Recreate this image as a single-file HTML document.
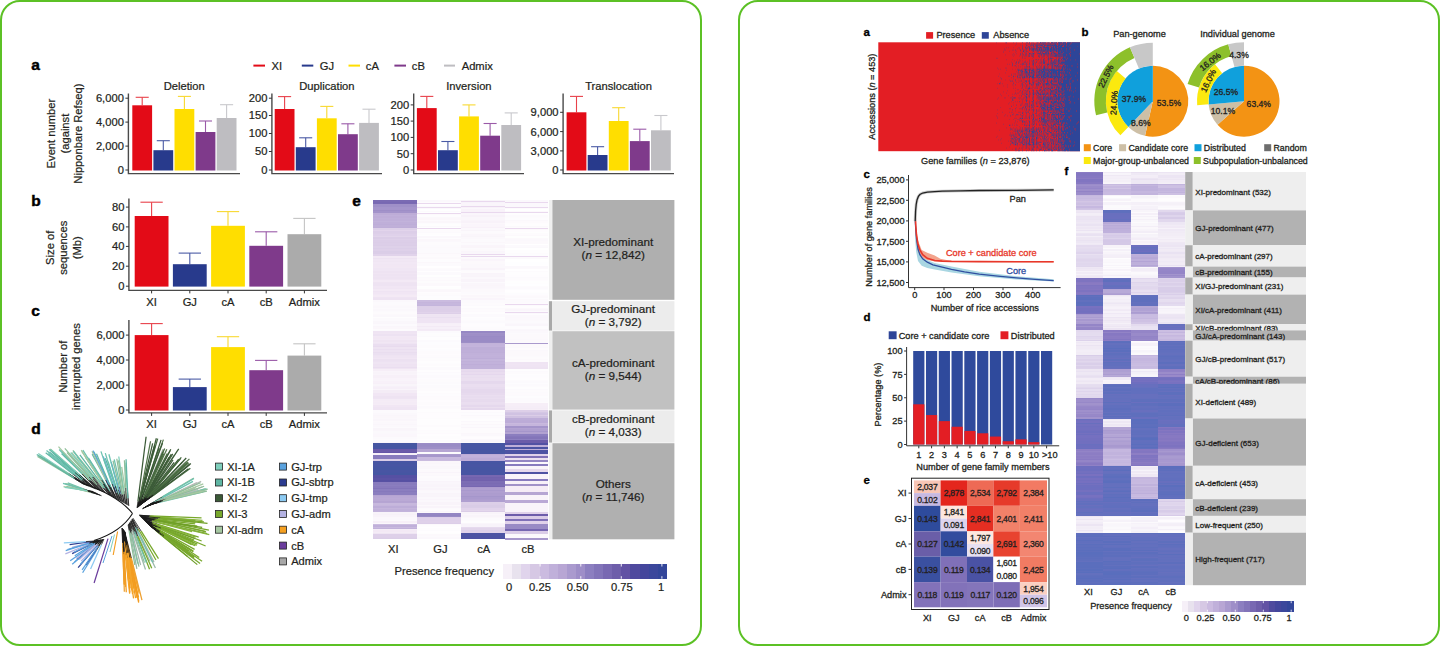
<!DOCTYPE html>
<html><head><meta charset="utf-8"><title>Figure</title>
<style>
html,body{margin:0;padding:0;background:#fff;}
body{width:1440px;height:646px;overflow:hidden;position:relative;}
.card{position:absolute;top:0;width:698px;height:642px;border:2px solid #5cc125;border-radius:20px;background:#fff;}
svg{position:absolute;left:0;top:0;}
svg text{font-family:"Liberation Sans", Arial, sans-serif;}
</style></head><body>
<div class="card" style="left:0"></div>
<div class="card" style="left:738px"></div>
<svg width="1440" height="646" viewBox="0 0 1440 646">
<text x="31.3" y="70.0" font-size="15.5" text-anchor="start" font-weight="bold" fill="#000" stroke="#000" stroke-width="0.45">a</text>
<text x="31.3" y="205.6" font-size="15.5" text-anchor="start" font-weight="bold" fill="#000" stroke="#000" stroke-width="0.45">b</text>
<text x="31.3" y="316.0" font-size="15.5" text-anchor="start" font-weight="bold" fill="#000" stroke="#000" stroke-width="0.45">c</text>
<text x="31.3" y="434.4" font-size="15.5" text-anchor="start" font-weight="bold" fill="#000" stroke="#000" stroke-width="0.45">d</text>
<text x="352.3" y="206.0" font-size="15.5" text-anchor="start" font-weight="bold" fill="#000" stroke="#000" stroke-width="0.45">e</text>
<line x1="253.40" y1="65.60" x2="265.00" y2="65.60" stroke="#e30b17" stroke-width="2"/>
<text x="271.5" y="69.6" font-size="11.2" text-anchor="start" font-weight="normal" fill="#231f20" stroke="#231f20" stroke-width="0.22">XI</text>
<line x1="301.80" y1="65.60" x2="313.30" y2="65.60" stroke="#283a8c" stroke-width="2"/>
<text x="319.8" y="69.6" font-size="11.2" text-anchor="start" font-weight="normal" fill="#231f20" stroke="#231f20" stroke-width="0.22">GJ</text>
<line x1="348.50" y1="65.60" x2="360.00" y2="65.60" stroke="#ffde00" stroke-width="2"/>
<text x="365.8" y="69.6" font-size="11.2" text-anchor="start" font-weight="normal" fill="#231f20" stroke="#231f20" stroke-width="0.22">cA</text>
<line x1="394.40" y1="65.60" x2="406.00" y2="65.60" stroke="#7f3a8b" stroke-width="2"/>
<text x="411.8" y="69.6" font-size="11.2" text-anchor="start" font-weight="normal" fill="#231f20" stroke="#231f20" stroke-width="0.22">cB</text>
<line x1="444.00" y1="65.60" x2="455.00" y2="65.60" stroke="#bebdc1" stroke-width="2"/>
<text x="461.7" y="69.6" font-size="11.2" text-anchor="start" font-weight="normal" fill="#231f20" stroke="#231f20" stroke-width="0.22">Admix</text>
<line x1="142.20" y1="105.30" x2="142.20" y2="97.30" stroke="#e8414a" stroke-width="1.1"/>
<line x1="135.67" y1="97.30" x2="148.73" y2="97.30" stroke="#e8414a" stroke-width="1.1"/>
<rect x="132.30" y="105.30" width="19.80" height="65.20" fill="#e30b17"/>
<line x1="163.30" y1="150.20" x2="163.30" y2="140.70" stroke="#4a5aa5" stroke-width="1.1"/>
<line x1="156.77" y1="140.70" x2="169.83" y2="140.70" stroke="#4a5aa5" stroke-width="1.1"/>
<rect x="153.40" y="150.20" width="19.80" height="20.30" fill="#283a8c"/>
<line x1="184.40" y1="109.00" x2="184.40" y2="96.40" stroke="#f8d830" stroke-width="1.1"/>
<line x1="177.87" y1="96.40" x2="190.93" y2="96.40" stroke="#f8d830" stroke-width="1.1"/>
<rect x="174.50" y="109.00" width="19.80" height="61.50" fill="#ffde00"/>
<line x1="205.50" y1="132.00" x2="205.50" y2="121.00" stroke="#9a5aa8" stroke-width="1.1"/>
<line x1="198.97" y1="121.00" x2="212.03" y2="121.00" stroke="#9a5aa8" stroke-width="1.1"/>
<rect x="195.60" y="132.00" width="19.80" height="38.50" fill="#7f3a8b"/>
<line x1="226.60" y1="118.00" x2="226.60" y2="104.70" stroke="#c8c8cc" stroke-width="1.1"/>
<line x1="220.07" y1="104.70" x2="233.13" y2="104.70" stroke="#c8c8cc" stroke-width="1.1"/>
<rect x="216.70" y="118.00" width="19.80" height="52.50" fill="#bebdc1"/>
<path d="M128.40 93.40V173.60H240.00" fill="none" stroke="#4a4a4a" stroke-width="1.4"/>
<line x1="125.40" y1="98.20" x2="128.40" y2="98.20" stroke="#333" stroke-width="1"/>
<text x="123.9" y="102.1" font-size="11.2" text-anchor="end" font-weight="normal" fill="#231f20" stroke="#231f20" stroke-width="0.22">6,000</text>
<line x1="125.40" y1="122.10" x2="128.40" y2="122.10" stroke="#333" stroke-width="1"/>
<text x="123.9" y="126.0" font-size="11.2" text-anchor="end" font-weight="normal" fill="#231f20" stroke="#231f20" stroke-width="0.22">4,000</text>
<line x1="125.40" y1="146.10" x2="128.40" y2="146.10" stroke="#333" stroke-width="1"/>
<text x="123.9" y="150.0" font-size="11.2" text-anchor="end" font-weight="normal" fill="#231f20" stroke="#231f20" stroke-width="0.22">2,000</text>
<line x1="125.40" y1="170.00" x2="128.40" y2="170.00" stroke="#333" stroke-width="1"/>
<text x="123.9" y="173.9" font-size="11.2" text-anchor="end" font-weight="normal" fill="#231f20" stroke="#231f20" stroke-width="0.22">0</text>
<text x="184.2" y="89.8" font-size="11.2" text-anchor="middle" font-weight="normal" fill="#231f20" stroke="#231f20" stroke-width="0.22">Deletion</text>
<line x1="284.60" y1="109.00" x2="284.60" y2="96.60" stroke="#e8414a" stroke-width="1.1"/>
<line x1="278.07" y1="96.60" x2="291.13" y2="96.60" stroke="#e8414a" stroke-width="1.1"/>
<rect x="274.70" y="109.00" width="19.80" height="61.50" fill="#e30b17"/>
<line x1="305.70" y1="147.20" x2="305.70" y2="137.80" stroke="#4a5aa5" stroke-width="1.1"/>
<line x1="299.17" y1="137.80" x2="312.23" y2="137.80" stroke="#4a5aa5" stroke-width="1.1"/>
<rect x="295.80" y="147.20" width="19.80" height="23.30" fill="#283a8c"/>
<line x1="326.80" y1="118.30" x2="326.80" y2="106.40" stroke="#f8d830" stroke-width="1.1"/>
<line x1="320.27" y1="106.40" x2="333.33" y2="106.40" stroke="#f8d830" stroke-width="1.1"/>
<rect x="316.90" y="118.30" width="19.80" height="52.20" fill="#ffde00"/>
<line x1="347.90" y1="134.20" x2="347.90" y2="123.80" stroke="#9a5aa8" stroke-width="1.1"/>
<line x1="341.37" y1="123.80" x2="354.43" y2="123.80" stroke="#9a5aa8" stroke-width="1.1"/>
<rect x="338.00" y="134.20" width="19.80" height="36.30" fill="#7f3a8b"/>
<line x1="369.00" y1="122.90" x2="369.00" y2="109.20" stroke="#c8c8cc" stroke-width="1.1"/>
<line x1="362.47" y1="109.20" x2="375.53" y2="109.20" stroke="#c8c8cc" stroke-width="1.1"/>
<rect x="359.10" y="122.90" width="19.80" height="47.60" fill="#bebdc1"/>
<path d="M271.90 93.40V173.60H382.00" fill="none" stroke="#4a4a4a" stroke-width="1.4"/>
<line x1="268.90" y1="98.20" x2="271.90" y2="98.20" stroke="#333" stroke-width="1"/>
<text x="267.4" y="102.1" font-size="11.2" text-anchor="end" font-weight="normal" fill="#231f20" stroke="#231f20" stroke-width="0.22">200</text>
<line x1="268.90" y1="115.50" x2="271.90" y2="115.50" stroke="#333" stroke-width="1"/>
<text x="267.4" y="119.4" font-size="11.2" text-anchor="end" font-weight="normal" fill="#231f20" stroke="#231f20" stroke-width="0.22">150</text>
<line x1="268.90" y1="133.50" x2="271.90" y2="133.50" stroke="#333" stroke-width="1"/>
<text x="267.4" y="137.4" font-size="11.2" text-anchor="end" font-weight="normal" fill="#231f20" stroke="#231f20" stroke-width="0.22">100</text>
<line x1="268.90" y1="151.50" x2="271.90" y2="151.50" stroke="#333" stroke-width="1"/>
<text x="267.4" y="155.4" font-size="11.2" text-anchor="end" font-weight="normal" fill="#231f20" stroke="#231f20" stroke-width="0.22">50</text>
<line x1="268.90" y1="170.00" x2="271.90" y2="170.00" stroke="#333" stroke-width="1"/>
<text x="267.4" y="173.9" font-size="11.2" text-anchor="end" font-weight="normal" fill="#231f20" stroke="#231f20" stroke-width="0.22">0</text>
<text x="326.9" y="89.8" font-size="11.2" text-anchor="middle" font-weight="normal" fill="#231f20" stroke="#231f20" stroke-width="0.22">Duplication</text>
<line x1="426.80" y1="108.10" x2="426.80" y2="96.40" stroke="#e8414a" stroke-width="1.1"/>
<line x1="420.27" y1="96.40" x2="433.33" y2="96.40" stroke="#e8414a" stroke-width="1.1"/>
<rect x="416.90" y="108.10" width="19.80" height="62.40" fill="#e30b17"/>
<line x1="447.90" y1="150.20" x2="447.90" y2="141.50" stroke="#4a5aa5" stroke-width="1.1"/>
<line x1="441.37" y1="141.50" x2="454.43" y2="141.50" stroke="#4a5aa5" stroke-width="1.1"/>
<rect x="438.00" y="150.20" width="19.80" height="20.30" fill="#283a8c"/>
<line x1="469.00" y1="116.40" x2="469.00" y2="104.90" stroke="#f8d830" stroke-width="1.1"/>
<line x1="462.47" y1="104.90" x2="475.53" y2="104.90" stroke="#f8d830" stroke-width="1.1"/>
<rect x="459.10" y="116.40" width="19.80" height="54.10" fill="#ffde00"/>
<line x1="490.10" y1="135.70" x2="490.10" y2="123.50" stroke="#9a5aa8" stroke-width="1.1"/>
<line x1="483.57" y1="123.50" x2="496.63" y2="123.50" stroke="#9a5aa8" stroke-width="1.1"/>
<rect x="480.20" y="135.70" width="19.80" height="34.80" fill="#7f3a8b"/>
<line x1="511.20" y1="125.00" x2="511.20" y2="112.90" stroke="#c8c8cc" stroke-width="1.1"/>
<line x1="504.67" y1="112.90" x2="517.73" y2="112.90" stroke="#c8c8cc" stroke-width="1.1"/>
<rect x="501.30" y="125.00" width="19.80" height="45.50" fill="#bebdc1"/>
<path d="M413.70 93.40V173.60H524.00" fill="none" stroke="#4a4a4a" stroke-width="1.4"/>
<line x1="410.70" y1="104.90" x2="413.70" y2="104.90" stroke="#333" stroke-width="1"/>
<text x="409.2" y="108.8" font-size="11.2" text-anchor="end" font-weight="normal" fill="#231f20" stroke="#231f20" stroke-width="0.22">200</text>
<line x1="410.70" y1="121.10" x2="413.70" y2="121.10" stroke="#333" stroke-width="1"/>
<text x="409.2" y="125.0" font-size="11.2" text-anchor="end" font-weight="normal" fill="#231f20" stroke="#231f20" stroke-width="0.22">150</text>
<line x1="410.70" y1="137.40" x2="413.70" y2="137.40" stroke="#333" stroke-width="1"/>
<text x="409.2" y="141.3" font-size="11.2" text-anchor="end" font-weight="normal" fill="#231f20" stroke="#231f20" stroke-width="0.22">100</text>
<line x1="410.70" y1="153.70" x2="413.70" y2="153.70" stroke="#333" stroke-width="1"/>
<text x="409.2" y="157.6" font-size="11.2" text-anchor="end" font-weight="normal" fill="#231f20" stroke="#231f20" stroke-width="0.22">50</text>
<line x1="410.70" y1="170.00" x2="413.70" y2="170.00" stroke="#333" stroke-width="1"/>
<text x="409.2" y="173.9" font-size="11.2" text-anchor="end" font-weight="normal" fill="#231f20" stroke="#231f20" stroke-width="0.22">0</text>
<text x="468.9" y="89.8" font-size="11.2" text-anchor="middle" font-weight="normal" fill="#231f20" stroke="#231f20" stroke-width="0.22">Inversion</text>
<line x1="576.50" y1="112.30" x2="576.50" y2="96.40" stroke="#e8414a" stroke-width="1.1"/>
<line x1="569.97" y1="96.40" x2="583.03" y2="96.40" stroke="#e8414a" stroke-width="1.1"/>
<rect x="566.60" y="112.30" width="19.80" height="58.20" fill="#e30b17"/>
<line x1="597.60" y1="155.00" x2="597.60" y2="146.70" stroke="#4a5aa5" stroke-width="1.1"/>
<line x1="591.07" y1="146.70" x2="604.13" y2="146.70" stroke="#4a5aa5" stroke-width="1.1"/>
<rect x="587.70" y="155.00" width="19.80" height="15.50" fill="#283a8c"/>
<line x1="618.70" y1="121.00" x2="618.70" y2="107.70" stroke="#f8d830" stroke-width="1.1"/>
<line x1="612.17" y1="107.70" x2="625.23" y2="107.70" stroke="#f8d830" stroke-width="1.1"/>
<rect x="608.80" y="121.00" width="19.80" height="49.50" fill="#ffde00"/>
<line x1="639.80" y1="141.10" x2="639.80" y2="129.20" stroke="#9a5aa8" stroke-width="1.1"/>
<line x1="633.27" y1="129.20" x2="646.33" y2="129.20" stroke="#9a5aa8" stroke-width="1.1"/>
<rect x="629.90" y="141.10" width="19.80" height="29.40" fill="#7f3a8b"/>
<line x1="660.90" y1="130.30" x2="660.90" y2="115.50" stroke="#c8c8cc" stroke-width="1.1"/>
<line x1="654.37" y1="115.50" x2="667.43" y2="115.50" stroke="#c8c8cc" stroke-width="1.1"/>
<rect x="651.00" y="130.30" width="19.80" height="40.20" fill="#bebdc1"/>
<path d="M563.10 93.40V173.60H674.00" fill="none" stroke="#4a4a4a" stroke-width="1.4"/>
<line x1="560.10" y1="112.30" x2="563.10" y2="112.30" stroke="#333" stroke-width="1"/>
<text x="558.6" y="116.2" font-size="11.2" text-anchor="end" font-weight="normal" fill="#231f20" stroke="#231f20" stroke-width="0.22">9,000</text>
<line x1="560.10" y1="131.60" x2="563.10" y2="131.60" stroke="#333" stroke-width="1"/>
<text x="558.6" y="135.5" font-size="11.2" text-anchor="end" font-weight="normal" fill="#231f20" stroke="#231f20" stroke-width="0.22">6,000</text>
<line x1="560.10" y1="150.90" x2="563.10" y2="150.90" stroke="#333" stroke-width="1"/>
<text x="558.6" y="154.8" font-size="11.2" text-anchor="end" font-weight="normal" fill="#231f20" stroke="#231f20" stroke-width="0.22">3,000</text>
<line x1="560.10" y1="170.00" x2="563.10" y2="170.00" stroke="#333" stroke-width="1"/>
<text x="558.6" y="173.9" font-size="11.2" text-anchor="end" font-weight="normal" fill="#231f20" stroke="#231f20" stroke-width="0.22">0</text>
<text x="618.5" y="89.8" font-size="11.2" text-anchor="middle" font-weight="normal" fill="#231f20" stroke="#231f20" stroke-width="0.22">Translocation</text>
<text transform="translate(55.2,133.6) rotate(-90)" font-size="11.2" text-anchor="middle" fill="#231f20" stroke="#231f20" stroke-width="0.22">Event number</text>
<text transform="translate(68.8,133.6) rotate(-90)" font-size="11.2" text-anchor="middle" fill="#231f20" stroke="#231f20" stroke-width="0.22">(against</text>
<text transform="translate(82.4,133.6) rotate(-90)" font-size="11.2" text-anchor="middle" fill="#231f20" stroke="#231f20" stroke-width="0.22">Nipponbare Refseq)</text>
<line x1="151.60" y1="216.00" x2="151.60" y2="202.20" stroke="#e8414a" stroke-width="1.1"/>
<line x1="140.45" y1="202.20" x2="162.75" y2="202.20" stroke="#e8414a" stroke-width="1.1"/>
<rect x="134.70" y="216.00" width="33.80" height="70.60" fill="#e30b17"/>
<line x1="189.80" y1="264.20" x2="189.80" y2="253.10" stroke="#4a5aa5" stroke-width="1.1"/>
<line x1="178.65" y1="253.10" x2="200.95" y2="253.10" stroke="#4a5aa5" stroke-width="1.1"/>
<rect x="172.90" y="264.20" width="33.80" height="22.40" fill="#283a8c"/>
<line x1="228.00" y1="225.80" x2="228.00" y2="211.60" stroke="#f8d830" stroke-width="1.1"/>
<line x1="216.85" y1="211.60" x2="239.15" y2="211.60" stroke="#f8d830" stroke-width="1.1"/>
<rect x="211.10" y="225.80" width="33.80" height="60.80" fill="#ffde00"/>
<line x1="266.20" y1="245.80" x2="266.20" y2="231.80" stroke="#9a5aa8" stroke-width="1.1"/>
<line x1="255.05" y1="231.80" x2="277.35" y2="231.80" stroke="#9a5aa8" stroke-width="1.1"/>
<rect x="249.30" y="245.80" width="33.80" height="40.80" fill="#7f3a8b"/>
<line x1="304.40" y1="234.20" x2="304.40" y2="218.40" stroke="#c4c4c4" stroke-width="1.1"/>
<line x1="293.25" y1="218.40" x2="315.55" y2="218.40" stroke="#c4c4c4" stroke-width="1.1"/>
<rect x="287.50" y="234.20" width="33.80" height="52.40" fill="#ababab"/>
<path d="M128.90 198.40V290.40H327.00" fill="none" stroke="#4a4a4a" stroke-width="1.4"/>
<line x1="125.90" y1="207.10" x2="128.90" y2="207.10" stroke="#333" stroke-width="1"/>
<text x="124.4" y="211.0" font-size="11.2" text-anchor="end" font-weight="normal" fill="#231f20" stroke="#231f20" stroke-width="0.22">80</text>
<line x1="125.90" y1="226.90" x2="128.90" y2="226.90" stroke="#333" stroke-width="1"/>
<text x="124.4" y="230.8" font-size="11.2" text-anchor="end" font-weight="normal" fill="#231f20" stroke="#231f20" stroke-width="0.22">60</text>
<line x1="125.90" y1="246.40" x2="128.90" y2="246.40" stroke="#333" stroke-width="1"/>
<text x="124.4" y="250.3" font-size="11.2" text-anchor="end" font-weight="normal" fill="#231f20" stroke="#231f20" stroke-width="0.22">40</text>
<line x1="125.90" y1="266.20" x2="128.90" y2="266.20" stroke="#333" stroke-width="1"/>
<text x="124.4" y="270.1" font-size="11.2" text-anchor="end" font-weight="normal" fill="#231f20" stroke="#231f20" stroke-width="0.22">20</text>
<line x1="125.90" y1="286.20" x2="128.90" y2="286.20" stroke="#333" stroke-width="1"/>
<text x="124.4" y="290.1" font-size="11.2" text-anchor="end" font-weight="normal" fill="#231f20" stroke="#231f20" stroke-width="0.22">0</text>
<line x1="151.60" y1="290.40" x2="151.60" y2="293.40" stroke="#333" stroke-width="1"/>
<text x="151.6" y="305.6" font-size="11.2" text-anchor="middle" font-weight="normal" fill="#231f20" stroke="#231f20" stroke-width="0.22">XI</text>
<line x1="189.80" y1="290.40" x2="189.80" y2="293.40" stroke="#333" stroke-width="1"/>
<text x="189.8" y="305.6" font-size="11.2" text-anchor="middle" font-weight="normal" fill="#231f20" stroke="#231f20" stroke-width="0.22">GJ</text>
<line x1="228.00" y1="290.40" x2="228.00" y2="293.40" stroke="#333" stroke-width="1"/>
<text x="228.0" y="305.6" font-size="11.2" text-anchor="middle" font-weight="normal" fill="#231f20" stroke="#231f20" stroke-width="0.22">cA</text>
<line x1="266.20" y1="290.40" x2="266.20" y2="293.40" stroke="#333" stroke-width="1"/>
<text x="266.2" y="305.6" font-size="11.2" text-anchor="middle" font-weight="normal" fill="#231f20" stroke="#231f20" stroke-width="0.22">cB</text>
<line x1="304.40" y1="290.40" x2="304.40" y2="293.40" stroke="#333" stroke-width="1"/>
<text x="304.4" y="305.6" font-size="11.2" text-anchor="middle" font-weight="normal" fill="#231f20" stroke="#231f20" stroke-width="0.22">Admix</text>
<text transform="translate(53.8,247.8) rotate(-90)" font-size="11.2" text-anchor="middle" fill="#231f20" stroke="#231f20" stroke-width="0.22">Size of</text>
<text transform="translate(67.4,247.8) rotate(-90)" font-size="11.2" text-anchor="middle" fill="#231f20" stroke="#231f20" stroke-width="0.22">sequences</text>
<text transform="translate(81.0,247.8) rotate(-90)" font-size="11.2" text-anchor="middle" fill="#231f20" stroke="#231f20" stroke-width="0.22">(Mb)</text>
<line x1="151.60" y1="335.10" x2="151.60" y2="323.60" stroke="#e8414a" stroke-width="1.1"/>
<line x1="140.45" y1="323.60" x2="162.75" y2="323.60" stroke="#e8414a" stroke-width="1.1"/>
<rect x="134.70" y="335.10" width="33.80" height="75.40" fill="#e30b17"/>
<line x1="189.80" y1="387.10" x2="189.80" y2="379.10" stroke="#4a5aa5" stroke-width="1.1"/>
<line x1="178.65" y1="379.10" x2="200.95" y2="379.10" stroke="#4a5aa5" stroke-width="1.1"/>
<rect x="172.90" y="387.10" width="33.80" height="23.40" fill="#283a8c"/>
<line x1="228.00" y1="347.10" x2="228.00" y2="336.70" stroke="#f8d830" stroke-width="1.1"/>
<line x1="216.85" y1="336.70" x2="239.15" y2="336.70" stroke="#f8d830" stroke-width="1.1"/>
<rect x="211.10" y="347.10" width="33.80" height="63.40" fill="#ffde00"/>
<line x1="266.20" y1="370.20" x2="266.20" y2="360.40" stroke="#9a5aa8" stroke-width="1.1"/>
<line x1="255.05" y1="360.40" x2="277.35" y2="360.40" stroke="#9a5aa8" stroke-width="1.1"/>
<rect x="249.30" y="370.20" width="33.80" height="40.30" fill="#7f3a8b"/>
<line x1="304.40" y1="355.60" x2="304.40" y2="343.80" stroke="#c4c4c4" stroke-width="1.1"/>
<line x1="293.25" y1="343.80" x2="315.55" y2="343.80" stroke="#c4c4c4" stroke-width="1.1"/>
<rect x="287.50" y="355.60" width="33.80" height="54.90" fill="#ababab"/>
<path d="M128.90 320.00V412.90H327.00" fill="none" stroke="#4a4a4a" stroke-width="1.4"/>
<line x1="125.90" y1="335.10" x2="128.90" y2="335.10" stroke="#333" stroke-width="1"/>
<text x="124.4" y="339.0" font-size="11.2" text-anchor="end" font-weight="normal" fill="#231f20" stroke="#231f20" stroke-width="0.22">6,000</text>
<line x1="125.90" y1="360.00" x2="128.90" y2="360.00" stroke="#333" stroke-width="1"/>
<text x="124.4" y="363.9" font-size="11.2" text-anchor="end" font-weight="normal" fill="#231f20" stroke="#231f20" stroke-width="0.22">4,000</text>
<line x1="125.90" y1="385.10" x2="128.90" y2="385.10" stroke="#333" stroke-width="1"/>
<text x="124.4" y="389.0" font-size="11.2" text-anchor="end" font-weight="normal" fill="#231f20" stroke="#231f20" stroke-width="0.22">2,000</text>
<line x1="125.90" y1="410.00" x2="128.90" y2="410.00" stroke="#333" stroke-width="1"/>
<text x="124.4" y="413.9" font-size="11.2" text-anchor="end" font-weight="normal" fill="#231f20" stroke="#231f20" stroke-width="0.22">0</text>
<line x1="151.60" y1="412.90" x2="151.60" y2="415.90" stroke="#333" stroke-width="1"/>
<text x="151.6" y="428.4" font-size="11.2" text-anchor="middle" font-weight="normal" fill="#231f20" stroke="#231f20" stroke-width="0.22">XI</text>
<line x1="189.80" y1="412.90" x2="189.80" y2="415.90" stroke="#333" stroke-width="1"/>
<text x="189.8" y="428.4" font-size="11.2" text-anchor="middle" font-weight="normal" fill="#231f20" stroke="#231f20" stroke-width="0.22">GJ</text>
<line x1="228.00" y1="412.90" x2="228.00" y2="415.90" stroke="#333" stroke-width="1"/>
<text x="228.0" y="428.4" font-size="11.2" text-anchor="middle" font-weight="normal" fill="#231f20" stroke="#231f20" stroke-width="0.22">cA</text>
<line x1="266.20" y1="412.90" x2="266.20" y2="415.90" stroke="#333" stroke-width="1"/>
<text x="266.2" y="428.4" font-size="11.2" text-anchor="middle" font-weight="normal" fill="#231f20" stroke="#231f20" stroke-width="0.22">cB</text>
<line x1="304.40" y1="412.90" x2="304.40" y2="415.90" stroke="#333" stroke-width="1"/>
<text x="304.4" y="428.4" font-size="11.2" text-anchor="middle" font-weight="normal" fill="#231f20" stroke="#231f20" stroke-width="0.22">Admix</text>
<text transform="translate(66.6,366.7) rotate(-90)" font-size="11.2" text-anchor="middle" fill="#231f20" stroke="#231f20" stroke-width="0.22">Number of</text>
<text transform="translate(80.2,366.7) rotate(-90)" font-size="11.2" text-anchor="middle" fill="#231f20" stroke="#231f20" stroke-width="0.22">interrupted genes</text>
<path d="M132.5 513.5 Q119 496 82 483" fill="none" stroke="#111" stroke-width="1.1"/>
<path d="M132.5 513.5 Q121 532 94 540.5" fill="none" stroke="#111" stroke-width="1.1"/>
<line x1="128.82" y1="505.90" x2="127.47" y2="490.82" stroke="#1a1a1a" stroke-width="0.8"/>
<line x1="127.47" y1="490.82" x2="124.93" y2="462.47" stroke="#7fcfbc" stroke-width="1.25"/>
<line x1="128.25" y1="505.57" x2="127.90" y2="498.19" stroke="#1a1a1a" stroke-width="0.8"/>
<line x1="127.90" y1="498.19" x2="126.06" y2="459.17" stroke="#5fb6a4" stroke-width="1.25"/>
<line x1="127.36" y1="505.06" x2="126.43" y2="498.78" stroke="#1a1a1a" stroke-width="0.8"/>
<line x1="126.43" y1="498.78" x2="121.70" y2="466.79" stroke="#a6c8a2" stroke-width="1.25"/>
<line x1="126.58" y1="504.62" x2="125.77" y2="487.86" stroke="#1a1a1a" stroke-width="0.8"/>
<line x1="125.77" y1="487.86" x2="124.42" y2="460.21" stroke="#8fbf9a" stroke-width="1.25"/>
<line x1="125.88" y1="504.22" x2="123.86" y2="490.68" stroke="#1a1a1a" stroke-width="0.8"/>
<line x1="123.86" y1="490.68" x2="118.76" y2="456.49" stroke="#7fcfbc" stroke-width="1.25"/>
<line x1="125.43" y1="503.96" x2="123.86" y2="494.20" stroke="#1a1a1a" stroke-width="0.8"/>
<line x1="123.86" y1="494.20" x2="118.44" y2="460.41" stroke="#8fbf9a" stroke-width="1.25"/>
<line x1="124.34" y1="503.34" x2="122.37" y2="494.78" stroke="#1a1a1a" stroke-width="0.8"/>
<line x1="122.37" y1="494.78" x2="114.23" y2="459.46" stroke="#6cc2b0" stroke-width="1.25"/>
<line x1="124.05" y1="503.17" x2="122.60" y2="494.31" stroke="#1a1a1a" stroke-width="0.8"/>
<line x1="122.60" y1="494.31" x2="116.80" y2="458.75" stroke="#8fbf9a" stroke-width="1.25"/>
<line x1="123.02" y1="502.58" x2="119.32" y2="487.04" stroke="#1a1a1a" stroke-width="0.8"/>
<line x1="119.32" y1="487.04" x2="113.05" y2="460.76" stroke="#8fbf9a" stroke-width="1.25"/>
<line x1="122.50" y1="502.28" x2="120.12" y2="493.88" stroke="#1a1a1a" stroke-width="0.8"/>
<line x1="120.12" y1="493.88" x2="111.11" y2="461.97" stroke="#5aa2de" stroke-width="1.25"/>
<line x1="121.68" y1="501.82" x2="118.38" y2="489.56" stroke="#1a1a1a" stroke-width="0.8"/>
<line x1="118.38" y1="489.56" x2="108.90" y2="454.27" stroke="#6cc2b0" stroke-width="1.25"/>
<line x1="120.96" y1="501.41" x2="115.75" y2="487.08" stroke="#1a1a1a" stroke-width="0.8"/>
<line x1="115.75" y1="487.08" x2="105.27" y2="458.22" stroke="#5fb6a4" stroke-width="1.25"/>
<line x1="120.51" y1="501.15" x2="118.42" y2="494.49" stroke="#1a1a1a" stroke-width="0.8"/>
<line x1="118.42" y1="494.49" x2="108.10" y2="461.62" stroke="#6cc2b0" stroke-width="1.25"/>
<line x1="119.59" y1="500.62" x2="115.06" y2="485.55" stroke="#1a1a1a" stroke-width="0.8"/>
<line x1="115.06" y1="485.55" x2="105.30" y2="453.06" stroke="#6cc2b0" stroke-width="1.25"/>
<line x1="118.87" y1="500.21" x2="116.17" y2="492.68" stroke="#1a1a1a" stroke-width="0.8"/>
<line x1="116.17" y1="492.68" x2="103.23" y2="456.54" stroke="#5aa2de" stroke-width="1.25"/>
<line x1="118.35" y1="499.91" x2="113.76" y2="487.11" stroke="#1a1a1a" stroke-width="0.8"/>
<line x1="113.76" y1="487.11" x2="103.95" y2="459.69" stroke="#6cc2b0" stroke-width="1.25"/>
<line x1="117.44" y1="499.39" x2="112.13" y2="483.95" stroke="#1a1a1a" stroke-width="0.8"/>
<line x1="112.13" y1="483.95" x2="100.94" y2="451.42" stroke="#6cc2b0" stroke-width="1.25"/>
<line x1="116.60" y1="498.92" x2="112.29" y2="489.94" stroke="#1a1a1a" stroke-width="0.8"/>
<line x1="112.29" y1="489.94" x2="93.95" y2="451.76" stroke="#6cc2b0" stroke-width="1.25"/>
<line x1="116.33" y1="498.76" x2="108.43" y2="484.17" stroke="#1a1a1a" stroke-width="0.8"/>
<line x1="108.43" y1="484.17" x2="92.18" y2="454.17" stroke="#5fb6a4" stroke-width="1.25"/>
<line x1="115.48" y1="498.27" x2="110.57" y2="486.80" stroke="#1a1a1a" stroke-width="0.8"/>
<line x1="110.57" y1="486.80" x2="96.46" y2="453.76" stroke="#5fb6a4" stroke-width="1.25"/>
<line x1="114.69" y1="497.82" x2="108.53" y2="484.51" stroke="#1a1a1a" stroke-width="0.8"/>
<line x1="108.53" y1="484.51" x2="92.86" y2="450.62" stroke="#5aa2de" stroke-width="1.25"/>
<line x1="113.90" y1="497.37" x2="105.58" y2="479.87" stroke="#1a1a1a" stroke-width="0.8"/>
<line x1="105.58" y1="479.87" x2="92.00" y2="451.30" stroke="#a6c8a2" stroke-width="1.25"/>
<line x1="113.52" y1="497.15" x2="109.67" y2="491.14" stroke="#1a1a1a" stroke-width="0.8"/>
<line x1="109.67" y1="491.14" x2="88.35" y2="457.82" stroke="#5fb6a4" stroke-width="1.25"/>
<line x1="112.43" y1="496.53" x2="105.66" y2="486.69" stroke="#1a1a1a" stroke-width="0.8"/>
<line x1="105.66" y1="486.69" x2="85.40" y2="457.22" stroke="#5fb6a4" stroke-width="1.25"/>
<line x1="111.99" y1="496.28" x2="101.61" y2="479.82" stroke="#1a1a1a" stroke-width="0.8"/>
<line x1="101.61" y1="479.82" x2="82.85" y2="450.08" stroke="#6cc2b0" stroke-width="1.25"/>
<line x1="110.97" y1="495.70" x2="100.30" y2="479.51" stroke="#1a1a1a" stroke-width="0.8"/>
<line x1="100.30" y1="479.51" x2="81.81" y2="451.46" stroke="#a6c8a2" stroke-width="1.25"/>
<line x1="110.36" y1="495.35" x2="103.21" y2="484.23" stroke="#1a1a1a" stroke-width="0.8"/>
<line x1="103.21" y1="484.23" x2="81.25" y2="450.05" stroke="#a6c8a2" stroke-width="1.25"/>
<line x1="109.88" y1="495.07" x2="104.90" y2="488.40" stroke="#1a1a1a" stroke-width="0.8"/>
<line x1="104.90" y1="488.40" x2="79.90" y2="454.92" stroke="#5fb6a4" stroke-width="1.25"/>
<line x1="109.28" y1="494.73" x2="103.65" y2="488.11" stroke="#1a1a1a" stroke-width="0.8"/>
<line x1="103.65" y1="488.11" x2="77.03" y2="456.81" stroke="#7fcfbc" stroke-width="1.25"/>
<line x1="108.38" y1="494.22" x2="102.85" y2="487.39" stroke="#1a1a1a" stroke-width="0.8"/>
<line x1="102.85" y1="487.39" x2="72.94" y2="450.47" stroke="#8fbf9a" stroke-width="1.25"/>
<line x1="105.38" y1="492.76" x2="93.22" y2="477.02" stroke="#1a1a1a" stroke-width="0.8"/>
<line x1="93.22" y1="477.02" x2="73.33" y2="451.26" stroke="#6cc2b0" stroke-width="1.25"/>
<line x1="104.69" y1="492.49" x2="91.85" y2="476.88" stroke="#1a1a1a" stroke-width="0.8"/>
<line x1="91.85" y1="476.88" x2="71.62" y2="452.31" stroke="#a6c8a2" stroke-width="1.25"/>
<line x1="103.90" y1="492.18" x2="92.91" y2="479.14" stroke="#1a1a1a" stroke-width="0.8"/>
<line x1="92.91" y1="479.14" x2="70.59" y2="452.67" stroke="#7fcfbc" stroke-width="1.25"/>
<line x1="102.82" y1="491.76" x2="96.92" y2="485.01" stroke="#1a1a1a" stroke-width="0.8"/>
<line x1="96.92" y1="485.01" x2="64.84" y2="448.39" stroke="#8fbf9a" stroke-width="1.25"/>
<line x1="101.79" y1="491.35" x2="88.96" y2="477.01" stroke="#1a1a1a" stroke-width="0.8"/>
<line x1="88.96" y1="477.01" x2="67.06" y2="452.51" stroke="#8fbf9a" stroke-width="1.25"/>
<line x1="101.04" y1="491.06" x2="88.40" y2="478.14" stroke="#1a1a1a" stroke-width="0.8"/>
<line x1="88.40" y1="478.14" x2="61.19" y2="450.31" stroke="#7fcfbc" stroke-width="1.25"/>
<line x1="100.51" y1="490.85" x2="90.38" y2="480.48" stroke="#1a1a1a" stroke-width="0.8"/>
<line x1="90.38" y1="480.48" x2="64.04" y2="453.51" stroke="#5fb6a4" stroke-width="1.25"/>
<line x1="99.26" y1="490.36" x2="86.29" y2="477.76" stroke="#1a1a1a" stroke-width="0.8"/>
<line x1="86.29" y1="477.76" x2="61.51" y2="453.67" stroke="#5fb6a4" stroke-width="1.25"/>
<line x1="98.34" y1="490.00" x2="88.65" y2="479.75" stroke="#1a1a1a" stroke-width="0.8"/>
<line x1="88.65" y1="479.75" x2="62.20" y2="451.79" stroke="#8fbf9a" stroke-width="1.25"/>
<line x1="97.52" y1="489.68" x2="89.23" y2="480.54" stroke="#1a1a1a" stroke-width="0.8"/>
<line x1="89.23" y1="480.54" x2="58.46" y2="446.59" stroke="#a6c8a2" stroke-width="1.25"/>
<line x1="96.66" y1="489.35" x2="82.16" y2="473.94" stroke="#1a1a1a" stroke-width="0.8"/>
<line x1="82.16" y1="473.94" x2="59.19" y2="449.55" stroke="#6cc2b0" stroke-width="1.25"/>
<line x1="95.59" y1="488.93" x2="85.21" y2="479.92" stroke="#1a1a1a" stroke-width="0.8"/>
<line x1="85.21" y1="479.92" x2="56.10" y2="454.64" stroke="#5fb6a4" stroke-width="1.25"/>
<line x1="95.15" y1="488.75" x2="79.36" y2="474.80" stroke="#1a1a1a" stroke-width="0.8"/>
<line x1="79.36" y1="474.80" x2="50.26" y2="449.07" stroke="#8fbf9a" stroke-width="1.25"/>
<line x1="94.16" y1="488.37" x2="79.05" y2="474.81" stroke="#1a1a1a" stroke-width="0.8"/>
<line x1="79.05" y1="474.81" x2="51.01" y2="449.66" stroke="#7fcfbc" stroke-width="1.25"/>
<line x1="93.53" y1="488.12" x2="81.83" y2="478.58" stroke="#1a1a1a" stroke-width="0.8"/>
<line x1="81.83" y1="478.58" x2="49.32" y2="452.09" stroke="#5fb6a4" stroke-width="1.25"/>
<line x1="92.60" y1="487.76" x2="82.85" y2="479.13" stroke="#1a1a1a" stroke-width="0.8"/>
<line x1="82.85" y1="479.13" x2="52.79" y2="452.53" stroke="#6cc2b0" stroke-width="1.25"/>
<line x1="91.56" y1="487.35" x2="75.05" y2="472.61" stroke="#1a1a1a" stroke-width="0.8"/>
<line x1="75.05" y1="472.61" x2="49.05" y2="449.39" stroke="#5fb6a4" stroke-width="1.25"/>
<line x1="90.94" y1="487.11" x2="83.05" y2="480.87" stroke="#1a1a1a" stroke-width="0.8"/>
<line x1="83.05" y1="480.87" x2="48.31" y2="453.41" stroke="#6cc2b0" stroke-width="1.25"/>
<line x1="89.49" y1="486.54" x2="81.44" y2="479.77" stroke="#1a1a1a" stroke-width="0.8"/>
<line x1="81.44" y1="479.77" x2="46.52" y2="450.42" stroke="#6cc2b0" stroke-width="1.25"/>
<line x1="88.80" y1="486.27" x2="73.84" y2="477.02" stroke="#1a1a1a" stroke-width="0.8"/>
<line x1="73.84" y1="477.02" x2="39.90" y2="456.04" stroke="#6cc2b0" stroke-width="1.25"/>
<line x1="87.94" y1="485.93" x2="73.22" y2="474.35" stroke="#1a1a1a" stroke-width="0.8"/>
<line x1="73.22" y1="474.35" x2="45.68" y2="452.69" stroke="#5fb6a4" stroke-width="1.25"/>
<line x1="87.27" y1="485.67" x2="72.51" y2="476.41" stroke="#1a1a1a" stroke-width="0.8"/>
<line x1="72.51" y1="476.41" x2="42.97" y2="457.88" stroke="#5fb6a4" stroke-width="1.25"/>
<line x1="86.31" y1="485.29" x2="68.61" y2="473.57" stroke="#1a1a1a" stroke-width="0.8"/>
<line x1="68.61" y1="473.57" x2="38.26" y2="453.47" stroke="#7fcfbc" stroke-width="1.25"/>
<line x1="85.40" y1="484.94" x2="73.68" y2="477.63" stroke="#1a1a1a" stroke-width="0.8"/>
<line x1="73.68" y1="477.63" x2="38.71" y2="455.80" stroke="#8fbf9a" stroke-width="1.25"/>
<line x1="84.12" y1="484.44" x2="71.42" y2="476.78" stroke="#1a1a1a" stroke-width="0.8"/>
<line x1="71.42" y1="476.78" x2="37.52" y2="456.34" stroke="#8fbf9a" stroke-width="1.25"/>
<line x1="83.27" y1="484.10" x2="74.37" y2="478.44" stroke="#1a1a1a" stroke-width="0.8"/>
<line x1="74.37" y1="478.44" x2="36.77" y2="454.52" stroke="#5fb6a4" stroke-width="1.25"/>
<line x1="101.53" y1="495.76" x2="90.92" y2="491.72" stroke="#1a1a1a" stroke-width="0.8"/>
<line x1="90.92" y1="491.72" x2="67.73" y2="482.87" stroke="#6cc2b0" stroke-width="1.25"/>
<line x1="100.22" y1="495.11" x2="94.44" y2="493.22" stroke="#1a1a1a" stroke-width="0.8"/>
<line x1="94.44" y1="493.22" x2="64.92" y2="483.56" stroke="#8fbf9a" stroke-width="1.25"/>
<line x1="99.31" y1="494.65" x2="90.72" y2="492.42" stroke="#1a1a1a" stroke-width="0.8"/>
<line x1="90.72" y1="492.42" x2="69.14" y2="486.82" stroke="#a6c8a2" stroke-width="1.25"/>
<line x1="97.49" y1="493.75" x2="85.51" y2="489.86" stroke="#1a1a1a" stroke-width="0.8"/>
<line x1="85.51" y1="489.86" x2="66.25" y2="483.62" stroke="#8fbf9a" stroke-width="1.25"/>
<line x1="96.39" y1="493.20" x2="88.02" y2="491.33" stroke="#1a1a1a" stroke-width="0.8"/>
<line x1="88.02" y1="491.33" x2="66.28" y2="486.47" stroke="#8fbf9a" stroke-width="1.25"/>
<line x1="95.27" y1="492.64" x2="83.28" y2="489.22" stroke="#1a1a1a" stroke-width="0.8"/>
<line x1="83.28" y1="489.22" x2="63.00" y2="483.43" stroke="#6cc2b0" stroke-width="1.25"/>
<line x1="93.61" y1="491.80" x2="88.21" y2="490.87" stroke="#1a1a1a" stroke-width="0.8"/>
<line x1="88.21" y1="490.87" x2="63.51" y2="486.59" stroke="#a6c8a2" stroke-width="1.25"/>
<line x1="92.81" y1="491.40" x2="87.16" y2="490.59" stroke="#1a1a1a" stroke-width="0.8"/>
<line x1="87.16" y1="490.59" x2="64.69" y2="487.33" stroke="#7fcfbc" stroke-width="1.25"/>
<line x1="137.06" y1="507.96" x2="137.89" y2="501.39" stroke="#1a1a1a" stroke-width="0.8"/>
<line x1="137.89" y1="501.39" x2="146.08" y2="436.74" stroke="#3b5a37" stroke-width="1.25"/>
<line x1="137.39" y1="507.69" x2="139.46" y2="500.18" stroke="#1a1a1a" stroke-width="0.8"/>
<line x1="139.46" y1="500.18" x2="154.29" y2="446.53" stroke="#3b5a37" stroke-width="1.25"/>
<line x1="137.54" y1="507.57" x2="140.76" y2="496.56" stroke="#1a1a1a" stroke-width="0.8"/>
<line x1="140.76" y1="496.56" x2="157.70" y2="438.67" stroke="#466a3f" stroke-width="1.25"/>
<line x1="137.86" y1="507.31" x2="139.53" y2="500.08" stroke="#1a1a1a" stroke-width="0.8"/>
<line x1="139.53" y1="500.08" x2="152.63" y2="443.48" stroke="#3b5a37" stroke-width="1.25"/>
<line x1="138.04" y1="507.17" x2="140.03" y2="496.66" stroke="#1a1a1a" stroke-width="0.8"/>
<line x1="140.03" y1="496.66" x2="150.54" y2="441.25" stroke="#53744a" stroke-width="1.25"/>
<line x1="138.21" y1="507.04" x2="139.70" y2="501.64" stroke="#1a1a1a" stroke-width="0.8"/>
<line x1="139.70" y1="501.64" x2="155.04" y2="446.11" stroke="#3b5a37" stroke-width="1.25"/>
<line x1="138.53" y1="506.78" x2="140.43" y2="499.45" stroke="#1a1a1a" stroke-width="0.8"/>
<line x1="140.43" y1="499.45" x2="156.34" y2="438.23" stroke="#3b5a37" stroke-width="1.25"/>
<line x1="138.60" y1="506.72" x2="142.16" y2="496.54" stroke="#1a1a1a" stroke-width="0.8"/>
<line x1="142.16" y1="496.54" x2="159.13" y2="447.98" stroke="#466a3f" stroke-width="1.25"/>
<line x1="138.97" y1="506.42" x2="141.24" y2="500.22" stroke="#1a1a1a" stroke-width="0.8"/>
<line x1="141.24" y1="500.22" x2="163.39" y2="439.66" stroke="#53744a" stroke-width="1.25"/>
<line x1="139.21" y1="506.23" x2="141.74" y2="499.39" stroke="#1a1a1a" stroke-width="0.8"/>
<line x1="141.74" y1="499.39" x2="162.55" y2="443.14" stroke="#3b5a37" stroke-width="1.25"/>
<line x1="139.42" y1="506.07" x2="143.48" y2="493.64" stroke="#1a1a1a" stroke-width="0.8"/>
<line x1="143.48" y1="493.64" x2="161.07" y2="439.85" stroke="#3b5a37" stroke-width="1.25"/>
<line x1="139.62" y1="505.91" x2="141.57" y2="501.51" stroke="#1a1a1a" stroke-width="0.8"/>
<line x1="141.57" y1="501.51" x2="163.13" y2="452.90" stroke="#466a3f" stroke-width="1.25"/>
<line x1="139.88" y1="505.69" x2="142.79" y2="498.62" stroke="#1a1a1a" stroke-width="0.8"/>
<line x1="142.79" y1="498.62" x2="163.10" y2="449.14" stroke="#9aa89a" stroke-width="1.25"/>
<line x1="140.12" y1="505.50" x2="144.56" y2="495.86" stroke="#1a1a1a" stroke-width="0.8"/>
<line x1="144.56" y1="495.86" x2="163.78" y2="454.07" stroke="#466a3f" stroke-width="1.25"/>
<line x1="140.36" y1="505.31" x2="143.76" y2="497.25" stroke="#1a1a1a" stroke-width="0.8"/>
<line x1="143.76" y1="497.25" x2="162.96" y2="451.72" stroke="#3b5a37" stroke-width="1.25"/>
<line x1="140.51" y1="505.20" x2="143.10" y2="499.10" stroke="#1a1a1a" stroke-width="0.8"/>
<line x1="143.10" y1="499.10" x2="164.66" y2="448.49" stroke="#466a3f" stroke-width="1.25"/>
<line x1="140.78" y1="504.97" x2="145.38" y2="497.19" stroke="#1a1a1a" stroke-width="0.8"/>
<line x1="145.38" y1="497.19" x2="169.02" y2="457.23" stroke="#3b5a37" stroke-width="1.25"/>
<line x1="140.96" y1="504.83" x2="143.23" y2="499.95" stroke="#1a1a1a" stroke-width="0.8"/>
<line x1="143.23" y1="499.95" x2="166.83" y2="449.25" stroke="#53744a" stroke-width="1.25"/>
<line x1="141.24" y1="504.61" x2="146.76" y2="494.28" stroke="#1a1a1a" stroke-width="0.8"/>
<line x1="146.76" y1="494.28" x2="170.05" y2="450.68" stroke="#53744a" stroke-width="1.25"/>
<line x1="141.37" y1="504.50" x2="145.91" y2="495.58" stroke="#1a1a1a" stroke-width="0.8"/>
<line x1="145.91" y1="495.58" x2="167.32" y2="453.51" stroke="#466a3f" stroke-width="1.25"/>
<line x1="141.67" y1="504.26" x2="147.66" y2="494.55" stroke="#1a1a1a" stroke-width="0.8"/>
<line x1="147.66" y1="494.55" x2="172.73" y2="453.88" stroke="#3b5a37" stroke-width="1.25"/>
<line x1="141.92" y1="504.06" x2="145.58" y2="497.12" stroke="#1a1a1a" stroke-width="0.8"/>
<line x1="145.58" y1="497.12" x2="170.77" y2="449.32" stroke="#3b5a37" stroke-width="1.25"/>
<line x1="142.01" y1="503.99" x2="147.00" y2="496.42" stroke="#1a1a1a" stroke-width="0.8"/>
<line x1="147.00" y1="496.42" x2="174.08" y2="455.29" stroke="#9aa89a" stroke-width="1.25"/>
<line x1="142.28" y1="503.78" x2="145.13" y2="499.06" stroke="#1a1a1a" stroke-width="0.8"/>
<line x1="145.13" y1="499.06" x2="171.60" y2="455.30" stroke="#53744a" stroke-width="1.25"/>
<line x1="142.50" y1="503.60" x2="148.04" y2="494.11" stroke="#1a1a1a" stroke-width="0.8"/>
<line x1="148.04" y1="494.11" x2="171.36" y2="454.10" stroke="#3b5a37" stroke-width="1.25"/>
<line x1="142.78" y1="503.37" x2="146.41" y2="497.86" stroke="#1a1a1a" stroke-width="0.8"/>
<line x1="146.41" y1="497.86" x2="178.70" y2="448.88" stroke="#3b5a37" stroke-width="1.25"/>
<line x1="142.94" y1="503.25" x2="147.01" y2="497.40" stroke="#1a1a1a" stroke-width="0.8"/>
<line x1="147.01" y1="497.40" x2="173.02" y2="460.01" stroke="#3b5a37" stroke-width="1.25"/>
<line x1="143.17" y1="503.06" x2="148.53" y2="496.01" stroke="#1a1a1a" stroke-width="0.8"/>
<line x1="148.53" y1="496.01" x2="174.12" y2="462.28" stroke="#3b5a37" stroke-width="1.25"/>
<line x1="143.39" y1="502.89" x2="147.32" y2="498.00" stroke="#1a1a1a" stroke-width="0.8"/>
<line x1="147.32" y1="498.00" x2="178.67" y2="459.02" stroke="#3b5a37" stroke-width="1.25"/>
<line x1="143.63" y1="502.69" x2="149.34" y2="495.87" stroke="#1a1a1a" stroke-width="0.8"/>
<line x1="149.34" y1="495.87" x2="180.68" y2="458.34" stroke="#466a3f" stroke-width="1.25"/>
<line x1="143.95" y1="502.44" x2="150.11" y2="495.97" stroke="#1a1a1a" stroke-width="0.8"/>
<line x1="150.11" y1="495.97" x2="182.11" y2="462.37" stroke="#3b5a37" stroke-width="1.25"/>
<line x1="144.14" y1="502.29" x2="147.12" y2="498.69" stroke="#1a1a1a" stroke-width="0.8"/>
<line x1="147.12" y1="498.69" x2="181.32" y2="457.46" stroke="#466a3f" stroke-width="1.25"/>
<line x1="144.42" y1="502.06" x2="148.23" y2="498.36" stroke="#1a1a1a" stroke-width="0.8"/>
<line x1="148.23" y1="498.36" x2="185.94" y2="461.69" stroke="#9aa89a" stroke-width="1.25"/>
<line x1="144.60" y1="501.92" x2="151.85" y2="494.27" stroke="#1a1a1a" stroke-width="0.8"/>
<line x1="151.85" y1="494.27" x2="186.23" y2="457.98" stroke="#3b5a37" stroke-width="1.25"/>
<line x1="144.83" y1="501.73" x2="148.49" y2="498.40" stroke="#1a1a1a" stroke-width="0.8"/>
<line x1="148.49" y1="498.40" x2="187.69" y2="462.61" stroke="#466a3f" stroke-width="1.25"/>
<line x1="144.96" y1="501.63" x2="152.76" y2="494.14" stroke="#1a1a1a" stroke-width="0.8"/>
<line x1="152.76" y1="494.14" x2="189.44" y2="458.88" stroke="#53744a" stroke-width="1.25"/>
<line x1="145.28" y1="501.37" x2="150.85" y2="496.27" stroke="#1a1a1a" stroke-width="0.8"/>
<line x1="150.85" y1="496.27" x2="186.93" y2="463.17" stroke="#466a3f" stroke-width="1.25"/>
<line x1="145.41" y1="501.27" x2="153.46" y2="494.37" stroke="#1a1a1a" stroke-width="0.8"/>
<line x1="153.46" y1="494.37" x2="189.45" y2="463.50" stroke="#9aa89a" stroke-width="1.25"/>
<line x1="145.65" y1="501.08" x2="150.18" y2="497.04" stroke="#1a1a1a" stroke-width="0.8"/>
<line x1="150.18" y1="497.04" x2="188.64" y2="462.75" stroke="#53744a" stroke-width="1.25"/>
<line x1="145.88" y1="500.90" x2="150.17" y2="496.92" stroke="#1a1a1a" stroke-width="0.8"/>
<line x1="150.17" y1="496.92" x2="187.69" y2="462.15" stroke="#466a3f" stroke-width="1.25"/>
<line x1="146.21" y1="500.63" x2="152.12" y2="495.71" stroke="#1a1a1a" stroke-width="0.8"/>
<line x1="152.12" y1="495.71" x2="190.85" y2="463.44" stroke="#3b5a37" stroke-width="1.25"/>
<line x1="146.44" y1="500.45" x2="150.15" y2="497.72" stroke="#1a1a1a" stroke-width="0.8"/>
<line x1="150.15" y1="497.72" x2="190.38" y2="468.15" stroke="#466a3f" stroke-width="1.25"/>
<line x1="146.57" y1="500.34" x2="153.01" y2="494.97" stroke="#1a1a1a" stroke-width="0.8"/>
<line x1="153.01" y1="494.97" x2="189.63" y2="464.40" stroke="#3b5a37" stroke-width="1.25"/>
<line x1="146.80" y1="500.16" x2="153.37" y2="495.20" stroke="#1a1a1a" stroke-width="0.8"/>
<line x1="153.37" y1="495.20" x2="188.41" y2="468.77" stroke="#3b5a37" stroke-width="1.25"/>
<line x1="142.25" y1="508.85" x2="155.75" y2="500.82" stroke="#1a1a1a" stroke-width="0.8"/>
<line x1="155.75" y1="500.82" x2="193.82" y2="478.15" stroke="#8fbf9a" stroke-width="1.25"/>
<line x1="142.73" y1="508.56" x2="163.57" y2="498.59" stroke="#1a1a1a" stroke-width="0.8"/>
<line x1="163.57" y1="498.59" x2="196.90" y2="482.64" stroke="#b8bcb8" stroke-width="1.25"/>
<line x1="143.25" y1="508.25" x2="162.65" y2="496.87" stroke="#1a1a1a" stroke-width="0.8"/>
<line x1="162.65" y1="496.87" x2="194.00" y2="478.48" stroke="#6cc2b0" stroke-width="1.25"/>
<line x1="143.53" y1="508.08" x2="151.83" y2="503.61" stroke="#1a1a1a" stroke-width="0.8"/>
<line x1="151.83" y1="503.61" x2="192.98" y2="481.42" stroke="#6cc2b0" stroke-width="1.25"/>
<line x1="143.85" y1="507.89" x2="153.18" y2="503.58" stroke="#1a1a1a" stroke-width="0.8"/>
<line x1="153.18" y1="503.58" x2="195.14" y2="484.18" stroke="#b8bcb8" stroke-width="1.25"/>
<line x1="144.57" y1="507.46" x2="156.20" y2="502.08" stroke="#1a1a1a" stroke-width="0.8"/>
<line x1="156.20" y1="502.08" x2="201.15" y2="481.31" stroke="#b8bcb8" stroke-width="1.25"/>
<line x1="145.05" y1="507.17" x2="163.50" y2="498.96" stroke="#1a1a1a" stroke-width="0.8"/>
<line x1="163.50" y1="498.96" x2="193.86" y2="485.46" stroke="#a6c8a2" stroke-width="1.25"/>
<line x1="145.43" y1="506.94" x2="158.25" y2="501.31" stroke="#1a1a1a" stroke-width="0.8"/>
<line x1="158.25" y1="501.31" x2="200.56" y2="482.73" stroke="#8fbf9a" stroke-width="1.25"/>
<line x1="145.75" y1="506.75" x2="163.12" y2="500.27" stroke="#1a1a1a" stroke-width="0.8"/>
<line x1="163.12" y1="500.27" x2="195.19" y2="488.31" stroke="#b8bcb8" stroke-width="1.25"/>
<line x1="146.13" y1="506.52" x2="158.01" y2="502.39" stroke="#1a1a1a" stroke-width="0.8"/>
<line x1="158.01" y1="502.39" x2="202.48" y2="486.93" stroke="#b8bcb8" stroke-width="1.25"/>
<line x1="146.57" y1="506.26" x2="159.98" y2="500.97" stroke="#1a1a1a" stroke-width="0.8"/>
<line x1="159.98" y1="500.97" x2="203.28" y2="483.90" stroke="#a6c8a2" stroke-width="1.25"/>
<line x1="147.16" y1="505.91" x2="155.10" y2="502.85" stroke="#1a1a1a" stroke-width="0.8"/>
<line x1="155.10" y1="502.85" x2="196.05" y2="487.10" stroke="#a6c8a2" stroke-width="1.25"/>
<line x1="147.70" y1="505.58" x2="160.57" y2="501.45" stroke="#1a1a1a" stroke-width="0.8"/>
<line x1="160.57" y1="501.45" x2="198.23" y2="489.36" stroke="#b8bcb8" stroke-width="1.25"/>
<line x1="148.02" y1="505.39" x2="168.62" y2="499.36" stroke="#1a1a1a" stroke-width="0.8"/>
<line x1="168.62" y1="499.36" x2="204.88" y2="488.75" stroke="#8fbf9a" stroke-width="1.25"/>
<line x1="148.66" y1="505.00" x2="164.96" y2="500.36" stroke="#1a1a1a" stroke-width="0.8"/>
<line x1="164.96" y1="500.36" x2="206.50" y2="488.53" stroke="#6cc2b0" stroke-width="1.25"/>
<line x1="149.08" y1="504.75" x2="165.46" y2="499.26" stroke="#1a1a1a" stroke-width="0.8"/>
<line x1="165.46" y1="499.26" x2="204.14" y2="486.28" stroke="#8fbf9a" stroke-width="1.25"/>
<line x1="149.32" y1="504.61" x2="159.07" y2="502.33" stroke="#1a1a1a" stroke-width="0.8"/>
<line x1="159.07" y1="502.33" x2="203.33" y2="492.00" stroke="#6cc2b0" stroke-width="1.25"/>
<line x1="149.90" y1="504.26" x2="162.62" y2="500.82" stroke="#1a1a1a" stroke-width="0.8"/>
<line x1="162.62" y1="500.82" x2="201.29" y2="490.36" stroke="#b8bcb8" stroke-width="1.25"/>
<line x1="150.27" y1="504.04" x2="160.76" y2="501.51" stroke="#1a1a1a" stroke-width="0.8"/>
<line x1="160.76" y1="501.51" x2="205.41" y2="490.73" stroke="#a6c8a2" stroke-width="1.25"/>
<line x1="150.70" y1="503.78" x2="166.78" y2="499.67" stroke="#1a1a1a" stroke-width="0.8"/>
<line x1="166.78" y1="499.67" x2="207.70" y2="489.19" stroke="#8fbf9a" stroke-width="1.25"/>
<line x1="151.26" y1="503.45" x2="161.47" y2="501.18" stroke="#1a1a1a" stroke-width="0.8"/>
<line x1="161.47" y1="501.18" x2="206.94" y2="491.11" stroke="#8fbf9a" stroke-width="1.25"/>
<line x1="151.62" y1="503.23" x2="163.23" y2="500.50" stroke="#1a1a1a" stroke-width="0.8"/>
<line x1="163.23" y1="500.50" x2="202.87" y2="491.19" stroke="#a6c8a2" stroke-width="1.25"/>
<line x1="139.08" y1="515.08" x2="154.57" y2="516.53" stroke="#1a1a1a" stroke-width="0.8"/>
<line x1="154.57" y1="516.53" x2="195.43" y2="520.36" stroke="#78a82c" stroke-width="1.25"/>
<line x1="139.35" y1="515.35" x2="150.48" y2="515.80" stroke="#1a1a1a" stroke-width="0.8"/>
<line x1="150.48" y1="515.80" x2="201.54" y2="517.89" stroke="#78a82c" stroke-width="1.25"/>
<line x1="139.68" y1="515.68" x2="149.11" y2="516.40" stroke="#1a1a1a" stroke-width="0.8"/>
<line x1="149.11" y1="516.40" x2="202.47" y2="520.44" stroke="#86b43a" stroke-width="1.25"/>
<line x1="139.89" y1="515.89" x2="149.60" y2="516.98" stroke="#1a1a1a" stroke-width="0.8"/>
<line x1="149.60" y1="516.98" x2="207.52" y2="523.45" stroke="#6e9e28" stroke-width="1.25"/>
<line x1="140.24" y1="516.24" x2="160.35" y2="518.04" stroke="#1a1a1a" stroke-width="0.8"/>
<line x1="160.35" y1="518.04" x2="203.93" y2="521.94" stroke="#78a82c" stroke-width="1.25"/>
<line x1="140.49" y1="516.49" x2="151.33" y2="518.57" stroke="#1a1a1a" stroke-width="0.8"/>
<line x1="151.33" y1="518.57" x2="192.13" y2="526.40" stroke="#78a82c" stroke-width="1.25"/>
<line x1="140.73" y1="516.73" x2="149.26" y2="518.39" stroke="#1a1a1a" stroke-width="0.8"/>
<line x1="149.26" y1="518.39" x2="208.93" y2="530.02" stroke="#78a82c" stroke-width="1.25"/>
<line x1="140.92" y1="516.92" x2="161.72" y2="521.68" stroke="#1a1a1a" stroke-width="0.8"/>
<line x1="161.72" y1="521.68" x2="206.05" y2="531.81" stroke="#78a82c" stroke-width="1.25"/>
<line x1="141.15" y1="517.15" x2="158.18" y2="518.79" stroke="#1a1a1a" stroke-width="0.8"/>
<line x1="158.18" y1="518.79" x2="195.50" y2="522.39" stroke="#78a82c" stroke-width="1.25"/>
<line x1="141.51" y1="517.51" x2="150.59" y2="519.46" stroke="#1a1a1a" stroke-width="0.8"/>
<line x1="150.59" y1="519.46" x2="205.44" y2="531.26" stroke="#78a82c" stroke-width="1.25"/>
<line x1="141.78" y1="517.78" x2="155.35" y2="519.36" stroke="#1a1a1a" stroke-width="0.8"/>
<line x1="155.35" y1="519.36" x2="195.17" y2="523.98" stroke="#78a82c" stroke-width="1.25"/>
<line x1="141.94" y1="517.94" x2="156.59" y2="520.12" stroke="#1a1a1a" stroke-width="0.8"/>
<line x1="156.59" y1="520.12" x2="197.26" y2="526.16" stroke="#78a82c" stroke-width="1.25"/>
<line x1="142.17" y1="518.17" x2="154.33" y2="520.01" stroke="#1a1a1a" stroke-width="0.8"/>
<line x1="154.33" y1="520.01" x2="202.19" y2="527.29" stroke="#6e9e28" stroke-width="1.25"/>
<line x1="142.45" y1="518.45" x2="158.53" y2="522.74" stroke="#1a1a1a" stroke-width="0.8"/>
<line x1="158.53" y1="522.74" x2="192.02" y2="531.67" stroke="#86b43a" stroke-width="1.25"/>
<line x1="142.73" y1="518.73" x2="156.89" y2="522.00" stroke="#1a1a1a" stroke-width="0.8"/>
<line x1="156.89" y1="522.00" x2="207.10" y2="533.63" stroke="#6e9e28" stroke-width="1.25"/>
<line x1="142.98" y1="518.98" x2="152.00" y2="521.10" stroke="#1a1a1a" stroke-width="0.8"/>
<line x1="152.00" y1="521.10" x2="209.30" y2="534.55" stroke="#86b43a" stroke-width="1.25"/>
<line x1="143.23" y1="519.23" x2="153.54" y2="523.08" stroke="#1a1a1a" stroke-width="0.8"/>
<line x1="153.54" y1="523.08" x2="201.64" y2="541.03" stroke="#78a82c" stroke-width="1.25"/>
<line x1="143.59" y1="519.59" x2="156.95" y2="525.02" stroke="#1a1a1a" stroke-width="0.8"/>
<line x1="156.95" y1="525.02" x2="194.15" y2="540.14" stroke="#78a82c" stroke-width="1.25"/>
<line x1="143.86" y1="519.86" x2="159.46" y2="524.76" stroke="#1a1a1a" stroke-width="0.8"/>
<line x1="159.46" y1="524.76" x2="198.71" y2="537.08" stroke="#78a82c" stroke-width="1.25"/>
<line x1="144.13" y1="520.13" x2="153.63" y2="523.55" stroke="#1a1a1a" stroke-width="0.8"/>
<line x1="153.63" y1="523.55" x2="194.85" y2="538.36" stroke="#6e9e28" stroke-width="1.25"/>
<line x1="144.41" y1="520.41" x2="151.95" y2="522.86" stroke="#1a1a1a" stroke-width="0.8"/>
<line x1="151.95" y1="522.86" x2="195.80" y2="537.10" stroke="#86b43a" stroke-width="1.25"/>
<line x1="144.63" y1="520.63" x2="157.35" y2="525.91" stroke="#1a1a1a" stroke-width="0.8"/>
<line x1="157.35" y1="525.91" x2="205.64" y2="545.97" stroke="#78a82c" stroke-width="1.25"/>
<line x1="144.90" y1="520.90" x2="151.25" y2="524.12" stroke="#1a1a1a" stroke-width="0.8"/>
<line x1="151.25" y1="524.12" x2="191.66" y2="544.59" stroke="#78a82c" stroke-width="1.25"/>
<line x1="145.03" y1="521.03" x2="153.50" y2="524.76" stroke="#1a1a1a" stroke-width="0.8"/>
<line x1="153.50" y1="524.76" x2="197.36" y2="544.10" stroke="#78a82c" stroke-width="1.25"/>
<line x1="145.38" y1="521.38" x2="161.45" y2="529.27" stroke="#1a1a1a" stroke-width="0.8"/>
<line x1="161.45" y1="529.27" x2="194.90" y2="545.71" stroke="#78a82c" stroke-width="1.25"/>
<line x1="145.74" y1="521.74" x2="152.08" y2="524.51" stroke="#1a1a1a" stroke-width="0.8"/>
<line x1="152.08" y1="524.51" x2="194.00" y2="542.81" stroke="#78a82c" stroke-width="1.25"/>
<line x1="145.95" y1="521.95" x2="156.79" y2="526.96" stroke="#1a1a1a" stroke-width="0.8"/>
<line x1="156.79" y1="526.96" x2="196.73" y2="545.40" stroke="#86b43a" stroke-width="1.25"/>
<line x1="146.09" y1="522.09" x2="160.89" y2="528.16" stroke="#1a1a1a" stroke-width="0.8"/>
<line x1="160.89" y1="528.16" x2="192.90" y2="541.28" stroke="#78a82c" stroke-width="1.25"/>
<line x1="146.36" y1="522.36" x2="158.81" y2="530.16" stroke="#1a1a1a" stroke-width="0.8"/>
<line x1="158.81" y1="530.16" x2="191.04" y2="550.35" stroke="#86b43a" stroke-width="1.25"/>
<line x1="146.66" y1="522.66" x2="153.71" y2="526.98" stroke="#1a1a1a" stroke-width="0.8"/>
<line x1="153.71" y1="526.98" x2="189.63" y2="549.00" stroke="#78a82c" stroke-width="1.25"/>
<line x1="146.97" y1="522.97" x2="153.21" y2="526.43" stroke="#1a1a1a" stroke-width="0.8"/>
<line x1="153.21" y1="526.43" x2="194.61" y2="549.38" stroke="#78a82c" stroke-width="1.25"/>
<line x1="147.21" y1="523.21" x2="157.61" y2="530.08" stroke="#1a1a1a" stroke-width="0.8"/>
<line x1="157.61" y1="530.08" x2="199.20" y2="557.57" stroke="#78a82c" stroke-width="1.25"/>
<line x1="147.48" y1="523.48" x2="158.70" y2="531.14" stroke="#1a1a1a" stroke-width="0.8"/>
<line x1="158.70" y1="531.14" x2="188.35" y2="551.38" stroke="#6e9e28" stroke-width="1.25"/>
<line x1="147.83" y1="523.83" x2="155.91" y2="528.67" stroke="#1a1a1a" stroke-width="0.8"/>
<line x1="155.91" y1="528.67" x2="193.38" y2="551.09" stroke="#78a82c" stroke-width="1.25"/>
<line x1="148.05" y1="524.05" x2="160.24" y2="531.50" stroke="#1a1a1a" stroke-width="0.8"/>
<line x1="160.24" y1="531.50" x2="193.29" y2="551.72" stroke="#78a82c" stroke-width="1.25"/>
<line x1="148.29" y1="524.29" x2="155.02" y2="529.39" stroke="#1a1a1a" stroke-width="0.8"/>
<line x1="155.02" y1="529.39" x2="200.07" y2="563.53" stroke="#78a82c" stroke-width="1.25"/>
<line x1="148.48" y1="524.48" x2="163.65" y2="534.90" stroke="#1a1a1a" stroke-width="0.8"/>
<line x1="163.65" y1="534.90" x2="202.09" y2="561.32" stroke="#78a82c" stroke-width="1.25"/>
<line x1="148.88" y1="524.88" x2="155.14" y2="530.00" stroke="#1a1a1a" stroke-width="0.8"/>
<line x1="155.14" y1="530.00" x2="187.58" y2="556.54" stroke="#78a82c" stroke-width="1.25"/>
<line x1="149.12" y1="525.12" x2="160.99" y2="534.85" stroke="#1a1a1a" stroke-width="0.8"/>
<line x1="160.99" y1="534.85" x2="197.29" y2="564.61" stroke="#6e9e28" stroke-width="1.25"/>
<line x1="149.28" y1="525.28" x2="159.23" y2="532.44" stroke="#1a1a1a" stroke-width="0.8"/>
<line x1="159.23" y1="532.44" x2="193.05" y2="556.75" stroke="#78a82c" stroke-width="1.25"/>
<line x1="149.56" y1="525.56" x2="159.45" y2="532.50" stroke="#1a1a1a" stroke-width="0.8"/>
<line x1="159.45" y1="532.50" x2="194.23" y2="556.92" stroke="#78a82c" stroke-width="1.25"/>
<line x1="149.85" y1="525.85" x2="164.12" y2="536.26" stroke="#1a1a1a" stroke-width="0.8"/>
<line x1="164.12" y1="536.26" x2="194.10" y2="558.11" stroke="#78a82c" stroke-width="1.25"/>
<line x1="132.93" y1="518.09" x2="141.17" y2="531.16" stroke="#1a1a1a" stroke-width="0.8"/>
<line x1="141.17" y1="531.16" x2="158.46" y2="558.58" stroke="#78a82c" stroke-width="1.25"/>
<line x1="132.44" y1="518.78" x2="138.31" y2="529.04" stroke="#1a1a1a" stroke-width="0.8"/>
<line x1="138.31" y1="529.04" x2="155.98" y2="559.97" stroke="#78a82c" stroke-width="1.25"/>
<line x1="132.21" y1="519.11" x2="138.72" y2="532.87" stroke="#1a1a1a" stroke-width="0.8"/>
<line x1="138.72" y1="532.87" x2="155.40" y2="568.10" stroke="#9ab8a8" stroke-width="1.25"/>
<line x1="131.99" y1="519.42" x2="137.99" y2="531.06" stroke="#1a1a1a" stroke-width="0.8"/>
<line x1="137.99" y1="531.06" x2="154.02" y2="562.13" stroke="#a8b8b0" stroke-width="1.25"/>
<line x1="131.70" y1="519.82" x2="135.51" y2="527.52" stroke="#1a1a1a" stroke-width="0.8"/>
<line x1="135.51" y1="527.52" x2="152.70" y2="562.28" stroke="#6cc2b0" stroke-width="1.25"/>
<line x1="131.21" y1="520.51" x2="137.27" y2="533.67" stroke="#1a1a1a" stroke-width="0.8"/>
<line x1="137.27" y1="533.67" x2="149.93" y2="561.19" stroke="#a8b8b0" stroke-width="1.25"/>
<line x1="131.00" y1="520.80" x2="137.71" y2="536.17" stroke="#1a1a1a" stroke-width="0.8"/>
<line x1="137.71" y1="536.17" x2="151.77" y2="568.34" stroke="#78a82c" stroke-width="1.25"/>
<line x1="130.79" y1="521.10" x2="136.56" y2="535.91" stroke="#1a1a1a" stroke-width="0.8"/>
<line x1="136.56" y1="535.91" x2="149.55" y2="569.22" stroke="#78a82c" stroke-width="1.25"/>
<line x1="130.49" y1="521.51" x2="134.40" y2="531.61" stroke="#1a1a1a" stroke-width="0.8"/>
<line x1="134.40" y1="531.61" x2="146.46" y2="562.70" stroke="#6cc2b0" stroke-width="1.25"/>
<line x1="129.98" y1="522.23" x2="134.31" y2="534.27" stroke="#1a1a1a" stroke-width="0.8"/>
<line x1="134.31" y1="534.27" x2="144.49" y2="562.62" stroke="#8fbf9a" stroke-width="1.25"/>
<line x1="129.76" y1="522.53" x2="132.06" y2="529.41" stroke="#1a1a1a" stroke-width="0.8"/>
<line x1="132.06" y1="529.41" x2="145.49" y2="569.57" stroke="#9ab8a8" stroke-width="1.25"/>
<line x1="129.41" y1="523.02" x2="131.57" y2="531.12" stroke="#1a1a1a" stroke-width="0.8"/>
<line x1="131.57" y1="531.12" x2="140.61" y2="564.99" stroke="#a8b8b0" stroke-width="1.25"/>
<line x1="129.24" y1="523.27" x2="131.71" y2="534.92" stroke="#1a1a1a" stroke-width="0.8"/>
<line x1="131.71" y1="534.92" x2="137.81" y2="563.73" stroke="#6cc2b0" stroke-width="1.25"/>
<line x1="128.73" y1="523.97" x2="130.65" y2="531.97" stroke="#1a1a1a" stroke-width="0.8"/>
<line x1="130.65" y1="531.97" x2="138.96" y2="566.66" stroke="#8fbf9a" stroke-width="1.25"/>
<line x1="128.57" y1="524.20" x2="130.29" y2="533.42" stroke="#1a1a1a" stroke-width="0.8"/>
<line x1="130.29" y1="533.42" x2="136.87" y2="568.83" stroke="#9ab8a8" stroke-width="1.25"/>
<line x1="128.11" y1="524.84" x2="129.07" y2="530.59" stroke="#1a1a1a" stroke-width="0.8"/>
<line x1="129.07" y1="530.59" x2="134.81" y2="565.01" stroke="#8fbf9a" stroke-width="1.25"/>
<line x1="122.01" y1="528.02" x2="122.76" y2="548.49" stroke="#1a1a1a" stroke-width="0.8"/>
<line x1="122.76" y1="548.49" x2="124.07" y2="584.58" stroke="#f5a52a" stroke-width="1.25"/>
<line x1="122.14" y1="528.19" x2="124.94" y2="546.10" stroke="#1a1a1a" stroke-width="0.8"/>
<line x1="124.94" y1="546.10" x2="131.75" y2="589.75" stroke="#f5a52a" stroke-width="1.25"/>
<line x1="122.22" y1="528.29" x2="122.70" y2="542.88" stroke="#1a1a1a" stroke-width="0.8"/>
<line x1="122.70" y1="542.88" x2="124.33" y2="591.66" stroke="#eea030" stroke-width="1.25"/>
<line x1="122.38" y1="528.51" x2="124.47" y2="543.38" stroke="#1a1a1a" stroke-width="0.8"/>
<line x1="124.47" y1="543.38" x2="129.49" y2="579.13" stroke="#f39c1f" stroke-width="1.25"/>
<line x1="122.50" y1="528.67" x2="125.30" y2="554.14" stroke="#1a1a1a" stroke-width="0.8"/>
<line x1="125.30" y1="554.14" x2="129.65" y2="593.73" stroke="#f5a52a" stroke-width="1.25"/>
<line x1="122.55" y1="528.73" x2="124.40" y2="539.31" stroke="#1a1a1a" stroke-width="0.8"/>
<line x1="124.40" y1="539.31" x2="131.82" y2="581.66" stroke="#f5a52a" stroke-width="1.25"/>
<line x1="122.70" y1="528.93" x2="124.73" y2="545.13" stroke="#1a1a1a" stroke-width="0.8"/>
<line x1="124.73" y1="545.13" x2="130.15" y2="588.39" stroke="#f39c1f" stroke-width="1.25"/>
<line x1="122.76" y1="529.02" x2="125.45" y2="545.39" stroke="#1a1a1a" stroke-width="0.8"/>
<line x1="125.45" y1="545.39" x2="131.36" y2="581.43" stroke="#f5a52a" stroke-width="1.25"/>
<line x1="122.93" y1="529.23" x2="123.64" y2="552.00" stroke="#1a1a1a" stroke-width="0.8"/>
<line x1="123.64" y1="552.00" x2="124.67" y2="584.83" stroke="#f39c1f" stroke-width="1.25"/>
<line x1="122.97" y1="529.29" x2="124.04" y2="554.29" stroke="#1a1a1a" stroke-width="0.8"/>
<line x1="124.04" y1="554.29" x2="125.43" y2="586.85" stroke="#eea030" stroke-width="1.25"/>
<line x1="123.10" y1="529.47" x2="124.23" y2="551.72" stroke="#1a1a1a" stroke-width="0.8"/>
<line x1="124.23" y1="551.72" x2="126.29" y2="592.26" stroke="#f39c1f" stroke-width="1.25"/>
<line x1="123.25" y1="529.67" x2="126.00" y2="555.25" stroke="#1a1a1a" stroke-width="0.8"/>
<line x1="126.00" y1="555.25" x2="130.00" y2="592.48" stroke="#f39c1f" stroke-width="1.25"/>
<line x1="123.30" y1="529.74" x2="125.64" y2="542.62" stroke="#1a1a1a" stroke-width="0.8"/>
<line x1="125.64" y1="542.62" x2="133.99" y2="588.64" stroke="#eea030" stroke-width="1.25"/>
<line x1="123.42" y1="529.90" x2="125.96" y2="542.58" stroke="#1a1a1a" stroke-width="0.8"/>
<line x1="125.96" y1="542.58" x2="137.01" y2="597.88" stroke="#f39c1f" stroke-width="1.25"/>
<line x1="123.55" y1="530.06" x2="124.65" y2="541.39" stroke="#1a1a1a" stroke-width="0.8"/>
<line x1="124.65" y1="541.39" x2="128.85" y2="584.55" stroke="#f5a52a" stroke-width="1.25"/>
<line x1="123.66" y1="530.21" x2="126.83" y2="552.98" stroke="#1a1a1a" stroke-width="0.8"/>
<line x1="126.83" y1="552.98" x2="132.54" y2="594.05" stroke="#f5a52a" stroke-width="1.25"/>
<line x1="123.74" y1="530.32" x2="127.27" y2="548.24" stroke="#1a1a1a" stroke-width="0.8"/>
<line x1="127.27" y1="548.24" x2="135.51" y2="590.04" stroke="#f5a52a" stroke-width="1.25"/>
<line x1="123.86" y1="530.48" x2="128.56" y2="549.71" stroke="#1a1a1a" stroke-width="0.8"/>
<line x1="128.56" y1="549.71" x2="139.25" y2="593.49" stroke="#f5a52a" stroke-width="1.25"/>
<line x1="123.97" y1="530.62" x2="127.82" y2="557.82" stroke="#1a1a1a" stroke-width="0.8"/>
<line x1="127.82" y1="557.82" x2="133.55" y2="598.30" stroke="#f39c1f" stroke-width="1.25"/>
<line x1="124.07" y1="530.76" x2="127.01" y2="542.70" stroke="#1a1a1a" stroke-width="0.8"/>
<line x1="127.01" y1="542.70" x2="138.73" y2="590.24" stroke="#f5a52a" stroke-width="1.25"/>
<line x1="124.18" y1="530.91" x2="126.20" y2="542.68" stroke="#1a1a1a" stroke-width="0.8"/>
<line x1="126.20" y1="542.68" x2="133.71" y2="586.57" stroke="#eea030" stroke-width="1.25"/>
<line x1="124.33" y1="531.11" x2="127.02" y2="543.70" stroke="#1a1a1a" stroke-width="0.8"/>
<line x1="127.02" y1="543.70" x2="138.50" y2="597.34" stroke="#f39c1f" stroke-width="1.25"/>
<line x1="124.40" y1="531.20" x2="127.03" y2="543.98" stroke="#1a1a1a" stroke-width="0.8"/>
<line x1="127.03" y1="543.98" x2="138.83" y2="601.35" stroke="#f39c1f" stroke-width="1.25"/>
<line x1="124.47" y1="531.29" x2="127.02" y2="546.59" stroke="#1a1a1a" stroke-width="0.8"/>
<line x1="127.02" y1="546.59" x2="135.57" y2="598.04" stroke="#f39c1f" stroke-width="1.25"/>
<line x1="124.66" y1="531.54" x2="129.80" y2="557.61" stroke="#1a1a1a" stroke-width="0.8"/>
<line x1="129.80" y1="557.61" x2="138.67" y2="602.56" stroke="#f39c1f" stroke-width="1.25"/>
<line x1="124.74" y1="531.65" x2="131.39" y2="558.15" stroke="#1a1a1a" stroke-width="0.8"/>
<line x1="131.39" y1="558.15" x2="141.94" y2="600.16" stroke="#eea030" stroke-width="1.25"/>
<line x1="124.80" y1="531.73" x2="126.54" y2="544.93" stroke="#1a1a1a" stroke-width="0.8"/>
<line x1="126.54" y1="544.93" x2="132.87" y2="593.07" stroke="#f5a52a" stroke-width="1.25"/>
<line x1="124.94" y1="531.91" x2="127.76" y2="552.98" stroke="#1a1a1a" stroke-width="0.8"/>
<line x1="127.76" y1="552.98" x2="133.06" y2="592.54" stroke="#f5a52a" stroke-width="1.25"/>
<line x1="117.60" y1="531.50" x2="113.20" y2="555.00" stroke="#f39c1f" stroke-width="1.1"/>
<line x1="108.00" y1="538.60" x2="94.10" y2="583.00" stroke="#6a3c9c" stroke-width="1.2"/>
<line x1="112.00" y1="536.00" x2="103.00" y2="563.00" stroke="#5aa2de" stroke-width="1.0"/>
<line x1="114.50" y1="534.50" x2="110.00" y2="552.00" stroke="#7fcfbc" stroke-width="1.0"/>
<line x1="103.93" y1="539.02" x2="101.41" y2="544.70" stroke="#1a1a1a" stroke-width="0.8"/>
<line x1="101.41" y1="544.70" x2="90.56" y2="569.12" stroke="#8ccaf2" stroke-width="1.25"/>
<line x1="103.36" y1="539.16" x2="96.31" y2="550.58" stroke="#1a1a1a" stroke-width="0.8"/>
<line x1="96.31" y1="550.58" x2="82.63" y2="572.75" stroke="#5aa2de" stroke-width="1.25"/>
<line x1="103.20" y1="539.20" x2="96.61" y2="548.98" stroke="#1a1a1a" stroke-width="0.8"/>
<line x1="96.61" y1="548.98" x2="85.95" y2="564.82" stroke="#2c3c90" stroke-width="1.25"/>
<line x1="102.78" y1="539.31" x2="98.43" y2="545.76" stroke="#1a1a1a" stroke-width="0.8"/>
<line x1="98.43" y1="545.76" x2="82.12" y2="569.97" stroke="#5aa2de" stroke-width="1.25"/>
<line x1="102.39" y1="539.40" x2="97.21" y2="545.42" stroke="#1a1a1a" stroke-width="0.8"/>
<line x1="97.21" y1="545.42" x2="78.12" y2="567.56" stroke="#2c3c90" stroke-width="1.25"/>
<line x1="101.89" y1="539.53" x2="96.35" y2="545.92" stroke="#1a1a1a" stroke-width="0.8"/>
<line x1="96.35" y1="545.92" x2="80.26" y2="564.47" stroke="#5aa2de" stroke-width="1.25"/>
<line x1="101.77" y1="539.56" x2="97.41" y2="544.09" stroke="#1a1a1a" stroke-width="0.8"/>
<line x1="97.41" y1="544.09" x2="81.12" y2="561.06" stroke="#b4b2e2" stroke-width="1.25"/>
<line x1="101.27" y1="539.68" x2="91.50" y2="547.80" stroke="#1a1a1a" stroke-width="0.8"/>
<line x1="91.50" y1="547.80" x2="74.50" y2="561.93" stroke="#5aa2de" stroke-width="1.25"/>
<line x1="100.88" y1="539.78" x2="93.81" y2="545.67" stroke="#1a1a1a" stroke-width="0.8"/>
<line x1="93.81" y1="545.67" x2="77.15" y2="559.54" stroke="#2c3c90" stroke-width="1.25"/>
<line x1="100.60" y1="539.85" x2="93.02" y2="546.36" stroke="#1a1a1a" stroke-width="0.8"/>
<line x1="93.02" y1="546.36" x2="72.21" y2="564.21" stroke="#5aa2de" stroke-width="1.25"/>
<line x1="100.19" y1="539.95" x2="95.27" y2="544.58" stroke="#1a1a1a" stroke-width="0.8"/>
<line x1="95.27" y1="544.58" x2="79.30" y2="559.62" stroke="#b4b2e2" stroke-width="1.25"/>
<line x1="99.97" y1="540.01" x2="94.68" y2="544.14" stroke="#1a1a1a" stroke-width="0.8"/>
<line x1="94.68" y1="544.14" x2="76.15" y2="558.61" stroke="#b4b2e2" stroke-width="1.25"/>
<line x1="99.60" y1="540.10" x2="94.24" y2="543.89" stroke="#1a1a1a" stroke-width="0.8"/>
<line x1="94.24" y1="543.89" x2="70.21" y2="560.86" stroke="#5aa2de" stroke-width="1.25"/>
<line x1="99.00" y1="540.25" x2="94.99" y2="542.80" stroke="#1a1a1a" stroke-width="0.8"/>
<line x1="94.99" y1="542.80" x2="74.75" y2="555.67" stroke="#5aa2de" stroke-width="1.25"/>
<line x1="98.87" y1="540.28" x2="88.65" y2="545.36" stroke="#1a1a1a" stroke-width="0.8"/>
<line x1="88.65" y1="545.36" x2="72.14" y2="553.57" stroke="#2c3c90" stroke-width="1.25"/>
<line x1="98.53" y1="540.37" x2="88.41" y2="544.49" stroke="#1a1a1a" stroke-width="0.8"/>
<line x1="88.41" y1="544.49" x2="65.35" y2="553.89" stroke="#b4b2e2" stroke-width="1.25"/>
<line x1="98.05" y1="540.49" x2="91.92" y2="542.41" stroke="#1a1a1a" stroke-width="0.8"/>
<line x1="91.92" y1="542.41" x2="65.72" y2="550.61" stroke="#5aa2de" stroke-width="1.25"/>
<line x1="97.82" y1="540.55" x2="92.87" y2="542.98" stroke="#1a1a1a" stroke-width="0.8"/>
<line x1="92.87" y1="542.98" x2="73.94" y2="552.30" stroke="#5aa2de" stroke-width="1.25"/>
<line x1="97.44" y1="540.64" x2="89.65" y2="542.71" stroke="#1a1a1a" stroke-width="0.8"/>
<line x1="89.65" y1="542.71" x2="72.12" y2="547.38" stroke="#b4b2e2" stroke-width="1.25"/>
<line x1="97.03" y1="540.74" x2="88.97" y2="543.12" stroke="#1a1a1a" stroke-width="0.8"/>
<line x1="88.97" y1="543.12" x2="67.34" y2="549.49" stroke="#5aa2de" stroke-width="1.25"/>
<line x1="96.54" y1="540.86" x2="92.10" y2="541.50" stroke="#1a1a1a" stroke-width="0.8"/>
<line x1="92.10" y1="541.50" x2="69.66" y2="544.69" stroke="#2c3c90" stroke-width="1.25"/>
<line x1="96.18" y1="540.95" x2="85.78" y2="541.57" stroke="#1a1a1a" stroke-width="0.8"/>
<line x1="85.78" y1="541.57" x2="63.86" y2="542.86" stroke="#8ccaf2" stroke-width="1.25"/>
<rect x="215.5" y="463.1" width="7" height="7" fill="#7fcfbc" stroke="#222" stroke-width="0.8"/>
<text x="227.2" y="470.5" font-size="11.1" text-anchor="start" font-weight="normal" fill="#231f20" stroke="#231f20" stroke-width="0.22">XI-1A</text>
<rect x="215.5" y="479.0" width="7" height="7" fill="#5fb6a4" stroke="#222" stroke-width="0.8"/>
<text x="227.2" y="486.4" font-size="11.1" text-anchor="start" font-weight="normal" fill="#231f20" stroke="#231f20" stroke-width="0.22">XI-1B</text>
<rect x="215.5" y="494.7" width="7" height="7" fill="#3b5a37" stroke="#222" stroke-width="0.8"/>
<text x="227.2" y="502.1" font-size="11.1" text-anchor="start" font-weight="normal" fill="#231f20" stroke="#231f20" stroke-width="0.22">XI-2</text>
<rect x="215.5" y="510.5" width="7" height="7" fill="#78a82c" stroke="#222" stroke-width="0.8"/>
<text x="227.2" y="517.9" font-size="11.1" text-anchor="start" font-weight="normal" fill="#231f20" stroke="#231f20" stroke-width="0.22">XI-3</text>
<rect x="215.5" y="526.2" width="7" height="7" fill="#a6c8a2" stroke="#222" stroke-width="0.8"/>
<text x="227.2" y="533.6" font-size="11.1" text-anchor="start" font-weight="normal" fill="#231f20" stroke="#231f20" stroke-width="0.22">XI-adm</text>
<rect x="279.5" y="463.1" width="7" height="7" fill="#5aa2de" stroke="#222" stroke-width="0.8"/>
<text x="291.2" y="470.5" font-size="11.1" text-anchor="start" font-weight="normal" fill="#231f20" stroke="#231f20" stroke-width="0.22">GJ-trp</text>
<rect x="279.5" y="479.0" width="7" height="7" fill="#2c3c90" stroke="#222" stroke-width="0.8"/>
<text x="291.2" y="486.4" font-size="11.1" text-anchor="start" font-weight="normal" fill="#231f20" stroke="#231f20" stroke-width="0.22">GJ-sbtrp</text>
<rect x="279.5" y="494.7" width="7" height="7" fill="#8ccaf2" stroke="#222" stroke-width="0.8"/>
<text x="291.2" y="502.1" font-size="11.1" text-anchor="start" font-weight="normal" fill="#231f20" stroke="#231f20" stroke-width="0.22">GJ-tmp</text>
<rect x="279.5" y="510.5" width="7" height="7" fill="#b4b2e2" stroke="#222" stroke-width="0.8"/>
<text x="291.2" y="517.9" font-size="11.1" text-anchor="start" font-weight="normal" fill="#231f20" stroke="#231f20" stroke-width="0.22">GJ-adm</text>
<rect x="279.5" y="526.2" width="7" height="7" fill="#f5a021" stroke="#222" stroke-width="0.8"/>
<text x="291.2" y="533.6" font-size="11.1" text-anchor="start" font-weight="normal" fill="#231f20" stroke="#231f20" stroke-width="0.22">cA</text>
<rect x="279.5" y="542.1" width="7" height="7" fill="#6a3c9c" stroke="#222" stroke-width="0.8"/>
<text x="291.2" y="549.5" font-size="11.1" text-anchor="start" font-weight="normal" fill="#231f20" stroke="#231f20" stroke-width="0.22">cB</text>
<rect x="279.5" y="557.9" width="7" height="7" fill="#a8a8a8" stroke="#222" stroke-width="0.8"/>
<text x="291.2" y="565.3" font-size="11.1" text-anchor="start" font-weight="normal" fill="#231f20" stroke="#231f20" stroke-width="0.22">Admix</text>
<g shape-rendering="crispEdges">
<rect x="372.70" y="200.00" width="43.90" height="1.55" fill="#7a6bb3"/>
<rect x="372.70" y="201.50" width="43.90" height="1.55" fill="#7868b2"/>
<rect x="372.70" y="203.00" width="43.90" height="0.95" fill="#796ab3"/>
<rect x="372.70" y="203.90" width="43.90" height="1.55" fill="#a090c8"/>
<rect x="372.70" y="205.40" width="43.90" height="1.55" fill="#9f90c8"/>
<rect x="372.70" y="206.90" width="43.90" height="1.55" fill="#a495cb"/>
<rect x="372.70" y="208.40" width="43.90" height="1.55" fill="#a595cb"/>
<rect x="372.70" y="209.90" width="43.90" height="1.55" fill="#9e8ec7"/>
<rect x="372.70" y="211.40" width="43.90" height="1.55" fill="#a393ca"/>
<rect x="372.70" y="212.90" width="43.90" height="0.55" fill="#a393ca"/>
<rect x="372.70" y="213.40" width="43.90" height="1.55" fill="#bdacd7"/>
<rect x="372.70" y="214.90" width="43.90" height="1.55" fill="#c0b0da"/>
<rect x="372.70" y="216.40" width="43.90" height="1.55" fill="#beadd8"/>
<rect x="372.70" y="217.90" width="43.90" height="1.55" fill="#c0b0da"/>
<rect x="372.70" y="219.40" width="43.90" height="1.55" fill="#bfafd9"/>
<rect x="372.70" y="220.90" width="43.90" height="1.55" fill="#c2b3db"/>
<rect x="372.70" y="222.40" width="43.90" height="1.55" fill="#bfafd9"/>
<rect x="372.70" y="223.90" width="43.90" height="1.55" fill="#bdadd8"/>
<rect x="372.70" y="225.40" width="43.90" height="1.55" fill="#c0b0d9"/>
<rect x="372.70" y="226.90" width="43.90" height="1.35" fill="#beaed8"/>
<rect x="372.70" y="228.20" width="43.90" height="1.55" fill="#dccfe8"/>
<rect x="372.70" y="229.70" width="43.90" height="1.55" fill="#e2d4eb"/>
<rect x="372.70" y="231.20" width="43.90" height="1.55" fill="#dccee8"/>
<rect x="372.70" y="232.70" width="43.90" height="1.55" fill="#ddcfe8"/>
<rect x="372.70" y="234.20" width="43.90" height="1.55" fill="#dfd1ea"/>
<rect x="372.70" y="235.70" width="43.90" height="1.55" fill="#e2d5eb"/>
<rect x="372.70" y="237.20" width="43.90" height="1.55" fill="#dbcde7"/>
<rect x="372.70" y="238.70" width="43.90" height="1.55" fill="#ded0e9"/>
<rect x="372.70" y="240.20" width="43.90" height="1.55" fill="#dccee8"/>
<rect x="372.70" y="241.70" width="43.90" height="1.55" fill="#dbcde7"/>
<rect x="372.70" y="243.20" width="43.90" height="1.55" fill="#dccee8"/>
<rect x="372.70" y="244.70" width="43.90" height="1.55" fill="#dbcde7"/>
<rect x="372.70" y="246.20" width="43.90" height="1.55" fill="#ded1e9"/>
<rect x="372.70" y="247.70" width="43.90" height="1.55" fill="#dbcee8"/>
<rect x="372.70" y="249.20" width="43.90" height="1.55" fill="#ded0e9"/>
<rect x="372.70" y="250.70" width="43.90" height="1.55" fill="#dacde7"/>
<rect x="372.70" y="252.20" width="43.90" height="1.55" fill="#dbcde7"/>
<rect x="372.70" y="253.70" width="43.90" height="1.55" fill="#e1d3eb"/>
<rect x="372.70" y="255.20" width="43.90" height="1.15" fill="#e1d3ea"/>
<rect x="372.70" y="256.30" width="43.90" height="1.55" fill="#f3e9f5"/>
<rect x="372.70" y="257.80" width="43.90" height="1.55" fill="#eee3f2"/>
<rect x="372.70" y="259.30" width="43.90" height="1.55" fill="#f1e7f4"/>
<rect x="372.70" y="260.80" width="43.90" height="1.55" fill="#f0e6f3"/>
<rect x="372.70" y="262.30" width="43.90" height="1.55" fill="#f2e8f5"/>
<rect x="372.70" y="263.80" width="43.90" height="1.55" fill="#f1e7f4"/>
<rect x="372.70" y="265.30" width="43.90" height="1.55" fill="#f2e7f4"/>
<rect x="372.70" y="266.80" width="43.90" height="1.55" fill="#f2e8f4"/>
<rect x="372.70" y="268.30" width="43.90" height="1.55" fill="#f0e6f4"/>
<rect x="372.70" y="269.80" width="43.90" height="1.55" fill="#f0e6f4"/>
<rect x="372.70" y="271.30" width="43.90" height="1.55" fill="#eee3f2"/>
<rect x="372.70" y="272.80" width="43.90" height="1.55" fill="#f0e5f3"/>
<rect x="372.70" y="274.30" width="43.90" height="1.55" fill="#eee3f2"/>
<rect x="372.70" y="275.80" width="43.90" height="1.55" fill="#efe4f3"/>
<rect x="372.70" y="277.30" width="43.90" height="1.55" fill="#eee3f2"/>
<rect x="372.70" y="278.80" width="43.90" height="1.55" fill="#f0e5f3"/>
<rect x="372.70" y="280.30" width="43.90" height="1.55" fill="#f3e9f5"/>
<rect x="372.70" y="281.80" width="43.90" height="1.55" fill="#efe4f2"/>
<rect x="372.70" y="283.30" width="43.90" height="1.55" fill="#eee3f2"/>
<rect x="372.70" y="284.80" width="43.90" height="1.55" fill="#eee3f2"/>
<rect x="372.70" y="286.30" width="43.90" height="1.55" fill="#f1e6f4"/>
<rect x="372.70" y="287.80" width="43.90" height="1.55" fill="#f0e5f3"/>
<rect x="372.70" y="289.30" width="43.90" height="1.55" fill="#f3e9f5"/>
<rect x="372.70" y="290.80" width="43.90" height="1.55" fill="#efe4f3"/>
<rect x="372.70" y="292.30" width="43.90" height="1.55" fill="#f1e6f4"/>
<rect x="372.70" y="293.80" width="43.90" height="1.55" fill="#f2e8f5"/>
<rect x="372.70" y="295.30" width="43.90" height="1.55" fill="#f4eaf5"/>
<rect x="372.70" y="296.80" width="43.90" height="1.55" fill="#efe4f3"/>
<rect x="372.70" y="298.30" width="43.90" height="1.55" fill="#eee3f2"/>
<rect x="372.70" y="299.80" width="43.90" height="0.25" fill="#f3eaf5"/>
<rect x="416.60" y="200.00" width="44.10" height="1.55" fill="#fbf8fc"/>
<rect x="416.60" y="201.50" width="44.10" height="1.55" fill="#fdfbfd"/>
<rect x="416.60" y="203.00" width="44.10" height="1.55" fill="#fefdfe"/>
<rect x="416.60" y="204.50" width="44.10" height="1.55" fill="#fdfcfe"/>
<rect x="416.60" y="206.00" width="44.10" height="1.55" fill="#fbf9fc"/>
<rect x="416.60" y="207.50" width="44.10" height="1.55" fill="#fbf8fc"/>
<rect x="416.60" y="209.00" width="44.10" height="1.55" fill="#fefeff"/>
<rect x="416.60" y="210.50" width="44.10" height="1.55" fill="#fcfafd"/>
<rect x="416.60" y="212.00" width="44.10" height="1.55" fill="#fefeff"/>
<rect x="416.60" y="213.50" width="44.10" height="1.55" fill="#fcf9fc"/>
<rect x="416.60" y="215.00" width="44.10" height="1.55" fill="#fdfcfe"/>
<rect x="416.60" y="216.50" width="44.10" height="1.55" fill="#fbf8fc"/>
<rect x="416.60" y="218.00" width="44.10" height="1.55" fill="#fbf7fb"/>
<rect x="416.60" y="219.50" width="44.10" height="1.55" fill="#fdfafd"/>
<rect x="416.60" y="221.00" width="44.10" height="1.55" fill="#fbf7fb"/>
<rect x="416.60" y="222.50" width="44.10" height="1.55" fill="#fdfcfe"/>
<rect x="416.60" y="224.00" width="44.10" height="1.55" fill="#fefefe"/>
<rect x="416.60" y="225.50" width="44.10" height="1.55" fill="#fcfafd"/>
<rect x="416.60" y="227.00" width="44.10" height="1.55" fill="#fefeff"/>
<rect x="416.60" y="228.50" width="44.10" height="1.55" fill="#fefdfe"/>
<rect x="416.60" y="230.00" width="44.10" height="1.55" fill="#fdfbfd"/>
<rect x="416.60" y="231.50" width="44.10" height="1.55" fill="#fcfafd"/>
<rect x="416.60" y="233.00" width="44.10" height="1.55" fill="#fefdfe"/>
<rect x="416.60" y="234.50" width="44.10" height="1.55" fill="#fefeff"/>
<rect x="416.60" y="236.00" width="44.10" height="1.55" fill="#fbf8fc"/>
<rect x="416.60" y="237.50" width="44.10" height="1.55" fill="#fdfcfe"/>
<rect x="416.60" y="239.00" width="44.10" height="1.55" fill="#fbf7fb"/>
<rect x="416.60" y="240.50" width="44.10" height="1.55" fill="#fbf8fc"/>
<rect x="416.60" y="242.00" width="44.10" height="1.55" fill="#fdfbfd"/>
<rect x="416.60" y="243.50" width="44.10" height="1.55" fill="#fdfbfd"/>
<rect x="416.60" y="245.00" width="44.10" height="1.55" fill="#fcfafd"/>
<rect x="416.60" y="246.50" width="44.10" height="1.55" fill="#fcf9fc"/>
<rect x="416.60" y="248.00" width="44.10" height="1.55" fill="#fcfafd"/>
<rect x="416.60" y="249.50" width="44.10" height="1.55" fill="#fcfafd"/>
<rect x="416.60" y="251.00" width="44.10" height="1.55" fill="#fcfafd"/>
<rect x="416.60" y="252.50" width="44.10" height="1.55" fill="#fbf7fb"/>
<rect x="416.60" y="254.00" width="44.10" height="1.55" fill="#fdfafd"/>
<rect x="416.60" y="255.50" width="44.10" height="1.55" fill="#fdfbfd"/>
<rect x="416.60" y="257.00" width="44.10" height="1.55" fill="#fcf9fc"/>
<rect x="416.60" y="258.50" width="44.10" height="1.55" fill="#fefcfe"/>
<rect x="416.60" y="260.00" width="44.10" height="1.55" fill="#fdfcfe"/>
<rect x="416.60" y="261.50" width="44.10" height="1.55" fill="#fbf7fb"/>
<rect x="416.60" y="263.00" width="44.10" height="1.55" fill="#fcfafd"/>
<rect x="416.60" y="264.50" width="44.10" height="1.55" fill="#fcfafd"/>
<rect x="416.60" y="266.00" width="44.10" height="1.55" fill="#fffeff"/>
<rect x="416.60" y="267.50" width="44.10" height="1.55" fill="#fdfbfd"/>
<rect x="416.60" y="269.00" width="44.10" height="1.55" fill="#fcfafd"/>
<rect x="416.60" y="270.50" width="44.10" height="1.55" fill="#fffeff"/>
<rect x="416.60" y="272.00" width="44.10" height="1.55" fill="#fcfafd"/>
<rect x="416.60" y="273.50" width="44.10" height="1.55" fill="#fcfafd"/>
<rect x="416.60" y="275.00" width="44.10" height="1.55" fill="#fefefe"/>
<rect x="416.60" y="276.50" width="44.10" height="1.55" fill="#fcfafd"/>
<rect x="416.60" y="278.00" width="44.10" height="1.55" fill="#fdfbfd"/>
<rect x="416.60" y="279.50" width="44.10" height="1.55" fill="#fcf9fc"/>
<rect x="416.60" y="281.00" width="44.10" height="1.55" fill="#fdfcfd"/>
<rect x="416.60" y="282.50" width="44.10" height="1.55" fill="#fcf9fc"/>
<rect x="416.60" y="284.00" width="44.10" height="1.55" fill="#fcf9fc"/>
<rect x="416.60" y="285.50" width="44.10" height="1.55" fill="#fffeff"/>
<rect x="416.60" y="287.00" width="44.10" height="1.55" fill="#fefefe"/>
<rect x="416.60" y="288.50" width="44.10" height="1.55" fill="#fcf9fc"/>
<rect x="416.60" y="290.00" width="44.10" height="1.55" fill="#fbf7fb"/>
<rect x="416.60" y="291.50" width="44.10" height="1.55" fill="#fefcfe"/>
<rect x="416.60" y="293.00" width="44.10" height="1.55" fill="#fdfbfd"/>
<rect x="416.60" y="294.50" width="44.10" height="1.55" fill="#fcfafd"/>
<rect x="416.60" y="296.00" width="44.10" height="1.55" fill="#fdfcfe"/>
<rect x="416.60" y="297.50" width="44.10" height="1.55" fill="#fdfcfd"/>
<rect x="416.60" y="299.00" width="44.10" height="1.05" fill="#fdfcfe"/>
<rect x="460.70" y="200.00" width="43.90" height="1.55" fill="#f9f5fa"/>
<rect x="460.70" y="201.50" width="43.90" height="1.55" fill="#f8f3fa"/>
<rect x="460.70" y="203.00" width="43.90" height="1.55" fill="#faf5fb"/>
<rect x="460.70" y="204.50" width="43.90" height="1.55" fill="#f9f5fa"/>
<rect x="460.70" y="206.00" width="43.90" height="1.55" fill="#f8f2f9"/>
<rect x="460.70" y="207.50" width="43.90" height="1.55" fill="#fbf7fc"/>
<rect x="460.70" y="209.00" width="43.90" height="1.55" fill="#f9f3fa"/>
<rect x="460.70" y="210.50" width="43.90" height="1.55" fill="#f8f2f9"/>
<rect x="460.70" y="212.00" width="43.90" height="1.55" fill="#faf5fb"/>
<rect x="460.70" y="213.50" width="43.90" height="1.55" fill="#faf6fb"/>
<rect x="460.70" y="215.00" width="43.90" height="1.55" fill="#f8f2f9"/>
<rect x="460.70" y="216.50" width="43.90" height="1.55" fill="#faf6fb"/>
<rect x="460.70" y="218.00" width="43.90" height="1.55" fill="#faf6fb"/>
<rect x="460.70" y="219.50" width="43.90" height="1.55" fill="#f9f4fa"/>
<rect x="460.70" y="221.00" width="43.90" height="1.55" fill="#f8f2f9"/>
<rect x="460.70" y="222.50" width="43.90" height="1.55" fill="#fbf7fb"/>
<rect x="460.70" y="224.00" width="43.90" height="1.55" fill="#faf5fb"/>
<rect x="460.70" y="225.50" width="43.90" height="1.55" fill="#faf5fa"/>
<rect x="460.70" y="227.00" width="43.90" height="1.05" fill="#f8f1f9"/>
<rect x="460.70" y="228.00" width="43.90" height="1.55" fill="#fbf8fc"/>
<rect x="460.70" y="229.50" width="43.90" height="1.55" fill="#f9f5fa"/>
<rect x="460.70" y="231.00" width="43.90" height="1.55" fill="#fcfafd"/>
<rect x="460.70" y="232.50" width="43.90" height="1.55" fill="#fcf9fc"/>
<rect x="460.70" y="234.00" width="43.90" height="1.55" fill="#faf6fb"/>
<rect x="460.70" y="235.50" width="43.90" height="1.55" fill="#f9f5fa"/>
<rect x="460.70" y="237.00" width="43.90" height="1.55" fill="#fbf8fc"/>
<rect x="460.70" y="238.50" width="43.90" height="1.55" fill="#fcfafd"/>
<rect x="460.70" y="240.00" width="43.90" height="1.55" fill="#fcfafd"/>
<rect x="460.70" y="241.50" width="43.90" height="1.55" fill="#fbf7fb"/>
<rect x="460.70" y="243.00" width="43.90" height="1.55" fill="#fcfafd"/>
<rect x="460.70" y="244.50" width="43.90" height="1.55" fill="#faf5fb"/>
<rect x="460.70" y="246.00" width="43.90" height="1.55" fill="#faf5fa"/>
<rect x="460.70" y="247.50" width="43.90" height="1.55" fill="#fcfafd"/>
<rect x="460.70" y="249.00" width="43.90" height="1.55" fill="#fcf9fc"/>
<rect x="460.70" y="250.50" width="43.90" height="1.55" fill="#faf5fb"/>
<rect x="460.70" y="252.00" width="43.90" height="1.55" fill="#faf6fb"/>
<rect x="460.70" y="253.50" width="43.90" height="1.55" fill="#faf5fb"/>
<rect x="460.70" y="255.00" width="43.90" height="1.05" fill="#fcf9fc"/>
<rect x="460.70" y="256.00" width="43.90" height="1.55" fill="#fcfafd"/>
<rect x="460.70" y="257.50" width="43.90" height="1.55" fill="#fcf9fc"/>
<rect x="460.70" y="259.00" width="43.90" height="1.55" fill="#faf5fb"/>
<rect x="460.70" y="260.50" width="43.90" height="1.55" fill="#fcf9fc"/>
<rect x="460.70" y="262.00" width="43.90" height="1.55" fill="#fcf9fc"/>
<rect x="460.70" y="263.50" width="43.90" height="1.55" fill="#fbf8fc"/>
<rect x="460.70" y="265.00" width="43.90" height="1.55" fill="#fbf8fc"/>
<rect x="460.70" y="266.50" width="43.90" height="1.55" fill="#fbf8fc"/>
<rect x="460.70" y="268.00" width="43.90" height="1.55" fill="#f9f4fa"/>
<rect x="460.70" y="269.50" width="43.90" height="1.55" fill="#fcfafd"/>
<rect x="460.70" y="271.00" width="43.90" height="1.55" fill="#fdfbfd"/>
<rect x="460.70" y="272.50" width="43.90" height="1.55" fill="#f9f4fa"/>
<rect x="460.70" y="274.00" width="43.90" height="1.55" fill="#f9f5fa"/>
<rect x="460.70" y="275.50" width="43.90" height="1.55" fill="#f9f4fa"/>
<rect x="460.70" y="277.00" width="43.90" height="1.55" fill="#fbf8fc"/>
<rect x="460.70" y="278.50" width="43.90" height="1.55" fill="#f9f4fa"/>
<rect x="460.70" y="280.00" width="43.90" height="1.55" fill="#f9f4fa"/>
<rect x="460.70" y="281.50" width="43.90" height="1.55" fill="#fcfafd"/>
<rect x="460.70" y="283.00" width="43.90" height="1.55" fill="#faf6fb"/>
<rect x="460.70" y="284.50" width="43.90" height="1.55" fill="#faf5fa"/>
<rect x="460.70" y="286.00" width="43.90" height="1.55" fill="#faf6fb"/>
<rect x="460.70" y="287.50" width="43.90" height="1.55" fill="#fbf7fc"/>
<rect x="460.70" y="289.00" width="43.90" height="1.55" fill="#fcf9fc"/>
<rect x="460.70" y="290.50" width="43.90" height="1.55" fill="#fcf9fc"/>
<rect x="460.70" y="292.00" width="43.90" height="1.55" fill="#fcfafd"/>
<rect x="460.70" y="293.50" width="43.90" height="1.55" fill="#fdfbfd"/>
<rect x="460.70" y="295.00" width="43.90" height="1.55" fill="#fbf7fb"/>
<rect x="460.70" y="296.50" width="43.90" height="1.55" fill="#fcf9fc"/>
<rect x="460.70" y="298.00" width="43.90" height="1.55" fill="#faf5fb"/>
<rect x="460.70" y="299.50" width="43.90" height="0.55" fill="#fdfbfd"/>
<rect x="504.60" y="200.00" width="43.70" height="1.55" fill="#fbf8fc"/>
<rect x="504.60" y="201.50" width="43.70" height="1.55" fill="#fcfafd"/>
<rect x="504.60" y="203.00" width="43.70" height="1.55" fill="#fbf8fc"/>
<rect x="504.60" y="204.50" width="43.70" height="1.55" fill="#fbf8fc"/>
<rect x="504.60" y="206.00" width="43.70" height="1.55" fill="#fbf8fc"/>
<rect x="504.60" y="207.50" width="43.70" height="1.55" fill="#fdfbfd"/>
<rect x="504.60" y="209.00" width="43.70" height="1.55" fill="#ffffff"/>
<rect x="504.60" y="210.50" width="43.70" height="1.55" fill="#fcf9fc"/>
<rect x="504.60" y="212.00" width="43.70" height="1.55" fill="#fefefe"/>
<rect x="504.60" y="213.50" width="43.70" height="1.55" fill="#fefdfe"/>
<rect x="504.60" y="215.00" width="43.70" height="1.55" fill="#fcfafd"/>
<rect x="504.60" y="216.50" width="43.70" height="1.55" fill="#fdfbfd"/>
<rect x="504.60" y="218.00" width="43.70" height="1.55" fill="#fdfcfe"/>
<rect x="504.60" y="219.50" width="43.70" height="1.55" fill="#fbf8fc"/>
<rect x="504.60" y="221.00" width="43.70" height="1.55" fill="#fdfafd"/>
<rect x="504.60" y="222.50" width="43.70" height="1.55" fill="#fefcfe"/>
<rect x="504.60" y="224.00" width="43.70" height="1.55" fill="#fefdfe"/>
<rect x="504.60" y="225.50" width="43.70" height="1.55" fill="#fbf9fc"/>
<rect x="504.60" y="227.00" width="43.70" height="1.55" fill="#fdfbfd"/>
<rect x="504.60" y="228.50" width="43.70" height="1.55" fill="#fcf9fc"/>
<rect x="504.60" y="230.00" width="43.70" height="1.55" fill="#fefcfe"/>
<rect x="504.60" y="231.50" width="43.70" height="1.55" fill="#fefefe"/>
<rect x="504.60" y="233.00" width="43.70" height="1.55" fill="#fdfbfd"/>
<rect x="504.60" y="234.50" width="43.70" height="1.55" fill="#fcf9fc"/>
<rect x="504.60" y="236.00" width="43.70" height="1.55" fill="#fefefe"/>
<rect x="504.60" y="237.50" width="43.70" height="1.55" fill="#fcf9fc"/>
<rect x="504.60" y="239.00" width="43.70" height="1.55" fill="#fbf8fc"/>
<rect x="504.60" y="240.50" width="43.70" height="1.55" fill="#fcf9fc"/>
<rect x="504.60" y="242.00" width="43.70" height="1.55" fill="#fcf9fc"/>
<rect x="504.60" y="243.50" width="43.70" height="1.55" fill="#ffffff"/>
<rect x="504.60" y="245.00" width="43.70" height="1.55" fill="#fcfafd"/>
<rect x="504.60" y="246.50" width="43.70" height="1.55" fill="#fbf9fc"/>
<rect x="504.60" y="248.00" width="43.70" height="1.55" fill="#ffffff"/>
<rect x="504.60" y="249.50" width="43.70" height="1.55" fill="#fefdfe"/>
<rect x="504.60" y="251.00" width="43.70" height="1.55" fill="#fefdfe"/>
<rect x="504.60" y="252.50" width="43.70" height="1.55" fill="#fdfbfd"/>
<rect x="504.60" y="254.00" width="43.70" height="1.55" fill="#fdfcfe"/>
<rect x="504.60" y="255.50" width="43.70" height="1.55" fill="#fdfbfd"/>
<rect x="504.60" y="257.00" width="43.70" height="1.55" fill="#fcf9fc"/>
<rect x="504.60" y="258.50" width="43.70" height="1.55" fill="#ffffff"/>
<rect x="504.60" y="260.00" width="43.70" height="1.55" fill="#ffffff"/>
<rect x="504.60" y="261.50" width="43.70" height="1.55" fill="#fefeff"/>
<rect x="504.60" y="263.00" width="43.70" height="1.55" fill="#fefeff"/>
<rect x="504.60" y="264.50" width="43.70" height="1.55" fill="#fffeff"/>
<rect x="504.60" y="266.00" width="43.70" height="1.55" fill="#fbf8fc"/>
<rect x="504.60" y="267.50" width="43.70" height="1.55" fill="#fcf9fc"/>
<rect x="504.60" y="269.00" width="43.70" height="1.55" fill="#fffeff"/>
<rect x="504.60" y="270.50" width="43.70" height="1.55" fill="#fdfbfd"/>
<rect x="504.60" y="272.00" width="43.70" height="1.55" fill="#fefdfe"/>
<rect x="504.60" y="273.50" width="43.70" height="1.55" fill="#fefdfe"/>
<rect x="504.60" y="275.00" width="43.70" height="1.55" fill="#fefcfe"/>
<rect x="504.60" y="276.50" width="43.70" height="1.55" fill="#fcfafd"/>
<rect x="504.60" y="278.00" width="43.70" height="1.55" fill="#fdfbfd"/>
<rect x="504.60" y="279.50" width="43.70" height="1.55" fill="#fefcfe"/>
<rect x="504.60" y="281.00" width="43.70" height="1.55" fill="#fefefe"/>
<rect x="504.60" y="282.50" width="43.70" height="1.55" fill="#fefdfe"/>
<rect x="504.60" y="284.00" width="43.70" height="1.55" fill="#fefeff"/>
<rect x="504.60" y="285.50" width="43.70" height="1.55" fill="#fdfbfd"/>
<rect x="504.60" y="287.00" width="43.70" height="1.55" fill="#fcfafd"/>
<rect x="504.60" y="288.50" width="43.70" height="1.55" fill="#fdfcfe"/>
<rect x="504.60" y="290.00" width="43.70" height="1.55" fill="#fffeff"/>
<rect x="504.60" y="291.50" width="43.70" height="1.55" fill="#fefefe"/>
<rect x="504.60" y="293.00" width="43.70" height="1.55" fill="#fdfcfe"/>
<rect x="504.60" y="294.50" width="43.70" height="1.55" fill="#fdfafd"/>
<rect x="504.60" y="296.00" width="43.70" height="1.55" fill="#fcf9fc"/>
<rect x="504.60" y="297.50" width="43.70" height="1.55" fill="#fdfcfe"/>
<rect x="504.60" y="299.00" width="43.70" height="1.05" fill="#fcf9fc"/>
<rect x="416.60" y="203.00" width="44.10" height="1.20" fill="#e9d8ee"/>
<rect x="416.60" y="207.00" width="44.10" height="1.20" fill="#e9d8ee"/>
<rect x="416.60" y="212.50" width="44.10" height="1.20" fill="#e9d8ee"/>
<rect x="460.70" y="201.00" width="43.90" height="1.20" fill="#e9d8ee"/>
<rect x="460.70" y="206.00" width="43.90" height="1.20" fill="#e9d8ee"/>
<rect x="460.70" y="212.00" width="43.90" height="1.20" fill="#e9d8ee"/>
<rect x="504.60" y="202.00" width="43.70" height="1.20" fill="#e9d8ee"/>
<rect x="504.60" y="207.00" width="43.70" height="1.20" fill="#e9d8ee"/>
<rect x="504.60" y="212.00" width="43.70" height="1.20" fill="#e9d8ee"/>
<rect x="504.60" y="227.50" width="43.70" height="1.20" fill="#e9d8ee"/>
<rect x="504.60" y="255.50" width="43.70" height="1.20" fill="#e9d8ee"/>
<rect x="460.70" y="254.00" width="43.90" height="1.20" fill="#e9d8ee"/>
<rect x="460.70" y="255.50" width="43.90" height="1.20" fill="#e9d8ee"/>
<rect x="416.60" y="228.00" width="44.10" height="1.20" fill="#e9d8ee"/>
<rect x="372.70" y="300.00" width="43.90" height="1.55" fill="#fbf8fc"/>
<rect x="372.70" y="301.50" width="43.90" height="1.55" fill="#fcfafd"/>
<rect x="372.70" y="303.00" width="43.90" height="1.55" fill="#fcfafd"/>
<rect x="372.70" y="304.50" width="43.90" height="1.55" fill="#fcf9fc"/>
<rect x="372.70" y="306.00" width="43.90" height="1.55" fill="#fbf8fc"/>
<rect x="372.70" y="307.50" width="43.90" height="1.55" fill="#fcfafd"/>
<rect x="372.70" y="309.00" width="43.90" height="1.55" fill="#fbf8fc"/>
<rect x="372.70" y="310.50" width="43.90" height="1.55" fill="#fcfafd"/>
<rect x="372.70" y="312.00" width="43.90" height="1.55" fill="#fdfbfd"/>
<rect x="372.70" y="313.50" width="43.90" height="1.55" fill="#fcf9fc"/>
<rect x="372.70" y="315.00" width="43.90" height="1.55" fill="#fbf8fc"/>
<rect x="372.70" y="316.50" width="43.90" height="1.55" fill="#fefdfe"/>
<rect x="372.70" y="318.00" width="43.90" height="1.55" fill="#fcfafd"/>
<rect x="372.70" y="319.50" width="43.90" height="1.55" fill="#fcfafd"/>
<rect x="372.70" y="321.00" width="43.90" height="1.55" fill="#faf7fb"/>
<rect x="372.70" y="322.50" width="43.90" height="1.55" fill="#faf6fb"/>
<rect x="372.70" y="324.00" width="43.90" height="1.55" fill="#fcfafd"/>
<rect x="372.70" y="325.50" width="43.90" height="1.55" fill="#faf6fb"/>
<rect x="372.70" y="327.00" width="43.90" height="1.55" fill="#fbf7fb"/>
<rect x="372.70" y="328.50" width="43.90" height="1.55" fill="#fdfbfd"/>
<rect x="372.70" y="330.00" width="43.90" height="1.05" fill="#fcfafd"/>
<rect x="416.60" y="300.00" width="44.10" height="1.55" fill="#cabbdf"/>
<rect x="416.60" y="301.50" width="44.10" height="1.55" fill="#c5b5dc"/>
<rect x="416.60" y="303.00" width="44.10" height="1.55" fill="#c6b7dd"/>
<rect x="416.60" y="304.50" width="44.10" height="1.05" fill="#c4b5dc"/>
<rect x="416.60" y="305.50" width="44.10" height="1.55" fill="#dccee8"/>
<rect x="416.60" y="307.00" width="44.10" height="1.55" fill="#dccfe8"/>
<rect x="416.60" y="308.50" width="44.10" height="1.55" fill="#dccee8"/>
<rect x="416.60" y="310.00" width="44.10" height="1.55" fill="#ddcfe8"/>
<rect x="416.60" y="311.50" width="44.10" height="1.55" fill="#e1d3eb"/>
<rect x="416.60" y="313.00" width="44.10" height="0.65" fill="#ddcfe8"/>
<rect x="416.60" y="313.60" width="44.10" height="1.55" fill="#efe5f3"/>
<rect x="416.60" y="315.10" width="44.10" height="1.55" fill="#eee4f2"/>
<rect x="416.60" y="316.60" width="44.10" height="1.55" fill="#eadff0"/>
<rect x="416.60" y="318.10" width="44.10" height="1.55" fill="#efe4f3"/>
<rect x="416.60" y="319.60" width="44.10" height="1.55" fill="#efe4f3"/>
<rect x="416.60" y="321.10" width="44.10" height="1.55" fill="#efe4f3"/>
<rect x="416.60" y="322.60" width="44.10" height="0.35" fill="#eadef0"/>
<rect x="416.60" y="322.90" width="44.10" height="1.55" fill="#f6eff8"/>
<rect x="416.60" y="324.40" width="44.10" height="1.55" fill="#f7f0f8"/>
<rect x="416.60" y="325.90" width="44.10" height="1.55" fill="#f3eaf5"/>
<rect x="416.60" y="327.40" width="44.10" height="1.55" fill="#f6eff8"/>
<rect x="416.60" y="328.90" width="44.10" height="1.55" fill="#f3eaf5"/>
<rect x="416.60" y="330.40" width="44.10" height="0.65" fill="#f4ebf6"/>
<rect x="460.70" y="300.00" width="43.90" height="1.55" fill="#fcfafd"/>
<rect x="460.70" y="301.50" width="43.90" height="1.55" fill="#fcfafd"/>
<rect x="460.70" y="303.00" width="43.90" height="1.55" fill="#fdfbfd"/>
<rect x="460.70" y="304.50" width="43.90" height="1.55" fill="#fcfafd"/>
<rect x="460.70" y="306.00" width="43.90" height="1.55" fill="#fefdfe"/>
<rect x="460.70" y="307.50" width="43.90" height="1.55" fill="#fcfafd"/>
<rect x="460.70" y="309.00" width="43.90" height="1.55" fill="#fdfbfd"/>
<rect x="460.70" y="310.50" width="43.90" height="1.55" fill="#fdfafd"/>
<rect x="460.70" y="312.00" width="43.90" height="1.55" fill="#fefdfe"/>
<rect x="460.70" y="313.50" width="43.90" height="1.55" fill="#fcfafd"/>
<rect x="460.70" y="315.00" width="43.90" height="1.55" fill="#fcfafd"/>
<rect x="460.70" y="316.50" width="43.90" height="1.55" fill="#fefdfe"/>
<rect x="460.70" y="318.00" width="43.90" height="1.55" fill="#fdfcfe"/>
<rect x="460.70" y="319.50" width="43.90" height="1.55" fill="#fdfbfd"/>
<rect x="460.70" y="321.00" width="43.90" height="1.55" fill="#fcfafd"/>
<rect x="460.70" y="322.50" width="43.90" height="1.55" fill="#fdfcfe"/>
<rect x="460.70" y="324.00" width="43.90" height="1.55" fill="#fefcfe"/>
<rect x="460.70" y="325.50" width="43.90" height="1.55" fill="#fdfcfe"/>
<rect x="460.70" y="327.00" width="43.90" height="1.55" fill="#fdfbfd"/>
<rect x="460.70" y="328.50" width="43.90" height="1.55" fill="#fcfafd"/>
<rect x="460.70" y="330.00" width="43.90" height="1.05" fill="#fdfcfd"/>
<rect x="504.60" y="300.00" width="43.70" height="1.55" fill="#fcfafd"/>
<rect x="504.60" y="301.50" width="43.70" height="1.55" fill="#fcfafd"/>
<rect x="504.60" y="303.00" width="43.70" height="1.55" fill="#fdfbfd"/>
<rect x="504.60" y="304.50" width="43.70" height="1.55" fill="#fcfafd"/>
<rect x="504.60" y="306.00" width="43.70" height="1.55" fill="#fefdfe"/>
<rect x="504.60" y="307.50" width="43.70" height="1.55" fill="#fcf9fc"/>
<rect x="504.60" y="309.00" width="43.70" height="1.55" fill="#faf6fb"/>
<rect x="504.60" y="310.50" width="43.70" height="1.55" fill="#fcfafd"/>
<rect x="504.60" y="312.00" width="43.70" height="1.55" fill="#fbf8fc"/>
<rect x="504.60" y="313.50" width="43.70" height="1.55" fill="#fdfcfe"/>
<rect x="504.60" y="315.00" width="43.70" height="1.55" fill="#fbf8fc"/>
<rect x="504.60" y="316.50" width="43.70" height="1.55" fill="#fbf7fc"/>
<rect x="504.60" y="318.00" width="43.70" height="1.55" fill="#fbf8fc"/>
<rect x="504.60" y="319.50" width="43.70" height="1.55" fill="#fcf9fc"/>
<rect x="504.60" y="321.00" width="43.70" height="1.55" fill="#fcfafd"/>
<rect x="504.60" y="322.50" width="43.70" height="1.55" fill="#fbf8fc"/>
<rect x="504.60" y="324.00" width="43.70" height="1.55" fill="#faf6fb"/>
<rect x="504.60" y="325.50" width="43.70" height="1.55" fill="#fdfcfe"/>
<rect x="504.60" y="327.00" width="43.70" height="1.55" fill="#fefcfe"/>
<rect x="504.60" y="328.50" width="43.70" height="1.55" fill="#fbf8fc"/>
<rect x="504.60" y="330.00" width="43.70" height="1.05" fill="#faf6fb"/>
<rect x="504.60" y="304.00" width="43.70" height="1.20" fill="#e9d8ee"/>
<rect x="504.60" y="311.50" width="43.70" height="1.20" fill="#e9d8ee"/>
<rect x="372.70" y="331.00" width="43.90" height="1.55" fill="#efe4f3"/>
<rect x="372.70" y="332.50" width="43.90" height="1.55" fill="#f0e5f3"/>
<rect x="372.70" y="334.00" width="43.90" height="1.55" fill="#ede2f2"/>
<rect x="372.70" y="335.50" width="43.90" height="1.55" fill="#f2e8f5"/>
<rect x="372.70" y="337.00" width="43.90" height="1.55" fill="#f2e7f4"/>
<rect x="372.70" y="338.50" width="43.90" height="1.55" fill="#f2e8f5"/>
<rect x="372.70" y="340.00" width="43.90" height="1.55" fill="#efe4f2"/>
<rect x="372.70" y="341.50" width="43.90" height="1.15" fill="#f1e7f4"/>
<rect x="372.70" y="342.60" width="43.90" height="1.55" fill="#efe4f3"/>
<rect x="372.70" y="344.10" width="43.90" height="1.55" fill="#eadef0"/>
<rect x="372.70" y="345.60" width="43.90" height="1.55" fill="#e8dbee"/>
<rect x="372.70" y="347.10" width="43.90" height="1.55" fill="#eee3f2"/>
<rect x="372.70" y="348.60" width="43.90" height="1.55" fill="#eadef0"/>
<rect x="372.70" y="350.10" width="43.90" height="1.55" fill="#ede2f2"/>
<rect x="372.70" y="351.60" width="43.90" height="1.55" fill="#e9ddef"/>
<rect x="372.70" y="353.10" width="43.90" height="1.55" fill="#ebe0f1"/>
<rect x="372.70" y="354.60" width="43.90" height="1.55" fill="#eee3f2"/>
<rect x="372.70" y="356.10" width="43.90" height="1.55" fill="#efe4f3"/>
<rect x="372.70" y="357.60" width="43.90" height="1.55" fill="#f1e6f4"/>
<rect x="372.70" y="359.10" width="43.90" height="1.55" fill="#ece1f1"/>
<rect x="372.70" y="360.60" width="43.90" height="1.55" fill="#ede2f2"/>
<rect x="372.70" y="362.10" width="43.90" height="1.55" fill="#efe5f3"/>
<rect x="372.70" y="363.60" width="43.90" height="1.55" fill="#eee2f2"/>
<rect x="372.70" y="365.10" width="43.90" height="1.55" fill="#eee3f2"/>
<rect x="372.70" y="366.60" width="43.90" height="1.55" fill="#eadef0"/>
<rect x="372.70" y="368.10" width="43.90" height="1.25" fill="#f0e5f3"/>
<rect x="372.70" y="369.30" width="43.90" height="1.55" fill="#f6eef7"/>
<rect x="372.70" y="370.80" width="43.90" height="1.55" fill="#f9f4fa"/>
<rect x="372.70" y="372.30" width="43.90" height="1.55" fill="#f8f3f9"/>
<rect x="372.70" y="373.80" width="43.90" height="1.55" fill="#f9f4fa"/>
<rect x="372.70" y="375.30" width="43.90" height="1.55" fill="#f7f0f8"/>
<rect x="372.70" y="376.80" width="43.90" height="1.55" fill="#f7f0f8"/>
<rect x="372.70" y="378.30" width="43.90" height="1.55" fill="#f9f3fa"/>
<rect x="372.70" y="379.80" width="43.90" height="1.55" fill="#f9f4fa"/>
<rect x="372.70" y="381.30" width="43.90" height="1.55" fill="#f8f1f9"/>
<rect x="372.70" y="382.80" width="43.90" height="1.55" fill="#f7f0f8"/>
<rect x="372.70" y="384.30" width="43.90" height="1.55" fill="#f9f5fa"/>
<rect x="372.70" y="385.80" width="43.90" height="1.55" fill="#f7f1f9"/>
<rect x="372.70" y="387.30" width="43.90" height="1.55" fill="#f6eff8"/>
<rect x="372.70" y="388.80" width="43.90" height="1.25" fill="#f9f4fa"/>
<rect x="372.70" y="390.00" width="43.90" height="1.55" fill="#f4ecf6"/>
<rect x="372.70" y="391.50" width="43.90" height="1.55" fill="#f4ecf6"/>
<rect x="372.70" y="393.00" width="43.90" height="1.55" fill="#f1e6f4"/>
<rect x="372.70" y="394.50" width="43.90" height="1.55" fill="#f1e6f4"/>
<rect x="372.70" y="396.00" width="43.90" height="1.55" fill="#eee3f2"/>
<rect x="372.70" y="397.50" width="43.90" height="1.55" fill="#efe4f3"/>
<rect x="372.70" y="399.00" width="43.90" height="1.55" fill="#f4ebf6"/>
<rect x="372.70" y="400.50" width="43.90" height="1.55" fill="#f5ecf6"/>
<rect x="372.70" y="402.00" width="43.90" height="1.55" fill="#f4ebf6"/>
<rect x="372.70" y="403.50" width="43.90" height="1.55" fill="#f5ecf6"/>
<rect x="372.70" y="405.00" width="43.90" height="1.55" fill="#f1e6f4"/>
<rect x="372.70" y="406.50" width="43.90" height="1.55" fill="#efe4f3"/>
<rect x="372.70" y="408.00" width="43.90" height="1.55" fill="#efe4f3"/>
<rect x="372.70" y="409.50" width="43.90" height="0.55" fill="#f4ebf6"/>
<rect x="416.60" y="331.00" width="44.10" height="1.55" fill="#fcfafd"/>
<rect x="416.60" y="332.50" width="44.10" height="1.55" fill="#fdfcfe"/>
<rect x="416.60" y="334.00" width="44.10" height="1.55" fill="#fdfcfd"/>
<rect x="416.60" y="335.50" width="44.10" height="1.55" fill="#fcfafd"/>
<rect x="416.60" y="337.00" width="44.10" height="1.55" fill="#fefdfe"/>
<rect x="416.60" y="338.50" width="44.10" height="1.55" fill="#fefdfe"/>
<rect x="416.60" y="340.00" width="44.10" height="1.55" fill="#fcfafd"/>
<rect x="416.60" y="341.50" width="44.10" height="1.55" fill="#fdfcfe"/>
<rect x="416.60" y="343.00" width="44.10" height="1.55" fill="#fdfcfe"/>
<rect x="416.60" y="344.50" width="44.10" height="1.55" fill="#fdfbfd"/>
<rect x="416.60" y="346.00" width="44.10" height="1.55" fill="#fdfbfd"/>
<rect x="416.60" y="347.50" width="44.10" height="1.55" fill="#fefdfe"/>
<rect x="416.60" y="349.00" width="44.10" height="1.55" fill="#fdfcfe"/>
<rect x="416.60" y="350.50" width="44.10" height="1.55" fill="#fdfbfd"/>
<rect x="416.60" y="352.00" width="44.10" height="1.55" fill="#fdfbfd"/>
<rect x="416.60" y="353.50" width="44.10" height="1.55" fill="#fefcfe"/>
<rect x="416.60" y="355.00" width="44.10" height="1.55" fill="#fdfbfd"/>
<rect x="416.60" y="356.50" width="44.10" height="1.55" fill="#fcfafd"/>
<rect x="416.60" y="358.00" width="44.10" height="1.55" fill="#fdfcfd"/>
<rect x="416.60" y="359.50" width="44.10" height="1.55" fill="#fdfbfd"/>
<rect x="416.60" y="361.00" width="44.10" height="1.55" fill="#fefdfe"/>
<rect x="416.60" y="362.50" width="44.10" height="1.55" fill="#fdfcfe"/>
<rect x="416.60" y="364.00" width="44.10" height="1.55" fill="#fdfbfd"/>
<rect x="416.60" y="365.50" width="44.10" height="1.55" fill="#fefdfe"/>
<rect x="416.60" y="367.00" width="44.10" height="1.55" fill="#fcfafd"/>
<rect x="416.60" y="368.50" width="44.10" height="1.55" fill="#fcfafd"/>
<rect x="416.60" y="370.00" width="44.10" height="1.55" fill="#fefdfe"/>
<rect x="416.60" y="371.50" width="44.10" height="1.55" fill="#fcfafd"/>
<rect x="416.60" y="373.00" width="44.10" height="1.55" fill="#fdfcfe"/>
<rect x="416.60" y="374.50" width="44.10" height="1.55" fill="#fcfafd"/>
<rect x="416.60" y="376.00" width="44.10" height="1.55" fill="#fcfafd"/>
<rect x="416.60" y="377.50" width="44.10" height="1.55" fill="#fdfcfe"/>
<rect x="416.60" y="379.00" width="44.10" height="1.55" fill="#fdfbfd"/>
<rect x="416.60" y="380.50" width="44.10" height="1.55" fill="#fdfbfd"/>
<rect x="416.60" y="382.00" width="44.10" height="1.55" fill="#fcfafd"/>
<rect x="416.60" y="383.50" width="44.10" height="1.55" fill="#fdfcfe"/>
<rect x="416.60" y="385.00" width="44.10" height="1.55" fill="#fcfafd"/>
<rect x="416.60" y="386.50" width="44.10" height="1.55" fill="#fcfafd"/>
<rect x="416.60" y="388.00" width="44.10" height="1.55" fill="#fdfbfd"/>
<rect x="416.60" y="389.50" width="44.10" height="1.55" fill="#fdfbfd"/>
<rect x="416.60" y="391.00" width="44.10" height="1.55" fill="#fefdfe"/>
<rect x="416.60" y="392.50" width="44.10" height="1.55" fill="#fdfbfd"/>
<rect x="416.60" y="394.00" width="44.10" height="1.55" fill="#fdfcfe"/>
<rect x="416.60" y="395.50" width="44.10" height="1.55" fill="#fdfafd"/>
<rect x="416.60" y="397.00" width="44.10" height="1.55" fill="#fdfbfd"/>
<rect x="416.60" y="398.50" width="44.10" height="1.55" fill="#fdfbfd"/>
<rect x="416.60" y="400.00" width="44.10" height="1.55" fill="#fefcfe"/>
<rect x="416.60" y="401.50" width="44.10" height="1.55" fill="#fdfbfd"/>
<rect x="416.60" y="403.00" width="44.10" height="1.55" fill="#fdfbfd"/>
<rect x="416.60" y="404.50" width="44.10" height="1.55" fill="#fefcfe"/>
<rect x="416.60" y="406.00" width="44.10" height="1.55" fill="#fcfafd"/>
<rect x="416.60" y="407.50" width="44.10" height="1.55" fill="#fdfbfd"/>
<rect x="416.60" y="409.00" width="44.10" height="1.05" fill="#fefdfe"/>
<rect x="460.70" y="331.00" width="43.90" height="1.55" fill="#9688c4"/>
<rect x="460.70" y="332.50" width="43.90" height="1.55" fill="#a091c8"/>
<rect x="460.70" y="334.00" width="43.90" height="1.55" fill="#9e8fc7"/>
<rect x="460.70" y="335.50" width="43.90" height="1.55" fill="#998bc5"/>
<rect x="460.70" y="337.00" width="43.90" height="1.55" fill="#9b8cc6"/>
<rect x="460.70" y="338.50" width="43.90" height="1.55" fill="#9b8cc6"/>
<rect x="460.70" y="340.00" width="43.90" height="1.55" fill="#9a8bc5"/>
<rect x="460.70" y="341.50" width="43.90" height="1.15" fill="#9d8ec6"/>
<rect x="460.70" y="342.60" width="43.90" height="1.55" fill="#c2b2da"/>
<rect x="460.70" y="344.10" width="43.90" height="1.55" fill="#c3b3db"/>
<rect x="460.70" y="345.60" width="43.90" height="1.55" fill="#c4b4dc"/>
<rect x="460.70" y="347.10" width="43.90" height="1.55" fill="#beaed8"/>
<rect x="460.70" y="348.60" width="43.90" height="1.55" fill="#beaed8"/>
<rect x="460.70" y="350.10" width="43.90" height="1.55" fill="#bfafd9"/>
<rect x="460.70" y="351.60" width="43.90" height="1.55" fill="#beaed8"/>
<rect x="460.70" y="353.10" width="43.90" height="1.55" fill="#c1b1da"/>
<rect x="460.70" y="354.60" width="43.90" height="1.55" fill="#c2b2db"/>
<rect x="460.70" y="356.10" width="43.90" height="1.55" fill="#c1b1da"/>
<rect x="460.70" y="357.60" width="43.90" height="1.55" fill="#bdadd8"/>
<rect x="460.70" y="359.10" width="43.90" height="1.55" fill="#c4b5dc"/>
<rect x="460.70" y="360.60" width="43.90" height="1.55" fill="#c0b0d9"/>
<rect x="460.70" y="362.10" width="43.90" height="1.55" fill="#c2b2db"/>
<rect x="460.70" y="363.60" width="43.90" height="1.55" fill="#beadd8"/>
<rect x="460.70" y="365.10" width="43.90" height="1.55" fill="#c1b1da"/>
<rect x="460.70" y="366.60" width="43.90" height="1.55" fill="#c1b2da"/>
<rect x="460.70" y="368.10" width="43.90" height="1.25" fill="#c1b1da"/>
<rect x="460.70" y="369.30" width="43.90" height="1.55" fill="#e7daee"/>
<rect x="460.70" y="370.80" width="43.90" height="1.55" fill="#e5d8ed"/>
<rect x="460.70" y="372.30" width="43.90" height="1.55" fill="#e9dcef"/>
<rect x="460.70" y="373.80" width="43.90" height="1.55" fill="#e5d7ed"/>
<rect x="460.70" y="375.30" width="43.90" height="1.55" fill="#eadff0"/>
<rect x="460.70" y="376.80" width="43.90" height="1.55" fill="#e9ddef"/>
<rect x="460.70" y="378.30" width="43.90" height="1.55" fill="#ebdff0"/>
<rect x="460.70" y="379.80" width="43.90" height="1.55" fill="#eadff0"/>
<rect x="460.70" y="381.30" width="43.90" height="1.55" fill="#e5d8ed"/>
<rect x="460.70" y="382.80" width="43.90" height="1.55" fill="#e5d9ed"/>
<rect x="460.70" y="384.30" width="43.90" height="1.55" fill="#eadef0"/>
<rect x="460.70" y="385.80" width="43.90" height="1.55" fill="#eadef0"/>
<rect x="460.70" y="387.30" width="43.90" height="1.55" fill="#e8dcef"/>
<rect x="460.70" y="388.80" width="43.90" height="1.55" fill="#e5d8ed"/>
<rect x="460.70" y="390.30" width="43.90" height="1.55" fill="#e5d8ed"/>
<rect x="460.70" y="391.80" width="43.90" height="1.55" fill="#e5d8ed"/>
<rect x="460.70" y="393.30" width="43.90" height="1.55" fill="#e7daee"/>
<rect x="460.70" y="394.80" width="43.90" height="1.55" fill="#eadef0"/>
<rect x="460.70" y="396.30" width="43.90" height="1.55" fill="#e8dcef"/>
<rect x="460.70" y="397.80" width="43.90" height="1.55" fill="#eadef0"/>
<rect x="460.70" y="399.30" width="43.90" height="1.55" fill="#e7dbee"/>
<rect x="460.70" y="400.80" width="43.90" height="1.55" fill="#e7daee"/>
<rect x="460.70" y="402.30" width="43.90" height="1.55" fill="#eadef0"/>
<rect x="460.70" y="403.80" width="43.90" height="1.55" fill="#e9ddef"/>
<rect x="460.70" y="405.30" width="43.90" height="1.55" fill="#e5d8ed"/>
<rect x="460.70" y="406.80" width="43.90" height="1.55" fill="#ebdff0"/>
<rect x="460.70" y="408.30" width="43.90" height="1.55" fill="#e5d8ed"/>
<rect x="460.70" y="409.80" width="43.90" height="0.25" fill="#e4d7ec"/>
<rect x="504.60" y="331.00" width="43.70" height="1.55" fill="#fbf8fc"/>
<rect x="504.60" y="332.50" width="43.70" height="1.55" fill="#fcfafd"/>
<rect x="504.60" y="334.00" width="43.70" height="1.55" fill="#fcf9fc"/>
<rect x="504.60" y="335.50" width="43.70" height="1.55" fill="#fcf9fc"/>
<rect x="504.60" y="337.00" width="43.70" height="1.55" fill="#fcf9fc"/>
<rect x="504.60" y="338.50" width="43.70" height="1.55" fill="#fbf8fc"/>
<rect x="504.60" y="340.00" width="43.70" height="1.55" fill="#fcf9fc"/>
<rect x="504.60" y="341.50" width="43.70" height="1.15" fill="#fcfafd"/>
<rect x="504.60" y="342.60" width="43.70" height="1.05" fill="#aa9acd"/>
<rect x="504.60" y="343.60" width="43.70" height="1.55" fill="#fcf9fc"/>
<rect x="504.60" y="345.10" width="43.70" height="1.55" fill="#fcf9fc"/>
<rect x="504.60" y="346.60" width="43.70" height="1.55" fill="#fbf9fc"/>
<rect x="504.60" y="348.10" width="43.70" height="1.55" fill="#fdfbfd"/>
<rect x="504.60" y="349.60" width="43.70" height="1.55" fill="#fbf8fc"/>
<rect x="504.60" y="351.10" width="43.70" height="1.55" fill="#fcf9fc"/>
<rect x="504.60" y="352.60" width="43.70" height="1.55" fill="#fcf9fc"/>
<rect x="504.60" y="354.10" width="43.70" height="1.55" fill="#fcf9fc"/>
<rect x="504.60" y="355.60" width="43.70" height="1.55" fill="#fcfafd"/>
<rect x="504.60" y="357.10" width="43.70" height="1.55" fill="#fdfbfd"/>
<rect x="504.60" y="358.60" width="43.70" height="1.55" fill="#fcf9fc"/>
<rect x="504.60" y="360.10" width="43.70" height="1.55" fill="#fdfbfd"/>
<rect x="504.60" y="361.60" width="43.70" height="0.45" fill="#fcf9fc"/>
<rect x="504.60" y="362.00" width="43.70" height="1.55" fill="#efe4f3"/>
<rect x="504.60" y="363.50" width="43.70" height="1.55" fill="#f0e5f3"/>
<rect x="504.60" y="365.00" width="43.70" height="1.55" fill="#efe4f3"/>
<rect x="504.60" y="366.50" width="43.70" height="1.55" fill="#eee3f2"/>
<rect x="504.60" y="368.00" width="43.70" height="1.35" fill="#eee3f2"/>
<rect x="504.60" y="369.30" width="43.70" height="1.55" fill="#fefdfe"/>
<rect x="504.60" y="370.80" width="43.70" height="1.55" fill="#fcfafd"/>
<rect x="504.60" y="372.30" width="43.70" height="1.55" fill="#fdfbfd"/>
<rect x="504.60" y="373.80" width="43.70" height="1.55" fill="#fefdfe"/>
<rect x="504.60" y="375.30" width="43.70" height="1.55" fill="#fdfcfe"/>
<rect x="504.60" y="376.80" width="43.70" height="1.55" fill="#fefcfe"/>
<rect x="504.60" y="378.30" width="43.70" height="1.55" fill="#fefdfe"/>
<rect x="504.60" y="379.80" width="43.70" height="1.55" fill="#fdfbfd"/>
<rect x="504.60" y="381.30" width="43.70" height="1.55" fill="#fcfafd"/>
<rect x="504.60" y="382.80" width="43.70" height="1.55" fill="#fdfcfe"/>
<rect x="504.60" y="384.30" width="43.70" height="1.55" fill="#fcfafd"/>
<rect x="504.60" y="385.80" width="43.70" height="1.55" fill="#fdfbfd"/>
<rect x="504.60" y="387.30" width="43.70" height="1.55" fill="#fefdfe"/>
<rect x="504.60" y="388.80" width="43.70" height="1.55" fill="#fcfafd"/>
<rect x="504.60" y="390.30" width="43.70" height="1.55" fill="#fdfbfd"/>
<rect x="504.60" y="391.80" width="43.70" height="1.55" fill="#fcfafd"/>
<rect x="504.60" y="393.30" width="43.70" height="1.55" fill="#fdfafd"/>
<rect x="504.60" y="394.80" width="43.70" height="1.55" fill="#fcfafd"/>
<rect x="504.60" y="396.30" width="43.70" height="1.55" fill="#fdfcfe"/>
<rect x="504.60" y="397.80" width="43.70" height="1.55" fill="#fcfafd"/>
<rect x="504.60" y="399.30" width="43.70" height="1.55" fill="#fcfafd"/>
<rect x="504.60" y="400.80" width="43.70" height="1.55" fill="#fcfafd"/>
<rect x="504.60" y="402.30" width="43.70" height="1.55" fill="#fdfbfd"/>
<rect x="504.60" y="403.80" width="43.70" height="1.55" fill="#fcfafd"/>
<rect x="504.60" y="405.30" width="43.70" height="1.55" fill="#fdfbfd"/>
<rect x="504.60" y="406.80" width="43.70" height="1.55" fill="#fefdfe"/>
<rect x="504.60" y="408.30" width="43.70" height="1.55" fill="#fefdfe"/>
<rect x="504.60" y="409.80" width="43.70" height="0.25" fill="#fefdfe"/>
<rect x="372.70" y="410.00" width="43.90" height="1.55" fill="#fcfafd"/>
<rect x="372.70" y="411.50" width="43.90" height="1.55" fill="#fcfafd"/>
<rect x="372.70" y="413.00" width="43.90" height="1.55" fill="#fbf8fc"/>
<rect x="372.70" y="414.50" width="43.90" height="1.55" fill="#faf6fb"/>
<rect x="372.70" y="416.00" width="43.90" height="1.55" fill="#fbf7fb"/>
<rect x="372.70" y="417.50" width="43.90" height="1.55" fill="#fbf8fc"/>
<rect x="372.70" y="419.00" width="43.90" height="1.55" fill="#faf6fb"/>
<rect x="372.70" y="420.50" width="43.90" height="1.55" fill="#fcf9fc"/>
<rect x="372.70" y="422.00" width="43.90" height="1.55" fill="#fbf8fc"/>
<rect x="372.70" y="423.50" width="43.90" height="1.55" fill="#faf6fb"/>
<rect x="372.70" y="425.00" width="43.90" height="1.55" fill="#fbf8fc"/>
<rect x="372.70" y="426.50" width="43.90" height="1.55" fill="#fcfafd"/>
<rect x="372.70" y="428.00" width="43.90" height="1.55" fill="#f9f5fa"/>
<rect x="372.70" y="429.50" width="43.90" height="1.55" fill="#faf6fb"/>
<rect x="372.70" y="431.00" width="43.90" height="1.55" fill="#fbf9fc"/>
<rect x="372.70" y="432.50" width="43.90" height="1.55" fill="#fbf8fc"/>
<rect x="372.70" y="434.00" width="43.90" height="1.55" fill="#fbf7fc"/>
<rect x="372.70" y="435.50" width="43.90" height="1.55" fill="#fbf7fb"/>
<rect x="372.70" y="437.00" width="43.90" height="1.55" fill="#fcfafd"/>
<rect x="372.70" y="438.50" width="43.90" height="1.55" fill="#fdfbfd"/>
<rect x="372.70" y="440.00" width="43.90" height="1.55" fill="#fcfafd"/>
<rect x="372.70" y="441.50" width="43.90" height="1.55" fill="#faf5fb"/>
<rect x="416.60" y="410.00" width="44.10" height="1.55" fill="#fefdfe"/>
<rect x="416.60" y="411.50" width="44.10" height="1.55" fill="#fdfbfd"/>
<rect x="416.60" y="413.00" width="44.10" height="1.55" fill="#fefcfe"/>
<rect x="416.60" y="414.50" width="44.10" height="1.55" fill="#fefcfe"/>
<rect x="416.60" y="416.00" width="44.10" height="1.55" fill="#fefcfe"/>
<rect x="416.60" y="417.50" width="44.10" height="1.55" fill="#fdfcfd"/>
<rect x="416.60" y="419.00" width="44.10" height="1.55" fill="#fefdfe"/>
<rect x="416.60" y="420.50" width="44.10" height="1.55" fill="#fefdfe"/>
<rect x="416.60" y="422.00" width="44.10" height="1.55" fill="#fefdfe"/>
<rect x="416.60" y="423.50" width="44.10" height="1.55" fill="#fefdfe"/>
<rect x="416.60" y="425.00" width="44.10" height="1.55" fill="#fdfbfd"/>
<rect x="416.60" y="426.50" width="44.10" height="1.55" fill="#fefdfe"/>
<rect x="416.60" y="428.00" width="44.10" height="1.55" fill="#fefdfe"/>
<rect x="416.60" y="429.50" width="44.10" height="1.55" fill="#fdfbfd"/>
<rect x="416.60" y="431.00" width="44.10" height="1.55" fill="#fdfcfd"/>
<rect x="416.60" y="432.50" width="44.10" height="1.55" fill="#fdfafd"/>
<rect x="416.60" y="434.00" width="44.10" height="1.55" fill="#fefdfe"/>
<rect x="416.60" y="435.50" width="44.10" height="1.55" fill="#fdfcfd"/>
<rect x="416.60" y="437.00" width="44.10" height="1.55" fill="#fdfcfd"/>
<rect x="416.60" y="438.50" width="44.10" height="1.55" fill="#fefdfe"/>
<rect x="416.60" y="440.00" width="44.10" height="1.55" fill="#fcfafd"/>
<rect x="416.60" y="441.50" width="44.10" height="1.55" fill="#fefcfe"/>
<rect x="460.70" y="410.00" width="43.90" height="1.55" fill="#fefcfe"/>
<rect x="460.70" y="411.50" width="43.90" height="1.55" fill="#fcfafd"/>
<rect x="460.70" y="413.00" width="43.90" height="1.55" fill="#fdfcfe"/>
<rect x="460.70" y="414.50" width="43.90" height="1.55" fill="#fbf8fc"/>
<rect x="460.70" y="416.00" width="43.90" height="1.55" fill="#fdfbfd"/>
<rect x="460.70" y="417.50" width="43.90" height="1.55" fill="#fdfcfe"/>
<rect x="460.70" y="419.00" width="43.90" height="1.55" fill="#fefdfe"/>
<rect x="460.70" y="420.50" width="43.90" height="1.55" fill="#fbf8fc"/>
<rect x="460.70" y="422.00" width="43.90" height="1.55" fill="#fdfbfd"/>
<rect x="460.70" y="423.50" width="43.90" height="1.55" fill="#fbf7fb"/>
<rect x="460.70" y="425.00" width="43.90" height="1.55" fill="#fcfafd"/>
<rect x="460.70" y="426.50" width="43.90" height="1.55" fill="#faf6fb"/>
<rect x="460.70" y="428.00" width="43.90" height="1.55" fill="#fdfbfd"/>
<rect x="460.70" y="429.50" width="43.90" height="1.55" fill="#fdfbfd"/>
<rect x="460.70" y="431.00" width="43.90" height="1.55" fill="#fdfbfd"/>
<rect x="460.70" y="432.50" width="43.90" height="1.55" fill="#fbf7fb"/>
<rect x="460.70" y="434.00" width="43.90" height="1.55" fill="#fbf8fc"/>
<rect x="460.70" y="435.50" width="43.90" height="1.55" fill="#fdfbfd"/>
<rect x="460.70" y="437.00" width="43.90" height="1.55" fill="#fefcfe"/>
<rect x="460.70" y="438.50" width="43.90" height="1.55" fill="#fbf8fc"/>
<rect x="460.70" y="440.00" width="43.90" height="1.55" fill="#faf6fb"/>
<rect x="460.70" y="441.50" width="43.90" height="1.55" fill="#fcf9fc"/>
<rect x="504.60" y="403.00" width="43.70" height="1.55" fill="#f6eef7"/>
<rect x="504.60" y="404.50" width="43.70" height="1.55" fill="#f6eef7"/>
<rect x="504.60" y="406.00" width="43.70" height="1.55" fill="#f5edf7"/>
<rect x="504.60" y="407.50" width="43.70" height="1.55" fill="#f4ecf6"/>
<rect x="504.60" y="409.00" width="43.70" height="1.05" fill="#f6eef7"/>
<rect x="504.60" y="410.00" width="43.70" height="1.55" fill="#ddcfe8"/>
<rect x="504.60" y="411.50" width="43.70" height="1.55" fill="#d4c7e4"/>
<rect x="504.60" y="413.00" width="43.70" height="1.55" fill="#d0c2e2"/>
<rect x="504.60" y="414.50" width="43.70" height="1.55" fill="#dbcde7"/>
<rect x="504.60" y="416.00" width="43.70" height="1.55" fill="#cfc1e1"/>
<rect x="504.60" y="417.50" width="43.70" height="0.55" fill="#d7c9e5"/>
<rect x="504.60" y="418.00" width="43.70" height="1.55" fill="#bdadd8"/>
<rect x="504.60" y="419.50" width="43.70" height="1.55" fill="#bcacd7"/>
<rect x="504.60" y="421.00" width="43.70" height="1.55" fill="#bcabd7"/>
<rect x="504.60" y="422.50" width="43.70" height="1.55" fill="#c9b9de"/>
<rect x="504.60" y="424.00" width="43.70" height="1.55" fill="#c5b5dc"/>
<rect x="504.60" y="425.50" width="43.70" height="0.55" fill="#c0b0da"/>
<rect x="504.60" y="426.00" width="43.70" height="1.55" fill="#a494ca"/>
<rect x="504.60" y="427.50" width="43.70" height="1.55" fill="#b3a2d2"/>
<rect x="504.60" y="429.00" width="43.70" height="1.55" fill="#af9fd0"/>
<rect x="504.60" y="430.50" width="43.70" height="1.55" fill="#a596cb"/>
<rect x="504.60" y="432.00" width="43.70" height="1.55" fill="#b2a2d1"/>
<rect x="504.60" y="433.50" width="43.70" height="0.55" fill="#ae9dcf"/>
<rect x="504.60" y="434.00" width="43.70" height="1.55" fill="#8b7ebf"/>
<rect x="504.60" y="435.50" width="43.70" height="1.55" fill="#8678bc"/>
<rect x="504.60" y="437.00" width="43.70" height="1.55" fill="#8375b9"/>
<rect x="504.60" y="438.50" width="43.70" height="1.55" fill="#8d80c1"/>
<rect x="504.60" y="440.00" width="43.70" height="1.55" fill="#6b5ca9"/>
<rect x="504.60" y="441.50" width="43.70" height="1.55" fill="#6c5ca9"/>
<rect x="372.70" y="442.66" width="43.90" height="1.55" fill="#4556a2"/>
<rect x="372.70" y="444.16" width="43.90" height="1.55" fill="#4656a2"/>
<rect x="372.70" y="445.66" width="43.90" height="1.55" fill="#4456a2"/>
<rect x="372.70" y="447.16" width="43.90" height="1.51" fill="#4755a3"/>
<rect x="372.70" y="448.62" width="43.90" height="1.55" fill="#6959a8"/>
<rect x="372.70" y="450.12" width="43.90" height="1.55" fill="#6b5ba9"/>
<rect x="372.70" y="451.62" width="43.90" height="1.55" fill="#6556a7"/>
<rect x="372.70" y="453.12" width="43.90" height="0.32" fill="#6859a8"/>
<rect x="372.70" y="453.39" width="43.90" height="1.55" fill="#f6eff8"/>
<rect x="372.70" y="454.89" width="43.90" height="0.25" fill="#f7f0f8"/>
<rect x="372.70" y="455.09" width="43.90" height="1.55" fill="#887bbd"/>
<rect x="372.70" y="456.59" width="43.90" height="1.55" fill="#897cbe"/>
<rect x="372.70" y="458.09" width="43.90" height="0.80" fill="#887bbd"/>
<rect x="372.70" y="458.83" width="43.90" height="1.55" fill="#dbcee7"/>
<rect x="372.70" y="460.33" width="43.90" height="1.10" fill="#dacde7"/>
<rect x="372.70" y="461.39" width="43.90" height="1.55" fill="#4755a3"/>
<rect x="372.70" y="462.89" width="43.90" height="1.55" fill="#4556a2"/>
<rect x="372.70" y="464.39" width="43.90" height="1.55" fill="#4855a3"/>
<rect x="372.70" y="465.89" width="43.90" height="1.55" fill="#4655a3"/>
<rect x="372.70" y="467.39" width="43.90" height="1.55" fill="#4556a2"/>
<rect x="372.70" y="468.89" width="43.90" height="1.55" fill="#4556a2"/>
<rect x="372.70" y="470.39" width="43.90" height="1.55" fill="#4855a3"/>
<rect x="372.70" y="471.89" width="43.90" height="1.55" fill="#4755a3"/>
<rect x="372.70" y="473.39" width="43.90" height="1.55" fill="#4556a2"/>
<rect x="372.70" y="474.89" width="43.90" height="0.17" fill="#4556a2"/>
<rect x="372.70" y="475.01" width="43.90" height="1.55" fill="#5650a3"/>
<rect x="372.70" y="476.51" width="43.90" height="1.55" fill="#5650a3"/>
<rect x="372.70" y="478.01" width="43.90" height="1.55" fill="#5b52a4"/>
<rect x="372.70" y="479.51" width="43.90" height="1.55" fill="#5650a3"/>
<rect x="372.70" y="481.01" width="43.90" height="0.86" fill="#5851a3"/>
<rect x="372.70" y="481.82" width="43.90" height="1.55" fill="#887bbe"/>
<rect x="372.70" y="483.32" width="43.90" height="1.55" fill="#887bbd"/>
<rect x="372.70" y="484.82" width="43.90" height="1.55" fill="#8b7ebf"/>
<rect x="372.70" y="486.32" width="43.90" height="1.55" fill="#887abd"/>
<rect x="372.70" y="487.82" width="43.90" height="1.55" fill="#8274b9"/>
<rect x="372.70" y="489.32" width="43.90" height="1.55" fill="#8b7ebf"/>
<rect x="372.70" y="490.82" width="43.90" height="1.55" fill="#8679bc"/>
<rect x="372.70" y="492.32" width="43.90" height="1.55" fill="#8b7ebf"/>
<rect x="372.70" y="493.82" width="43.90" height="0.82" fill="#8b7ebf"/>
<rect x="372.70" y="494.58" width="43.90" height="1.55" fill="#b5a4d2"/>
<rect x="372.70" y="496.08" width="43.90" height="1.55" fill="#b9a8d5"/>
<rect x="372.70" y="497.58" width="43.90" height="1.55" fill="#bbaad6"/>
<rect x="372.70" y="499.08" width="43.90" height="1.55" fill="#baa9d5"/>
<rect x="372.70" y="500.58" width="43.90" height="1.55" fill="#b5a4d2"/>
<rect x="372.70" y="502.08" width="43.90" height="1.06" fill="#b6a5d3"/>
<rect x="372.70" y="503.10" width="43.90" height="1.55" fill="#c7b8dd"/>
<rect x="372.70" y="504.60" width="43.90" height="1.55" fill="#c5b5dc"/>
<rect x="372.70" y="506.10" width="43.90" height="1.55" fill="#bdadd8"/>
<rect x="372.70" y="507.60" width="43.90" height="1.55" fill="#c5b5dc"/>
<rect x="372.70" y="509.10" width="43.90" height="1.55" fill="#c1b1da"/>
<rect x="372.70" y="510.60" width="43.90" height="1.55" fill="#c3b3db"/>
<rect x="372.70" y="512.10" width="43.90" height="0.41" fill="#bfafd9"/>
<rect x="372.70" y="512.46" width="43.90" height="1.55" fill="#f8f3f9"/>
<rect x="372.70" y="513.96" width="43.90" height="1.55" fill="#f7f1f8"/>
<rect x="372.70" y="515.46" width="43.90" height="1.55" fill="#f9f3fa"/>
<rect x="372.70" y="516.96" width="43.90" height="1.55" fill="#fbf7fb"/>
<rect x="372.70" y="518.46" width="43.90" height="1.55" fill="#fbf7fc"/>
<rect x="372.70" y="519.96" width="43.90" height="1.55" fill="#fbf9fc"/>
<rect x="372.70" y="521.46" width="43.90" height="1.55" fill="#f7f0f8"/>
<rect x="372.70" y="522.96" width="43.90" height="0.62" fill="#fbf8fc"/>
<rect x="372.70" y="523.53" width="43.90" height="1.55" fill="#cbbcdf"/>
<rect x="372.70" y="525.03" width="43.90" height="1.55" fill="#c0b0da"/>
<rect x="372.70" y="526.53" width="43.90" height="1.55" fill="#c9bade"/>
<rect x="372.70" y="528.03" width="43.90" height="0.66" fill="#c1b1da"/>
<rect x="372.70" y="528.63" width="43.90" height="1.55" fill="#f5edf7"/>
<rect x="372.70" y="530.13" width="43.90" height="1.55" fill="#f3e9f5"/>
<rect x="372.70" y="531.63" width="43.90" height="1.55" fill="#f4ecf6"/>
<rect x="372.70" y="533.13" width="43.90" height="0.66" fill="#efe5f3"/>
<rect x="372.70" y="533.74" width="43.90" height="1.55" fill="#ded0e9"/>
<rect x="372.70" y="535.24" width="43.90" height="1.55" fill="#ded0e9"/>
<rect x="372.70" y="536.74" width="43.90" height="1.55" fill="#ddcfe8"/>
<rect x="372.70" y="538.24" width="43.90" height="1.00" fill="#dbcee7"/>
<rect x="416.60" y="442.66" width="44.10" height="1.55" fill="#9b8cc6"/>
<rect x="416.60" y="444.16" width="44.10" height="1.55" fill="#988ac5"/>
<rect x="416.60" y="445.66" width="44.10" height="1.55" fill="#9a8bc5"/>
<rect x="416.60" y="447.16" width="44.10" height="1.51" fill="#9d8ec7"/>
<rect x="416.60" y="448.62" width="44.10" height="1.55" fill="#b4a3d2"/>
<rect x="416.60" y="450.12" width="44.10" height="1.55" fill="#b6a5d3"/>
<rect x="416.60" y="451.62" width="44.10" height="0.45" fill="#b4a3d2"/>
<rect x="416.60" y="452.02" width="44.10" height="1.55" fill="#fcfafd"/>
<rect x="416.60" y="453.52" width="44.10" height="0.25" fill="#fbf7fb"/>
<rect x="416.60" y="453.73" width="44.10" height="1.55" fill="#aa9acd"/>
<rect x="416.60" y="455.23" width="44.10" height="1.55" fill="#a797cc"/>
<rect x="416.60" y="456.73" width="44.10" height="0.45" fill="#ad9dcf"/>
<rect x="416.60" y="457.13" width="44.10" height="1.55" fill="#c8b9de"/>
<rect x="416.60" y="458.63" width="44.10" height="1.55" fill="#c7b8de"/>
<rect x="416.60" y="460.13" width="44.10" height="1.31" fill="#cabcdf"/>
<rect x="416.60" y="461.39" width="44.10" height="1.55" fill="#fbf7fb"/>
<rect x="416.60" y="462.89" width="44.10" height="1.55" fill="#faf6fb"/>
<rect x="416.60" y="464.39" width="44.10" height="1.55" fill="#fbf8fc"/>
<rect x="416.60" y="465.89" width="44.10" height="1.55" fill="#faf6fb"/>
<rect x="416.60" y="467.39" width="44.10" height="1.55" fill="#faf7fb"/>
<rect x="416.60" y="468.89" width="44.10" height="1.55" fill="#fcfafd"/>
<rect x="416.60" y="470.39" width="44.10" height="1.55" fill="#fcf9fc"/>
<rect x="416.60" y="471.89" width="44.10" height="1.55" fill="#f9f4fa"/>
<rect x="416.60" y="473.39" width="44.10" height="1.55" fill="#fcf9fc"/>
<rect x="416.60" y="474.89" width="44.10" height="1.55" fill="#fbf8fc"/>
<rect x="416.60" y="476.39" width="44.10" height="1.55" fill="#fdfbfd"/>
<rect x="416.60" y="477.89" width="44.10" height="1.55" fill="#fcfafd"/>
<rect x="416.60" y="479.39" width="44.10" height="1.55" fill="#fcfafd"/>
<rect x="416.60" y="480.89" width="44.10" height="1.55" fill="#f9f4fa"/>
<rect x="416.60" y="482.39" width="44.10" height="1.55" fill="#faf6fb"/>
<rect x="416.60" y="483.89" width="44.10" height="1.55" fill="#f9f5fa"/>
<rect x="416.60" y="485.39" width="44.10" height="1.55" fill="#f9f4fa"/>
<rect x="416.60" y="486.89" width="44.10" height="1.55" fill="#faf7fb"/>
<rect x="416.60" y="488.39" width="44.10" height="1.55" fill="#f9f4fa"/>
<rect x="416.60" y="489.89" width="44.10" height="1.55" fill="#fbf7fb"/>
<rect x="416.60" y="491.39" width="44.10" height="1.55" fill="#fbf8fc"/>
<rect x="416.60" y="492.89" width="44.10" height="1.55" fill="#f9f4fa"/>
<rect x="416.60" y="494.39" width="44.10" height="1.55" fill="#f9f5fa"/>
<rect x="416.60" y="495.89" width="44.10" height="1.55" fill="#f9f4fa"/>
<rect x="416.60" y="497.39" width="44.10" height="1.55" fill="#fbf8fc"/>
<rect x="416.60" y="498.89" width="44.10" height="1.55" fill="#faf5fb"/>
<rect x="416.60" y="500.39" width="44.10" height="1.55" fill="#fbf8fc"/>
<rect x="416.60" y="501.89" width="44.10" height="1.55" fill="#f9f4fa"/>
<rect x="416.60" y="503.39" width="44.10" height="1.55" fill="#f9f4fa"/>
<rect x="416.60" y="504.89" width="44.10" height="1.55" fill="#fcf9fc"/>
<rect x="416.60" y="506.39" width="44.10" height="1.55" fill="#f9f4fa"/>
<rect x="416.60" y="507.89" width="44.10" height="1.55" fill="#fcfafd"/>
<rect x="416.60" y="509.39" width="44.10" height="1.55" fill="#fdfbfd"/>
<rect x="416.60" y="510.89" width="44.10" height="1.55" fill="#faf6fb"/>
<rect x="416.60" y="512.39" width="44.10" height="0.97" fill="#fcf9fc"/>
<rect x="416.60" y="513.31" width="44.10" height="1.55" fill="#9486c3"/>
<rect x="416.60" y="514.81" width="44.10" height="1.55" fill="#9285c2"/>
<rect x="416.60" y="516.31" width="44.10" height="0.45" fill="#998ac5"/>
<rect x="416.60" y="516.72" width="44.10" height="1.55" fill="#dccee8"/>
<rect x="416.60" y="518.22" width="44.10" height="1.55" fill="#dfd1ea"/>
<rect x="416.60" y="519.72" width="44.10" height="1.55" fill="#ded0e9"/>
<rect x="416.60" y="521.22" width="44.10" height="1.55" fill="#dfd1e9"/>
<rect x="416.60" y="522.72" width="44.10" height="0.86" fill="#dccee8"/>
<rect x="416.60" y="523.53" width="44.10" height="1.55" fill="#fcf9fc"/>
<rect x="416.60" y="525.03" width="44.10" height="1.55" fill="#fefdfe"/>
<rect x="416.60" y="526.53" width="44.10" height="1.55" fill="#fffeff"/>
<rect x="416.60" y="528.03" width="44.10" height="1.55" fill="#fefdfe"/>
<rect x="416.60" y="529.53" width="44.10" height="1.55" fill="#fdfcfe"/>
<rect x="416.60" y="531.03" width="44.10" height="1.55" fill="#fffeff"/>
<rect x="416.60" y="532.53" width="44.10" height="1.55" fill="#fefefe"/>
<rect x="416.60" y="534.03" width="44.10" height="1.55" fill="#fcf9fc"/>
<rect x="416.60" y="535.53" width="44.10" height="1.55" fill="#fcfafd"/>
<rect x="416.60" y="537.03" width="44.10" height="1.55" fill="#fbf8fc"/>
<rect x="416.60" y="538.53" width="44.10" height="0.71" fill="#fbf8fc"/>
<rect x="460.70" y="442.66" width="43.90" height="1.55" fill="#4556a2"/>
<rect x="460.70" y="444.16" width="43.90" height="1.55" fill="#4755a3"/>
<rect x="460.70" y="445.66" width="43.90" height="1.55" fill="#4755a3"/>
<rect x="460.70" y="447.16" width="43.90" height="1.55" fill="#4755a3"/>
<rect x="460.70" y="448.66" width="43.90" height="1.55" fill="#4655a3"/>
<rect x="460.70" y="450.16" width="43.90" height="1.55" fill="#4656a2"/>
<rect x="460.70" y="451.66" width="43.90" height="1.55" fill="#4656a2"/>
<rect x="460.70" y="453.16" width="43.90" height="0.62" fill="#4755a3"/>
<rect x="460.70" y="453.73" width="43.90" height="1.55" fill="#bcacd7"/>
<rect x="460.70" y="455.23" width="43.90" height="1.55" fill="#c2b2db"/>
<rect x="460.70" y="456.73" width="43.90" height="1.55" fill="#c0b0da"/>
<rect x="460.70" y="458.23" width="43.90" height="1.55" fill="#bcacd7"/>
<rect x="460.70" y="459.73" width="43.90" height="1.55" fill="#bdadd8"/>
<rect x="460.70" y="461.23" width="43.90" height="0.21" fill="#c2b2db"/>
<rect x="460.70" y="461.39" width="43.90" height="1.55" fill="#4755a3"/>
<rect x="460.70" y="462.89" width="43.90" height="1.55" fill="#4556a2"/>
<rect x="460.70" y="464.39" width="43.90" height="1.55" fill="#4855a3"/>
<rect x="460.70" y="465.89" width="43.90" height="1.55" fill="#4855a3"/>
<rect x="460.70" y="467.39" width="43.90" height="1.55" fill="#4656a2"/>
<rect x="460.70" y="468.89" width="43.90" height="1.55" fill="#4656a2"/>
<rect x="460.70" y="470.39" width="43.90" height="1.55" fill="#4755a3"/>
<rect x="460.70" y="471.89" width="43.90" height="1.55" fill="#4855a3"/>
<rect x="460.70" y="473.39" width="43.90" height="1.55" fill="#4755a3"/>
<rect x="460.70" y="474.89" width="43.90" height="0.17" fill="#4556a2"/>
<rect x="460.70" y="475.01" width="43.90" height="1.55" fill="#7767b1"/>
<rect x="460.70" y="476.51" width="43.90" height="1.55" fill="#7161ad"/>
<rect x="460.70" y="478.01" width="43.90" height="1.55" fill="#7363ae"/>
<rect x="460.70" y="479.51" width="43.90" height="1.55" fill="#7161ad"/>
<rect x="460.70" y="481.01" width="43.90" height="1.55" fill="#7c6db4"/>
<rect x="460.70" y="482.51" width="43.90" height="1.55" fill="#7a6bb3"/>
<rect x="460.70" y="484.01" width="43.90" height="1.55" fill="#7c6db5"/>
<rect x="460.70" y="485.51" width="43.90" height="1.47" fill="#7767b1"/>
<rect x="460.70" y="486.92" width="43.90" height="1.55" fill="#ac9bce"/>
<rect x="460.70" y="488.42" width="43.90" height="1.55" fill="#af9fd0"/>
<rect x="460.70" y="489.92" width="43.90" height="1.55" fill="#a999cd"/>
<rect x="460.70" y="491.42" width="43.90" height="1.55" fill="#af9ed0"/>
<rect x="460.70" y="492.92" width="43.90" height="1.55" fill="#ac9cce"/>
<rect x="460.70" y="494.42" width="43.90" height="1.55" fill="#ad9ccf"/>
<rect x="460.70" y="495.92" width="43.90" height="1.55" fill="#a596cb"/>
<rect x="460.70" y="497.42" width="43.90" height="1.55" fill="#aa9ace"/>
<rect x="460.70" y="498.92" width="43.90" height="1.55" fill="#ad9ccf"/>
<rect x="460.70" y="500.42" width="43.90" height="1.55" fill="#af9fd0"/>
<rect x="460.70" y="501.92" width="43.90" height="0.37" fill="#aa9ace"/>
<rect x="460.70" y="502.25" width="43.90" height="1.55" fill="#dccfe8"/>
<rect x="460.70" y="503.75" width="43.90" height="1.55" fill="#dccee8"/>
<rect x="460.70" y="505.25" width="43.90" height="1.55" fill="#d9cce6"/>
<rect x="460.70" y="506.75" width="43.90" height="1.55" fill="#dacde7"/>
<rect x="460.70" y="508.25" width="43.90" height="1.55" fill="#e1d3eb"/>
<rect x="460.70" y="509.75" width="43.90" height="1.55" fill="#e3d6ec"/>
<rect x="460.70" y="511.25" width="43.90" height="1.26" fill="#dbcde7"/>
<rect x="460.70" y="512.46" width="43.90" height="1.55" fill="#f9f4fa"/>
<rect x="460.70" y="513.96" width="43.90" height="1.55" fill="#fbf7fc"/>
<rect x="460.70" y="515.46" width="43.90" height="1.55" fill="#f9f4fa"/>
<rect x="460.70" y="516.96" width="43.90" height="1.55" fill="#fbf7fb"/>
<rect x="460.70" y="518.46" width="43.90" height="1.55" fill="#fcfafd"/>
<rect x="460.70" y="519.96" width="43.90" height="1.55" fill="#fdfbfd"/>
<rect x="460.70" y="521.46" width="43.90" height="1.55" fill="#fefdfe"/>
<rect x="460.70" y="522.96" width="43.90" height="1.55" fill="#faf6fb"/>
<rect x="460.70" y="524.46" width="43.90" height="1.55" fill="#f8f3fa"/>
<rect x="460.70" y="525.96" width="43.90" height="1.02" fill="#f8f3fa"/>
<rect x="460.70" y="526.93" width="43.90" height="1.55" fill="#e6daee"/>
<rect x="460.70" y="528.43" width="43.90" height="1.55" fill="#e2d5eb"/>
<rect x="460.70" y="529.93" width="43.90" height="1.55" fill="#ded1e9"/>
<rect x="460.70" y="531.43" width="43.90" height="1.51" fill="#e0d2ea"/>
<rect x="460.70" y="532.89" width="43.90" height="1.55" fill="#4c53a3"/>
<rect x="460.70" y="534.39" width="43.90" height="1.55" fill="#4d53a3"/>
<rect x="460.70" y="535.89" width="43.90" height="1.55" fill="#4c53a3"/>
<rect x="460.70" y="537.39" width="43.90" height="1.55" fill="#4e52a3"/>
<rect x="460.70" y="538.89" width="43.90" height="0.35" fill="#4e52a3"/>
<rect x="504.60" y="443.25" width="43.70" height="1.68" fill="#5251a3"/>
<rect x="504.60" y="444.88" width="43.70" height="1.68" fill="#beaed8"/>
<rect x="504.60" y="446.51" width="43.70" height="2.49" fill="#4c53a3"/>
<rect x="504.60" y="448.95" width="43.70" height="1.19" fill="#beaed8"/>
<rect x="504.60" y="450.09" width="43.70" height="3.05" fill="#4c53a3"/>
<rect x="504.60" y="453.09" width="43.70" height="0.79" fill="#4c53a3"/>
<rect x="504.60" y="453.83" width="43.70" height="2.17" fill="#e0d2ea"/>
<rect x="504.60" y="455.95" width="43.70" height="2.00" fill="#8071b7"/>
<rect x="504.60" y="457.90" width="43.70" height="2.49" fill="#ece1f1"/>
<rect x="504.60" y="460.34" width="43.70" height="1.68" fill="#9486c3"/>
<rect x="504.60" y="461.97" width="43.70" height="2.49" fill="#fbf8fc"/>
<rect x="504.60" y="464.41" width="43.70" height="1.68" fill="#887bbe"/>
<rect x="504.60" y="466.04" width="43.70" height="2.98" fill="#f9f4fa"/>
<rect x="504.60" y="468.97" width="43.70" height="2.82" fill="#e6d9ed"/>
<rect x="504.60" y="471.73" width="43.70" height="2.49" fill="#4e52a3"/>
<rect x="504.60" y="474.17" width="43.70" height="3.05" fill="#f9f4fa"/>
<rect x="504.60" y="477.17" width="43.70" height="1.93" fill="#f9f4fa"/>
<rect x="504.60" y="479.06" width="43.70" height="1.68" fill="#887bbe"/>
<rect x="504.60" y="480.68" width="43.70" height="3.05" fill="#f7f0f8"/>
<rect x="504.60" y="483.68" width="43.70" height="0.30" fill="#f7f0f8"/>
<rect x="504.60" y="483.94" width="43.70" height="2.49" fill="#a191c8"/>
<rect x="504.60" y="486.38" width="43.70" height="3.05" fill="#f5ecf6"/>
<rect x="504.60" y="489.38" width="43.70" height="2.75" fill="#f5ecf6"/>
<rect x="504.60" y="492.07" width="43.70" height="2.49" fill="#b6a6d3"/>
<rect x="504.60" y="494.52" width="43.70" height="3.05" fill="#f9f4fa"/>
<rect x="504.60" y="497.52" width="43.70" height="2.75" fill="#f9f4fa"/>
<rect x="504.60" y="500.21" width="43.70" height="2.49" fill="#baa9d5"/>
<rect x="504.60" y="502.65" width="43.70" height="3.05" fill="#f9f4fa"/>
<rect x="504.60" y="505.65" width="43.70" height="3.05" fill="#f9f4fa"/>
<rect x="504.60" y="508.65" width="43.70" height="3.00" fill="#f9f4fa"/>
<rect x="504.60" y="511.60" width="43.70" height="2.49" fill="#e0d2ea"/>
<rect x="504.60" y="514.04" width="43.70" height="2.49" fill="#6d5daa"/>
<rect x="504.60" y="516.48" width="43.70" height="2.49" fill="#dacce7"/>
<rect x="504.60" y="518.93" width="43.70" height="2.49" fill="#8071b7"/>
<rect x="504.60" y="521.37" width="43.70" height="2.49" fill="#e0d2ea"/>
<rect x="504.60" y="523.81" width="43.70" height="3.05" fill="#998bc5"/>
<rect x="504.60" y="526.81" width="43.70" height="1.93" fill="#998bc5"/>
<rect x="504.60" y="528.69" width="43.70" height="2.49" fill="#7666b1"/>
<rect x="504.60" y="531.13" width="43.70" height="2.49" fill="#dacce7"/>
<rect x="504.60" y="533.57" width="43.70" height="3.05" fill="#fbf8fc"/>
<rect x="504.60" y="536.57" width="43.70" height="1.12" fill="#fbf8fc"/>
<rect x="504.60" y="537.64" width="43.70" height="2.00" fill="#a797cc"/>
</g>
<rect x="548.90" y="200.00" width="3.30" height="99.80" fill="#efefef"/>
<rect x="552.40" y="200.00" width="122.00" height="99.80" fill="#afafaf"/>
<text x="613.2" y="246.1" font-size="11.7" text-anchor="middle" font-weight="normal" fill="#231f20" stroke="#231f20" stroke-width="0.22">XI-predominant</text>
<text x="613.2" y="259.0" font-size="11.7" text-anchor="middle" font-weight="normal" fill="#231f20" stroke="#231f20" stroke-width="0.22">(<tspan font-style="italic">n</tspan> = 12,842)</text>
<rect x="548.90" y="301.20" width="3.30" height="29.40" fill="#a9a9a9"/>
<rect x="552.40" y="301.20" width="122.00" height="29.40" fill="#ececec"/>
<text x="613.2" y="313.0" font-size="11.7" text-anchor="middle" font-weight="normal" fill="#231f20" stroke="#231f20" stroke-width="0.22">GJ-predominant</text>
<text x="613.2" y="325.9" font-size="11.7" text-anchor="middle" font-weight="normal" fill="#231f20" stroke="#231f20" stroke-width="0.22">(<tspan font-style="italic">n</tspan> = 3,792)</text>
<rect x="548.90" y="331.20" width="3.30" height="78.40" fill="#efefef"/>
<rect x="552.40" y="331.20" width="122.00" height="78.40" fill="#c1c1c1"/>
<text x="613.2" y="367.4" font-size="11.7" text-anchor="middle" font-weight="normal" fill="#231f20" stroke="#231f20" stroke-width="0.22">cA-predominant</text>
<text x="613.2" y="380.3" font-size="11.7" text-anchor="middle" font-weight="normal" fill="#231f20" stroke="#231f20" stroke-width="0.22">(<tspan font-style="italic">n</tspan> = 9,544)</text>
<rect x="548.90" y="410.40" width="3.30" height="32.20" fill="#a9a9a9"/>
<rect x="552.40" y="410.40" width="122.00" height="32.20" fill="#ececec"/>
<text x="613.2" y="423.2" font-size="11.7" text-anchor="middle" font-weight="normal" fill="#231f20" stroke="#231f20" stroke-width="0.22">cB-predominant</text>
<text x="613.2" y="436.1" font-size="11.7" text-anchor="middle" font-weight="normal" fill="#231f20" stroke="#231f20" stroke-width="0.22">(<tspan font-style="italic">n</tspan> = 4,033)</text>
<rect x="548.90" y="443.20" width="3.30" height="96.10" fill="#efefef"/>
<rect x="552.40" y="443.20" width="122.00" height="96.10" fill="#b0b0b0"/>
<text x="613.2" y="487.6" font-size="11.7" text-anchor="middle" font-weight="normal" fill="#231f20" stroke="#231f20" stroke-width="0.22">Others</text>
<text x="613.2" y="500.5" font-size="11.7" text-anchor="middle" font-weight="normal" fill="#231f20" stroke="#231f20" stroke-width="0.22">(<tspan font-style="italic">n</tspan> = 11,746)</text>
<text x="393.4" y="552.6" font-size="11.2" text-anchor="middle" font-weight="normal" fill="#231f20" stroke="#231f20" stroke-width="0.22">XI</text>
<text x="440.5" y="552.6" font-size="11.2" text-anchor="middle" font-weight="normal" fill="#231f20" stroke="#231f20" stroke-width="0.22">GJ</text>
<text x="483.8" y="552.6" font-size="11.2" text-anchor="middle" font-weight="normal" fill="#231f20" stroke="#231f20" stroke-width="0.22">cA</text>
<text x="528.0" y="552.6" font-size="11.2" text-anchor="middle" font-weight="normal" fill="#231f20" stroke="#231f20" stroke-width="0.22">cB</text>
<text x="494.0" y="574.9" font-size="11.2" text-anchor="end" font-weight="normal" fill="#231f20" stroke="#231f20" stroke-width="0.22">Presence frequency</text>
<rect x="503.20" y="564.00" width="9.19" height="14.70" fill="#f6f0f8" shape-rendering="crispEdges"/>
<rect x="512.29" y="564.00" width="9.19" height="14.70" fill="#e8e2ee" shape-rendering="crispEdges"/>
<rect x="521.38" y="564.00" width="9.19" height="14.70" fill="#e0d4ec" shape-rendering="crispEdges"/>
<rect x="530.47" y="564.00" width="9.19" height="14.70" fill="#d6c8e4" shape-rendering="crispEdges"/>
<rect x="539.56" y="564.00" width="9.19" height="14.70" fill="#cbbbe0" shape-rendering="crispEdges"/>
<rect x="548.64" y="564.00" width="9.19" height="14.70" fill="#c0b0da" shape-rendering="crispEdges"/>
<rect x="557.73" y="564.00" width="9.19" height="14.70" fill="#b8a6d4" shape-rendering="crispEdges"/>
<rect x="566.82" y="564.00" width="9.19" height="14.70" fill="#aa9ace" shape-rendering="crispEdges"/>
<rect x="575.91" y="564.00" width="9.19" height="14.70" fill="#9e8ec8" shape-rendering="crispEdges"/>
<rect x="585.00" y="564.00" width="9.19" height="14.70" fill="#8c7fc0" shape-rendering="crispEdges"/>
<rect x="594.09" y="564.00" width="9.19" height="14.70" fill="#8274b9" shape-rendering="crispEdges"/>
<rect x="603.18" y="564.00" width="9.19" height="14.70" fill="#7868b2" shape-rendering="crispEdges"/>
<rect x="612.27" y="564.00" width="9.19" height="14.70" fill="#6e5eaa" shape-rendering="crispEdges"/>
<rect x="621.36" y="564.00" width="9.19" height="14.70" fill="#6252a4" shape-rendering="crispEdges"/>
<rect x="630.44" y="564.00" width="9.19" height="14.70" fill="#4f4a9e" shape-rendering="crispEdges"/>
<rect x="639.53" y="564.00" width="9.19" height="14.70" fill="#44469c" shape-rendering="crispEdges"/>
<rect x="648.62" y="564.00" width="9.19" height="14.70" fill="#3b479c" shape-rendering="crispEdges"/>
<rect x="657.71" y="564.00" width="9.19" height="14.70" fill="#33469a" shape-rendering="crispEdges"/>
<line x1="540.10" y1="564.00" x2="540.10" y2="566.50" stroke="#fff" stroke-width="0.9"/>
<line x1="540.10" y1="576.20" x2="540.10" y2="578.70" stroke="#fff" stroke-width="0.9"/>
<line x1="580.80" y1="564.00" x2="580.80" y2="566.50" stroke="#fff" stroke-width="0.9"/>
<line x1="580.80" y1="576.20" x2="580.80" y2="578.70" stroke="#fff" stroke-width="0.9"/>
<line x1="621.30" y1="564.00" x2="621.30" y2="566.50" stroke="#fff" stroke-width="0.9"/>
<line x1="621.30" y1="576.20" x2="621.30" y2="578.70" stroke="#fff" stroke-width="0.9"/>
<line x1="661.90" y1="564.00" x2="661.90" y2="566.50" stroke="#fff" stroke-width="0.9"/>
<line x1="661.90" y1="576.20" x2="661.90" y2="578.70" stroke="#fff" stroke-width="0.9"/>
<text x="509.1" y="590.6" font-size="11.2" text-anchor="middle" font-weight="normal" fill="#231f20" stroke="#231f20" stroke-width="0.22">0</text>
<text x="540.0" y="590.6" font-size="11.2" text-anchor="middle" font-weight="normal" fill="#231f20" stroke="#231f20" stroke-width="0.22">0.25</text>
<text x="577.6" y="590.6" font-size="11.2" text-anchor="middle" font-weight="normal" fill="#231f20" stroke="#231f20" stroke-width="0.22">0.50</text>
<text x="621.9" y="590.6" font-size="11.2" text-anchor="middle" font-weight="normal" fill="#231f20" stroke="#231f20" stroke-width="0.22">0.75</text>
<text x="661.2" y="590.6" font-size="11.2" text-anchor="middle" font-weight="normal" fill="#231f20" stroke="#231f20" stroke-width="0.22">1</text>
<text x="863.5" y="35.8" font-size="11.5" text-anchor="start" font-weight="bold" fill="#000" stroke="#000" stroke-width="0.3">a</text>
<rect x="926.10" y="32.10" width="7.00" height="6.60" fill="#e31e24"/>
<text x="936.4" y="38.4" font-size="9.2" text-anchor="start" font-weight="normal" fill="#231f20" stroke="#231f20" stroke-width="0.3">Presence</text>
<rect x="981.80" y="32.10" width="7.00" height="6.60" fill="#2e4598"/>
<text x="993.3" y="38.4" font-size="9.2" text-anchor="start" font-weight="normal" fill="#231f20" stroke="#231f20" stroke-width="0.3">Absence</text>
<rect x="878.30" y="42.30" width="201.70" height="108.90" fill="#e31e24"/>
<path d="M996 42.30h1v1.20h-1zM1005 42.30h1v1.20h-1zM1013 42.30h1v1.20h-1zM1016 42.30h1v1.20h-1zM1031 42.30h3v1.20h-3zM1036 42.30h1v1.20h-1zM1038 42.30h1v1.20h-1zM1046 42.30h1v1.20h-1zM1016 43.50h1v1.20h-1zM1025 43.50h2v1.20h-2zM1028 43.50h1v1.20h-1zM1032 43.50h1v1.20h-1zM1035 43.50h1v1.20h-1zM1038 43.50h1v1.20h-1zM1040 43.50h1v1.20h-1zM1046 43.50h1v1.20h-1zM1056 43.50h1v1.20h-1zM1015 44.69h1v1.20h-1zM1020 44.69h1v1.20h-1zM1027 44.69h1v1.20h-1zM1057 44.69h1v1.20h-1zM1025 45.89h2v1.20h-2zM1030 45.89h2v1.20h-2zM1034 45.89h2v1.20h-2zM1039 45.89h3v1.20h-3zM1046 45.89h1v1.20h-1zM1049 45.89h1v1.20h-1zM1052 45.89h1v1.20h-1zM1062 45.89h2v1.20h-2zM1006 47.09h1v1.20h-1zM1008 47.09h1v1.20h-1zM1013 47.09h1v1.20h-1zM1018 47.09h2v1.20h-2zM1026 47.09h1v1.20h-1zM1028 47.09h1v1.20h-1zM1032 47.09h1v1.20h-1zM1034 47.09h1v1.20h-1zM1042 47.09h1v1.20h-1zM1049 47.09h2v1.20h-2zM1057 47.09h1v1.20h-1zM1004 48.28h1v1.20h-1zM1017 48.28h1v1.20h-1zM1019 48.28h1v1.20h-1zM1025 48.28h1v1.20h-1zM1027 48.28h1v1.20h-1zM1040 48.28h1v1.20h-1zM1042 48.28h1v1.20h-1zM1004 49.48h2v1.20h-2zM1012 49.48h2v1.20h-2zM1024 49.48h3v1.20h-3zM1034 49.48h1v1.20h-1zM1003 50.68h1v1.20h-1zM1009 50.68h1v1.20h-1zM1016 50.68h1v1.20h-1zM1020 50.68h1v1.20h-1zM1027 50.68h1v1.20h-1zM1032 50.68h1v1.20h-1zM1036 50.68h1v1.20h-1zM1045 50.68h1v1.20h-1zM1049 50.68h1v1.20h-1zM1052 50.68h1v1.20h-1zM1054 50.68h2v1.20h-2zM1003 51.87h1v1.20h-1zM1015 51.87h1v1.20h-1zM1022 51.87h1v1.20h-1zM1024 51.87h3v1.20h-3zM1028 51.87h1v1.20h-1zM1032 51.87h1v1.20h-1zM1034 51.87h1v1.20h-1zM1036 51.87h3v1.20h-3zM1041 51.87h1v1.20h-1zM1055 51.87h3v1.20h-3zM1013 53.07h1v1.20h-1zM1016 53.07h1v1.20h-1zM1025 53.07h1v1.20h-1zM1031 53.07h1v1.20h-1zM1034 53.07h1v1.20h-1zM1049 53.07h2v1.20h-2zM1052 53.07h1v1.20h-1zM1057 53.07h1v1.20h-1zM1005 54.27h1v1.20h-1zM1012 54.27h1v1.20h-1zM1014 54.27h1v1.20h-1zM1022 54.27h1v1.20h-1zM1028 54.27h2v1.20h-2zM1032 54.27h1v1.20h-1zM1039 54.27h2v1.20h-2zM1045 54.27h1v1.20h-1zM1049 54.27h1v1.20h-1zM1054 54.27h1v1.20h-1zM1013 55.46h1v1.20h-1zM1019 55.46h1v1.20h-1zM1022 55.46h1v1.20h-1zM1024 55.46h3v1.20h-3zM1031 55.46h1v1.20h-1zM1041 55.46h2v1.20h-2zM1041 56.66h3v1.20h-3zM1046 56.66h1v1.20h-1zM1050 56.66h1v1.20h-1zM1055 56.66h4v1.20h-4zM1061 56.66h2v1.20h-2zM996 57.86h2v1.20h-2zM1022 57.86h1v1.20h-1zM1024 57.86h2v1.20h-2zM1032 57.86h1v1.20h-1zM1041 57.86h1v1.20h-1zM1043 57.86h1v1.20h-1zM1047 57.86h1v1.20h-1zM1049 57.86h1v1.20h-1zM1053 57.86h1v1.20h-1zM1061 57.86h1v1.20h-1zM1006 59.05h1v1.20h-1zM1012 59.05h1v1.20h-1zM1017 59.05h1v1.20h-1zM1019 59.05h1v1.20h-1zM1029 59.05h1v1.20h-1zM1033 59.05h1v1.20h-1zM1035 59.05h1v1.20h-1zM1040 59.05h2v1.20h-2zM1044 59.05h1v1.20h-1zM1047 59.05h1v1.20h-1zM1049 59.05h2v1.20h-2zM1062 59.05h1v1.20h-1zM1014 60.25h1v1.20h-1zM1019 60.25h2v1.20h-2zM1022 60.25h1v1.20h-1zM1025 60.25h1v1.20h-1zM1031 60.25h2v1.20h-2zM1037 60.25h1v1.20h-1zM1040 60.25h2v1.20h-2zM1045 60.25h2v1.20h-2zM1050 60.25h1v1.20h-1zM1052 60.25h2v1.20h-2zM1061 60.25h1v1.20h-1zM1011 61.45h1v1.20h-1zM1019 61.45h1v1.20h-1zM1027 61.45h1v1.20h-1zM1029 61.45h1v1.20h-1zM1033 61.45h2v1.20h-2zM1039 61.45h2v1.20h-2zM1042 61.45h1v1.20h-1zM1045 61.45h1v1.20h-1zM1057 61.45h1v1.20h-1zM1060 61.45h1v1.20h-1zM1016 62.64h1v1.20h-1zM1032 62.64h1v1.20h-1zM1038 62.64h2v1.20h-2zM1046 62.64h2v1.20h-2zM1049 62.64h1v1.20h-1zM1056 62.64h1v1.20h-1zM1007 63.84h1v1.20h-1zM1009 63.84h1v1.20h-1zM1016 63.84h1v1.20h-1zM1020 63.84h2v1.20h-2zM1024 63.84h2v1.20h-2zM1027 63.84h1v1.20h-1zM1035 63.84h1v1.20h-1zM1039 63.84h1v1.20h-1zM1041 63.84h2v1.20h-2zM1044 63.84h3v1.20h-3zM1049 63.84h1v1.20h-1zM1055 63.84h1v1.20h-1zM1057 63.84h1v1.20h-1zM1059 63.84h1v1.20h-1zM1063 63.84h1v1.20h-1zM1014 65.04h1v1.20h-1zM1018 65.04h1v1.20h-1zM1022 65.04h1v1.20h-1zM1029 65.04h1v1.20h-1zM1032 65.04h1v1.20h-1zM1035 65.04h1v1.20h-1zM1037 65.04h1v1.20h-1zM1043 65.04h1v1.20h-1zM1045 65.04h1v1.20h-1zM1048 65.04h3v1.20h-3zM1053 65.04h1v1.20h-1zM1060 65.04h1v1.20h-1zM1062 65.04h1v1.20h-1zM1016 66.23h1v1.20h-1zM1018 66.23h1v1.20h-1zM1020 66.23h1v1.20h-1zM1024 66.23h2v1.20h-2zM1028 66.23h1v1.20h-1zM1033 66.23h1v1.20h-1zM1038 66.23h1v1.20h-1zM1041 66.23h1v1.20h-1zM1045 66.23h3v1.20h-3zM1053 66.23h1v1.20h-1zM997 67.43h1v1.20h-1zM1005 67.43h2v1.20h-2zM1022 67.43h1v1.20h-1zM1024 67.43h3v1.20h-3zM1029 67.43h5v1.20h-5zM1036 67.43h1v1.20h-1zM1040 67.43h1v1.20h-1zM1045 67.43h2v1.20h-2zM1048 67.43h1v1.20h-1zM1053 67.43h1v1.20h-1zM1057 67.43h1v1.20h-1zM1060 67.43h1v1.20h-1zM998 68.63h1v1.20h-1zM1000 68.63h1v1.20h-1zM1012 68.63h1v1.20h-1zM1015 68.63h1v1.20h-1zM1019 68.63h1v1.20h-1zM1021 68.63h3v1.20h-3zM1028 68.63h1v1.20h-1zM1034 68.63h2v1.20h-2zM1006 69.82h1v1.20h-1zM1017 69.82h1v1.20h-1zM1024 69.82h1v1.20h-1zM1027 69.82h1v1.20h-1zM1030 69.82h1v1.20h-1zM1034 69.82h2v1.20h-2zM1038 69.82h1v1.20h-1zM1042 69.82h1v1.20h-1zM1016 71.02h1v1.20h-1zM1023 71.02h1v1.20h-1zM1035 71.02h1v1.20h-1zM1050 71.02h1v1.20h-1zM1057 71.02h1v1.20h-1zM1060 71.02h1v1.20h-1zM1005 72.22h1v1.20h-1zM1017 72.22h1v1.20h-1zM1019 72.22h1v1.20h-1zM1035 72.22h1v1.20h-1zM999 73.41h1v1.20h-1zM1011 73.41h1v1.20h-1zM1013 73.41h2v1.20h-2zM1018 73.41h3v1.20h-3zM1024 73.41h1v1.20h-1zM1030 73.41h2v1.20h-2zM1034 73.41h1v1.20h-1zM1037 73.41h1v1.20h-1zM1017 74.61h2v1.20h-2zM1024 74.61h2v1.20h-2zM1027 74.61h1v1.20h-1zM1030 74.61h1v1.20h-1zM1035 74.61h1v1.20h-1zM1060 74.61h1v1.20h-1zM998 75.81h1v1.20h-1zM1008 75.81h2v1.20h-2zM1015 75.81h1v1.20h-1zM1019 75.81h3v1.20h-3zM1023 75.81h1v1.20h-1zM1025 75.81h1v1.20h-1zM1039 75.81h2v1.20h-2zM1000 77.00h1v1.20h-1zM1011 77.00h1v1.20h-1zM1013 77.00h1v1.20h-1zM1018 77.00h1v1.20h-1zM1025 77.00h1v1.20h-1zM1028 77.00h1v1.20h-1zM1040 77.00h1v1.20h-1zM1062 77.00h1v1.20h-1zM1013 78.20h1v1.20h-1zM1020 78.20h1v1.20h-1zM1022 78.20h2v1.20h-2zM1029 78.20h1v1.20h-1zM1032 78.20h1v1.20h-1zM1034 78.20h1v1.20h-1zM1041 78.20h1v1.20h-1zM1044 78.20h1v1.20h-1zM1046 78.20h1v1.20h-1zM1048 78.20h1v1.20h-1zM1057 78.20h1v1.20h-1zM1060 78.20h1v1.20h-1zM1005 79.40h1v1.20h-1zM1009 79.40h1v1.20h-1zM1018 79.40h1v1.20h-1zM1021 79.40h1v1.20h-1zM1023 79.40h2v1.20h-2zM1027 79.40h1v1.20h-1zM1036 79.40h2v1.20h-2zM1041 79.40h1v1.20h-1zM1043 79.40h1v1.20h-1zM1046 79.40h1v1.20h-1zM1052 79.40h2v1.20h-2zM1011 80.59h1v1.20h-1zM1015 80.59h1v1.20h-1zM1019 80.59h2v1.20h-2zM1032 80.59h4v1.20h-4zM1037 80.59h2v1.20h-2zM1045 80.59h2v1.20h-2zM1049 80.59h1v1.20h-1zM1057 80.59h1v1.20h-1zM1000 81.79h1v1.20h-1zM1013 81.79h1v1.20h-1zM1016 81.79h1v1.20h-1zM1018 81.79h1v1.20h-1zM1022 81.79h3v1.20h-3zM1034 81.79h1v1.20h-1zM1037 81.79h1v1.20h-1zM1042 81.79h1v1.20h-1zM1049 81.79h1v1.20h-1zM1057 81.79h1v1.20h-1zM1062 81.79h1v1.20h-1zM997 82.99h1v1.20h-1zM1000 82.99h1v1.20h-1zM1002 82.99h1v1.20h-1zM1021 82.99h1v1.20h-1zM1032 82.99h1v1.20h-1zM1035 82.99h1v1.20h-1zM1049 82.99h2v1.20h-2zM1053 82.99h4v1.20h-4zM1007 84.18h1v1.20h-1zM1012 84.18h1v1.20h-1zM1021 84.18h1v1.20h-1zM1023 84.18h1v1.20h-1zM1027 84.18h1v1.20h-1zM1029 84.18h1v1.20h-1zM1040 84.18h1v1.20h-1zM1042 84.18h1v1.20h-1zM1045 84.18h1v1.20h-1zM1058 84.18h1v1.20h-1zM1066 84.18h1v1.20h-1zM1003 85.38h1v1.20h-1zM1013 85.38h1v1.20h-1zM1020 85.38h1v1.20h-1zM1024 85.38h1v1.20h-1zM1027 85.38h1v1.20h-1zM1029 85.38h1v1.20h-1zM1032 85.38h1v1.20h-1zM1037 85.38h3v1.20h-3zM1042 85.38h1v1.20h-1zM1053 85.38h2v1.20h-2zM1059 85.38h1v1.20h-1zM1007 86.58h1v1.20h-1zM1025 86.58h2v1.20h-2zM1032 86.58h2v1.20h-2zM1035 86.58h3v1.20h-3zM1044 86.58h1v1.20h-1zM1049 86.58h2v1.20h-2zM1053 86.58h1v1.20h-1zM1060 86.58h1v1.20h-1zM1070 86.58h1v1.20h-1zM997 87.77h1v1.20h-1zM1013 87.77h1v1.20h-1zM1015 87.77h1v1.20h-1zM1021 87.77h2v1.20h-2zM1025 87.77h3v1.20h-3zM1030 87.77h3v1.20h-3zM1034 87.77h3v1.20h-3zM1039 87.77h3v1.20h-3zM1053 87.77h3v1.20h-3zM1057 87.77h1v1.20h-1zM1017 88.97h2v1.20h-2zM1027 88.97h1v1.20h-1zM1029 88.97h1v1.20h-1zM1032 88.97h2v1.20h-2zM1039 88.97h1v1.20h-1zM1045 88.97h1v1.20h-1zM1048 88.97h1v1.20h-1zM1052 88.97h2v1.20h-2zM1007 90.17h1v1.20h-1zM1015 90.17h1v1.20h-1zM1022 90.17h1v1.20h-1zM1024 90.17h1v1.20h-1zM1026 90.17h1v1.20h-1zM1029 90.17h1v1.20h-1zM1038 90.17h1v1.20h-1zM1047 90.17h1v1.20h-1zM1003 91.36h1v1.20h-1zM1019 91.36h1v1.20h-1zM1027 91.36h1v1.20h-1zM1036 91.36h1v1.20h-1zM1038 91.36h1v1.20h-1zM1044 91.36h6v1.20h-6zM1057 91.36h1v1.20h-1zM1006 92.56h1v1.20h-1zM1017 92.56h2v1.20h-2zM1021 92.56h2v1.20h-2zM1024 92.56h1v1.20h-1zM1026 92.56h1v1.20h-1zM1030 92.56h1v1.20h-1zM1034 92.56h1v1.20h-1zM1036 92.56h1v1.20h-1zM1039 92.56h1v1.20h-1zM1045 92.56h1v1.20h-1zM1049 92.56h1v1.20h-1zM1054 92.56h1v1.20h-1zM1000 93.76h1v1.20h-1zM1012 93.76h1v1.20h-1zM1014 93.76h1v1.20h-1zM1016 93.76h1v1.20h-1zM1023 93.76h2v1.20h-2zM1030 93.76h1v1.20h-1zM1032 93.76h1v1.20h-1zM1034 93.76h1v1.20h-1zM1049 93.76h1v1.20h-1zM1001 94.95h1v1.20h-1zM1008 94.95h1v1.20h-1zM1019 94.95h1v1.20h-1zM1024 94.95h3v1.20h-3zM1028 94.95h1v1.20h-1zM1032 94.95h1v1.20h-1zM1036 94.95h1v1.20h-1zM1041 94.95h1v1.20h-1zM1044 94.95h1v1.20h-1zM1049 94.95h1v1.20h-1zM1021 96.15h1v1.20h-1zM1028 96.15h1v1.20h-1zM1032 96.15h1v1.20h-1zM1037 96.15h1v1.20h-1zM1040 96.15h1v1.20h-1zM1042 96.15h1v1.20h-1zM1052 96.15h1v1.20h-1zM998 97.35h1v1.20h-1zM1004 97.35h2v1.20h-2zM1010 97.35h2v1.20h-2zM1018 97.35h3v1.20h-3zM1023 97.35h2v1.20h-2zM1027 97.35h1v1.20h-1zM1029 97.35h1v1.20h-1zM1036 97.35h1v1.20h-1zM1042 97.35h1v1.20h-1zM997 98.55h1v1.20h-1zM1019 98.55h1v1.20h-1zM1021 98.55h3v1.20h-3zM1025 98.55h1v1.20h-1zM1033 98.55h1v1.20h-1zM1036 98.55h1v1.20h-1zM1060 98.55h1v1.20h-1zM1013 99.74h1v1.20h-1zM1022 99.74h1v1.20h-1zM1025 99.74h1v1.20h-1zM1027 99.74h1v1.20h-1zM1029 99.74h1v1.20h-1zM1037 99.74h1v1.20h-1zM1039 99.74h1v1.20h-1zM1041 99.74h1v1.20h-1zM1043 99.74h1v1.20h-1zM1049 99.74h3v1.20h-3zM1011 100.94h1v1.20h-1zM1015 100.94h1v1.20h-1zM1017 100.94h1v1.20h-1zM1022 100.94h1v1.20h-1zM1031 100.94h1v1.20h-1zM1036 100.94h3v1.20h-3zM1040 100.94h3v1.20h-3zM1057 100.94h1v1.20h-1zM1009 102.14h1v1.20h-1zM1013 102.14h1v1.20h-1zM1022 102.14h1v1.20h-1zM1032 102.14h1v1.20h-1zM1035 102.14h1v1.20h-1zM1037 102.14h3v1.20h-3zM1050 102.14h1v1.20h-1zM1061 102.14h2v1.20h-2zM1008 103.33h1v1.20h-1zM1021 103.33h2v1.20h-2zM1037 103.33h1v1.20h-1zM1047 103.33h2v1.20h-2zM1051 103.33h1v1.20h-1zM1055 103.33h1v1.20h-1zM1063 103.33h1v1.20h-1zM1013 104.53h1v1.20h-1zM1021 104.53h1v1.20h-1zM1024 104.53h1v1.20h-1zM1026 104.53h1v1.20h-1zM1029 104.53h1v1.20h-1zM1032 104.53h1v1.20h-1zM1040 104.53h1v1.20h-1zM1052 104.53h1v1.20h-1zM1057 104.53h1v1.20h-1zM1023 105.73h1v1.20h-1zM1026 105.73h3v1.20h-3zM1031 105.73h1v1.20h-1zM1033 105.73h2v1.20h-2zM1038 105.73h1v1.20h-1zM1043 105.73h1v1.20h-1zM1048 105.73h2v1.20h-2zM1054 105.73h1v1.20h-1zM1063 105.73h1v1.20h-1zM1000 106.92h1v1.20h-1zM1016 106.92h1v1.20h-1zM1027 106.92h1v1.20h-1zM1039 106.92h1v1.20h-1zM1052 106.92h1v1.20h-1zM1058 106.92h1v1.20h-1zM1009 108.12h2v1.20h-2zM1019 108.12h3v1.20h-3zM1024 108.12h2v1.20h-2zM1029 108.12h1v1.20h-1zM1031 108.12h1v1.20h-1zM1039 108.12h1v1.20h-1zM1046 108.12h1v1.20h-1zM1048 108.12h2v1.20h-2zM997 109.32h1v1.20h-1zM1022 109.32h1v1.20h-1zM1024 109.32h1v1.20h-1zM1028 109.32h1v1.20h-1zM1031 109.32h1v1.20h-1zM1034 109.32h1v1.20h-1zM1038 109.32h4v1.20h-4zM1015 110.51h1v1.20h-1zM1025 110.51h1v1.20h-1zM1028 110.51h1v1.20h-1zM1037 110.51h3v1.20h-3zM1041 110.51h1v1.20h-1zM1044 110.51h1v1.20h-1zM1055 110.51h1v1.20h-1zM1002 111.71h1v1.20h-1zM1009 111.71h1v1.20h-1zM1011 111.71h2v1.20h-2zM1018 111.71h3v1.20h-3zM1023 111.71h1v1.20h-1zM1025 111.71h1v1.20h-1zM1027 111.71h1v1.20h-1zM1032 111.71h2v1.20h-2zM1040 111.71h1v1.20h-1zM1042 111.71h1v1.20h-1zM1046 111.71h1v1.20h-1zM1049 111.71h1v1.20h-1zM997 112.91h1v1.20h-1zM1013 112.91h1v1.20h-1zM1032 112.91h2v1.20h-2zM1039 112.91h2v1.20h-2zM1042 112.91h1v1.20h-1zM1048 112.91h1v1.20h-1zM1054 112.91h1v1.20h-1zM1062 112.91h2v1.20h-2zM1005 114.10h1v1.20h-1zM1013 114.10h1v1.20h-1zM1018 114.10h1v1.20h-1zM1023 114.10h1v1.20h-1zM1026 114.10h1v1.20h-1zM1029 114.10h1v1.20h-1zM1036 114.10h1v1.20h-1zM1038 114.10h3v1.20h-3zM1045 114.10h2v1.20h-2zM996 115.30h1v1.20h-1zM1004 115.30h1v1.20h-1zM1007 115.30h1v1.20h-1zM1015 115.30h1v1.20h-1zM1021 115.30h1v1.20h-1zM1025 115.30h2v1.20h-2zM1037 115.30h2v1.20h-2zM1046 115.30h1v1.20h-1zM1049 115.30h1v1.20h-1zM1060 115.30h1v1.20h-1zM1064 115.30h1v1.20h-1zM997 116.50h1v1.20h-1zM1022 116.50h1v1.20h-1zM1025 116.50h2v1.20h-2zM1028 116.50h1v1.20h-1zM1032 116.50h1v1.20h-1zM1034 116.50h1v1.20h-1zM1045 116.50h2v1.20h-2zM1050 116.50h1v1.20h-1zM1056 116.50h2v1.20h-2zM1059 116.50h1v1.20h-1zM1063 116.50h1v1.20h-1zM997 117.69h1v1.20h-1zM1014 117.69h3v1.20h-3zM1019 117.69h1v1.20h-1zM1021 117.69h1v1.20h-1zM1024 117.69h4v1.20h-4zM1031 117.69h1v1.20h-1zM1035 117.69h1v1.20h-1zM1037 117.69h1v1.20h-1zM1050 117.69h1v1.20h-1zM1052 117.69h1v1.20h-1zM1057 117.69h1v1.20h-1zM1009 118.89h1v1.20h-1zM1013 118.89h1v1.20h-1zM1017 118.89h3v1.20h-3zM1021 118.89h1v1.20h-1zM1029 118.89h1v1.20h-1zM1037 118.89h1v1.20h-1zM1039 118.89h1v1.20h-1zM1047 118.89h1v1.20h-1zM1050 118.89h1v1.20h-1zM1015 120.09h1v1.20h-1zM1019 120.09h3v1.20h-3zM1023 120.09h1v1.20h-1zM1026 120.09h1v1.20h-1zM1028 120.09h2v1.20h-2zM1033 120.09h1v1.20h-1zM1035 120.09h3v1.20h-3zM1042 120.09h1v1.20h-1zM1054 120.09h1v1.20h-1zM1057 120.09h1v1.20h-1zM1059 120.09h1v1.20h-1zM1015 121.28h1v1.20h-1zM1017 121.28h1v1.20h-1zM1023 121.28h1v1.20h-1zM1025 121.28h2v1.20h-2zM1032 121.28h1v1.20h-1zM1034 121.28h1v1.20h-1zM1039 121.28h1v1.20h-1zM1041 121.28h1v1.20h-1zM1047 121.28h1v1.20h-1zM1049 121.28h1v1.20h-1zM1055 121.28h1v1.20h-1zM996 122.48h1v1.20h-1zM1014 122.48h1v1.20h-1zM1025 122.48h1v1.20h-1zM1027 122.48h1v1.20h-1zM1036 122.48h1v1.20h-1zM1041 122.48h2v1.20h-2zM1047 122.48h3v1.20h-3zM1051 122.48h3v1.20h-3zM1057 122.48h1v1.20h-1zM1003 123.68h1v1.20h-1zM1012 123.68h1v1.20h-1zM1016 123.68h1v1.20h-1zM1022 123.68h1v1.20h-1zM1031 123.68h2v1.20h-2zM1034 123.68h1v1.20h-1zM1042 123.68h1v1.20h-1zM1045 123.68h1v1.20h-1zM1050 123.68h1v1.20h-1zM1056 123.68h1v1.20h-1zM1062 123.68h1v1.20h-1zM1010 124.87h1v1.20h-1zM1012 124.87h1v1.20h-1zM1014 124.87h1v1.20h-1zM1016 124.87h2v1.20h-2zM1025 124.87h1v1.20h-1zM1027 124.87h2v1.20h-2zM1032 124.87h2v1.20h-2zM1036 124.87h1v1.20h-1zM1040 124.87h1v1.20h-1zM1046 124.87h2v1.20h-2zM1049 124.87h2v1.20h-2zM1054 124.87h1v1.20h-1zM1019 126.07h1v1.20h-1zM1026 126.07h1v1.20h-1zM1032 126.07h1v1.20h-1zM1042 126.07h2v1.20h-2zM1045 126.07h1v1.20h-1zM1047 126.07h1v1.20h-1zM1050 126.07h1v1.20h-1zM1060 126.07h1v1.20h-1zM1062 126.07h1v1.20h-1zM1006 127.27h1v1.20h-1zM1010 127.27h1v1.20h-1zM1013 127.27h1v1.20h-1zM1016 127.27h1v1.20h-1zM1020 127.27h1v1.20h-1zM1024 127.27h1v1.20h-1zM1026 127.27h2v1.20h-2zM1039 127.27h1v1.20h-1zM1042 127.27h1v1.20h-1zM1045 127.27h1v1.20h-1zM1047 127.27h1v1.20h-1zM1049 127.27h1v1.20h-1zM1053 127.27h1v1.20h-1zM1055 127.27h3v1.20h-3zM1060 127.27h1v1.20h-1zM1012 128.46h1v1.20h-1zM1014 128.46h1v1.20h-1zM1017 128.46h1v1.20h-1zM1019 128.46h2v1.20h-2zM1024 128.46h1v1.20h-1zM1030 128.46h1v1.20h-1zM1034 128.46h2v1.20h-2zM1039 128.46h5v1.20h-5zM1049 128.46h1v1.20h-1zM1057 128.46h1v1.20h-1zM1062 128.46h1v1.20h-1zM999 129.66h1v1.20h-1zM1010 129.66h1v1.20h-1zM1012 129.66h1v1.20h-1zM1014 129.66h3v1.20h-3zM1020 129.66h1v1.20h-1zM1023 129.66h2v1.20h-2zM1030 129.66h1v1.20h-1zM1037 129.66h2v1.20h-2zM1043 129.66h1v1.20h-1zM1045 129.66h2v1.20h-2zM1052 129.66h1v1.20h-1zM1013 130.86h2v1.20h-2zM1016 130.86h1v1.20h-1zM1018 130.86h1v1.20h-1zM1020 130.86h1v1.20h-1zM1023 130.86h3v1.20h-3zM1030 130.86h1v1.20h-1zM1037 130.86h1v1.20h-1zM1045 130.86h1v1.20h-1zM1051 130.86h3v1.20h-3zM1055 130.86h1v1.20h-1zM1057 130.86h1v1.20h-1zM1060 130.86h1v1.20h-1zM1010 132.05h1v1.20h-1zM1012 132.05h1v1.20h-1zM1015 132.05h1v1.20h-1zM1021 132.05h1v1.20h-1zM1024 132.05h2v1.20h-2zM1027 132.05h2v1.20h-2zM1031 132.05h1v1.20h-1zM1036 132.05h1v1.20h-1zM1038 132.05h2v1.20h-2zM1044 132.05h1v1.20h-1zM1048 132.05h2v1.20h-2zM1055 132.05h1v1.20h-1zM1064 132.05h1v1.20h-1zM1010 133.25h1v1.20h-1zM1013 133.25h1v1.20h-1zM1016 133.25h2v1.20h-2zM1023 133.25h1v1.20h-1zM1025 133.25h1v1.20h-1zM1027 133.25h1v1.20h-1zM1030 133.25h1v1.20h-1zM1034 133.25h1v1.20h-1zM1036 133.25h1v1.20h-1zM1041 133.25h2v1.20h-2zM1044 133.25h1v1.20h-1zM1055 133.25h1v1.20h-1zM1009 134.45h2v1.20h-2zM1014 134.45h3v1.20h-3zM1031 134.45h1v1.20h-1zM1034 134.45h2v1.20h-2zM1043 134.45h1v1.20h-1zM1045 134.45h1v1.20h-1zM1047 134.45h2v1.20h-2zM1057 134.45h1v1.20h-1zM997 135.64h1v1.20h-1zM1010 135.64h1v1.20h-1zM1014 135.64h2v1.20h-2zM1017 135.64h1v1.20h-1zM1019 135.64h1v1.20h-1zM1023 135.64h1v1.20h-1zM1025 135.64h1v1.20h-1zM1035 135.64h1v1.20h-1zM1039 135.64h1v1.20h-1zM1043 135.64h1v1.20h-1zM1048 135.64h1v1.20h-1zM1054 135.64h2v1.20h-2zM1060 135.64h1v1.20h-1zM996 136.84h1v1.20h-1zM1011 136.84h1v1.20h-1zM1013 136.84h1v1.20h-1zM1019 136.84h1v1.20h-1zM1022 136.84h1v1.20h-1zM1024 136.84h1v1.20h-1zM1031 136.84h1v1.20h-1zM1034 136.84h1v1.20h-1zM1038 136.84h2v1.20h-2zM1043 136.84h1v1.20h-1zM1048 136.84h2v1.20h-2zM1051 136.84h2v1.20h-2zM1059 136.84h2v1.20h-2zM1066 136.84h1v1.20h-1zM1001 138.04h1v1.20h-1zM1010 138.04h1v1.20h-1zM1013 138.04h1v1.20h-1zM1020 138.04h1v1.20h-1zM1024 138.04h2v1.20h-2zM1031 138.04h1v1.20h-1zM1033 138.04h1v1.20h-1zM1038 138.04h1v1.20h-1zM1046 138.04h2v1.20h-2zM1051 138.04h1v1.20h-1zM1053 138.04h1v1.20h-1zM998 139.23h1v1.20h-1zM1000 139.23h1v1.20h-1zM1011 139.23h2v1.20h-2zM1017 139.23h2v1.20h-2zM1020 139.23h1v1.20h-1zM1025 139.23h1v1.20h-1zM1028 139.23h1v1.20h-1zM1034 139.23h2v1.20h-2zM1040 139.23h1v1.20h-1zM1048 139.23h1v1.20h-1zM1054 139.23h1v1.20h-1zM1057 139.23h1v1.20h-1zM1008 140.43h1v1.20h-1zM1016 140.43h1v1.20h-1zM1021 140.43h1v1.20h-1zM1023 140.43h3v1.20h-3zM1031 140.43h1v1.20h-1zM1037 140.43h1v1.20h-1zM1042 140.43h3v1.20h-3zM1048 140.43h1v1.20h-1zM1055 140.43h1v1.20h-1zM1057 140.43h1v1.20h-1zM1011 141.63h1v1.20h-1zM1013 141.63h2v1.20h-2zM1018 141.63h1v1.20h-1zM1023 141.63h1v1.20h-1zM1030 141.63h1v1.20h-1zM1034 141.63h1v1.20h-1zM1046 141.63h1v1.20h-1zM1049 141.63h2v1.20h-2zM1052 141.63h1v1.20h-1zM1056 141.63h1v1.20h-1zM1001 142.82h1v1.20h-1zM1010 142.82h2v1.20h-2zM1014 142.82h1v1.20h-1zM1016 142.82h1v1.20h-1zM1020 142.82h2v1.20h-2zM1025 142.82h1v1.20h-1zM1032 142.82h1v1.20h-1zM1034 142.82h2v1.20h-2zM1046 142.82h1v1.20h-1zM1048 142.82h1v1.20h-1zM1052 142.82h1v1.20h-1zM1054 142.82h1v1.20h-1zM1056 142.82h1v1.20h-1zM1058 142.82h1v1.20h-1zM1013 144.02h2v1.20h-2zM1016 144.02h1v1.20h-1zM1019 144.02h2v1.20h-2zM1022 144.02h1v1.20h-1zM1025 144.02h1v1.20h-1zM1027 144.02h1v1.20h-1zM1031 144.02h1v1.20h-1zM1035 144.02h1v1.20h-1zM1037 144.02h2v1.20h-2zM1042 144.02h1v1.20h-1zM1046 144.02h1v1.20h-1zM1049 144.02h2v1.20h-2zM1052 144.02h1v1.20h-1zM1054 144.02h1v1.20h-1zM1059 144.02h1v1.20h-1zM1017 145.22h1v1.20h-1zM1022 145.22h1v1.20h-1zM1025 145.22h1v1.20h-1zM1029 145.22h1v1.20h-1zM1031 145.22h2v1.20h-2zM1037 145.22h1v1.20h-1zM1039 145.22h1v1.20h-1zM1049 145.22h2v1.20h-2zM1054 145.22h1v1.20h-1zM1056 145.22h1v1.20h-1zM1060 145.22h1v1.20h-1zM1009 146.41h1v1.20h-1zM1022 146.41h2v1.20h-2zM1027 146.41h1v1.20h-1zM1031 146.41h1v1.20h-1zM1040 146.41h2v1.20h-2zM1050 146.41h1v1.20h-1zM1052 146.41h2v1.20h-2zM1057 146.41h1v1.20h-1zM1060 146.41h1v1.20h-1zM1006 147.61h1v1.20h-1zM1015 147.61h2v1.20h-2zM1021 147.61h2v1.20h-2zM1025 147.61h1v1.20h-1zM1028 147.61h2v1.20h-2zM1031 147.61h1v1.20h-1zM1033 147.61h1v1.20h-1zM1036 147.61h3v1.20h-3zM1043 147.61h2v1.20h-2zM1048 147.61h1v1.20h-1zM1050 147.61h1v1.20h-1zM1052 147.61h1v1.20h-1zM1057 147.61h1v1.20h-1zM1059 147.61h1v1.20h-1zM1012 148.81h1v1.20h-1zM1016 148.81h1v1.20h-1zM1018 148.81h1v1.20h-1zM1022 148.81h1v1.20h-1zM1031 148.81h1v1.20h-1zM1036 148.81h1v1.20h-1zM1047 148.81h1v1.20h-1zM1052 148.81h2v1.20h-2zM1060 148.81h1v1.20h-1zM1063 148.81h1v1.20h-1zM1015 150.00h2v1.20h-2zM1028 150.00h1v1.20h-1zM1032 150.00h1v1.20h-1zM1034 150.00h1v1.20h-1zM1042 150.00h1v1.20h-1zM1047 150.00h1v1.20h-1zM1053 150.00h3v1.20h-3z" fill="#2e4598" fill-opacity="0.25"/>
<path d="M1006 42.30h1v1.20h-1zM1022 42.30h1v1.20h-1zM1026 42.30h2v1.20h-2zM1037 42.30h1v1.20h-1zM1041 42.30h1v1.20h-1zM1047 42.30h1v1.20h-1zM1049 42.30h1v1.20h-1zM1053 42.30h1v1.20h-1zM1062 42.30h1v1.20h-1zM1029 43.50h1v1.20h-1zM1031 43.50h1v1.20h-1zM1033 43.50h2v1.20h-2zM1036 43.50h2v1.20h-2zM1041 43.50h2v1.20h-2zM1044 43.50h2v1.20h-2zM1047 43.50h3v1.20h-3zM1051 43.50h3v1.20h-3zM1057 43.50h1v1.20h-1zM1060 43.50h1v1.20h-1zM1022 44.69h1v1.20h-1zM1030 44.69h3v1.20h-3zM1035 44.69h1v1.20h-1zM1038 44.69h2v1.20h-2zM1046 44.69h1v1.20h-1zM1063 44.69h1v1.20h-1zM1066 44.69h1v1.20h-1zM1022 45.89h1v1.20h-1zM1028 45.89h2v1.20h-2zM1042 45.89h1v1.20h-1zM1048 45.89h1v1.20h-1zM1050 45.89h1v1.20h-1zM1054 45.89h1v1.20h-1zM1059 45.89h1v1.20h-1zM1022 47.09h1v1.20h-1zM1027 47.09h1v1.20h-1zM1031 47.09h1v1.20h-1zM1033 47.09h1v1.20h-1zM1039 47.09h1v1.20h-1zM1054 47.09h1v1.20h-1zM1030 48.28h2v1.20h-2zM1035 48.28h1v1.20h-1zM1037 48.28h1v1.20h-1zM1043 48.28h2v1.20h-2zM1049 48.28h1v1.20h-1zM1052 48.28h1v1.20h-1zM1061 48.28h1v1.20h-1zM1066 48.28h1v1.20h-1zM1015 49.48h1v1.20h-1zM1023 49.48h1v1.20h-1zM1031 49.48h1v1.20h-1zM1036 49.48h1v1.20h-1zM1038 49.48h1v1.20h-1zM1057 49.48h1v1.20h-1zM1026 50.68h1v1.20h-1zM1037 50.68h2v1.20h-2zM1040 50.68h3v1.20h-3zM1046 50.68h1v1.20h-1zM1048 50.68h1v1.20h-1zM1057 50.68h1v1.20h-1zM1060 50.68h1v1.20h-1zM1047 51.87h1v1.20h-1zM1051 51.87h2v1.20h-2zM1054 51.87h1v1.20h-1zM1063 51.87h1v1.20h-1zM1070 51.87h1v1.20h-1zM1020 53.07h1v1.20h-1zM1022 53.07h1v1.20h-1zM1026 53.07h1v1.20h-1zM1030 53.07h1v1.20h-1zM1032 53.07h1v1.20h-1zM1037 53.07h1v1.20h-1zM1041 53.07h2v1.20h-2zM1047 53.07h1v1.20h-1zM1053 53.07h1v1.20h-1zM1056 53.07h1v1.20h-1zM1062 53.07h1v1.20h-1zM1069 53.07h1v1.20h-1zM1020 54.27h1v1.20h-1zM1023 54.27h1v1.20h-1zM1025 54.27h2v1.20h-2zM1031 54.27h1v1.20h-1zM1033 54.27h1v1.20h-1zM1043 54.27h1v1.20h-1zM1046 54.27h3v1.20h-3zM1050 54.27h4v1.20h-4zM1066 54.27h1v1.20h-1zM1070 54.27h1v1.20h-1zM1028 55.46h1v1.20h-1zM1033 55.46h1v1.20h-1zM1039 55.46h1v1.20h-1zM1043 55.46h2v1.20h-2zM1047 55.46h2v1.20h-2zM1050 55.46h4v1.20h-4zM1057 55.46h1v1.20h-1zM1022 56.66h1v1.20h-1zM1033 56.66h1v1.20h-1zM1039 56.66h1v1.20h-1zM1048 56.66h1v1.20h-1zM1059 56.66h2v1.20h-2zM1064 56.66h1v1.20h-1zM1044 57.86h1v1.20h-1zM1052 57.86h1v1.20h-1zM1056 57.86h1v1.20h-1zM1058 57.86h1v1.20h-1zM1060 57.86h1v1.20h-1zM1067 57.86h1v1.20h-1zM1036 59.05h1v1.20h-1zM1038 59.05h1v1.20h-1zM1051 59.05h1v1.20h-1zM1054 59.05h3v1.20h-3zM1059 59.05h1v1.20h-1zM1066 59.05h1v1.20h-1zM1029 60.25h1v1.20h-1zM1044 60.25h1v1.20h-1zM1048 60.25h1v1.20h-1zM1055 60.25h1v1.20h-1zM1057 60.25h1v1.20h-1zM1060 60.25h1v1.20h-1zM1063 60.25h2v1.20h-2zM1018 61.45h1v1.20h-1zM1024 61.45h2v1.20h-2zM1032 61.45h1v1.20h-1zM1041 61.45h1v1.20h-1zM1048 61.45h1v1.20h-1zM1050 61.45h1v1.20h-1zM1052 61.45h1v1.20h-1zM1056 61.45h1v1.20h-1zM1012 62.64h1v1.20h-1zM1015 62.64h1v1.20h-1zM1018 62.64h1v1.20h-1zM1022 62.64h2v1.20h-2zM1026 62.64h1v1.20h-1zM1035 62.64h1v1.20h-1zM1040 62.64h2v1.20h-2zM1048 62.64h1v1.20h-1zM1050 62.64h1v1.20h-1zM1053 62.64h1v1.20h-1zM1057 62.64h1v1.20h-1zM1012 63.84h1v1.20h-1zM1022 63.84h2v1.20h-2zM1026 63.84h1v1.20h-1zM1029 63.84h1v1.20h-1zM1032 63.84h1v1.20h-1zM1050 63.84h2v1.20h-2zM1053 63.84h2v1.20h-2zM1056 63.84h1v1.20h-1zM1060 63.84h2v1.20h-2zM1012 65.04h1v1.20h-1zM1015 65.04h1v1.20h-1zM1026 65.04h1v1.20h-1zM1033 65.04h1v1.20h-1zM1039 65.04h1v1.20h-1zM1041 65.04h1v1.20h-1zM1044 65.04h1v1.20h-1zM1051 65.04h1v1.20h-1zM1056 65.04h1v1.20h-1zM1058 65.04h2v1.20h-2zM1065 65.04h1v1.20h-1zM1026 66.23h2v1.20h-2zM1040 66.23h1v1.20h-1zM1043 66.23h1v1.20h-1zM1048 66.23h1v1.20h-1zM1051 66.23h1v1.20h-1zM1054 66.23h2v1.20h-2zM1057 66.23h1v1.20h-1zM1060 66.23h2v1.20h-2zM1037 67.43h1v1.20h-1zM1039 67.43h1v1.20h-1zM1041 67.43h1v1.20h-1zM1051 67.43h1v1.20h-1zM1054 67.43h1v1.20h-1zM1056 67.43h1v1.20h-1zM1059 67.43h1v1.20h-1zM1061 67.43h1v1.20h-1zM1063 67.43h1v1.20h-1zM1017 68.63h2v1.20h-2zM1027 68.63h1v1.20h-1zM1032 68.63h1v1.20h-1zM1036 68.63h1v1.20h-1zM1040 68.63h2v1.20h-2zM1055 68.63h1v1.20h-1zM1057 68.63h1v1.20h-1zM1060 68.63h1v1.20h-1zM1063 68.63h1v1.20h-1zM1019 69.82h2v1.20h-2zM1022 69.82h1v1.20h-1zM1026 69.82h1v1.20h-1zM1028 69.82h1v1.20h-1zM1036 69.82h2v1.20h-2zM1049 69.82h1v1.20h-1zM1063 69.82h1v1.20h-1zM1070 69.82h1v1.20h-1zM1018 71.02h1v1.20h-1zM1020 71.02h2v1.20h-2zM1024 71.02h1v1.20h-1zM1027 71.02h1v1.20h-1zM1031 71.02h2v1.20h-2zM1034 71.02h1v1.20h-1zM1036 71.02h2v1.20h-2zM1040 71.02h1v1.20h-1zM1045 71.02h3v1.20h-3zM1062 71.02h1v1.20h-1zM1064 71.02h1v1.20h-1zM1018 72.22h1v1.20h-1zM1022 72.22h1v1.20h-1zM1024 72.22h1v1.20h-1zM1028 72.22h1v1.20h-1zM1030 72.22h1v1.20h-1zM1033 72.22h1v1.20h-1zM1037 72.22h1v1.20h-1zM1043 72.22h1v1.20h-1zM1069 72.22h1v1.20h-1zM1015 73.41h1v1.20h-1zM1021 73.41h3v1.20h-3zM1025 73.41h3v1.20h-3zM1032 73.41h1v1.20h-1zM1036 73.41h1v1.20h-1zM1038 73.41h1v1.20h-1zM1040 73.41h1v1.20h-1zM1052 73.41h1v1.20h-1zM1062 73.41h1v1.20h-1zM1011 74.61h1v1.20h-1zM1019 74.61h1v1.20h-1zM1021 74.61h2v1.20h-2zM1031 74.61h2v1.20h-2zM1034 74.61h1v1.20h-1zM1042 74.61h1v1.20h-1zM1046 74.61h1v1.20h-1zM1049 74.61h2v1.20h-2zM1057 74.61h1v1.20h-1zM1061 74.61h1v1.20h-1zM1063 74.61h1v1.20h-1zM1022 75.81h1v1.20h-1zM1031 75.81h1v1.20h-1zM1038 75.81h1v1.20h-1zM1045 75.81h1v1.20h-1zM1049 75.81h1v1.20h-1zM1060 75.81h1v1.20h-1zM1062 75.81h2v1.20h-2zM1017 77.00h1v1.20h-1zM1019 77.00h2v1.20h-2zM1023 77.00h1v1.20h-1zM1026 77.00h2v1.20h-2zM1031 77.00h1v1.20h-1zM1034 77.00h3v1.20h-3zM1038 77.00h1v1.20h-1zM1042 77.00h1v1.20h-1zM1046 77.00h2v1.20h-2zM1053 77.00h1v1.20h-1zM1056 77.00h1v1.20h-1zM1001 78.20h1v1.20h-1zM1033 78.20h1v1.20h-1zM1038 78.20h1v1.20h-1zM1040 78.20h1v1.20h-1zM1042 78.20h1v1.20h-1zM1045 78.20h1v1.20h-1zM1055 78.20h1v1.20h-1zM1063 78.20h1v1.20h-1zM1070 78.20h1v1.20h-1zM1032 79.40h2v1.20h-2zM1038 79.40h3v1.20h-3zM1049 79.40h1v1.20h-1zM1054 79.40h1v1.20h-1zM1056 79.40h2v1.20h-2zM1059 79.40h1v1.20h-1zM1010 80.59h1v1.20h-1zM1012 80.59h1v1.20h-1zM1021 80.59h1v1.20h-1zM1028 80.59h1v1.20h-1zM1036 80.59h1v1.20h-1zM1041 80.59h1v1.20h-1zM1048 80.59h1v1.20h-1zM1050 80.59h1v1.20h-1zM1053 80.59h1v1.20h-1zM1059 80.59h2v1.20h-2zM1062 80.59h1v1.20h-1zM1026 81.79h1v1.20h-1zM1032 81.79h1v1.20h-1zM1039 81.79h1v1.20h-1zM1041 81.79h1v1.20h-1zM1043 81.79h2v1.20h-2zM1048 81.79h1v1.20h-1zM1053 81.79h4v1.20h-4zM1061 81.79h1v1.20h-1zM1013 82.99h1v1.20h-1zM1022 82.99h1v1.20h-1zM1025 82.99h1v1.20h-1zM1030 82.99h1v1.20h-1zM1036 82.99h4v1.20h-4zM1042 82.99h4v1.20h-4zM1057 82.99h1v1.20h-1zM1070 82.99h1v1.20h-1zM1015 84.18h1v1.20h-1zM1022 84.18h1v1.20h-1zM1026 84.18h1v1.20h-1zM1032 84.18h2v1.20h-2zM1037 84.18h1v1.20h-1zM1044 84.18h1v1.20h-1zM1048 84.18h1v1.20h-1zM1022 85.38h1v1.20h-1zM1036 85.38h1v1.20h-1zM1043 85.38h1v1.20h-1zM1050 85.38h2v1.20h-2zM1055 85.38h2v1.20h-2zM1060 85.38h1v1.20h-1zM1022 86.58h1v1.20h-1zM1040 86.58h1v1.20h-1zM1043 86.58h1v1.20h-1zM1046 86.58h2v1.20h-2zM1061 86.58h1v1.20h-1zM1066 86.58h1v1.20h-1zM1037 87.77h1v1.20h-1zM1043 87.77h2v1.20h-2zM1046 87.77h2v1.20h-2zM1049 87.77h2v1.20h-2zM1060 87.77h1v1.20h-1zM1070 87.77h1v1.20h-1zM1023 88.97h1v1.20h-1zM1028 88.97h1v1.20h-1zM1041 88.97h1v1.20h-1zM1043 88.97h1v1.20h-1zM1046 88.97h2v1.20h-2zM1049 88.97h1v1.20h-1zM1054 88.97h1v1.20h-1zM1057 88.97h1v1.20h-1zM1059 88.97h2v1.20h-2zM1067 88.97h1v1.20h-1zM1069 88.97h1v1.20h-1zM1020 90.17h1v1.20h-1zM1025 90.17h1v1.20h-1zM1027 90.17h1v1.20h-1zM1032 90.17h1v1.20h-1zM1037 90.17h1v1.20h-1zM1040 90.17h1v1.20h-1zM1043 90.17h1v1.20h-1zM1045 90.17h1v1.20h-1zM1048 90.17h1v1.20h-1zM1055 90.17h1v1.20h-1zM1057 90.17h1v1.20h-1zM1060 90.17h1v1.20h-1zM1069 90.17h1v1.20h-1zM1026 91.36h1v1.20h-1zM1042 91.36h1v1.20h-1zM1050 91.36h1v1.20h-1zM1053 91.36h2v1.20h-2zM1063 91.36h1v1.20h-1zM1015 92.56h1v1.20h-1zM1025 92.56h1v1.20h-1zM1029 92.56h1v1.20h-1zM1032 92.56h1v1.20h-1zM1035 92.56h1v1.20h-1zM1042 92.56h2v1.20h-2zM1046 92.56h1v1.20h-1zM1048 92.56h1v1.20h-1zM1051 92.56h3v1.20h-3zM1057 92.56h2v1.20h-2zM1060 92.56h1v1.20h-1zM1022 93.76h1v1.20h-1zM1027 93.76h1v1.20h-1zM1029 93.76h1v1.20h-1zM1038 93.76h1v1.20h-1zM1041 93.76h1v1.20h-1zM1045 93.76h1v1.20h-1zM1047 93.76h2v1.20h-2zM1051 93.76h2v1.20h-2zM1057 93.76h1v1.20h-1zM1061 93.76h1v1.20h-1zM1063 93.76h1v1.20h-1zM1021 94.95h1v1.20h-1zM1029 94.95h1v1.20h-1zM1033 94.95h1v1.20h-1zM1037 94.95h2v1.20h-2zM1040 94.95h1v1.20h-1zM1043 94.95h1v1.20h-1zM1048 94.95h1v1.20h-1zM1050 94.95h1v1.20h-1zM1053 94.95h1v1.20h-1zM1059 94.95h1v1.20h-1zM1012 96.15h1v1.20h-1zM1025 96.15h1v1.20h-1zM1038 96.15h1v1.20h-1zM1041 96.15h1v1.20h-1zM1045 96.15h2v1.20h-2zM1048 96.15h3v1.20h-3zM1057 96.15h1v1.20h-1zM1013 97.35h1v1.20h-1zM1015 97.35h1v1.20h-1zM1032 97.35h2v1.20h-2zM1037 97.35h3v1.20h-3zM1041 97.35h1v1.20h-1zM1045 97.35h1v1.20h-1zM1049 97.35h1v1.20h-1zM1053 97.35h3v1.20h-3zM1060 97.35h1v1.20h-1zM1063 97.35h1v1.20h-1zM1026 98.55h1v1.20h-1zM1032 98.55h1v1.20h-1zM1038 98.55h3v1.20h-3zM1042 98.55h1v1.20h-1zM1044 98.55h2v1.20h-2zM1053 98.55h1v1.20h-1zM1063 98.55h1v1.20h-1zM1012 99.74h1v1.20h-1zM1044 99.74h4v1.20h-4zM1052 99.74h4v1.20h-4zM1059 99.74h2v1.20h-2zM1062 99.74h2v1.20h-2zM1069 99.74h1v1.20h-1zM1019 100.94h1v1.20h-1zM1029 100.94h1v1.20h-1zM1033 100.94h1v1.20h-1zM1039 100.94h1v1.20h-1zM1043 100.94h1v1.20h-1zM1047 100.94h1v1.20h-1zM1049 100.94h2v1.20h-2zM1052 100.94h2v1.20h-2zM1059 100.94h1v1.20h-1zM1070 100.94h1v1.20h-1zM1029 102.14h1v1.20h-1zM1033 102.14h1v1.20h-1zM1036 102.14h1v1.20h-1zM1042 102.14h1v1.20h-1zM1045 102.14h1v1.20h-1zM1047 102.14h1v1.20h-1zM1025 103.33h3v1.20h-3zM1029 103.33h1v1.20h-1zM1032 103.33h2v1.20h-2zM1039 103.33h1v1.20h-1zM1041 103.33h1v1.20h-1zM1043 103.33h1v1.20h-1zM1045 103.33h1v1.20h-1zM1050 103.33h1v1.20h-1zM1054 103.33h1v1.20h-1zM1056 103.33h1v1.20h-1zM1062 103.33h1v1.20h-1zM1016 104.53h1v1.20h-1zM1020 104.53h1v1.20h-1zM1027 104.53h1v1.20h-1zM1042 104.53h1v1.20h-1zM1046 104.53h1v1.20h-1zM1048 104.53h2v1.20h-2zM1059 104.53h2v1.20h-2zM1062 104.53h1v1.20h-1zM1064 104.53h1v1.20h-1zM1011 105.73h1v1.20h-1zM1032 105.73h1v1.20h-1zM1036 105.73h1v1.20h-1zM1042 105.73h1v1.20h-1zM1046 105.73h1v1.20h-1zM1055 105.73h1v1.20h-1zM1060 105.73h1v1.20h-1zM1022 106.92h2v1.20h-2zM1029 106.92h1v1.20h-1zM1031 106.92h3v1.20h-3zM1040 106.92h2v1.20h-2zM1045 106.92h2v1.20h-2zM1053 106.92h2v1.20h-2zM1056 106.92h1v1.20h-1zM1061 106.92h1v1.20h-1zM1015 108.12h1v1.20h-1zM1022 108.12h1v1.20h-1zM1026 108.12h1v1.20h-1zM1033 108.12h1v1.20h-1zM1042 108.12h1v1.20h-1zM1045 108.12h1v1.20h-1zM1053 108.12h2v1.20h-2zM1063 108.12h1v1.20h-1zM1012 109.32h1v1.20h-1zM1032 109.32h1v1.20h-1zM1046 109.32h1v1.20h-1zM1052 109.32h1v1.20h-1zM1054 109.32h1v1.20h-1zM1060 109.32h1v1.20h-1zM1062 109.32h2v1.20h-2zM1036 110.51h1v1.20h-1zM1043 110.51h1v1.20h-1zM1052 110.51h3v1.20h-3zM1057 110.51h2v1.20h-2zM1062 110.51h2v1.20h-2zM1022 111.71h1v1.20h-1zM1026 111.71h1v1.20h-1zM1028 111.71h1v1.20h-1zM1036 111.71h1v1.20h-1zM1041 111.71h1v1.20h-1zM1045 111.71h1v1.20h-1zM1048 111.71h1v1.20h-1zM1052 111.71h1v1.20h-1zM1055 111.71h1v1.20h-1zM1057 111.71h4v1.20h-4zM1026 112.91h1v1.20h-1zM1029 112.91h1v1.20h-1zM1035 112.91h2v1.20h-2zM1041 112.91h1v1.20h-1zM1046 112.91h2v1.20h-2zM1050 112.91h1v1.20h-1zM1053 112.91h1v1.20h-1zM1056 112.91h2v1.20h-2zM1059 112.91h1v1.20h-1zM1061 112.91h1v1.20h-1zM1012 114.10h1v1.20h-1zM1016 114.10h2v1.20h-2zM1020 114.10h1v1.20h-1zM1032 114.10h1v1.20h-1zM1041 114.10h1v1.20h-1zM1048 114.10h1v1.20h-1zM1055 114.10h1v1.20h-1zM1059 114.10h1v1.20h-1zM1010 115.30h1v1.20h-1zM1029 115.30h1v1.20h-1zM1031 115.30h1v1.20h-1zM1036 115.30h1v1.20h-1zM1039 115.30h1v1.20h-1zM1042 115.30h2v1.20h-2zM1045 115.30h1v1.20h-1zM1048 115.30h1v1.20h-1zM1052 115.30h2v1.20h-2zM1055 115.30h2v1.20h-2zM1059 115.30h1v1.20h-1zM1033 116.50h1v1.20h-1zM1040 116.50h1v1.20h-1zM1043 116.50h1v1.20h-1zM1048 116.50h2v1.20h-2zM1051 116.50h2v1.20h-2zM1069 116.50h1v1.20h-1zM1042 117.69h1v1.20h-1zM1048 117.69h2v1.20h-2zM1054 117.69h1v1.20h-1zM1060 117.69h1v1.20h-1zM1062 117.69h1v1.20h-1zM1032 118.89h1v1.20h-1zM1035 118.89h2v1.20h-2zM1045 118.89h2v1.20h-2zM1048 118.89h2v1.20h-2zM1052 118.89h1v1.20h-1zM1060 118.89h3v1.20h-3zM1067 118.89h1v1.20h-1zM1022 120.09h1v1.20h-1zM1032 120.09h1v1.20h-1zM1034 120.09h1v1.20h-1zM1046 120.09h1v1.20h-1zM1049 120.09h4v1.20h-4zM1055 120.09h1v1.20h-1zM1070 120.09h1v1.20h-1zM1038 121.28h1v1.20h-1zM1040 121.28h1v1.20h-1zM1048 121.28h1v1.20h-1zM1050 121.28h1v1.20h-1zM1053 121.28h1v1.20h-1zM1059 121.28h1v1.20h-1zM1029 122.48h1v1.20h-1zM1032 122.48h1v1.20h-1zM1034 122.48h1v1.20h-1zM1046 122.48h1v1.20h-1zM1050 122.48h1v1.20h-1zM1054 122.48h1v1.20h-1zM1063 122.48h2v1.20h-2zM1066 122.48h1v1.20h-1zM1024 123.68h1v1.20h-1zM1029 123.68h1v1.20h-1zM1036 123.68h1v1.20h-1zM1039 123.68h1v1.20h-1zM1041 123.68h1v1.20h-1zM1043 123.68h2v1.20h-2zM1051 123.68h1v1.20h-1zM1055 123.68h1v1.20h-1zM1060 123.68h1v1.20h-1zM1063 123.68h1v1.20h-1zM1024 124.87h1v1.20h-1zM1026 124.87h1v1.20h-1zM1039 124.87h1v1.20h-1zM1042 124.87h1v1.20h-1zM1044 124.87h1v1.20h-1zM1052 124.87h1v1.20h-1zM1058 124.87h3v1.20h-3zM1062 124.87h2v1.20h-2zM1029 126.07h1v1.20h-1zM1034 126.07h1v1.20h-1zM1046 126.07h1v1.20h-1zM1048 126.07h2v1.20h-2zM1051 126.07h2v1.20h-2zM1055 126.07h1v1.20h-1zM1059 126.07h1v1.20h-1zM1061 126.07h1v1.20h-1zM1063 126.07h1v1.20h-1zM1069 126.07h1v1.20h-1zM1022 127.27h1v1.20h-1zM1025 127.27h1v1.20h-1zM1028 127.27h2v1.20h-2zM1032 127.27h1v1.20h-1zM1036 127.27h1v1.20h-1zM1038 127.27h1v1.20h-1zM1040 127.27h1v1.20h-1zM1044 127.27h1v1.20h-1zM1048 127.27h1v1.20h-1zM1050 127.27h1v1.20h-1zM1052 127.27h1v1.20h-1zM1054 127.27h1v1.20h-1zM1062 127.27h1v1.20h-1zM1067 127.27h1v1.20h-1zM1010 128.46h2v1.20h-2zM1015 128.46h1v1.20h-1zM1022 128.46h1v1.20h-1zM1025 128.46h1v1.20h-1zM1027 128.46h3v1.20h-3zM1032 128.46h2v1.20h-2zM1037 128.46h1v1.20h-1zM1044 128.46h2v1.20h-2zM1047 128.46h1v1.20h-1zM1051 128.46h2v1.20h-2zM1054 128.46h1v1.20h-1zM1063 128.46h1v1.20h-1zM1065 128.46h1v1.20h-1zM1017 129.66h3v1.20h-3zM1021 129.66h2v1.20h-2zM1027 129.66h1v1.20h-1zM1032 129.66h1v1.20h-1zM1034 129.66h1v1.20h-1zM1039 129.66h2v1.20h-2zM1047 129.66h2v1.20h-2zM1051 129.66h1v1.20h-1zM1054 129.66h2v1.20h-2zM1057 129.66h1v1.20h-1zM1059 129.66h2v1.20h-2zM1063 129.66h1v1.20h-1zM1015 130.86h1v1.20h-1zM1019 130.86h1v1.20h-1zM1026 130.86h3v1.20h-3zM1035 130.86h1v1.20h-1zM1043 130.86h2v1.20h-2zM1048 130.86h1v1.20h-1zM1059 130.86h1v1.20h-1zM1017 132.05h2v1.20h-2zM1020 132.05h1v1.20h-1zM1022 132.05h1v1.20h-1zM1026 132.05h1v1.20h-1zM1034 132.05h2v1.20h-2zM1040 132.05h2v1.20h-2zM1043 132.05h1v1.20h-1zM1045 132.05h2v1.20h-2zM1053 132.05h1v1.20h-1zM1056 132.05h1v1.20h-1zM1058 132.05h4v1.20h-4zM1067 132.05h1v1.20h-1zM1015 133.25h1v1.20h-1zM1018 133.25h2v1.20h-2zM1022 133.25h1v1.20h-1zM1028 133.25h2v1.20h-2zM1032 133.25h2v1.20h-2zM1035 133.25h1v1.20h-1zM1039 133.25h1v1.20h-1zM1043 133.25h1v1.20h-1zM1046 133.25h1v1.20h-1zM1048 133.25h1v1.20h-1zM1051 133.25h4v1.20h-4zM1056 133.25h2v1.20h-2zM1059 133.25h2v1.20h-2zM1011 134.45h3v1.20h-3zM1018 134.45h1v1.20h-1zM1022 134.45h1v1.20h-1zM1026 134.45h1v1.20h-1zM1028 134.45h3v1.20h-3zM1036 134.45h6v1.20h-6zM1044 134.45h1v1.20h-1zM1051 134.45h1v1.20h-1zM1054 134.45h2v1.20h-2zM1058 134.45h1v1.20h-1zM1062 134.45h1v1.20h-1zM1066 134.45h1v1.20h-1zM1011 135.64h1v1.20h-1zM1013 135.64h1v1.20h-1zM1020 135.64h3v1.20h-3zM1024 135.64h1v1.20h-1zM1027 135.64h5v1.20h-5zM1034 135.64h1v1.20h-1zM1037 135.64h1v1.20h-1zM1040 135.64h2v1.20h-2zM1045 135.64h1v1.20h-1zM1050 135.64h2v1.20h-2zM1053 135.64h1v1.20h-1zM1057 135.64h1v1.20h-1zM1059 135.64h1v1.20h-1zM1014 136.84h2v1.20h-2zM1021 136.84h1v1.20h-1zM1028 136.84h2v1.20h-2zM1032 136.84h2v1.20h-2zM1037 136.84h1v1.20h-1zM1042 136.84h1v1.20h-1zM1055 136.84h2v1.20h-2zM1067 136.84h1v1.20h-1zM1011 138.04h1v1.20h-1zM1014 138.04h2v1.20h-2zM1017 138.04h2v1.20h-2zM1023 138.04h1v1.20h-1zM1027 138.04h1v1.20h-1zM1034 138.04h1v1.20h-1zM1037 138.04h1v1.20h-1zM1040 138.04h1v1.20h-1zM1042 138.04h2v1.20h-2zM1045 138.04h1v1.20h-1zM1048 138.04h1v1.20h-1zM1050 138.04h1v1.20h-1zM1054 138.04h1v1.20h-1zM1062 138.04h1v1.20h-1zM1069 138.04h1v1.20h-1zM1013 139.23h1v1.20h-1zM1016 139.23h1v1.20h-1zM1022 139.23h2v1.20h-2zM1026 139.23h1v1.20h-1zM1032 139.23h1v1.20h-1zM1041 139.23h1v1.20h-1zM1043 139.23h5v1.20h-5zM1053 139.23h1v1.20h-1zM1055 139.23h2v1.20h-2zM1059 139.23h1v1.20h-1zM1061 139.23h2v1.20h-2zM1010 140.43h2v1.20h-2zM1014 140.43h2v1.20h-2zM1018 140.43h2v1.20h-2zM1026 140.43h2v1.20h-2zM1032 140.43h3v1.20h-3zM1036 140.43h1v1.20h-1zM1046 140.43h1v1.20h-1zM1050 140.43h3v1.20h-3zM1054 140.43h1v1.20h-1zM1056 140.43h1v1.20h-1zM1059 140.43h1v1.20h-1zM1062 140.43h2v1.20h-2zM1069 140.43h2v1.20h-2zM1016 141.63h1v1.20h-1zM1019 141.63h2v1.20h-2zM1022 141.63h1v1.20h-1zM1024 141.63h2v1.20h-2zM1028 141.63h1v1.20h-1zM1031 141.63h1v1.20h-1zM1037 141.63h2v1.20h-2zM1041 141.63h1v1.20h-1zM1043 141.63h3v1.20h-3zM1048 141.63h1v1.20h-1zM1051 141.63h1v1.20h-1zM1055 141.63h1v1.20h-1zM1057 141.63h1v1.20h-1zM1063 141.63h1v1.20h-1zM1012 142.82h2v1.20h-2zM1015 142.82h1v1.20h-1zM1024 142.82h1v1.20h-1zM1027 142.82h1v1.20h-1zM1037 142.82h2v1.20h-2zM1044 142.82h2v1.20h-2zM1047 142.82h1v1.20h-1zM1049 142.82h1v1.20h-1zM1055 142.82h1v1.20h-1zM1057 142.82h1v1.20h-1zM1059 142.82h2v1.20h-2zM1062 142.82h2v1.20h-2zM1010 144.02h1v1.20h-1zM1017 144.02h1v1.20h-1zM1024 144.02h1v1.20h-1zM1028 144.02h1v1.20h-1zM1032 144.02h1v1.20h-1zM1034 144.02h1v1.20h-1zM1039 144.02h2v1.20h-2zM1045 144.02h1v1.20h-1zM1047 144.02h1v1.20h-1zM1051 144.02h1v1.20h-1zM1055 144.02h1v1.20h-1zM1057 144.02h1v1.20h-1zM1060 144.02h1v1.20h-1zM1026 145.22h1v1.20h-1zM1033 145.22h1v1.20h-1zM1040 145.22h1v1.20h-1zM1045 145.22h1v1.20h-1zM1047 145.22h2v1.20h-2zM1055 145.22h1v1.20h-1zM1058 145.22h2v1.20h-2zM1062 145.22h2v1.20h-2zM1065 145.22h1v1.20h-1zM1070 145.22h1v1.20h-1zM1026 146.41h1v1.20h-1zM1036 146.41h1v1.20h-1zM1042 146.41h1v1.20h-1zM1044 146.41h3v1.20h-3zM1048 146.41h1v1.20h-1zM1055 146.41h2v1.20h-2zM1068 146.41h1v1.20h-1zM1019 147.61h1v1.20h-1zM1026 147.61h1v1.20h-1zM1032 147.61h1v1.20h-1zM1041 147.61h1v1.20h-1zM1045 147.61h3v1.20h-3zM1049 147.61h1v1.20h-1zM1051 147.61h1v1.20h-1zM1055 147.61h2v1.20h-2zM1064 147.61h1v1.20h-1zM1015 148.81h1v1.20h-1zM1029 148.81h1v1.20h-1zM1033 148.81h1v1.20h-1zM1039 148.81h1v1.20h-1zM1041 148.81h1v1.20h-1zM1043 148.81h1v1.20h-1zM1045 148.81h1v1.20h-1zM1050 148.81h1v1.20h-1zM1055 148.81h1v1.20h-1zM1061 148.81h1v1.20h-1zM1069 148.81h1v1.20h-1zM1018 150.00h2v1.20h-2zM1022 150.00h1v1.20h-1zM1026 150.00h1v1.20h-1zM1031 150.00h1v1.20h-1zM1033 150.00h1v1.20h-1zM1036 150.00h1v1.20h-1zM1039 150.00h1v1.20h-1zM1045 150.00h2v1.20h-2zM1048 150.00h2v1.20h-2zM1057 150.00h1v1.20h-1zM1060 150.00h2v1.20h-2zM1066 150.00h1v1.20h-1z" fill="#2e4598" fill-opacity="0.5"/>
<path d="M1029 42.30h1v1.20h-1zM1042 42.30h4v1.20h-4zM1048 42.30h1v1.20h-1zM1054 42.30h2v1.20h-2zM1071 42.30h1v1.20h-1zM1039 43.50h1v1.20h-1zM1050 43.50h1v1.20h-1zM1054 43.50h1v1.20h-1zM1058 43.50h1v1.20h-1zM1061 43.50h2v1.20h-2zM1064 43.50h1v1.20h-1zM1066 43.50h1v1.20h-1zM1070 43.50h1v1.20h-1zM1026 44.69h1v1.20h-1zM1033 44.69h1v1.20h-1zM1036 44.69h2v1.20h-2zM1040 44.69h1v1.20h-1zM1042 44.69h1v1.20h-1zM1045 44.69h1v1.20h-1zM1049 44.69h3v1.20h-3zM1053 44.69h1v1.20h-1zM1060 44.69h1v1.20h-1zM1069 44.69h1v1.20h-1zM1033 45.89h1v1.20h-1zM1036 45.89h2v1.20h-2zM1043 45.89h2v1.20h-2zM1047 45.89h1v1.20h-1zM1051 45.89h1v1.20h-1zM1057 45.89h1v1.20h-1zM1066 45.89h1v1.20h-1zM1068 45.89h1v1.20h-1zM1077 45.89h1v1.20h-1zM1025 47.09h1v1.20h-1zM1029 47.09h1v1.20h-1zM1036 47.09h3v1.20h-3zM1041 47.09h1v1.20h-1zM1043 47.09h1v1.20h-1zM1045 47.09h1v1.20h-1zM1052 47.09h1v1.20h-1zM1069 47.09h2v1.20h-2zM1022 48.28h1v1.20h-1zM1026 48.28h1v1.20h-1zM1032 48.28h1v1.20h-1zM1034 48.28h1v1.20h-1zM1046 48.28h1v1.20h-1zM1055 48.28h1v1.20h-1zM1069 48.28h1v1.20h-1zM1020 49.48h1v1.20h-1zM1029 49.48h1v1.20h-1zM1032 49.48h1v1.20h-1zM1035 49.48h1v1.20h-1zM1040 49.48h1v1.20h-1zM1042 49.48h1v1.20h-1zM1044 49.48h1v1.20h-1zM1046 49.48h1v1.20h-1zM1049 49.48h1v1.20h-1zM1074 49.48h1v1.20h-1zM1033 50.68h1v1.20h-1zM1043 50.68h2v1.20h-2zM1047 50.68h1v1.20h-1zM1051 50.68h1v1.20h-1zM1053 50.68h1v1.20h-1zM1062 50.68h1v1.20h-1zM1066 50.68h1v1.20h-1zM1070 50.68h1v1.20h-1zM1040 51.87h1v1.20h-1zM1042 51.87h1v1.20h-1zM1045 51.87h2v1.20h-2zM1048 51.87h1v1.20h-1zM1053 51.87h1v1.20h-1zM1059 51.87h2v1.20h-2zM1038 53.07h3v1.20h-3zM1044 53.07h3v1.20h-3zM1055 53.07h1v1.20h-1zM1060 53.07h2v1.20h-2zM1079 53.07h1v1.20h-1zM1044 54.27h1v1.20h-1zM1057 54.27h3v1.20h-3zM1061 54.27h1v1.20h-1zM1029 55.46h1v1.20h-1zM1032 55.46h1v1.20h-1zM1038 55.46h1v1.20h-1zM1060 55.46h1v1.20h-1zM1062 55.46h1v1.20h-1zM1070 55.46h1v1.20h-1zM1065 56.66h1v1.20h-1zM1048 57.86h1v1.20h-1zM1050 57.86h2v1.20h-2zM1059 57.86h1v1.20h-1zM1062 57.86h1v1.20h-1zM1065 57.86h1v1.20h-1zM1043 59.05h1v1.20h-1zM1048 59.05h1v1.20h-1zM1070 59.05h1v1.20h-1zM1075 59.05h1v1.20h-1zM1043 60.25h1v1.20h-1zM1056 60.25h1v1.20h-1zM1062 60.25h1v1.20h-1zM1016 61.45h1v1.20h-1zM1036 61.45h1v1.20h-1zM1043 61.45h1v1.20h-1zM1051 61.45h1v1.20h-1zM1054 61.45h2v1.20h-2zM1059 61.45h1v1.20h-1zM1029 62.64h1v1.20h-1zM1058 62.64h1v1.20h-1zM1033 63.84h1v1.20h-1zM1047 63.84h1v1.20h-1zM1052 63.84h1v1.20h-1zM1062 63.84h1v1.20h-1zM1064 63.84h1v1.20h-1zM1077 63.84h1v1.20h-1zM1047 65.04h1v1.20h-1zM1052 65.04h1v1.20h-1zM1054 65.04h1v1.20h-1zM1064 65.04h1v1.20h-1zM1067 65.04h1v1.20h-1zM1071 65.04h2v1.20h-2zM1036 66.23h1v1.20h-1zM1052 66.23h1v1.20h-1zM1059 66.23h1v1.20h-1zM1077 66.23h1v1.20h-1zM1043 67.43h1v1.20h-1zM1047 67.43h1v1.20h-1zM1052 67.43h1v1.20h-1zM1058 67.43h1v1.20h-1zM1065 67.43h1v1.20h-1zM1024 68.63h1v1.20h-1zM1030 68.63h1v1.20h-1zM1046 68.63h1v1.20h-1zM1048 68.63h1v1.20h-1zM1050 68.63h1v1.20h-1zM1056 68.63h1v1.20h-1zM1064 68.63h1v1.20h-1zM1067 68.63h1v1.20h-1zM1069 68.63h1v1.20h-1zM1018 69.82h1v1.20h-1zM1021 69.82h1v1.20h-1zM1031 69.82h1v1.20h-1zM1033 69.82h1v1.20h-1zM1039 69.82h2v1.20h-2zM1044 69.82h4v1.20h-4zM1025 71.02h1v1.20h-1zM1038 71.02h1v1.20h-1zM1041 71.02h1v1.20h-1zM1048 71.02h1v1.20h-1zM1052 71.02h1v1.20h-1zM1061 71.02h1v1.20h-1zM1063 71.02h1v1.20h-1zM1067 71.02h1v1.20h-1zM1021 72.22h1v1.20h-1zM1025 72.22h1v1.20h-1zM1027 72.22h1v1.20h-1zM1032 72.22h1v1.20h-1zM1034 72.22h1v1.20h-1zM1036 72.22h1v1.20h-1zM1038 72.22h4v1.20h-4zM1046 72.22h1v1.20h-1zM1049 72.22h1v1.20h-1zM1057 72.22h1v1.20h-1zM1064 72.22h1v1.20h-1zM1077 72.22h1v1.20h-1zM1028 73.41h2v1.20h-2zM1039 73.41h1v1.20h-1zM1041 73.41h2v1.20h-2zM1045 73.41h1v1.20h-1zM1048 73.41h2v1.20h-2zM1054 73.41h1v1.20h-1zM1020 74.61h1v1.20h-1zM1028 74.61h2v1.20h-2zM1036 74.61h1v1.20h-1zM1039 74.61h1v1.20h-1zM1041 74.61h1v1.20h-1zM1053 74.61h3v1.20h-3zM1062 74.61h1v1.20h-1zM1065 74.61h2v1.20h-2zM1070 74.61h1v1.20h-1zM1013 75.81h1v1.20h-1zM1017 75.81h1v1.20h-1zM1024 75.81h1v1.20h-1zM1026 75.81h2v1.20h-2zM1029 75.81h1v1.20h-1zM1036 75.81h2v1.20h-2zM1042 75.81h1v1.20h-1zM1044 75.81h1v1.20h-1zM1052 75.81h1v1.20h-1zM1058 75.81h1v1.20h-1zM1075 75.81h1v1.20h-1zM1022 77.00h1v1.20h-1zM1037 77.00h1v1.20h-1zM1043 77.00h1v1.20h-1zM1048 77.00h2v1.20h-2zM1061 77.00h1v1.20h-1zM1066 77.00h1v1.20h-1zM1071 77.00h1v1.20h-1zM1047 78.20h1v1.20h-1zM1053 78.20h1v1.20h-1zM1056 78.20h1v1.20h-1zM1059 78.20h1v1.20h-1zM1062 78.20h1v1.20h-1zM1065 78.20h2v1.20h-2zM1015 79.40h1v1.20h-1zM1029 79.40h1v1.20h-1zM1044 79.40h1v1.20h-1zM1047 79.40h1v1.20h-1zM1055 79.40h1v1.20h-1zM1061 79.40h2v1.20h-2zM1069 79.40h1v1.20h-1zM1077 79.40h1v1.20h-1zM1025 80.59h1v1.20h-1zM1029 80.59h1v1.20h-1zM1040 80.59h1v1.20h-1zM1052 80.59h1v1.20h-1zM1069 80.59h1v1.20h-1zM1072 80.59h2v1.20h-2zM1029 81.79h1v1.20h-1zM1033 81.79h1v1.20h-1zM1038 81.79h1v1.20h-1zM1047 81.79h1v1.20h-1zM1050 81.79h1v1.20h-1zM1059 81.79h1v1.20h-1zM1069 81.79h1v1.20h-1zM1072 81.79h1v1.20h-1zM999 82.99h1v1.20h-1zM1033 82.99h1v1.20h-1zM1040 82.99h1v1.20h-1zM1048 82.99h1v1.20h-1zM1052 82.99h1v1.20h-1zM1058 82.99h1v1.20h-1zM1060 82.99h1v1.20h-1zM1069 82.99h1v1.20h-1zM1031 84.18h1v1.20h-1zM1047 84.18h1v1.20h-1zM1049 84.18h1v1.20h-1zM1051 84.18h2v1.20h-2zM1057 84.18h1v1.20h-1zM1070 84.18h1v1.20h-1zM1026 85.38h1v1.20h-1zM1044 85.38h1v1.20h-1zM1048 85.38h1v1.20h-1zM1057 85.38h2v1.20h-2zM1061 85.38h1v1.20h-1zM1029 86.58h1v1.20h-1zM1051 86.58h1v1.20h-1zM1056 86.58h2v1.20h-2zM1068 86.58h1v1.20h-1zM1028 87.77h1v1.20h-1zM1045 87.77h1v1.20h-1zM1051 87.77h2v1.20h-2zM1056 87.77h1v1.20h-1zM1059 87.77h1v1.20h-1zM1063 87.77h1v1.20h-1zM1067 87.77h1v1.20h-1zM1075 87.77h1v1.20h-1zM1040 88.97h1v1.20h-1zM1044 88.97h1v1.20h-1zM1063 88.97h1v1.20h-1zM1070 88.97h1v1.20h-1zM1036 90.17h1v1.20h-1zM1039 90.17h1v1.20h-1zM1042 90.17h1v1.20h-1zM1044 90.17h1v1.20h-1zM1050 90.17h1v1.20h-1zM1052 90.17h1v1.20h-1zM1054 90.17h1v1.20h-1zM1056 90.17h1v1.20h-1zM1061 90.17h1v1.20h-1zM1064 90.17h1v1.20h-1zM1071 90.17h1v1.20h-1zM1075 90.17h1v1.20h-1zM1022 91.36h1v1.20h-1zM1033 91.36h1v1.20h-1zM1037 91.36h1v1.20h-1zM1041 91.36h1v1.20h-1zM1052 91.36h1v1.20h-1zM1055 91.36h1v1.20h-1zM1061 91.36h2v1.20h-2zM1073 91.36h1v1.20h-1zM1033 92.56h1v1.20h-1zM1037 92.56h1v1.20h-1zM1040 92.56h1v1.20h-1zM1044 92.56h1v1.20h-1zM1055 92.56h1v1.20h-1zM1059 92.56h1v1.20h-1zM1036 93.76h1v1.20h-1zM1039 93.76h1v1.20h-1zM1042 93.76h1v1.20h-1zM1044 93.76h1v1.20h-1zM1046 93.76h1v1.20h-1zM1053 93.76h1v1.20h-1zM1064 93.76h1v1.20h-1zM1045 94.95h1v1.20h-1zM1054 94.95h1v1.20h-1zM1060 94.95h4v1.20h-4zM1070 94.95h1v1.20h-1zM1029 96.15h1v1.20h-1zM1033 96.15h1v1.20h-1zM1039 96.15h1v1.20h-1zM1043 96.15h1v1.20h-1zM1047 96.15h1v1.20h-1zM1051 96.15h1v1.20h-1zM1054 96.15h1v1.20h-1zM1056 96.15h1v1.20h-1zM1060 96.15h2v1.20h-2zM1064 96.15h1v1.20h-1zM1068 96.15h2v1.20h-2zM1073 96.15h1v1.20h-1zM1014 97.35h1v1.20h-1zM1040 97.35h1v1.20h-1zM1044 97.35h1v1.20h-1zM1046 97.35h2v1.20h-2zM1052 97.35h1v1.20h-1zM1057 97.35h1v1.20h-1zM1064 97.35h1v1.20h-1zM1012 98.55h1v1.20h-1zM1041 98.55h1v1.20h-1zM1051 98.55h1v1.20h-1zM1055 98.55h1v1.20h-1zM1061 98.55h2v1.20h-2zM1065 98.55h1v1.20h-1zM1069 98.55h1v1.20h-1zM1078 98.55h1v1.20h-1zM1026 99.74h1v1.20h-1zM1040 99.74h1v1.20h-1zM1056 99.74h1v1.20h-1zM1061 99.74h1v1.20h-1zM1068 99.74h1v1.20h-1zM1026 100.94h1v1.20h-1zM1032 100.94h1v1.20h-1zM1044 100.94h1v1.20h-1zM1048 100.94h1v1.20h-1zM1058 100.94h1v1.20h-1zM1060 100.94h2v1.20h-2zM1064 100.94h1v1.20h-1zM1040 102.14h1v1.20h-1zM1043 102.14h1v1.20h-1zM1046 102.14h1v1.20h-1zM1048 102.14h1v1.20h-1zM1052 102.14h1v1.20h-1zM1056 102.14h1v1.20h-1zM1064 102.14h1v1.20h-1zM1069 102.14h2v1.20h-2zM1074 102.14h1v1.20h-1zM1036 103.33h1v1.20h-1zM1040 103.33h1v1.20h-1zM1057 103.33h1v1.20h-1zM1059 103.33h1v1.20h-1zM1064 103.33h1v1.20h-1zM1033 104.53h1v1.20h-1zM1045 104.53h1v1.20h-1zM1047 104.53h1v1.20h-1zM1053 104.53h2v1.20h-2zM1058 104.53h1v1.20h-1zM1025 105.73h1v1.20h-1zM1029 105.73h1v1.20h-1zM1037 105.73h1v1.20h-1zM1040 105.73h2v1.20h-2zM1044 105.73h2v1.20h-2zM1056 105.73h2v1.20h-2zM1061 105.73h1v1.20h-1zM1064 105.73h1v1.20h-1zM1025 106.92h1v1.20h-1zM1044 106.92h1v1.20h-1zM1049 106.92h1v1.20h-1zM1060 106.92h1v1.20h-1zM1062 106.92h1v1.20h-1zM1050 108.12h1v1.20h-1zM1060 108.12h1v1.20h-1zM1062 108.12h1v1.20h-1zM1066 108.12h1v1.20h-1zM1070 108.12h1v1.20h-1zM1026 109.32h1v1.20h-1zM1029 109.32h1v1.20h-1zM1033 109.32h1v1.20h-1zM1036 109.32h1v1.20h-1zM1042 109.32h3v1.20h-3zM1048 109.32h2v1.20h-2zM1061 109.32h1v1.20h-1zM1033 110.51h1v1.20h-1zM1056 110.51h1v1.20h-1zM1068 110.51h2v1.20h-2zM1076 110.51h1v1.20h-1zM1047 111.71h1v1.20h-1zM1051 111.71h1v1.20h-1zM1053 111.71h2v1.20h-2zM1056 111.71h1v1.20h-1zM1063 111.71h1v1.20h-1zM1022 112.91h1v1.20h-1zM1043 112.91h3v1.20h-3zM1052 112.91h1v1.20h-1zM1055 112.91h1v1.20h-1zM1064 112.91h1v1.20h-1zM1066 112.91h1v1.20h-1zM1033 114.10h1v1.20h-1zM1043 114.10h2v1.20h-2zM1051 114.10h1v1.20h-1zM1061 114.10h1v1.20h-1zM1022 115.30h1v1.20h-1zM1033 115.30h1v1.20h-1zM1044 115.30h1v1.20h-1zM1047 115.30h1v1.20h-1zM1051 115.30h1v1.20h-1zM1054 115.30h1v1.20h-1zM1062 115.30h1v1.20h-1zM1070 115.30h2v1.20h-2zM1029 116.50h1v1.20h-1zM1041 116.50h1v1.20h-1zM1047 116.50h1v1.20h-1zM1053 116.50h1v1.20h-1zM1062 116.50h1v1.20h-1zM1068 116.50h1v1.20h-1zM1020 117.69h1v1.20h-1zM1029 117.69h1v1.20h-1zM1044 117.69h1v1.20h-1zM1047 117.69h1v1.20h-1zM1051 117.69h1v1.20h-1zM1053 117.69h1v1.20h-1zM1061 117.69h1v1.20h-1zM1063 117.69h1v1.20h-1zM1069 117.69h1v1.20h-1zM1033 118.89h1v1.20h-1zM1041 118.89h2v1.20h-2zM1044 118.89h1v1.20h-1zM1053 118.89h3v1.20h-3zM1058 118.89h2v1.20h-2zM1070 118.89h1v1.20h-1zM1039 120.09h1v1.20h-1zM1041 120.09h1v1.20h-1zM1043 120.09h3v1.20h-3zM1047 120.09h2v1.20h-2zM1053 120.09h1v1.20h-1zM1061 120.09h1v1.20h-1zM1024 121.28h1v1.20h-1zM1033 121.28h1v1.20h-1zM1042 121.28h1v1.20h-1zM1051 121.28h2v1.20h-2zM1054 121.28h1v1.20h-1zM1056 121.28h1v1.20h-1zM1061 121.28h1v1.20h-1zM1078 121.28h1v1.20h-1zM1044 122.48h2v1.20h-2zM1055 122.48h1v1.20h-1zM1077 122.48h1v1.20h-1zM1033 123.68h1v1.20h-1zM1053 123.68h1v1.20h-1zM1057 123.68h3v1.20h-3zM1067 123.68h1v1.20h-1zM1076 123.68h1v1.20h-1zM1009 124.87h1v1.20h-1zM1043 124.87h1v1.20h-1zM1045 124.87h1v1.20h-1zM1048 124.87h1v1.20h-1zM1051 124.87h1v1.20h-1zM1053 124.87h1v1.20h-1zM1055 124.87h1v1.20h-1zM1065 124.87h2v1.20h-2zM1053 126.07h1v1.20h-1zM1056 126.07h1v1.20h-1zM1064 126.07h1v1.20h-1zM1073 126.07h1v1.20h-1zM1059 127.27h1v1.20h-1zM1063 127.27h1v1.20h-1zM1066 127.27h1v1.20h-1zM1031 128.46h1v1.20h-1zM1036 128.46h1v1.20h-1zM1038 128.46h1v1.20h-1zM1048 128.46h1v1.20h-1zM1053 128.46h1v1.20h-1zM1055 128.46h1v1.20h-1zM1059 128.46h2v1.20h-2zM1074 128.46h2v1.20h-2zM1026 129.66h1v1.20h-1zM1062 129.66h1v1.20h-1zM1075 129.66h1v1.20h-1zM1017 130.86h1v1.20h-1zM1021 130.86h2v1.20h-2zM1031 130.86h1v1.20h-1zM1033 130.86h2v1.20h-2zM1036 130.86h1v1.20h-1zM1047 130.86h1v1.20h-1zM1054 130.86h1v1.20h-1zM1058 130.86h1v1.20h-1zM1070 130.86h1v1.20h-1zM1029 132.05h1v1.20h-1zM1037 132.05h1v1.20h-1zM1051 132.05h1v1.20h-1zM1062 132.05h1v1.20h-1zM1072 132.05h1v1.20h-1zM1031 133.25h1v1.20h-1zM1037 133.25h1v1.20h-1zM1070 133.25h1v1.20h-1zM1021 134.45h1v1.20h-1zM1025 134.45h1v1.20h-1zM1027 134.45h1v1.20h-1zM1032 134.45h2v1.20h-2zM1060 134.45h1v1.20h-1zM1063 134.45h1v1.20h-1zM1042 135.64h1v1.20h-1zM1044 135.64h1v1.20h-1zM1047 135.64h1v1.20h-1zM1058 135.64h1v1.20h-1zM1062 135.64h1v1.20h-1zM1064 135.64h1v1.20h-1zM1066 135.64h1v1.20h-1zM1016 136.84h1v1.20h-1zM1020 136.84h1v1.20h-1zM1023 136.84h1v1.20h-1zM1044 136.84h1v1.20h-1zM1046 136.84h1v1.20h-1zM1053 136.84h2v1.20h-2zM1061 136.84h2v1.20h-2zM1064 136.84h1v1.20h-1zM1012 138.04h1v1.20h-1zM1019 138.04h1v1.20h-1zM1022 138.04h1v1.20h-1zM1026 138.04h1v1.20h-1zM1032 138.04h1v1.20h-1zM1044 138.04h1v1.20h-1zM1056 138.04h1v1.20h-1zM1058 138.04h1v1.20h-1zM1060 138.04h1v1.20h-1zM1068 138.04h1v1.20h-1zM1015 139.23h1v1.20h-1zM1031 139.23h1v1.20h-1zM1036 139.23h1v1.20h-1zM1050 139.23h2v1.20h-2zM1060 139.23h1v1.20h-1zM1022 140.43h1v1.20h-1zM1053 140.43h1v1.20h-1zM1060 140.43h2v1.20h-2zM1064 140.43h1v1.20h-1zM1015 141.63h1v1.20h-1zM1021 141.63h1v1.20h-1zM1026 141.63h1v1.20h-1zM1036 141.63h1v1.20h-1zM1039 141.63h1v1.20h-1zM1047 141.63h1v1.20h-1zM1053 141.63h1v1.20h-1zM1070 141.63h1v1.20h-1zM1074 141.63h1v1.20h-1zM1017 142.82h1v1.20h-1zM1022 142.82h1v1.20h-1zM1026 142.82h1v1.20h-1zM1028 142.82h2v1.20h-2zM1036 142.82h1v1.20h-1zM1053 142.82h1v1.20h-1zM1026 144.02h1v1.20h-1zM1030 144.02h1v1.20h-1zM1036 144.02h1v1.20h-1zM1044 144.02h1v1.20h-1zM1048 144.02h1v1.20h-1zM1053 144.02h1v1.20h-1zM1058 144.02h1v1.20h-1zM1061 144.02h1v1.20h-1zM1065 144.02h1v1.20h-1zM1074 144.02h1v1.20h-1zM1044 145.22h1v1.20h-1zM1051 145.22h1v1.20h-1zM1061 145.22h1v1.20h-1zM1066 145.22h1v1.20h-1zM1068 145.22h1v1.20h-1zM1073 145.22h1v1.20h-1zM1034 146.41h1v1.20h-1zM1047 146.41h1v1.20h-1zM1059 146.41h1v1.20h-1zM1061 146.41h2v1.20h-2zM1053 147.61h1v1.20h-1zM1060 147.61h4v1.20h-4zM1032 148.81h1v1.20h-1zM1040 148.81h1v1.20h-1zM1049 148.81h1v1.20h-1zM1051 148.81h1v1.20h-1zM1054 148.81h1v1.20h-1zM1056 148.81h1v1.20h-1zM1058 148.81h2v1.20h-2zM1062 148.81h1v1.20h-1zM1051 150.00h1v1.20h-1zM1058 150.00h2v1.20h-2zM1062 150.00h2v1.20h-2zM1069 150.00h1v1.20h-1z" fill="#2e4598" fill-opacity="0.75"/>
<path d="M1040 42.30h1v1.20h-1zM1051 42.30h2v1.20h-2zM1056 42.30h1v1.20h-1zM1058 42.30h4v1.20h-4zM1063 42.30h3v1.20h-3zM1067 42.30h4v1.20h-4zM1072 42.30h8v1.20h-8zM1043 43.50h1v1.20h-1zM1055 43.50h1v1.20h-1zM1059 43.50h1v1.20h-1zM1063 43.50h1v1.20h-1zM1065 43.50h1v1.20h-1zM1067 43.50h3v1.20h-3zM1071 43.50h9v1.20h-9zM1041 44.69h1v1.20h-1zM1044 44.69h1v1.20h-1zM1047 44.69h2v1.20h-2zM1052 44.69h1v1.20h-1zM1054 44.69h3v1.20h-3zM1058 44.69h2v1.20h-2zM1061 44.69h2v1.20h-2zM1064 44.69h2v1.20h-2zM1067 44.69h2v1.20h-2zM1070 44.69h10v1.20h-10zM1053 45.89h1v1.20h-1zM1055 45.89h2v1.20h-2zM1058 45.89h1v1.20h-1zM1060 45.89h2v1.20h-2zM1064 45.89h2v1.20h-2zM1067 45.89h1v1.20h-1zM1069 45.89h8v1.20h-8zM1078 45.89h2v1.20h-2zM1040 47.09h1v1.20h-1zM1044 47.09h1v1.20h-1zM1046 47.09h3v1.20h-3zM1051 47.09h1v1.20h-1zM1053 47.09h1v1.20h-1zM1055 47.09h2v1.20h-2zM1058 47.09h11v1.20h-11zM1071 47.09h9v1.20h-9zM1029 48.28h1v1.20h-1zM1033 48.28h1v1.20h-1zM1036 48.28h1v1.20h-1zM1039 48.28h1v1.20h-1zM1041 48.28h1v1.20h-1zM1045 48.28h1v1.20h-1zM1047 48.28h2v1.20h-2zM1050 48.28h2v1.20h-2zM1053 48.28h2v1.20h-2zM1056 48.28h5v1.20h-5zM1062 48.28h4v1.20h-4zM1067 48.28h2v1.20h-2zM1070 48.28h10v1.20h-10zM1033 49.48h1v1.20h-1zM1037 49.48h1v1.20h-1zM1039 49.48h1v1.20h-1zM1041 49.48h1v1.20h-1zM1043 49.48h1v1.20h-1zM1045 49.48h1v1.20h-1zM1047 49.48h2v1.20h-2zM1050 49.48h7v1.20h-7zM1058 49.48h16v1.20h-16zM1075 49.48h5v1.20h-5zM1023 50.68h1v1.20h-1zM1050 50.68h1v1.20h-1zM1056 50.68h1v1.20h-1zM1058 50.68h2v1.20h-2zM1061 50.68h1v1.20h-1zM1063 50.68h3v1.20h-3zM1067 50.68h3v1.20h-3zM1071 50.68h9v1.20h-9zM1058 51.87h1v1.20h-1zM1061 51.87h2v1.20h-2zM1064 51.87h6v1.20h-6zM1071 51.87h9v1.20h-9zM1029 53.07h1v1.20h-1zM1033 53.07h1v1.20h-1zM1043 53.07h1v1.20h-1zM1048 53.07h1v1.20h-1zM1051 53.07h1v1.20h-1zM1054 53.07h1v1.20h-1zM1058 53.07h2v1.20h-2zM1063 53.07h6v1.20h-6zM1070 53.07h9v1.20h-9zM1041 54.27h1v1.20h-1zM1055 54.27h2v1.20h-2zM1060 54.27h1v1.20h-1zM1062 54.27h4v1.20h-4zM1067 54.27h3v1.20h-3zM1071 54.27h9v1.20h-9zM1054 55.46h3v1.20h-3zM1058 55.46h2v1.20h-2zM1061 55.46h1v1.20h-1zM1063 55.46h7v1.20h-7zM1071 55.46h9v1.20h-9zM1063 56.66h1v1.20h-1zM1066 56.66h14v1.20h-14zM1063 57.86h2v1.20h-2zM1066 57.86h1v1.20h-1zM1068 57.86h12v1.20h-12zM1058 59.05h1v1.20h-1zM1061 59.05h1v1.20h-1zM1063 59.05h3v1.20h-3zM1067 59.05h3v1.20h-3zM1071 59.05h4v1.20h-4zM1076 59.05h4v1.20h-4zM1033 60.25h1v1.20h-1zM1051 60.25h1v1.20h-1zM1054 60.25h1v1.20h-1zM1058 60.25h2v1.20h-2zM1065 60.25h15v1.20h-15zM1044 61.45h1v1.20h-1zM1053 61.45h1v1.20h-1zM1058 61.45h1v1.20h-1zM1061 61.45h19v1.20h-19zM1033 62.64h1v1.20h-1zM1043 62.64h2v1.20h-2zM1051 62.64h2v1.20h-2zM1054 62.64h2v1.20h-2zM1059 62.64h21v1.20h-21zM1048 63.84h1v1.20h-1zM1058 63.84h1v1.20h-1zM1065 63.84h12v1.20h-12zM1078 63.84h2v1.20h-2zM1055 65.04h1v1.20h-1zM1057 65.04h1v1.20h-1zM1063 65.04h1v1.20h-1zM1066 65.04h1v1.20h-1zM1068 65.04h3v1.20h-3zM1073 65.04h7v1.20h-7zM1029 66.23h1v1.20h-1zM1044 66.23h1v1.20h-1zM1056 66.23h1v1.20h-1zM1058 66.23h1v1.20h-1zM1062 66.23h15v1.20h-15zM1078 66.23h2v1.20h-2zM1044 67.43h1v1.20h-1zM1062 67.43h1v1.20h-1zM1064 67.43h1v1.20h-1zM1066 67.43h14v1.20h-14zM1025 68.63h2v1.20h-2zM1029 68.63h1v1.20h-1zM1033 68.63h1v1.20h-1zM1037 68.63h3v1.20h-3zM1042 68.63h4v1.20h-4zM1047 68.63h1v1.20h-1zM1049 68.63h1v1.20h-1zM1051 68.63h4v1.20h-4zM1058 68.63h2v1.20h-2zM1061 68.63h2v1.20h-2zM1065 68.63h2v1.20h-2zM1068 68.63h1v1.20h-1zM1070 68.63h10v1.20h-10zM1025 69.82h1v1.20h-1zM1029 69.82h1v1.20h-1zM1032 69.82h1v1.20h-1zM1041 69.82h1v1.20h-1zM1043 69.82h1v1.20h-1zM1048 69.82h1v1.20h-1zM1050 69.82h13v1.20h-13zM1064 69.82h6v1.20h-6zM1071 69.82h9v1.20h-9zM1022 71.02h1v1.20h-1zM1026 71.02h1v1.20h-1zM1029 71.02h1v1.20h-1zM1033 71.02h1v1.20h-1zM1039 71.02h1v1.20h-1zM1042 71.02h3v1.20h-3zM1049 71.02h1v1.20h-1zM1051 71.02h1v1.20h-1zM1053 71.02h4v1.20h-4zM1058 71.02h2v1.20h-2zM1065 71.02h2v1.20h-2zM1068 71.02h12v1.20h-12zM1026 72.22h1v1.20h-1zM1029 72.22h1v1.20h-1zM1031 72.22h1v1.20h-1zM1042 72.22h1v1.20h-1zM1044 72.22h2v1.20h-2zM1047 72.22h2v1.20h-2zM1050 72.22h7v1.20h-7zM1058 72.22h6v1.20h-6zM1065 72.22h4v1.20h-4zM1070 72.22h7v1.20h-7zM1078 72.22h2v1.20h-2zM1033 73.41h1v1.20h-1zM1043 73.41h2v1.20h-2zM1046 73.41h2v1.20h-2zM1050 73.41h2v1.20h-2zM1053 73.41h1v1.20h-1zM1055 73.41h5v1.20h-5zM1061 73.41h1v1.20h-1zM1063 73.41h17v1.20h-17zM1026 74.61h1v1.20h-1zM1033 74.61h1v1.20h-1zM1037 74.61h2v1.20h-2zM1040 74.61h1v1.20h-1zM1043 74.61h3v1.20h-3zM1047 74.61h2v1.20h-2zM1051 74.61h2v1.20h-2zM1056 74.61h1v1.20h-1zM1058 74.61h2v1.20h-2zM1064 74.61h1v1.20h-1zM1067 74.61h3v1.20h-3zM1071 74.61h9v1.20h-9zM1030 75.81h1v1.20h-1zM1032 75.81h2v1.20h-2zM1041 75.81h1v1.20h-1zM1043 75.81h1v1.20h-1zM1046 75.81h3v1.20h-3zM1050 75.81h2v1.20h-2zM1053 75.81h5v1.20h-5zM1059 75.81h1v1.20h-1zM1061 75.81h1v1.20h-1zM1064 75.81h11v1.20h-11zM1076 75.81h4v1.20h-4zM1024 77.00h1v1.20h-1zM1029 77.00h1v1.20h-1zM1032 77.00h2v1.20h-2zM1039 77.00h1v1.20h-1zM1041 77.00h1v1.20h-1zM1044 77.00h2v1.20h-2zM1050 77.00h3v1.20h-3zM1054 77.00h2v1.20h-2zM1057 77.00h4v1.20h-4zM1063 77.00h3v1.20h-3zM1067 77.00h4v1.20h-4zM1072 77.00h8v1.20h-8zM1043 78.20h1v1.20h-1zM1054 78.20h1v1.20h-1zM1058 78.20h1v1.20h-1zM1061 78.20h1v1.20h-1zM1064 78.20h1v1.20h-1zM1067 78.20h3v1.20h-3zM1071 78.20h9v1.20h-9zM1042 79.40h1v1.20h-1zM1051 79.40h1v1.20h-1zM1058 79.40h1v1.20h-1zM1060 79.40h1v1.20h-1zM1063 79.40h6v1.20h-6zM1070 79.40h7v1.20h-7zM1078 79.40h2v1.20h-2zM1026 80.59h1v1.20h-1zM1043 80.59h2v1.20h-2zM1047 80.59h1v1.20h-1zM1051 80.59h1v1.20h-1zM1054 80.59h3v1.20h-3zM1058 80.59h1v1.20h-1zM1061 80.59h1v1.20h-1zM1063 80.59h6v1.20h-6zM1070 80.59h2v1.20h-2zM1074 80.59h6v1.20h-6zM1051 81.79h1v1.20h-1zM1058 81.79h1v1.20h-1zM1060 81.79h1v1.20h-1zM1063 81.79h6v1.20h-6zM1070 81.79h2v1.20h-2zM1073 81.79h7v1.20h-7zM1029 82.99h1v1.20h-1zM1046 82.99h2v1.20h-2zM1051 82.99h1v1.20h-1zM1059 82.99h1v1.20h-1zM1061 82.99h8v1.20h-8zM1071 82.99h9v1.20h-9zM1036 84.18h1v1.20h-1zM1038 84.18h1v1.20h-1zM1043 84.18h1v1.20h-1zM1046 84.18h1v1.20h-1zM1053 84.18h4v1.20h-4zM1059 84.18h7v1.20h-7zM1067 84.18h3v1.20h-3zM1071 84.18h9v1.20h-9zM1062 85.38h18v1.20h-18zM1041 86.58h1v1.20h-1zM1052 86.58h1v1.20h-1zM1054 86.58h1v1.20h-1zM1058 86.58h2v1.20h-2zM1062 86.58h4v1.20h-4zM1067 86.58h1v1.20h-1zM1069 86.58h1v1.20h-1zM1071 86.58h9v1.20h-9zM1029 87.77h1v1.20h-1zM1048 87.77h1v1.20h-1zM1058 87.77h1v1.20h-1zM1061 87.77h2v1.20h-2zM1064 87.77h3v1.20h-3zM1068 87.77h2v1.20h-2zM1071 87.77h4v1.20h-4zM1076 87.77h4v1.20h-4zM1050 88.97h1v1.20h-1zM1055 88.97h2v1.20h-2zM1058 88.97h1v1.20h-1zM1061 88.97h2v1.20h-2zM1064 88.97h3v1.20h-3zM1068 88.97h1v1.20h-1zM1071 88.97h9v1.20h-9zM1033 90.17h1v1.20h-1zM1051 90.17h1v1.20h-1zM1053 90.17h1v1.20h-1zM1058 90.17h2v1.20h-2zM1062 90.17h2v1.20h-2zM1065 90.17h4v1.20h-4zM1070 90.17h1v1.20h-1zM1072 90.17h3v1.20h-3zM1076 90.17h4v1.20h-4zM1029 91.36h1v1.20h-1zM1051 91.36h1v1.20h-1zM1056 91.36h1v1.20h-1zM1058 91.36h3v1.20h-3zM1064 91.36h9v1.20h-9zM1074 91.36h6v1.20h-6zM1038 92.56h1v1.20h-1zM1047 92.56h1v1.20h-1zM1050 92.56h1v1.20h-1zM1056 92.56h1v1.20h-1zM1061 92.56h19v1.20h-19zM1026 93.76h1v1.20h-1zM1033 93.76h1v1.20h-1zM1040 93.76h1v1.20h-1zM1043 93.76h1v1.20h-1zM1050 93.76h1v1.20h-1zM1054 93.76h2v1.20h-2zM1058 93.76h2v1.20h-2zM1062 93.76h1v1.20h-1zM1065 93.76h15v1.20h-15zM1055 94.95h2v1.20h-2zM1058 94.95h1v1.20h-1zM1064 94.95h6v1.20h-6zM1071 94.95h9v1.20h-9zM1026 96.15h1v1.20h-1zM1044 96.15h1v1.20h-1zM1053 96.15h1v1.20h-1zM1055 96.15h1v1.20h-1zM1058 96.15h2v1.20h-2zM1062 96.15h2v1.20h-2zM1065 96.15h3v1.20h-3zM1070 96.15h3v1.20h-3zM1074 96.15h6v1.20h-6zM1026 97.35h1v1.20h-1zM1043 97.35h1v1.20h-1zM1048 97.35h1v1.20h-1zM1050 97.35h2v1.20h-2zM1056 97.35h1v1.20h-1zM1058 97.35h2v1.20h-2zM1061 97.35h2v1.20h-2zM1065 97.35h15v1.20h-15zM1043 98.55h1v1.20h-1zM1046 98.55h5v1.20h-5zM1052 98.55h1v1.20h-1zM1054 98.55h1v1.20h-1zM1056 98.55h4v1.20h-4zM1064 98.55h1v1.20h-1zM1066 98.55h3v1.20h-3zM1070 98.55h8v1.20h-8zM1079 98.55h1v1.20h-1zM1033 99.74h1v1.20h-1zM1048 99.74h1v1.20h-1zM1058 99.74h1v1.20h-1zM1064 99.74h4v1.20h-4zM1070 99.74h10v1.20h-10zM1045 100.94h2v1.20h-2zM1051 100.94h1v1.20h-1zM1054 100.94h3v1.20h-3zM1062 100.94h2v1.20h-2zM1065 100.94h5v1.20h-5zM1071 100.94h9v1.20h-9zM1051 102.14h1v1.20h-1zM1053 102.14h3v1.20h-3zM1057 102.14h4v1.20h-4zM1063 102.14h1v1.20h-1zM1065 102.14h4v1.20h-4zM1071 102.14h3v1.20h-3zM1075 102.14h5v1.20h-5zM1044 103.33h1v1.20h-1zM1052 103.33h2v1.20h-2zM1058 103.33h1v1.20h-1zM1060 103.33h2v1.20h-2zM1065 103.33h15v1.20h-15zM1031 104.53h1v1.20h-1zM1041 104.53h1v1.20h-1zM1043 104.53h2v1.20h-2zM1050 104.53h2v1.20h-2zM1055 104.53h2v1.20h-2zM1061 104.53h1v1.20h-1zM1063 104.53h1v1.20h-1zM1065 104.53h15v1.20h-15zM1047 105.73h1v1.20h-1zM1050 105.73h4v1.20h-4zM1058 105.73h2v1.20h-2zM1062 105.73h1v1.20h-1zM1065 105.73h15v1.20h-15zM1042 106.92h2v1.20h-2zM1047 106.92h2v1.20h-2zM1050 106.92h2v1.20h-2zM1055 106.92h1v1.20h-1zM1059 106.92h1v1.20h-1zM1063 106.92h17v1.20h-17zM1041 108.12h1v1.20h-1zM1043 108.12h2v1.20h-2zM1047 108.12h1v1.20h-1zM1051 108.12h2v1.20h-2zM1055 108.12h5v1.20h-5zM1061 108.12h1v1.20h-1zM1064 108.12h2v1.20h-2zM1067 108.12h3v1.20h-3zM1071 108.12h9v1.20h-9zM1045 109.32h1v1.20h-1zM1047 109.32h1v1.20h-1zM1050 109.32h2v1.20h-2zM1053 109.32h1v1.20h-1zM1055 109.32h5v1.20h-5zM1064 109.32h16v1.20h-16zM1048 110.51h1v1.20h-1zM1059 110.51h3v1.20h-3zM1064 110.51h4v1.20h-4zM1070 110.51h6v1.20h-6zM1077 110.51h3v1.20h-3zM1043 111.71h2v1.20h-2zM1050 111.71h1v1.20h-1zM1061 111.71h2v1.20h-2zM1064 111.71h16v1.20h-16zM1058 112.91h1v1.20h-1zM1060 112.91h1v1.20h-1zM1065 112.91h1v1.20h-1zM1067 112.91h13v1.20h-13zM1047 114.10h1v1.20h-1zM1049 114.10h1v1.20h-1zM1052 114.10h3v1.20h-3zM1056 114.10h3v1.20h-3zM1060 114.10h1v1.20h-1zM1062 114.10h18v1.20h-18zM1058 115.30h1v1.20h-1zM1061 115.30h1v1.20h-1zM1063 115.30h1v1.20h-1zM1065 115.30h5v1.20h-5zM1072 115.30h8v1.20h-8zM1044 116.50h1v1.20h-1zM1054 116.50h2v1.20h-2zM1058 116.50h1v1.20h-1zM1060 116.50h2v1.20h-2zM1064 116.50h4v1.20h-4zM1070 116.50h10v1.20h-10zM1022 117.69h1v1.20h-1zM1033 117.69h1v1.20h-1zM1039 117.69h1v1.20h-1zM1041 117.69h1v1.20h-1zM1043 117.69h1v1.20h-1zM1055 117.69h2v1.20h-2zM1058 117.69h2v1.20h-2zM1064 117.69h5v1.20h-5zM1070 117.69h10v1.20h-10zM1043 118.89h1v1.20h-1zM1051 118.89h1v1.20h-1zM1056 118.89h2v1.20h-2zM1063 118.89h4v1.20h-4zM1068 118.89h2v1.20h-2zM1071 118.89h9v1.20h-9zM1056 120.09h1v1.20h-1zM1058 120.09h1v1.20h-1zM1060 120.09h1v1.20h-1zM1062 120.09h8v1.20h-8zM1071 120.09h9v1.20h-9zM1022 121.28h1v1.20h-1zM1029 121.28h1v1.20h-1zM1043 121.28h4v1.20h-4zM1057 121.28h2v1.20h-2zM1060 121.28h1v1.20h-1zM1062 121.28h16v1.20h-16zM1079 121.28h1v1.20h-1zM1056 122.48h1v1.20h-1zM1058 122.48h1v1.20h-1zM1061 122.48h2v1.20h-2zM1065 122.48h1v1.20h-1zM1067 122.48h10v1.20h-10zM1078 122.48h2v1.20h-2zM1047 123.68h1v1.20h-1zM1054 123.68h1v1.20h-1zM1061 123.68h1v1.20h-1zM1064 123.68h3v1.20h-3zM1068 123.68h8v1.20h-8zM1077 123.68h3v1.20h-3zM1029 124.87h1v1.20h-1zM1061 124.87h1v1.20h-1zM1064 124.87h1v1.20h-1zM1067 124.87h13v1.20h-13zM1058 126.07h1v1.20h-1zM1065 126.07h4v1.20h-4zM1070 126.07h3v1.20h-3zM1074 126.07h6v1.20h-6zM1033 127.27h1v1.20h-1zM1043 127.27h1v1.20h-1zM1051 127.27h1v1.20h-1zM1058 127.27h1v1.20h-1zM1061 127.27h1v1.20h-1zM1064 127.27h2v1.20h-2zM1068 127.27h12v1.20h-12zM1026 128.46h1v1.20h-1zM1056 128.46h1v1.20h-1zM1058 128.46h1v1.20h-1zM1061 128.46h1v1.20h-1zM1064 128.46h1v1.20h-1zM1066 128.46h8v1.20h-8zM1076 128.46h4v1.20h-4zM1025 129.66h1v1.20h-1zM1029 129.66h1v1.20h-1zM1033 129.66h1v1.20h-1zM1036 129.66h1v1.20h-1zM1044 129.66h1v1.20h-1zM1058 129.66h1v1.20h-1zM1061 129.66h1v1.20h-1zM1064 129.66h11v1.20h-11zM1076 129.66h4v1.20h-4zM1029 130.86h1v1.20h-1zM1032 130.86h1v1.20h-1zM1039 130.86h1v1.20h-1zM1041 130.86h1v1.20h-1zM1049 130.86h1v1.20h-1zM1056 130.86h1v1.20h-1zM1061 130.86h9v1.20h-9zM1071 130.86h9v1.20h-9zM1032 132.05h2v1.20h-2zM1050 132.05h1v1.20h-1zM1063 132.05h1v1.20h-1zM1065 132.05h2v1.20h-2zM1068 132.05h4v1.20h-4zM1073 132.05h7v1.20h-7zM1024 133.25h1v1.20h-1zM1026 133.25h1v1.20h-1zM1047 133.25h1v1.20h-1zM1058 133.25h1v1.20h-1zM1061 133.25h9v1.20h-9zM1071 133.25h9v1.20h-9zM1019 134.45h1v1.20h-1zM1052 134.45h2v1.20h-2zM1056 134.45h1v1.20h-1zM1059 134.45h1v1.20h-1zM1061 134.45h1v1.20h-1zM1064 134.45h2v1.20h-2zM1067 134.45h13v1.20h-13zM1026 135.64h1v1.20h-1zM1032 135.64h2v1.20h-2zM1056 135.64h1v1.20h-1zM1061 135.64h1v1.20h-1zM1063 135.64h1v1.20h-1zM1065 135.64h1v1.20h-1zM1067 135.64h13v1.20h-13zM1025 136.84h3v1.20h-3zM1036 136.84h1v1.20h-1zM1058 136.84h1v1.20h-1zM1063 136.84h1v1.20h-1zM1065 136.84h1v1.20h-1zM1068 136.84h12v1.20h-12zM1029 138.04h1v1.20h-1zM1036 138.04h1v1.20h-1zM1059 138.04h1v1.20h-1zM1061 138.04h1v1.20h-1zM1063 138.04h5v1.20h-5zM1070 138.04h10v1.20h-10zM1019 139.23h1v1.20h-1zM1024 139.23h1v1.20h-1zM1029 139.23h1v1.20h-1zM1033 139.23h1v1.20h-1zM1052 139.23h1v1.20h-1zM1058 139.23h1v1.20h-1zM1063 139.23h17v1.20h-17zM1029 140.43h1v1.20h-1zM1058 140.43h1v1.20h-1zM1065 140.43h4v1.20h-4zM1071 140.43h9v1.20h-9zM1012 141.63h1v1.20h-1zM1029 141.63h1v1.20h-1zM1032 141.63h2v1.20h-2zM1040 141.63h1v1.20h-1zM1058 141.63h5v1.20h-5zM1064 141.63h6v1.20h-6zM1071 141.63h3v1.20h-3zM1075 141.63h5v1.20h-5zM1033 142.82h1v1.20h-1zM1043 142.82h1v1.20h-1zM1051 142.82h1v1.20h-1zM1061 142.82h1v1.20h-1zM1064 142.82h16v1.20h-16zM1015 144.02h1v1.20h-1zM1023 144.02h1v1.20h-1zM1029 144.02h1v1.20h-1zM1033 144.02h1v1.20h-1zM1043 144.02h1v1.20h-1zM1056 144.02h1v1.20h-1zM1062 144.02h3v1.20h-3zM1066 144.02h8v1.20h-8zM1075 144.02h5v1.20h-5zM1064 145.22h1v1.20h-1zM1067 145.22h1v1.20h-1zM1069 145.22h1v1.20h-1zM1071 145.22h2v1.20h-2zM1074 145.22h6v1.20h-6zM1033 146.41h1v1.20h-1zM1037 146.41h1v1.20h-1zM1043 146.41h1v1.20h-1zM1051 146.41h1v1.20h-1zM1054 146.41h1v1.20h-1zM1058 146.41h1v1.20h-1zM1063 146.41h5v1.20h-5zM1069 146.41h11v1.20h-11zM1058 147.61h1v1.20h-1zM1065 147.61h15v1.20h-15zM1048 148.81h1v1.20h-1zM1064 148.81h5v1.20h-5zM1070 148.81h10v1.20h-10zM1044 150.00h1v1.20h-1zM1052 150.00h1v1.20h-1zM1064 150.00h2v1.20h-2zM1067 150.00h2v1.20h-2zM1070 150.00h10v1.20h-10z" fill="#2e4598" fill-opacity="1.0"/>
<text transform="translate(874.7,96.6) rotate(-90)" font-size="9.2" text-anchor="middle" fill="#231f20" stroke="#231f20" stroke-width="0.3">Accessions (<tspan font-style="italic">n</tspan> = 453)</text>
<text x="975.3" y="163.5" font-size="9.2" text-anchor="middle" font-weight="normal" fill="#231f20" stroke="#231f20" stroke-width="0.3">Gene families (<tspan font-style="italic">n</tspan> = 23,876)</text>
<text x="1081.5" y="35.8" font-size="11.5" text-anchor="start" font-weight="bold" fill="#000" stroke="#000" stroke-width="0.3">b</text>
<text x="1139.5" y="37.4" font-size="9.2" text-anchor="middle" font-weight="normal" fill="#231f20" stroke="#231f20" stroke-width="0.3">Pan-genome</text>
<text x="1237.5" y="37.4" font-size="9.2" text-anchor="middle" font-weight="normal" fill="#231f20" stroke="#231f20" stroke-width="0.3">Individual genome</text>
<path d="M1152.80 101.20L1152.80 65.70A35.5 35.5 0 1 1 1145.06 135.85Z" fill="#f39314"/>
<path d="M1152.80 101.20L1145.06 135.85A35.5 35.5 0 0 1 1128.32 126.91Z" fill="#cdbfa6"/>
<path d="M1152.80 101.20L1128.32 126.91A35.5 35.5 0 0 1 1152.80 65.70Z" fill="#10a0dc"/>
<path d="M1120.39 135.24A47 47 0 0 1 1116.80 70.99L1125.61 78.38A35.5 35.5 0 0 0 1128.32 126.91Z" fill="#fbe90f"/>
<path d="M1096.04 115.35A58.5 58.5 0 0 1 1129.94 47.35L1134.44 57.94A47 47 0 0 0 1107.20 112.57Z" fill="#8dc02b"/>
<path d="M1129.94 47.35A58.5 58.5 0 0 1 1152.80 42.70L1152.80 65.70A35.5 35.5 0 0 0 1138.93 68.52Z" fill="#c8c8c8"/>
<text x="1169.0" y="105.5" font-size="8.6" text-anchor="middle" font-weight="normal" fill="#231f20" stroke="#231f20" stroke-width="0.3">53.5%</text>
<text x="1134.0" y="102.0" font-size="8.6" text-anchor="middle" font-weight="normal" fill="#231f20" stroke="#231f20" stroke-width="0.3">37.9%</text>
<text x="1140.8" y="126.0" font-size="8.6" text-anchor="middle" font-weight="normal" fill="#231f20" stroke="#231f20" stroke-width="0.3">8.6%</text>
<text transform="translate(1117.0,103.0) rotate(-86)" font-size="8.6" text-anchor="middle" fill="#231f20" stroke="#231f20" stroke-width="0.3">24.0%</text>
<text transform="translate(1108.5,77.5) rotate(-64)" font-size="8.6" text-anchor="middle" fill="#231f20" stroke="#231f20" stroke-width="0.3">22.5%</text>
<path d="M1244.00 101.20L1244.00 65.70A35.5 35.5 0 1 1 1217.54 124.86Z" fill="#f39314"/>
<path d="M1244.00 101.20L1217.54 124.86A35.5 35.5 0 0 1 1208.66 104.54Z" fill="#cdbfa6"/>
<path d="M1244.00 101.20L1208.66 104.54A35.5 35.5 0 0 1 1244.00 65.70Z" fill="#10a0dc"/>
<path d="M1197.18 105.30A47 47 0 0 1 1215.06 64.16L1222.14 73.23A35.5 35.5 0 0 0 1208.64 104.29Z" fill="#fbe90f"/>
<path d="M1187.58 83.95A59 59 0 0 1 1228.23 44.35L1231.44 55.91A47 47 0 0 0 1199.05 87.46Z" fill="#8dc02b"/>
<path d="M1228.23 44.35A59 59 0 0 1 1244.00 42.20L1244.00 65.70A35.5 35.5 0 0 0 1234.51 66.99Z" fill="#c8c8c8"/>
<text x="1258.8" y="107.0" font-size="8.6" text-anchor="middle" font-weight="normal" fill="#231f20" stroke="#231f20" stroke-width="0.3">63.4%</text>
<text x="1226.0" y="94.5" font-size="8.6" text-anchor="middle" font-weight="normal" fill="#231f20" stroke="#231f20" stroke-width="0.3">26.5%</text>
<text x="1223.0" y="113.5" font-size="8.6" text-anchor="middle" font-weight="normal" fill="#231f20" stroke="#231f20" stroke-width="0.3">10.1%</text>
<text transform="translate(1211.0,82.0) rotate(-64)" font-size="8.6" text-anchor="middle" fill="#231f20" stroke="#231f20" stroke-width="0.3">16.0%</text>
<text transform="translate(1212.0,64.0) rotate(-38)" font-size="8.6" text-anchor="middle" fill="#231f20" stroke="#231f20" stroke-width="0.3">16.0%</text>
<text x="1239.0" y="57.5" font-size="8.6" text-anchor="middle" font-weight="normal" fill="#231f20" stroke="#231f20" stroke-width="0.3">4.3%</text>
<rect x="1083.80" y="144.20" width="7.00" height="7.00" fill="#f39314"/>
<text x="1093.1" y="150.9" font-size="8.8" text-anchor="start" font-weight="normal" fill="#231f20" stroke="#231f20" stroke-width="0.3">Core</text>
<rect x="1119.10" y="144.20" width="7.00" height="7.00" fill="#cdbfa6"/>
<text x="1128.4" y="150.9" font-size="8.8" text-anchor="start" font-weight="normal" fill="#231f20" stroke="#231f20" stroke-width="0.3">Candidate core</text>
<rect x="1194.50" y="144.20" width="7.00" height="7.00" fill="#10a0dc"/>
<text x="1203.8" y="150.9" font-size="8.8" text-anchor="start" font-weight="normal" fill="#231f20" stroke="#231f20" stroke-width="0.3">Distributed</text>
<rect x="1264.20" y="144.20" width="7.00" height="7.00" fill="#6e6e6e"/>
<text x="1273.5" y="150.9" font-size="8.8" text-anchor="start" font-weight="normal" fill="#231f20" stroke="#231f20" stroke-width="0.3">Random</text>
<rect x="1083.80" y="157.00" width="7.00" height="7.00" fill="#fbe90f"/>
<text x="1093.1" y="163.7" font-size="8.8" text-anchor="start" font-weight="normal" fill="#231f20" stroke="#231f20" stroke-width="0.3">Major-group-unbalanced</text>
<rect x="1193.80" y="157.00" width="7.00" height="7.00" fill="#8dc02b"/>
<text x="1203.1" y="163.7" font-size="8.8" text-anchor="start" font-weight="normal" fill="#231f20" stroke="#231f20" stroke-width="0.3">Subpopulation-unbalanced</text>
<text x="863.5" y="178.2" font-size="11.5" text-anchor="start" font-weight="bold" fill="#000" stroke="#000" stroke-width="0.3">c</text>
<path d="M908.5 175V287.6H1060.6" fill="none" stroke="#333" stroke-width="1"/>
<line x1="906.00" y1="179.90" x2="908.50" y2="179.90" stroke="#333" stroke-width="1"/>
<text x="904.5" y="183.2" font-size="9.2" text-anchor="end" font-weight="normal" fill="#231f20" stroke="#231f20" stroke-width="0.3">25,000</text>
<line x1="906.00" y1="200.30" x2="908.50" y2="200.30" stroke="#333" stroke-width="1"/>
<text x="904.5" y="203.6" font-size="9.2" text-anchor="end" font-weight="normal" fill="#231f20" stroke="#231f20" stroke-width="0.3">22,500</text>
<line x1="906.00" y1="220.90" x2="908.50" y2="220.90" stroke="#333" stroke-width="1"/>
<text x="904.5" y="224.2" font-size="9.2" text-anchor="end" font-weight="normal" fill="#231f20" stroke="#231f20" stroke-width="0.3">20,000</text>
<line x1="906.00" y1="241.30" x2="908.50" y2="241.30" stroke="#333" stroke-width="1"/>
<text x="904.5" y="244.6" font-size="9.2" text-anchor="end" font-weight="normal" fill="#231f20" stroke="#231f20" stroke-width="0.3">17,500</text>
<line x1="906.00" y1="261.90" x2="908.50" y2="261.90" stroke="#333" stroke-width="1"/>
<text x="904.5" y="265.2" font-size="9.2" text-anchor="end" font-weight="normal" fill="#231f20" stroke="#231f20" stroke-width="0.3">15,000</text>
<line x1="906.00" y1="282.50" x2="908.50" y2="282.50" stroke="#333" stroke-width="1"/>
<text x="904.5" y="285.8" font-size="9.2" text-anchor="end" font-weight="normal" fill="#231f20" stroke="#231f20" stroke-width="0.3">12,500</text>
<line x1="914.70" y1="287.60" x2="914.70" y2="290.10" stroke="#333" stroke-width="1"/>
<text x="914.7" y="298.2" font-size="9.2" text-anchor="middle" font-weight="normal" fill="#231f20" stroke="#231f20" stroke-width="0.3">0</text>
<line x1="944.00" y1="287.60" x2="944.00" y2="290.10" stroke="#333" stroke-width="1"/>
<text x="944.0" y="298.2" font-size="9.2" text-anchor="middle" font-weight="normal" fill="#231f20" stroke="#231f20" stroke-width="0.3">100</text>
<line x1="973.50" y1="287.60" x2="973.50" y2="290.10" stroke="#333" stroke-width="1"/>
<text x="973.5" y="298.2" font-size="9.2" text-anchor="middle" font-weight="normal" fill="#231f20" stroke="#231f20" stroke-width="0.3">200</text>
<line x1="1003.00" y1="287.60" x2="1003.00" y2="290.10" stroke="#333" stroke-width="1"/>
<text x="1003.0" y="298.2" font-size="9.2" text-anchor="middle" font-weight="normal" fill="#231f20" stroke="#231f20" stroke-width="0.3">300</text>
<line x1="1032.70" y1="287.60" x2="1032.70" y2="290.10" stroke="#333" stroke-width="1"/>
<text x="1032.7" y="298.2" font-size="9.2" text-anchor="middle" font-weight="normal" fill="#231f20" stroke="#231f20" stroke-width="0.3">400</text>
<text x="984.8" y="311.3" font-size="9.2" text-anchor="middle" font-weight="normal" fill="#231f20" stroke="#231f20" stroke-width="0.3">Number of rice accessions</text>
<text transform="translate(871.7,236.9) rotate(-90)" font-size="9.2" text-anchor="middle" fill="#231f20" stroke="#231f20" stroke-width="0.3">Number of gene families</text>
<polygon points="915.2,225.8 916.2,236.9 918.0,248.1 921.7,255.5 927.3,260.1 934.7,262.9 951.5,266.6 979.3,271.8 1016.5,276.3 1053.7,279.3 1053.7,281.5 1016.5,279.6 979.3,276.3 951.5,272.6 934.7,269.4 927.3,268.1 921.7,265.7 918.0,261.1 916.2,251.8 915.2,240.6" fill="#a9d6e2"/>
<polygon points="914.7,211.8 915.8,225.8 918.0,240.6 921.7,249.9 927.3,252.7 934.7,255.5 940.3,258.8 951.5,261.1 1053.7,261.2 1053.7,262.4 951.5,262.0 934.7,261.4 927.3,260.1 921.7,257.3 918.0,251.8 916.2,240.6 915.2,229.5" fill="#f3a38c"/>
<polyline points="915.2,220.5 915.8,229.5 916.5,238.8 918.0,249.0 919.9,254.6 922.7,258.8 927.3,262.2 932.9,264.8 942.2,267.2 951.5,269.4 964.5,271.8 979.3,274.1 997.9,276.1 1016.5,277.8 1035.1,279.3 1053.7,280.6" fill="none" stroke="#2f4ea0" stroke-width="1.3"/>
<polyline points="915.2,213.1 915.8,225.8 916.5,235.0 918.0,244.3 919.9,249.9 922.7,254.6 927.3,258.3 934.7,260.5 942.2,261.1 951.5,261.4 979.3,261.6 1053.7,261.8" fill="none" stroke="#e8372a" stroke-width="1.6"/>
<polyline points="915.2,221.1 915.6,210.9 916.2,204.4 917.1,199.7 918.4,196.4 919.9,194.5 922.7,193.0 927.3,192.1 934.7,191.6 942.2,191.2 960.8,190.8 979.3,190.5 1016.5,190.3 1053.7,189.9" fill="none" stroke="#cfcfcf" stroke-width="3"/>
<polyline points="915.2,221.1 915.6,210.9 916.2,204.4 917.1,199.7 918.4,196.4 919.9,194.5 922.7,193.0 927.3,192.1 934.7,191.6 942.2,191.2 960.8,190.8 979.3,190.5 1016.5,190.3 1053.7,189.9" fill="none" stroke="#222" stroke-width="1.3"/>
<text x="1009.6" y="202.0" font-size="9.2" text-anchor="start" font-weight="normal" fill="#231f20" stroke="#231f20" stroke-width="0.3">Pan</text>
<text x="945.9" y="255.5" font-size="9.2" text-anchor="start" font-weight="normal" fill="#e8372a" stroke="#e8372a" stroke-width="0.3">Core + candidate core</text>
<text x="1006.3" y="274.4" font-size="9.2" text-anchor="start" font-weight="normal" fill="#2f4ea0" stroke="#2f4ea0" stroke-width="0.3">Core</text>
<text x="863.5" y="321.3" font-size="11.5" text-anchor="start" font-weight="bold" fill="#000" stroke="#000" stroke-width="0.3">d</text>
<rect x="888.70" y="331.30" width="7.90" height="7.90" fill="#2e4598"/>
<text x="898.7" y="339.0" font-size="9.2" text-anchor="start" font-weight="normal" fill="#231f20" stroke="#231f20" stroke-width="0.3">Core + candidate core</text>
<rect x="1000.50" y="331.30" width="7.90" height="7.90" fill="#e31e24"/>
<text x="1010.8" y="339.0" font-size="9.2" text-anchor="start" font-weight="normal" fill="#231f20" stroke="#231f20" stroke-width="0.3">Distributed</text>
<path d="M906.6 347V445.8H1059.2" fill="none" stroke="#333" stroke-width="1"/>
<line x1="904.10" y1="351.00" x2="906.60" y2="351.00" stroke="#333" stroke-width="1"/>
<text x="902.6" y="354.3" font-size="9.2" text-anchor="end" font-weight="normal" fill="#231f20" stroke="#231f20" stroke-width="0.3">100</text>
<line x1="904.10" y1="374.38" x2="906.60" y2="374.38" stroke="#333" stroke-width="1"/>
<text x="902.6" y="377.7" font-size="9.2" text-anchor="end" font-weight="normal" fill="#231f20" stroke="#231f20" stroke-width="0.3">75</text>
<line x1="904.10" y1="397.75" x2="906.60" y2="397.75" stroke="#333" stroke-width="1"/>
<text x="902.6" y="401.1" font-size="9.2" text-anchor="end" font-weight="normal" fill="#231f20" stroke="#231f20" stroke-width="0.3">50</text>
<line x1="904.10" y1="421.12" x2="906.60" y2="421.12" stroke="#333" stroke-width="1"/>
<text x="902.6" y="424.4" font-size="9.2" text-anchor="end" font-weight="normal" fill="#231f20" stroke="#231f20" stroke-width="0.3">25</text>
<line x1="904.10" y1="444.50" x2="906.60" y2="444.50" stroke="#333" stroke-width="1"/>
<text x="902.6" y="447.8" font-size="9.2" text-anchor="end" font-weight="normal" fill="#231f20" stroke="#231f20" stroke-width="0.3">0</text>
<rect x="913.20" y="351.00" width="11.20" height="93.50" fill="#2f4a9c"/>
<rect x="913.20" y="404.30" width="11.20" height="40.20" fill="#e31e24"/>
<line x1="918.80" y1="445.80" x2="918.80" y2="448.30" stroke="#333" stroke-width="1"/>
<text x="918.8" y="458.2" font-size="9.2" text-anchor="middle" font-weight="normal" fill="#231f20" stroke="#231f20" stroke-width="0.3">1</text>
<rect x="925.98" y="351.00" width="11.20" height="93.50" fill="#2f4a9c"/>
<rect x="925.98" y="415.05" width="11.20" height="29.45" fill="#e31e24"/>
<line x1="931.58" y1="445.80" x2="931.58" y2="448.30" stroke="#333" stroke-width="1"/>
<text x="931.6" y="458.2" font-size="9.2" text-anchor="middle" font-weight="normal" fill="#231f20" stroke="#231f20" stroke-width="0.3">2</text>
<rect x="938.76" y="351.00" width="11.20" height="93.50" fill="#2f4a9c"/>
<rect x="938.76" y="421.12" width="11.20" height="23.38" fill="#e31e24"/>
<line x1="944.36" y1="445.80" x2="944.36" y2="448.30" stroke="#333" stroke-width="1"/>
<text x="944.4" y="458.2" font-size="9.2" text-anchor="middle" font-weight="normal" fill="#231f20" stroke="#231f20" stroke-width="0.3">3</text>
<rect x="951.54" y="351.00" width="11.20" height="93.50" fill="#2f4a9c"/>
<rect x="951.54" y="426.74" width="11.20" height="17.76" fill="#e31e24"/>
<line x1="957.14" y1="445.80" x2="957.14" y2="448.30" stroke="#333" stroke-width="1"/>
<text x="957.1" y="458.2" font-size="9.2" text-anchor="middle" font-weight="normal" fill="#231f20" stroke="#231f20" stroke-width="0.3">4</text>
<rect x="964.32" y="351.00" width="11.20" height="93.50" fill="#2f4a9c"/>
<rect x="964.32" y="430.94" width="11.20" height="13.56" fill="#e31e24"/>
<line x1="969.92" y1="445.80" x2="969.92" y2="448.30" stroke="#333" stroke-width="1"/>
<text x="969.9" y="458.2" font-size="9.2" text-anchor="middle" font-weight="normal" fill="#231f20" stroke="#231f20" stroke-width="0.3">5</text>
<rect x="977.10" y="351.00" width="11.20" height="93.50" fill="#2f4a9c"/>
<rect x="977.10" y="433.28" width="11.20" height="11.22" fill="#e31e24"/>
<line x1="982.70" y1="445.80" x2="982.70" y2="448.30" stroke="#333" stroke-width="1"/>
<text x="982.7" y="458.2" font-size="9.2" text-anchor="middle" font-weight="normal" fill="#231f20" stroke="#231f20" stroke-width="0.3">6</text>
<rect x="989.88" y="351.00" width="11.20" height="93.50" fill="#2f4a9c"/>
<rect x="989.88" y="436.55" width="11.20" height="7.95" fill="#e31e24"/>
<line x1="995.48" y1="445.80" x2="995.48" y2="448.30" stroke="#333" stroke-width="1"/>
<text x="995.5" y="458.2" font-size="9.2" text-anchor="middle" font-weight="normal" fill="#231f20" stroke="#231f20" stroke-width="0.3">7</text>
<rect x="1002.66" y="351.00" width="11.20" height="93.50" fill="#2f4a9c"/>
<rect x="1002.66" y="441.23" width="11.20" height="3.27" fill="#e31e24"/>
<line x1="1008.26" y1="445.80" x2="1008.26" y2="448.30" stroke="#333" stroke-width="1"/>
<text x="1008.3" y="458.2" font-size="9.2" text-anchor="middle" font-weight="normal" fill="#231f20" stroke="#231f20" stroke-width="0.3">8</text>
<rect x="1015.44" y="351.00" width="11.20" height="93.50" fill="#2f4a9c"/>
<rect x="1015.44" y="439.36" width="11.20" height="5.14" fill="#e31e24"/>
<line x1="1021.04" y1="445.80" x2="1021.04" y2="448.30" stroke="#333" stroke-width="1"/>
<text x="1021.0" y="458.2" font-size="9.2" text-anchor="middle" font-weight="normal" fill="#231f20" stroke="#231f20" stroke-width="0.3">9</text>
<rect x="1028.22" y="351.00" width="11.20" height="93.50" fill="#2f4a9c"/>
<rect x="1028.22" y="442.16" width="11.20" height="2.34" fill="#e31e24"/>
<line x1="1033.82" y1="445.80" x2="1033.82" y2="448.30" stroke="#333" stroke-width="1"/>
<text x="1033.8" y="458.2" font-size="9.2" text-anchor="middle" font-weight="normal" fill="#231f20" stroke="#231f20" stroke-width="0.3">10</text>
<rect x="1041.00" y="351.00" width="11.20" height="93.50" fill="#2f4a9c"/>
<line x1="1046.60" y1="445.80" x2="1046.60" y2="448.30" stroke="#333" stroke-width="1"/>
<text x="1049.8" y="458.2" font-size="9.2" text-anchor="middle" font-weight="normal" fill="#231f20" stroke="#231f20" stroke-width="0.3">>10</text>
<text x="982.9" y="469.5" font-size="9.2" text-anchor="middle" font-weight="normal" fill="#231f20" stroke="#231f20" stroke-width="0.3">Number of gene family members</text>
<text transform="translate(880.8,394.5) rotate(-90)" font-size="9.2" text-anchor="middle" fill="#231f20" stroke="#231f20" stroke-width="0.3">Percentage (%)</text>
<text x="863.5" y="484.4" font-size="11.5" text-anchor="start" font-weight="bold" fill="#000" stroke="#000" stroke-width="0.3">e</text>
<rect x="914.00" y="480.40" width="26.60" height="12.70" fill="#f8c6b6"/>
<rect x="914.00" y="493.10" width="26.60" height="12.70" fill="#c7b9e1"/>
<text x="927.3" y="489.9" font-size="8.6" text-anchor="middle" font-weight="normal" fill="#231f20" letter-spacing="-0.25" stroke="#231f20" stroke-width="0.3">2,037</text>
<text x="927.3" y="502.6" font-size="8.6" text-anchor="middle" font-weight="normal" fill="#231f20" letter-spacing="-0.25" stroke="#231f20" stroke-width="0.3">0.102</text>
<rect x="940.60" y="480.40" width="26.40" height="25.40" fill="#e4261d"/>
<text x="953.8" y="496.3" font-size="8.6" text-anchor="middle" font-weight="normal" fill="#231f20" letter-spacing="-0.25" stroke="#231f20" stroke-width="0.3">2,878</text>
<rect x="967.00" y="480.40" width="26.40" height="25.40" fill="#ee6a55"/>
<text x="980.2" y="496.3" font-size="8.6" text-anchor="middle" font-weight="normal" fill="#231f20" letter-spacing="-0.25" stroke="#231f20" stroke-width="0.3">2,534</text>
<rect x="993.40" y="480.40" width="26.50" height="25.40" fill="#e63a2a"/>
<text x="1006.6" y="496.3" font-size="8.6" text-anchor="middle" font-weight="normal" fill="#231f20" letter-spacing="-0.25" stroke="#231f20" stroke-width="0.3">2,792</text>
<rect x="1019.90" y="480.40" width="27.10" height="25.40" fill="#f27a63"/>
<text x="1033.5" y="496.3" font-size="8.6" text-anchor="middle" font-weight="normal" fill="#231f20" letter-spacing="-0.25" stroke="#231f20" stroke-width="0.3">2,384</text>
<rect x="914.00" y="505.80" width="26.60" height="25.50" fill="#2e4b9c"/>
<text x="927.3" y="521.8" font-size="8.6" text-anchor="middle" font-weight="normal" fill="#231f20" letter-spacing="-0.25" stroke="#231f20" stroke-width="0.3">0.143</text>
<rect x="940.60" y="505.80" width="26.40" height="12.75" fill="#fde6de"/>
<rect x="940.60" y="518.55" width="26.40" height="12.75" fill="#ddd4ee"/>
<text x="953.8" y="515.4" font-size="8.6" text-anchor="middle" font-weight="normal" fill="#231f20" letter-spacing="-0.25" stroke="#231f20" stroke-width="0.3">1,841</text>
<text x="953.8" y="528.1" font-size="8.6" text-anchor="middle" font-weight="normal" fill="#231f20" letter-spacing="-0.25" stroke="#231f20" stroke-width="0.3">0.091</text>
<rect x="967.00" y="505.80" width="26.40" height="25.50" fill="#e52e22"/>
<text x="980.2" y="521.8" font-size="8.6" text-anchor="middle" font-weight="normal" fill="#231f20" letter-spacing="-0.25" stroke="#231f20" stroke-width="0.3">2,841</text>
<rect x="993.40" y="505.80" width="26.50" height="25.50" fill="#f28169"/>
<text x="1006.6" y="521.8" font-size="8.6" text-anchor="middle" font-weight="normal" fill="#231f20" letter-spacing="-0.25" stroke="#231f20" stroke-width="0.3">2,401</text>
<rect x="1019.90" y="505.80" width="27.10" height="25.50" fill="#f28068"/>
<text x="1033.5" y="521.8" font-size="8.6" text-anchor="middle" font-weight="normal" fill="#231f20" letter-spacing="-0.25" stroke="#231f20" stroke-width="0.3">2,411</text>
<rect x="914.00" y="531.30" width="26.60" height="25.40" fill="#6a5ea8"/>
<text x="927.3" y="547.2" font-size="8.6" text-anchor="middle" font-weight="normal" fill="#231f20" letter-spacing="-0.25" stroke="#231f20" stroke-width="0.3">0.127</text>
<rect x="940.60" y="531.30" width="26.40" height="25.40" fill="#324c9e"/>
<text x="953.8" y="547.2" font-size="8.6" text-anchor="middle" font-weight="normal" fill="#231f20" letter-spacing="-0.25" stroke="#231f20" stroke-width="0.3">0.142</text>
<rect x="967.00" y="531.30" width="26.40" height="12.70" fill="#fde7df"/>
<rect x="967.00" y="544.00" width="26.40" height="12.70" fill="#e7e0f2"/>
<text x="980.2" y="540.9" font-size="8.6" text-anchor="middle" font-weight="normal" fill="#231f20" letter-spacing="-0.25" stroke="#231f20" stroke-width="0.3">1,797</text>
<text x="980.2" y="553.6" font-size="8.6" text-anchor="middle" font-weight="normal" fill="#231f20" letter-spacing="-0.25" stroke="#231f20" stroke-width="0.3">0.090</text>
<rect x="993.40" y="531.30" width="26.50" height="25.40" fill="#e8432f"/>
<text x="1006.6" y="547.2" font-size="8.6" text-anchor="middle" font-weight="normal" fill="#231f20" letter-spacing="-0.25" stroke="#231f20" stroke-width="0.3">2,691</text>
<rect x="1019.90" y="531.30" width="27.10" height="25.40" fill="#f38671"/>
<text x="1033.5" y="547.2" font-size="8.6" text-anchor="middle" font-weight="normal" fill="#231f20" letter-spacing="-0.25" stroke="#231f20" stroke-width="0.3">2,360</text>
<rect x="914.00" y="556.70" width="26.60" height="25.40" fill="#3a50a0"/>
<text x="927.3" y="572.6" font-size="8.6" text-anchor="middle" font-weight="normal" fill="#231f20" letter-spacing="-0.25" stroke="#231f20" stroke-width="0.3">0.139</text>
<rect x="940.60" y="556.70" width="26.40" height="25.40" fill="#8070b8"/>
<text x="953.8" y="572.6" font-size="8.6" text-anchor="middle" font-weight="normal" fill="#231f20" letter-spacing="-0.25" stroke="#231f20" stroke-width="0.3">0.119</text>
<rect x="967.00" y="556.70" width="26.40" height="25.40" fill="#4a52a4"/>
<text x="980.2" y="572.6" font-size="8.6" text-anchor="middle" font-weight="normal" fill="#231f20" letter-spacing="-0.25" stroke="#231f20" stroke-width="0.3">0.134</text>
<rect x="993.40" y="556.70" width="26.50" height="12.70" fill="#ffffff"/>
<rect x="993.40" y="569.40" width="26.50" height="12.70" fill="#ffffff"/>
<text x="1006.6" y="566.3" font-size="8.6" text-anchor="middle" font-weight="normal" fill="#231f20" letter-spacing="-0.25" stroke="#231f20" stroke-width="0.3">1,601</text>
<text x="1006.6" y="579.0" font-size="8.6" text-anchor="middle" font-weight="normal" fill="#231f20" letter-spacing="-0.25" stroke="#231f20" stroke-width="0.3">0.080</text>
<rect x="1019.90" y="556.70" width="27.10" height="25.40" fill="#f17b63"/>
<text x="1033.5" y="572.6" font-size="8.6" text-anchor="middle" font-weight="normal" fill="#231f20" letter-spacing="-0.25" stroke="#231f20" stroke-width="0.3">2,425</text>
<rect x="914.00" y="582.10" width="26.60" height="25.20" fill="#8272b9"/>
<text x="927.3" y="597.9" font-size="8.6" text-anchor="middle" font-weight="normal" fill="#231f20" letter-spacing="-0.25" stroke="#231f20" stroke-width="0.3">0.118</text>
<rect x="940.60" y="582.10" width="26.40" height="25.20" fill="#8272b9"/>
<text x="953.8" y="597.9" font-size="8.6" text-anchor="middle" font-weight="normal" fill="#231f20" letter-spacing="-0.25" stroke="#231f20" stroke-width="0.3">0.119</text>
<rect x="967.00" y="582.10" width="26.40" height="25.20" fill="#8475ba"/>
<text x="980.2" y="597.9" font-size="8.6" text-anchor="middle" font-weight="normal" fill="#231f20" letter-spacing="-0.25" stroke="#231f20" stroke-width="0.3">0.117</text>
<rect x="993.40" y="582.10" width="26.50" height="25.20" fill="#7e6eb6"/>
<text x="1006.6" y="597.9" font-size="8.6" text-anchor="middle" font-weight="normal" fill="#231f20" letter-spacing="-0.25" stroke="#231f20" stroke-width="0.3">0.120</text>
<rect x="1019.90" y="582.10" width="27.10" height="12.60" fill="#fbd0c2"/>
<rect x="1019.90" y="594.70" width="27.10" height="12.60" fill="#d1c5e7"/>
<text x="1033.5" y="591.6" font-size="8.6" text-anchor="middle" font-weight="normal" fill="#231f20" letter-spacing="-0.25" stroke="#231f20" stroke-width="0.3">1,954</text>
<text x="1033.5" y="604.2" font-size="8.6" text-anchor="middle" font-weight="normal" fill="#231f20" letter-spacing="-0.25" stroke="#231f20" stroke-width="0.3">0.096</text>
<rect x="911.5" y="478.2" width="137.5" height="131.3" fill="none" stroke="#222" stroke-width="1"/>
<line x1="908.50" y1="493.10" x2="911.50" y2="493.10" stroke="#333" stroke-width="1"/>
<text x="906.5" y="496.4" font-size="9.2" text-anchor="end" font-weight="normal" fill="#231f20" stroke="#231f20" stroke-width="0.3">XI</text>
<text x="927.3" y="621.1" font-size="9.2" text-anchor="middle" font-weight="normal" fill="#231f20" stroke="#231f20" stroke-width="0.3">XI</text>
<line x1="908.50" y1="518.55" x2="911.50" y2="518.55" stroke="#333" stroke-width="1"/>
<text x="906.5" y="521.8" font-size="9.2" text-anchor="end" font-weight="normal" fill="#231f20" stroke="#231f20" stroke-width="0.3">GJ</text>
<text x="953.8" y="621.1" font-size="9.2" text-anchor="middle" font-weight="normal" fill="#231f20" stroke="#231f20" stroke-width="0.3">GJ</text>
<line x1="908.50" y1="544.00" x2="911.50" y2="544.00" stroke="#333" stroke-width="1"/>
<text x="906.5" y="547.3" font-size="9.2" text-anchor="end" font-weight="normal" fill="#231f20" stroke="#231f20" stroke-width="0.3">cA</text>
<text x="980.2" y="621.1" font-size="9.2" text-anchor="middle" font-weight="normal" fill="#231f20" stroke="#231f20" stroke-width="0.3">cA</text>
<line x1="908.50" y1="569.40" x2="911.50" y2="569.40" stroke="#333" stroke-width="1"/>
<text x="906.5" y="572.7" font-size="9.2" text-anchor="end" font-weight="normal" fill="#231f20" stroke="#231f20" stroke-width="0.3">cB</text>
<text x="1006.6" y="621.1" font-size="9.2" text-anchor="middle" font-weight="normal" fill="#231f20" stroke="#231f20" stroke-width="0.3">cB</text>
<line x1="908.50" y1="594.70" x2="911.50" y2="594.70" stroke="#333" stroke-width="1"/>
<text x="906.5" y="598.0" font-size="9.2" text-anchor="end" font-weight="normal" fill="#231f20" stroke="#231f20" stroke-width="0.3">Admix</text>
<text x="1033.5" y="621.1" font-size="9.2" text-anchor="middle" font-weight="normal" fill="#231f20" stroke="#231f20" stroke-width="0.3">Admix</text>
<text x="1064.5" y="175.3" font-size="11.5" text-anchor="start" font-weight="bold" fill="#000" stroke="#000" stroke-width="0.3">f</text>
<g shape-rendering="crispEdges">
<rect x="1075.60" y="172.00" width="27.50" height="1.45" fill="#8b7cc3"/>
<rect x="1075.60" y="173.40" width="27.50" height="1.45" fill="#8376c1"/>
<rect x="1075.60" y="174.80" width="27.50" height="1.45" fill="#8477c1"/>
<rect x="1075.60" y="176.20" width="27.50" height="1.45" fill="#8678c2"/>
<rect x="1075.60" y="177.60" width="27.50" height="1.45" fill="#8b7cc3"/>
<rect x="1075.60" y="179.00" width="27.50" height="1.45" fill="#8175c1"/>
<rect x="1075.60" y="180.40" width="27.50" height="1.45" fill="#8175c1"/>
<rect x="1075.60" y="181.80" width="27.50" height="1.45" fill="#8678c2"/>
<rect x="1075.60" y="183.20" width="27.50" height="0.37" fill="#8678c2"/>
<rect x="1075.60" y="183.52" width="27.50" height="1.45" fill="#9b8cca"/>
<rect x="1075.60" y="184.92" width="27.50" height="1.45" fill="#9f90cc"/>
<rect x="1075.60" y="186.32" width="27.50" height="1.45" fill="#998ac9"/>
<rect x="1075.60" y="187.72" width="27.50" height="1.45" fill="#9586c8"/>
<rect x="1075.60" y="189.12" width="27.50" height="1.45" fill="#9e8fcb"/>
<rect x="1075.60" y="190.52" width="27.50" height="1.45" fill="#9283c6"/>
<rect x="1075.60" y="191.92" width="27.50" height="1.45" fill="#9b8cca"/>
<rect x="1075.60" y="193.32" width="27.50" height="1.45" fill="#9b8cca"/>
<rect x="1075.60" y="194.72" width="27.50" height="0.37" fill="#9e8fcb"/>
<rect x="1075.60" y="195.04" width="27.50" height="1.45" fill="#c5b8df"/>
<rect x="1075.60" y="196.44" width="27.50" height="1.45" fill="#c9bce1"/>
<rect x="1075.60" y="197.84" width="27.50" height="1.45" fill="#c7bae0"/>
<rect x="1075.60" y="199.24" width="27.50" height="1.45" fill="#cbbee2"/>
<rect x="1075.60" y="200.64" width="27.50" height="1.45" fill="#d3c6e5"/>
<rect x="1075.60" y="202.04" width="27.50" height="1.45" fill="#cfc2e4"/>
<rect x="1075.60" y="203.44" width="27.50" height="1.45" fill="#ccbfe2"/>
<rect x="1075.60" y="204.84" width="27.50" height="1.45" fill="#d2c5e5"/>
<rect x="1075.60" y="206.24" width="27.50" height="1.45" fill="#c6b8e0"/>
<rect x="1075.60" y="207.64" width="27.50" height="1.45" fill="#cec1e3"/>
<rect x="1075.60" y="209.04" width="27.50" height="1.41" fill="#d1c5e5"/>
<rect x="1103.10" y="172.00" width="27.60" height="1.45" fill="#f0eaf5"/>
<rect x="1103.10" y="173.40" width="27.60" height="1.45" fill="#f7f4fa"/>
<rect x="1103.10" y="174.80" width="27.60" height="1.45" fill="#efe9f4"/>
<rect x="1103.10" y="176.20" width="27.60" height="1.45" fill="#f4eff8"/>
<rect x="1103.10" y="177.60" width="27.60" height="1.45" fill="#f3eef7"/>
<rect x="1103.10" y="179.00" width="27.60" height="1.45" fill="#f5f1f8"/>
<rect x="1103.10" y="180.40" width="27.60" height="1.45" fill="#f4eff7"/>
<rect x="1103.10" y="181.80" width="27.60" height="1.45" fill="#f7f3f9"/>
<rect x="1103.10" y="183.20" width="27.60" height="0.37" fill="#f8f5fa"/>
<rect x="1103.10" y="183.52" width="27.60" height="1.45" fill="#c7bae0"/>
<rect x="1103.10" y="184.92" width="27.60" height="1.45" fill="#d0c3e4"/>
<rect x="1103.10" y="186.32" width="27.60" height="1.45" fill="#c9bbe1"/>
<rect x="1103.10" y="187.72" width="27.60" height="1.45" fill="#d0c4e4"/>
<rect x="1103.10" y="189.12" width="27.60" height="1.45" fill="#c6b8df"/>
<rect x="1103.10" y="190.52" width="27.60" height="1.45" fill="#c7b9e0"/>
<rect x="1103.10" y="191.92" width="27.60" height="1.45" fill="#c9bbe1"/>
<rect x="1103.10" y="193.32" width="27.60" height="1.45" fill="#c9bbe1"/>
<rect x="1103.10" y="194.72" width="27.60" height="0.37" fill="#cbbee2"/>
<rect x="1103.10" y="195.04" width="27.60" height="1.45" fill="#f8f4fa"/>
<rect x="1103.10" y="196.44" width="27.60" height="1.45" fill="#fefdfe"/>
<rect x="1103.10" y="197.84" width="27.60" height="1.45" fill="#faf8fc"/>
<rect x="1103.10" y="199.24" width="27.60" height="1.45" fill="#f7f3f9"/>
<rect x="1103.10" y="200.64" width="27.60" height="1.45" fill="#fdfcfd"/>
<rect x="1103.10" y="202.04" width="27.60" height="1.45" fill="#f6f2f9"/>
<rect x="1103.10" y="203.44" width="27.60" height="1.45" fill="#f6f2f9"/>
<rect x="1103.10" y="204.84" width="27.60" height="1.45" fill="#fbf9fc"/>
<rect x="1103.10" y="206.24" width="27.60" height="1.45" fill="#fbfafc"/>
<rect x="1103.10" y="207.64" width="27.60" height="1.45" fill="#fbf8fc"/>
<rect x="1103.10" y="209.04" width="27.60" height="1.41" fill="#fbf9fc"/>
<rect x="1130.70" y="172.00" width="27.50" height="1.45" fill="#e9e1f1"/>
<rect x="1130.70" y="173.40" width="27.50" height="1.45" fill="#efe9f5"/>
<rect x="1130.70" y="174.80" width="27.50" height="1.45" fill="#f3eef7"/>
<rect x="1130.70" y="176.20" width="27.50" height="1.45" fill="#f3edf7"/>
<rect x="1130.70" y="177.60" width="27.50" height="1.45" fill="#ece5f3"/>
<rect x="1130.70" y="179.00" width="27.50" height="1.45" fill="#e9e1f1"/>
<rect x="1130.70" y="180.40" width="27.50" height="1.45" fill="#eee8f4"/>
<rect x="1130.70" y="181.80" width="27.50" height="1.45" fill="#eee8f4"/>
<rect x="1130.70" y="183.20" width="27.50" height="0.37" fill="#eee7f4"/>
<rect x="1130.70" y="183.52" width="27.50" height="1.45" fill="#bcaeda"/>
<rect x="1130.70" y="184.92" width="27.50" height="1.45" fill="#c4b6de"/>
<rect x="1130.70" y="186.32" width="27.50" height="1.45" fill="#beb0db"/>
<rect x="1130.70" y="187.72" width="27.50" height="1.45" fill="#bfb1dc"/>
<rect x="1130.70" y="189.12" width="27.50" height="1.45" fill="#beb0db"/>
<rect x="1130.70" y="190.52" width="27.50" height="1.45" fill="#c5b7df"/>
<rect x="1130.70" y="191.92" width="27.50" height="1.45" fill="#c5b7df"/>
<rect x="1130.70" y="193.32" width="27.50" height="1.45" fill="#c2b4dd"/>
<rect x="1130.70" y="194.72" width="27.50" height="0.37" fill="#b9abd8"/>
<rect x="1130.70" y="195.04" width="27.50" height="1.45" fill="#f9f6fb"/>
<rect x="1130.70" y="196.44" width="27.50" height="1.45" fill="#f6f3f9"/>
<rect x="1130.70" y="197.84" width="27.50" height="1.45" fill="#f9f7fb"/>
<rect x="1130.70" y="199.24" width="27.50" height="1.45" fill="#fcfafc"/>
<rect x="1130.70" y="200.64" width="27.50" height="1.45" fill="#fcfafd"/>
<rect x="1130.70" y="202.04" width="27.50" height="1.45" fill="#f4f0f8"/>
<rect x="1130.70" y="203.44" width="27.50" height="1.45" fill="#f5f0f8"/>
<rect x="1130.70" y="204.84" width="27.50" height="1.45" fill="#f9f6fb"/>
<rect x="1130.70" y="206.24" width="27.50" height="1.45" fill="#f6f2f9"/>
<rect x="1130.70" y="207.64" width="27.50" height="1.45" fill="#f6f2f9"/>
<rect x="1130.70" y="209.04" width="27.50" height="1.41" fill="#f3eef7"/>
<rect x="1158.20" y="172.00" width="26.60" height="1.45" fill="#ece5f3"/>
<rect x="1158.20" y="173.40" width="26.60" height="1.45" fill="#f2edf6"/>
<rect x="1158.20" y="174.80" width="26.60" height="1.45" fill="#ece5f3"/>
<rect x="1158.20" y="176.20" width="26.60" height="1.45" fill="#ece5f3"/>
<rect x="1158.20" y="177.60" width="26.60" height="1.45" fill="#f0eaf5"/>
<rect x="1158.20" y="179.00" width="26.60" height="1.45" fill="#ede6f3"/>
<rect x="1158.20" y="180.40" width="26.60" height="1.45" fill="#f1ebf6"/>
<rect x="1158.20" y="181.80" width="26.60" height="1.45" fill="#f2edf6"/>
<rect x="1158.20" y="183.20" width="26.60" height="0.37" fill="#f4eff7"/>
<rect x="1158.20" y="183.52" width="26.60" height="1.45" fill="#c2b4dd"/>
<rect x="1158.20" y="184.92" width="26.60" height="1.45" fill="#ccbfe2"/>
<rect x="1158.20" y="186.32" width="26.60" height="1.45" fill="#cdc0e3"/>
<rect x="1158.20" y="187.72" width="26.60" height="1.45" fill="#c3b5de"/>
<rect x="1158.20" y="189.12" width="26.60" height="1.45" fill="#c3b5de"/>
<rect x="1158.20" y="190.52" width="26.60" height="1.45" fill="#c7bae0"/>
<rect x="1158.20" y="191.92" width="26.60" height="1.45" fill="#c2b4dd"/>
<rect x="1158.20" y="193.32" width="26.60" height="1.45" fill="#cdc0e3"/>
<rect x="1158.20" y="194.72" width="26.60" height="0.37" fill="#cbbde2"/>
<rect x="1158.20" y="195.04" width="26.60" height="1.45" fill="#fcfbfd"/>
<rect x="1158.20" y="196.44" width="26.60" height="1.45" fill="#fbf9fc"/>
<rect x="1158.20" y="197.84" width="26.60" height="1.45" fill="#fefcfe"/>
<rect x="1158.20" y="199.24" width="26.60" height="1.45" fill="#fefdfe"/>
<rect x="1158.20" y="200.64" width="26.60" height="1.45" fill="#fcfafd"/>
<rect x="1158.20" y="202.04" width="26.60" height="1.45" fill="#f6f2f9"/>
<rect x="1158.20" y="203.44" width="26.60" height="1.45" fill="#f5f1f8"/>
<rect x="1158.20" y="204.84" width="26.60" height="1.45" fill="#f8f4fa"/>
<rect x="1158.20" y="206.24" width="26.60" height="1.45" fill="#faf8fc"/>
<rect x="1158.20" y="207.64" width="26.60" height="1.45" fill="#fdfbfd"/>
<rect x="1158.20" y="209.04" width="26.60" height="1.41" fill="#f5f1f8"/>
<rect x="1075.60" y="210.40" width="27.50" height="1.45" fill="#eee7f4"/>
<rect x="1075.60" y="211.80" width="27.50" height="1.45" fill="#ece5f3"/>
<rect x="1075.60" y="213.20" width="27.50" height="1.45" fill="#f3eef7"/>
<rect x="1075.60" y="214.60" width="27.50" height="1.45" fill="#f1ecf6"/>
<rect x="1075.60" y="216.00" width="27.50" height="1.45" fill="#ebe3f2"/>
<rect x="1075.60" y="217.40" width="27.50" height="1.45" fill="#ebe4f3"/>
<rect x="1075.60" y="218.80" width="27.50" height="1.45" fill="#eae3f2"/>
<rect x="1075.60" y="220.20" width="27.50" height="1.45" fill="#ede6f4"/>
<rect x="1075.60" y="221.60" width="27.50" height="1.45" fill="#efe9f4"/>
<rect x="1075.60" y="223.00" width="27.50" height="1.45" fill="#ede7f4"/>
<rect x="1075.60" y="224.40" width="27.50" height="1.45" fill="#eae3f2"/>
<rect x="1075.60" y="225.80" width="27.50" height="1.45" fill="#f0eaf5"/>
<rect x="1075.60" y="227.20" width="27.50" height="1.45" fill="#eee7f4"/>
<rect x="1075.60" y="228.60" width="27.50" height="1.45" fill="#f1ebf5"/>
<rect x="1075.60" y="230.00" width="27.50" height="1.45" fill="#ebe4f3"/>
<rect x="1075.60" y="231.40" width="27.50" height="1.45" fill="#f3eff7"/>
<rect x="1075.60" y="232.80" width="27.50" height="1.45" fill="#ece5f3"/>
<rect x="1075.60" y="234.20" width="27.50" height="1.45" fill="#e9e2f2"/>
<rect x="1075.60" y="235.60" width="27.50" height="1.45" fill="#f3eef7"/>
<rect x="1075.60" y="237.00" width="27.50" height="1.45" fill="#ede7f4"/>
<rect x="1075.60" y="238.40" width="27.50" height="1.45" fill="#ede6f3"/>
<rect x="1075.60" y="239.80" width="27.50" height="1.45" fill="#eae3f2"/>
<rect x="1075.60" y="241.20" width="27.50" height="1.45" fill="#ede7f4"/>
<rect x="1075.60" y="242.60" width="27.50" height="1.45" fill="#f1ebf6"/>
<rect x="1075.60" y="244.00" width="27.50" height="1.25" fill="#efe9f5"/>
<rect x="1103.10" y="210.40" width="27.60" height="1.45" fill="#5e6fbd"/>
<rect x="1103.10" y="211.80" width="27.60" height="1.45" fill="#5f6fbd"/>
<rect x="1103.10" y="213.20" width="27.60" height="1.45" fill="#696fbe"/>
<rect x="1103.10" y="214.60" width="27.60" height="1.45" fill="#696fbf"/>
<rect x="1103.10" y="216.00" width="27.60" height="1.45" fill="#696fbf"/>
<rect x="1103.10" y="217.40" width="27.60" height="1.45" fill="#6a6fbf"/>
<rect x="1103.10" y="218.80" width="27.60" height="1.45" fill="#6570be"/>
<rect x="1103.10" y="220.20" width="27.60" height="1.45" fill="#696fbe"/>
<rect x="1103.10" y="221.60" width="27.60" height="0.68" fill="#606fbe"/>
<rect x="1103.10" y="222.23" width="27.60" height="1.45" fill="#b7a9d7"/>
<rect x="1103.10" y="223.63" width="27.60" height="1.45" fill="#c0b2dc"/>
<rect x="1103.10" y="225.03" width="27.60" height="1.45" fill="#b9abd8"/>
<rect x="1103.10" y="226.43" width="27.60" height="1.45" fill="#bdafda"/>
<rect x="1103.10" y="227.83" width="27.60" height="1.45" fill="#baacd9"/>
<rect x="1103.10" y="229.23" width="27.60" height="1.45" fill="#beb0db"/>
<rect x="1103.10" y="230.63" width="27.60" height="1.45" fill="#bfb1dc"/>
<rect x="1103.10" y="232.03" width="27.60" height="1.39" fill="#bfb1dc"/>
<rect x="1103.10" y="233.37" width="27.60" height="1.45" fill="#d9cee9"/>
<rect x="1103.10" y="234.77" width="27.60" height="1.45" fill="#d5c9e7"/>
<rect x="1103.10" y="236.17" width="27.60" height="1.45" fill="#d7cce8"/>
<rect x="1103.10" y="237.57" width="27.60" height="1.45" fill="#ddd3eb"/>
<rect x="1103.10" y="238.97" width="27.60" height="1.45" fill="#d5c9e7"/>
<rect x="1103.10" y="240.37" width="27.60" height="1.45" fill="#d3c7e6"/>
<rect x="1103.10" y="241.77" width="27.60" height="1.45" fill="#d4c8e6"/>
<rect x="1103.10" y="243.17" width="27.60" height="1.45" fill="#d4c8e6"/>
<rect x="1103.10" y="244.57" width="27.60" height="0.68" fill="#ddd3eb"/>
<rect x="1130.70" y="210.40" width="27.50" height="1.45" fill="#f8f5fa"/>
<rect x="1130.70" y="211.80" width="27.50" height="1.45" fill="#fcfafd"/>
<rect x="1130.70" y="213.20" width="27.50" height="1.45" fill="#f5f0f8"/>
<rect x="1130.70" y="214.60" width="27.50" height="1.45" fill="#fbf9fc"/>
<rect x="1130.70" y="216.00" width="27.50" height="1.45" fill="#f5f1f8"/>
<rect x="1130.70" y="217.40" width="27.50" height="1.45" fill="#faf8fb"/>
<rect x="1130.70" y="218.80" width="27.50" height="1.45" fill="#f5f1f8"/>
<rect x="1130.70" y="220.20" width="27.50" height="1.45" fill="#f9f7fb"/>
<rect x="1130.70" y="221.60" width="27.50" height="1.45" fill="#fcfbfd"/>
<rect x="1130.70" y="223.00" width="27.50" height="1.45" fill="#f9f6fb"/>
<rect x="1130.70" y="224.40" width="27.50" height="1.45" fill="#f9f7fb"/>
<rect x="1130.70" y="225.80" width="27.50" height="1.45" fill="#f3eef7"/>
<rect x="1130.70" y="227.20" width="27.50" height="1.45" fill="#faf7fb"/>
<rect x="1130.70" y="228.60" width="27.50" height="1.45" fill="#f7f4fa"/>
<rect x="1130.70" y="230.00" width="27.50" height="1.45" fill="#f7f3f9"/>
<rect x="1130.70" y="231.40" width="27.50" height="1.45" fill="#f3eef7"/>
<rect x="1130.70" y="232.80" width="27.50" height="1.45" fill="#fcfafc"/>
<rect x="1130.70" y="234.20" width="27.50" height="1.45" fill="#f6f3f9"/>
<rect x="1130.70" y="235.60" width="27.50" height="1.45" fill="#f7f4fa"/>
<rect x="1130.70" y="237.00" width="27.50" height="1.45" fill="#f5f1f8"/>
<rect x="1130.70" y="238.40" width="27.50" height="1.45" fill="#f3edf7"/>
<rect x="1130.70" y="239.80" width="27.50" height="1.45" fill="#f9f7fb"/>
<rect x="1130.70" y="241.20" width="27.50" height="1.45" fill="#f5f1f8"/>
<rect x="1130.70" y="242.60" width="27.50" height="1.45" fill="#f7f4fa"/>
<rect x="1130.70" y="244.00" width="27.50" height="1.25" fill="#f7f3f9"/>
<rect x="1158.20" y="210.40" width="26.60" height="1.45" fill="#e1d8ed"/>
<rect x="1158.20" y="211.80" width="26.60" height="1.45" fill="#d8cde9"/>
<rect x="1158.20" y="213.20" width="26.60" height="1.45" fill="#d6cbe7"/>
<rect x="1158.20" y="214.60" width="26.60" height="1.45" fill="#ded4ec"/>
<rect x="1158.20" y="216.00" width="26.60" height="1.45" fill="#ded4ec"/>
<rect x="1158.20" y="217.40" width="26.60" height="1.45" fill="#d6cbe7"/>
<rect x="1158.20" y="218.80" width="26.60" height="1.45" fill="#e1d7ed"/>
<rect x="1158.20" y="220.20" width="26.60" height="1.45" fill="#e1d8ed"/>
<rect x="1158.20" y="221.60" width="26.60" height="0.68" fill="#e1d8ed"/>
<rect x="1158.20" y="222.23" width="26.60" height="1.45" fill="#ede7f4"/>
<rect x="1158.20" y="223.63" width="26.60" height="1.45" fill="#eee8f4"/>
<rect x="1158.20" y="225.03" width="26.60" height="1.45" fill="#f1ecf6"/>
<rect x="1158.20" y="226.43" width="26.60" height="1.45" fill="#f0e9f5"/>
<rect x="1158.20" y="227.83" width="26.60" height="1.45" fill="#f6f2f9"/>
<rect x="1158.20" y="229.23" width="26.60" height="1.45" fill="#efe9f5"/>
<rect x="1158.20" y="230.63" width="26.60" height="1.45" fill="#f1ecf6"/>
<rect x="1158.20" y="232.03" width="26.60" height="1.45" fill="#f1ebf5"/>
<rect x="1158.20" y="233.43" width="26.60" height="1.45" fill="#f2edf6"/>
<rect x="1158.20" y="234.83" width="26.60" height="1.45" fill="#f2edf6"/>
<rect x="1158.20" y="236.23" width="26.60" height="1.45" fill="#f4eff7"/>
<rect x="1158.20" y="237.63" width="26.60" height="1.45" fill="#f6f2f9"/>
<rect x="1158.20" y="239.03" width="26.60" height="1.45" fill="#f2ecf6"/>
<rect x="1158.20" y="240.43" width="26.60" height="1.45" fill="#f4eff7"/>
<rect x="1158.20" y="241.83" width="26.60" height="1.45" fill="#efe8f4"/>
<rect x="1158.20" y="243.23" width="26.60" height="1.45" fill="#ede7f4"/>
<rect x="1158.20" y="244.63" width="26.60" height="0.62" fill="#eee8f4"/>
<rect x="1075.60" y="245.20" width="27.50" height="1.45" fill="#e4dbef"/>
<rect x="1075.60" y="246.60" width="27.50" height="1.45" fill="#e6def0"/>
<rect x="1075.60" y="248.00" width="27.50" height="1.45" fill="#e5dcef"/>
<rect x="1075.60" y="249.40" width="27.50" height="1.45" fill="#e3dbef"/>
<rect x="1075.60" y="250.80" width="27.50" height="1.45" fill="#e2d9ee"/>
<rect x="1075.60" y="252.20" width="27.50" height="1.45" fill="#ded4ec"/>
<rect x="1075.60" y="253.60" width="27.50" height="1.45" fill="#e8e0f1"/>
<rect x="1075.60" y="255.00" width="27.50" height="1.45" fill="#e3dbef"/>
<rect x="1075.60" y="256.40" width="27.50" height="1.45" fill="#e3dbef"/>
<rect x="1075.60" y="257.80" width="27.50" height="1.45" fill="#e1d8ed"/>
<rect x="1075.60" y="259.20" width="27.50" height="1.45" fill="#dfd5ec"/>
<rect x="1075.60" y="260.60" width="27.50" height="1.45" fill="#e0d7ed"/>
<rect x="1075.60" y="262.00" width="27.50" height="1.45" fill="#e2d9ee"/>
<rect x="1075.60" y="263.40" width="27.50" height="1.45" fill="#e0d7ed"/>
<rect x="1075.60" y="264.80" width="27.50" height="1.45" fill="#e1d8ee"/>
<rect x="1075.60" y="266.20" width="27.50" height="0.45" fill="#dfd6ec"/>
<rect x="1103.10" y="245.20" width="27.60" height="1.45" fill="#f7f3f9"/>
<rect x="1103.10" y="246.60" width="27.60" height="1.45" fill="#f7f3f9"/>
<rect x="1103.10" y="248.00" width="27.60" height="1.45" fill="#fbfafc"/>
<rect x="1103.10" y="249.40" width="27.60" height="1.45" fill="#f4f0f8"/>
<rect x="1103.10" y="250.80" width="27.60" height="1.45" fill="#faf8fb"/>
<rect x="1103.10" y="252.20" width="27.60" height="1.45" fill="#f8f4fa"/>
<rect x="1103.10" y="253.60" width="27.60" height="1.45" fill="#f5f1f8"/>
<rect x="1103.10" y="255.00" width="27.60" height="1.45" fill="#f4eff8"/>
<rect x="1103.10" y="256.40" width="27.60" height="1.45" fill="#f4eff7"/>
<rect x="1103.10" y="257.80" width="27.60" height="1.45" fill="#fefdfe"/>
<rect x="1103.10" y="259.20" width="27.60" height="1.45" fill="#fbf9fc"/>
<rect x="1103.10" y="260.60" width="27.60" height="1.45" fill="#fbf9fc"/>
<rect x="1103.10" y="262.00" width="27.60" height="1.45" fill="#faf7fb"/>
<rect x="1103.10" y="263.40" width="27.60" height="1.45" fill="#fcfbfd"/>
<rect x="1103.10" y="264.80" width="27.60" height="1.45" fill="#f8f5fa"/>
<rect x="1103.10" y="266.20" width="27.60" height="0.45" fill="#fdfcfd"/>
<rect x="1130.70" y="245.20" width="27.50" height="1.45" fill="#6b6fbf"/>
<rect x="1130.70" y="246.60" width="27.50" height="1.45" fill="#6370be"/>
<rect x="1130.70" y="248.00" width="27.50" height="1.45" fill="#6670be"/>
<rect x="1130.70" y="249.40" width="27.50" height="1.45" fill="#696fbf"/>
<rect x="1130.70" y="250.80" width="27.50" height="1.45" fill="#6e6ebf"/>
<rect x="1130.70" y="252.20" width="27.50" height="1.45" fill="#6370be"/>
<rect x="1130.70" y="253.60" width="27.50" height="0.21" fill="#6670be"/>
<rect x="1130.70" y="253.76" width="27.50" height="1.45" fill="#bfb1db"/>
<rect x="1130.70" y="255.16" width="27.50" height="1.45" fill="#bcaeda"/>
<rect x="1130.70" y="256.56" width="27.50" height="1.45" fill="#b8aad7"/>
<rect x="1130.70" y="257.96" width="27.50" height="1.45" fill="#b7a9d7"/>
<rect x="1130.70" y="259.36" width="27.50" height="1.45" fill="#beb0db"/>
<rect x="1130.70" y="260.76" width="27.50" height="1.45" fill="#b3a4d5"/>
<rect x="1130.70" y="262.16" width="27.50" height="1.45" fill="#bdafda"/>
<rect x="1130.70" y="263.56" width="27.50" height="1.45" fill="#beb0db"/>
<rect x="1130.70" y="264.96" width="27.50" height="1.45" fill="#b4a6d6"/>
<rect x="1130.70" y="266.36" width="27.50" height="0.29" fill="#bfb1dc"/>
<rect x="1158.20" y="245.20" width="26.60" height="1.45" fill="#ece5f3"/>
<rect x="1158.20" y="246.60" width="26.60" height="1.45" fill="#f1ecf6"/>
<rect x="1158.20" y="248.00" width="26.60" height="1.45" fill="#ede7f4"/>
<rect x="1158.20" y="249.40" width="26.60" height="1.45" fill="#f1ebf5"/>
<rect x="1158.20" y="250.80" width="26.60" height="1.45" fill="#efe9f5"/>
<rect x="1158.20" y="252.20" width="26.60" height="1.45" fill="#e9e2f2"/>
<rect x="1158.20" y="253.60" width="26.60" height="1.45" fill="#efe8f4"/>
<rect x="1158.20" y="255.00" width="26.60" height="1.45" fill="#efe9f4"/>
<rect x="1158.20" y="256.40" width="26.60" height="1.45" fill="#ede6f3"/>
<rect x="1158.20" y="257.80" width="26.60" height="1.45" fill="#f1ebf5"/>
<rect x="1158.20" y="259.20" width="26.60" height="1.45" fill="#f2ecf6"/>
<rect x="1158.20" y="260.60" width="26.60" height="1.45" fill="#efe9f5"/>
<rect x="1158.20" y="262.00" width="26.60" height="1.45" fill="#f1ebf5"/>
<rect x="1158.20" y="263.40" width="26.60" height="1.45" fill="#f2ecf6"/>
<rect x="1158.20" y="264.80" width="26.60" height="1.45" fill="#e9e2f2"/>
<rect x="1158.20" y="266.20" width="26.60" height="0.45" fill="#f3eef7"/>
<rect x="1075.60" y="266.60" width="27.50" height="1.45" fill="#eee7f4"/>
<rect x="1075.60" y="268.00" width="27.50" height="1.45" fill="#ece5f3"/>
<rect x="1075.60" y="269.40" width="27.50" height="1.45" fill="#efe8f4"/>
<rect x="1075.60" y="270.80" width="27.50" height="1.45" fill="#f6f2f9"/>
<rect x="1075.60" y="272.20" width="27.50" height="1.45" fill="#f1ebf6"/>
<rect x="1075.60" y="273.60" width="27.50" height="1.45" fill="#f6f2f9"/>
<rect x="1075.60" y="275.00" width="27.50" height="1.45" fill="#f0eaf5"/>
<rect x="1075.60" y="276.40" width="27.50" height="1.15" fill="#efe8f4"/>
<rect x="1103.10" y="266.60" width="27.60" height="1.45" fill="#faf8fc"/>
<rect x="1103.10" y="268.00" width="27.60" height="1.45" fill="#fdfbfd"/>
<rect x="1103.10" y="269.40" width="27.60" height="1.45" fill="#f7f3f9"/>
<rect x="1103.10" y="270.80" width="27.60" height="1.45" fill="#fcfafd"/>
<rect x="1103.10" y="272.20" width="27.60" height="1.45" fill="#f9f7fb"/>
<rect x="1103.10" y="273.60" width="27.60" height="1.45" fill="#f8f5fa"/>
<rect x="1103.10" y="275.00" width="27.60" height="1.45" fill="#f3eef7"/>
<rect x="1103.10" y="276.40" width="27.60" height="1.15" fill="#f9f6fb"/>
<rect x="1130.70" y="266.60" width="27.50" height="1.45" fill="#faf8fb"/>
<rect x="1130.70" y="268.00" width="27.50" height="1.45" fill="#f3eef7"/>
<rect x="1130.70" y="269.40" width="27.50" height="1.45" fill="#f3eef7"/>
<rect x="1130.70" y="270.80" width="27.50" height="1.45" fill="#f6f2f9"/>
<rect x="1130.70" y="272.20" width="27.50" height="1.45" fill="#fbf9fc"/>
<rect x="1130.70" y="273.60" width="27.50" height="1.45" fill="#f9f7fb"/>
<rect x="1130.70" y="275.00" width="27.50" height="1.45" fill="#f7f4fa"/>
<rect x="1130.70" y="276.40" width="27.50" height="1.15" fill="#f6f2f9"/>
<rect x="1158.20" y="266.60" width="26.60" height="1.45" fill="#9f90cc"/>
<rect x="1158.20" y="268.00" width="26.60" height="1.45" fill="#9687c8"/>
<rect x="1158.20" y="269.40" width="26.60" height="1.45" fill="#9586c8"/>
<rect x="1158.20" y="270.80" width="26.60" height="1.45" fill="#9485c7"/>
<rect x="1158.20" y="272.20" width="26.60" height="1.45" fill="#9485c7"/>
<rect x="1158.20" y="273.60" width="26.60" height="1.45" fill="#a394cd"/>
<rect x="1158.20" y="275.00" width="26.60" height="1.45" fill="#998ac9"/>
<rect x="1158.20" y="276.40" width="26.60" height="1.15" fill="#a293cd"/>
<rect x="1075.60" y="277.50" width="27.50" height="1.45" fill="#7c72c0"/>
<rect x="1075.60" y="278.90" width="27.50" height="1.45" fill="#7e74c0"/>
<rect x="1075.60" y="280.30" width="27.50" height="1.45" fill="#7e74c0"/>
<rect x="1075.60" y="281.70" width="27.50" height="1.45" fill="#8778c2"/>
<rect x="1075.60" y="283.10" width="27.50" height="1.45" fill="#897ac2"/>
<rect x="1075.60" y="284.50" width="27.50" height="1.45" fill="#7d73c0"/>
<rect x="1075.60" y="285.90" width="27.50" height="1.45" fill="#8075c1"/>
<rect x="1075.60" y="287.30" width="27.50" height="1.45" fill="#8075c1"/>
<rect x="1075.60" y="288.70" width="27.50" height="1.45" fill="#8376c1"/>
<rect x="1075.60" y="290.10" width="27.50" height="1.45" fill="#7d73c0"/>
<rect x="1075.60" y="291.50" width="27.50" height="1.45" fill="#8577c1"/>
<rect x="1075.60" y="292.90" width="27.50" height="1.45" fill="#8678c2"/>
<rect x="1075.60" y="294.30" width="27.50" height="0.35" fill="#8477c1"/>
<rect x="1103.10" y="277.50" width="27.60" height="1.45" fill="#676fbe"/>
<rect x="1103.10" y="278.90" width="27.60" height="1.45" fill="#6270be"/>
<rect x="1103.10" y="280.30" width="27.60" height="1.45" fill="#5f6fbd"/>
<rect x="1103.10" y="281.70" width="27.60" height="1.45" fill="#6a6fbf"/>
<rect x="1103.10" y="283.10" width="27.60" height="1.45" fill="#6a6fbf"/>
<rect x="1103.10" y="284.50" width="27.60" height="1.45" fill="#6470be"/>
<rect x="1103.10" y="285.90" width="27.60" height="1.45" fill="#6270be"/>
<rect x="1103.10" y="287.30" width="27.60" height="1.37" fill="#686fbe"/>
<rect x="1103.10" y="288.62" width="27.60" height="1.45" fill="#b4a5d5"/>
<rect x="1103.10" y="290.01" width="27.60" height="1.45" fill="#b7a9d7"/>
<rect x="1103.10" y="291.41" width="27.60" height="1.45" fill="#b7a9d7"/>
<rect x="1103.10" y="292.81" width="27.60" height="1.45" fill="#b0a1d3"/>
<rect x="1103.10" y="294.21" width="27.60" height="0.44" fill="#ad9ed2"/>
<rect x="1130.70" y="277.50" width="27.50" height="1.45" fill="#e2d8ee"/>
<rect x="1130.70" y="278.90" width="27.50" height="1.45" fill="#e7dff1"/>
<rect x="1130.70" y="280.30" width="27.50" height="1.45" fill="#e8e0f1"/>
<rect x="1130.70" y="281.70" width="27.50" height="1.45" fill="#ded5ec"/>
<rect x="1130.70" y="283.10" width="27.50" height="1.45" fill="#e3daee"/>
<rect x="1130.70" y="284.50" width="27.50" height="1.45" fill="#e4dcef"/>
<rect x="1130.70" y="285.90" width="27.50" height="1.45" fill="#e1d8ed"/>
<rect x="1130.70" y="287.30" width="27.50" height="1.45" fill="#e1d7ed"/>
<rect x="1130.70" y="288.70" width="27.50" height="1.45" fill="#e3daee"/>
<rect x="1130.70" y="290.10" width="27.50" height="1.45" fill="#e8e0f1"/>
<rect x="1130.70" y="291.50" width="27.50" height="1.45" fill="#e0d6ed"/>
<rect x="1130.70" y="292.90" width="27.50" height="1.45" fill="#e6def0"/>
<rect x="1130.70" y="294.30" width="27.50" height="0.35" fill="#e8e1f1"/>
<rect x="1158.20" y="277.50" width="26.60" height="1.45" fill="#ded4ec"/>
<rect x="1158.20" y="278.90" width="26.60" height="1.45" fill="#dcd1ea"/>
<rect x="1158.20" y="280.30" width="26.60" height="1.45" fill="#dbd0ea"/>
<rect x="1158.20" y="281.70" width="26.60" height="1.45" fill="#e0d6ed"/>
<rect x="1158.20" y="283.10" width="26.60" height="1.45" fill="#dacfe9"/>
<rect x="1158.20" y="284.50" width="26.60" height="1.45" fill="#dcd2eb"/>
<rect x="1158.20" y="285.90" width="26.60" height="1.45" fill="#e0d7ed"/>
<rect x="1158.20" y="287.30" width="26.60" height="1.45" fill="#d8cde8"/>
<rect x="1158.20" y="288.70" width="26.60" height="1.45" fill="#d8cde9"/>
<rect x="1158.20" y="290.10" width="26.60" height="1.45" fill="#d7cce8"/>
<rect x="1158.20" y="291.50" width="26.60" height="1.45" fill="#dacfe9"/>
<rect x="1158.20" y="292.90" width="26.60" height="1.45" fill="#dfd6ec"/>
<rect x="1158.20" y="294.30" width="26.60" height="0.35" fill="#d9cee9"/>
<rect x="1075.60" y="294.60" width="27.50" height="1.45" fill="#5c6ebd"/>
<rect x="1075.60" y="296.00" width="27.50" height="1.45" fill="#616fbe"/>
<rect x="1075.60" y="297.40" width="27.50" height="1.45" fill="#5c6ebd"/>
<rect x="1075.60" y="298.80" width="27.50" height="1.45" fill="#5b6ebd"/>
<rect x="1075.60" y="300.20" width="27.50" height="1.45" fill="#6270be"/>
<rect x="1075.60" y="301.60" width="27.50" height="1.45" fill="#5c6ebd"/>
<rect x="1075.60" y="303.00" width="27.50" height="1.45" fill="#5c6ebd"/>
<rect x="1075.60" y="304.40" width="27.50" height="1.45" fill="#5d6fbd"/>
<rect x="1075.60" y="305.80" width="27.50" height="0.69" fill="#676fbe"/>
<rect x="1075.60" y="306.44" width="27.50" height="1.45" fill="#7871c0"/>
<rect x="1075.60" y="307.84" width="27.50" height="1.45" fill="#7470bf"/>
<rect x="1075.60" y="309.24" width="27.50" height="1.45" fill="#7470bf"/>
<rect x="1075.60" y="310.64" width="27.50" height="1.45" fill="#726fbf"/>
<rect x="1075.60" y="312.04" width="27.50" height="1.45" fill="#7370bf"/>
<rect x="1075.60" y="313.44" width="27.50" height="0.45" fill="#7b72c0"/>
<rect x="1075.60" y="313.84" width="27.50" height="1.45" fill="#a89ad0"/>
<rect x="1075.60" y="315.24" width="27.50" height="1.45" fill="#afa1d3"/>
<rect x="1075.60" y="316.64" width="27.50" height="1.45" fill="#a99bd0"/>
<rect x="1075.60" y="318.04" width="27.50" height="1.45" fill="#b5a7d6"/>
<rect x="1075.60" y="319.44" width="27.50" height="1.45" fill="#a798cf"/>
<rect x="1075.60" y="320.84" width="27.50" height="1.45" fill="#afa0d3"/>
<rect x="1075.60" y="322.24" width="27.50" height="1.45" fill="#ab9cd1"/>
<rect x="1075.60" y="323.64" width="27.50" height="0.61" fill="#ac9dd1"/>
<rect x="1103.10" y="294.60" width="27.60" height="1.45" fill="#ede6f3"/>
<rect x="1103.10" y="296.00" width="27.60" height="1.45" fill="#f2edf6"/>
<rect x="1103.10" y="297.40" width="27.60" height="1.45" fill="#f5f1f8"/>
<rect x="1103.10" y="298.80" width="27.60" height="1.45" fill="#f2edf6"/>
<rect x="1103.10" y="300.20" width="27.60" height="1.45" fill="#f4f0f8"/>
<rect x="1103.10" y="301.60" width="27.60" height="1.45" fill="#f0ebf5"/>
<rect x="1103.10" y="303.00" width="27.60" height="1.45" fill="#ede7f4"/>
<rect x="1103.10" y="304.40" width="27.60" height="1.45" fill="#f2edf6"/>
<rect x="1103.10" y="305.80" width="27.60" height="1.45" fill="#f5f0f8"/>
<rect x="1103.10" y="307.20" width="27.60" height="1.45" fill="#f6f2f9"/>
<rect x="1103.10" y="308.60" width="27.60" height="1.45" fill="#f2ecf6"/>
<rect x="1103.10" y="310.00" width="27.60" height="1.45" fill="#f0eaf5"/>
<rect x="1103.10" y="311.40" width="27.60" height="1.45" fill="#f6f2f9"/>
<rect x="1103.10" y="312.80" width="27.60" height="1.45" fill="#efe9f5"/>
<rect x="1103.10" y="314.20" width="27.60" height="1.45" fill="#f4eff8"/>
<rect x="1103.10" y="315.60" width="27.60" height="1.45" fill="#f5f1f8"/>
<rect x="1103.10" y="317.00" width="27.60" height="1.45" fill="#ece5f3"/>
<rect x="1103.10" y="318.40" width="27.60" height="1.45" fill="#f1ebf5"/>
<rect x="1103.10" y="319.80" width="27.60" height="1.45" fill="#ede6f3"/>
<rect x="1103.10" y="321.20" width="27.60" height="1.45" fill="#f1ebf5"/>
<rect x="1103.10" y="322.60" width="27.60" height="1.45" fill="#f5f1f8"/>
<rect x="1103.10" y="324.00" width="27.60" height="0.25" fill="#f4eff7"/>
<rect x="1130.70" y="294.60" width="27.50" height="1.45" fill="#6270be"/>
<rect x="1130.70" y="296.00" width="27.50" height="1.45" fill="#5f6fbd"/>
<rect x="1130.70" y="297.40" width="27.50" height="1.45" fill="#5e6fbd"/>
<rect x="1130.70" y="298.80" width="27.50" height="1.45" fill="#5e6fbd"/>
<rect x="1130.70" y="300.20" width="27.50" height="1.45" fill="#5f6fbd"/>
<rect x="1130.70" y="301.60" width="27.50" height="1.45" fill="#6470be"/>
<rect x="1130.70" y="303.00" width="27.50" height="1.45" fill="#6270be"/>
<rect x="1130.70" y="304.40" width="27.50" height="1.45" fill="#6270be"/>
<rect x="1130.70" y="305.80" width="27.50" height="0.69" fill="#616fbe"/>
<rect x="1130.70" y="306.44" width="27.50" height="1.45" fill="#b4a6d5"/>
<rect x="1130.70" y="307.84" width="27.50" height="1.45" fill="#afa1d3"/>
<rect x="1130.70" y="309.24" width="27.50" height="1.45" fill="#b0a2d4"/>
<rect x="1130.70" y="310.64" width="27.50" height="1.45" fill="#b7a9d7"/>
<rect x="1130.70" y="312.04" width="27.50" height="1.45" fill="#aa9cd1"/>
<rect x="1130.70" y="313.44" width="27.50" height="0.45" fill="#aea0d3"/>
<rect x="1130.70" y="313.84" width="27.50" height="1.45" fill="#c8bbe1"/>
<rect x="1130.70" y="315.24" width="27.50" height="1.45" fill="#c9bce1"/>
<rect x="1130.70" y="316.64" width="27.50" height="1.45" fill="#c9bce1"/>
<rect x="1130.70" y="318.04" width="27.50" height="1.45" fill="#c6b8df"/>
<rect x="1130.70" y="319.44" width="27.50" height="1.45" fill="#cec1e3"/>
<rect x="1130.70" y="320.84" width="27.50" height="1.45" fill="#cec1e3"/>
<rect x="1130.70" y="322.24" width="27.50" height="1.45" fill="#d3c7e6"/>
<rect x="1130.70" y="323.64" width="27.50" height="0.61" fill="#cabde1"/>
<rect x="1158.20" y="294.60" width="26.60" height="1.45" fill="#e2d9ee"/>
<rect x="1158.20" y="296.00" width="26.60" height="1.45" fill="#e2d9ee"/>
<rect x="1158.20" y="297.40" width="26.60" height="1.45" fill="#ded4eb"/>
<rect x="1158.20" y="298.80" width="26.60" height="1.45" fill="#e7dff0"/>
<rect x="1158.20" y="300.20" width="26.60" height="1.45" fill="#e6def0"/>
<rect x="1158.20" y="301.60" width="26.60" height="1.45" fill="#e1d7ed"/>
<rect x="1158.20" y="303.00" width="26.60" height="1.45" fill="#e0d6ed"/>
<rect x="1158.20" y="304.40" width="26.60" height="1.45" fill="#e3dbef"/>
<rect x="1158.20" y="305.80" width="26.60" height="0.69" fill="#e8e0f1"/>
<rect x="1158.20" y="306.44" width="26.60" height="1.45" fill="#f9f6fb"/>
<rect x="1158.20" y="307.84" width="26.60" height="1.45" fill="#f4eff8"/>
<rect x="1158.20" y="309.24" width="26.60" height="1.45" fill="#f7f4fa"/>
<rect x="1158.20" y="310.64" width="26.60" height="1.45" fill="#f8f5fa"/>
<rect x="1158.20" y="312.04" width="26.60" height="1.45" fill="#f9f6fb"/>
<rect x="1158.20" y="313.44" width="26.60" height="0.45" fill="#f6f2f9"/>
<rect x="1158.20" y="313.84" width="26.60" height="1.45" fill="#ede7f4"/>
<rect x="1158.20" y="315.24" width="26.60" height="1.45" fill="#ece5f3"/>
<rect x="1158.20" y="316.64" width="26.60" height="1.45" fill="#eae3f2"/>
<rect x="1158.20" y="318.04" width="26.60" height="1.45" fill="#ebe5f3"/>
<rect x="1158.20" y="319.44" width="26.60" height="1.45" fill="#f0e9f5"/>
<rect x="1158.20" y="320.84" width="26.60" height="1.45" fill="#f1ebf6"/>
<rect x="1158.20" y="322.24" width="26.60" height="1.45" fill="#ebe4f3"/>
<rect x="1158.20" y="323.64" width="26.60" height="0.61" fill="#ebe4f3"/>
<rect x="1075.60" y="324.20" width="27.50" height="1.45" fill="#9485c7"/>
<rect x="1075.60" y="325.60" width="27.50" height="1.45" fill="#a091cc"/>
<rect x="1075.60" y="327.00" width="27.50" height="1.45" fill="#9586c7"/>
<rect x="1075.60" y="328.40" width="27.50" height="1.45" fill="#9485c7"/>
<rect x="1075.60" y="329.80" width="27.50" height="0.65" fill="#a293cd"/>
<rect x="1103.10" y="324.20" width="27.60" height="1.45" fill="#f0eaf5"/>
<rect x="1103.10" y="325.60" width="27.60" height="1.45" fill="#ede6f3"/>
<rect x="1103.10" y="327.00" width="27.60" height="1.45" fill="#f2edf6"/>
<rect x="1103.10" y="328.40" width="27.60" height="1.45" fill="#ebe3f2"/>
<rect x="1103.10" y="329.80" width="27.60" height="0.65" fill="#f1ebf5"/>
<rect x="1130.70" y="324.20" width="27.50" height="1.45" fill="#e4dbef"/>
<rect x="1130.70" y="325.60" width="27.50" height="1.45" fill="#e8e1f1"/>
<rect x="1130.70" y="327.00" width="27.50" height="1.45" fill="#e9e2f2"/>
<rect x="1130.70" y="328.40" width="27.50" height="1.45" fill="#e9e2f2"/>
<rect x="1130.70" y="329.80" width="27.50" height="0.65" fill="#e6def0"/>
<rect x="1158.20" y="324.20" width="26.60" height="1.45" fill="#6670be"/>
<rect x="1158.20" y="325.60" width="26.60" height="1.45" fill="#6c6ebf"/>
<rect x="1158.20" y="327.00" width="26.60" height="1.45" fill="#6670be"/>
<rect x="1158.20" y="328.40" width="26.60" height="1.45" fill="#6b6fbf"/>
<rect x="1158.20" y="329.80" width="26.60" height="0.65" fill="#676fbe"/>
<rect x="1075.60" y="330.40" width="27.50" height="1.45" fill="#e2d9ee"/>
<rect x="1075.60" y="331.80" width="27.50" height="1.45" fill="#e4dbef"/>
<rect x="1075.60" y="333.20" width="27.50" height="1.45" fill="#e4dcef"/>
<rect x="1075.60" y="334.60" width="27.50" height="1.45" fill="#e5ddf0"/>
<rect x="1075.60" y="336.00" width="27.50" height="1.45" fill="#ded4ec"/>
<rect x="1075.60" y="337.40" width="27.50" height="1.45" fill="#e1d8ee"/>
<rect x="1075.60" y="338.80" width="27.50" height="1.45" fill="#e5dcef"/>
<rect x="1075.60" y="340.20" width="27.50" height="0.45" fill="#dcd2eb"/>
<rect x="1103.10" y="330.40" width="27.60" height="1.45" fill="#8879c2"/>
<rect x="1103.10" y="331.80" width="27.60" height="1.45" fill="#9283c6"/>
<rect x="1103.10" y="333.20" width="27.60" height="1.45" fill="#8678c2"/>
<rect x="1103.10" y="334.60" width="27.60" height="1.45" fill="#8879c2"/>
<rect x="1103.10" y="336.00" width="27.60" height="1.45" fill="#8b7cc3"/>
<rect x="1103.10" y="337.40" width="27.60" height="1.45" fill="#8a7bc3"/>
<rect x="1103.10" y="338.80" width="27.60" height="1.45" fill="#8376c1"/>
<rect x="1103.10" y="340.20" width="27.60" height="0.45" fill="#8c7dc4"/>
<rect x="1130.70" y="330.40" width="27.50" height="1.45" fill="#9485c7"/>
<rect x="1130.70" y="331.80" width="27.50" height="1.45" fill="#9485c7"/>
<rect x="1130.70" y="333.20" width="27.50" height="1.45" fill="#998ac9"/>
<rect x="1130.70" y="334.60" width="27.50" height="1.45" fill="#998ac9"/>
<rect x="1130.70" y="336.00" width="27.50" height="1.45" fill="#9283c6"/>
<rect x="1130.70" y="337.40" width="27.50" height="1.45" fill="#9485c7"/>
<rect x="1130.70" y="338.80" width="27.50" height="1.45" fill="#9788c8"/>
<rect x="1130.70" y="340.20" width="27.50" height="0.45" fill="#9687c8"/>
<rect x="1158.20" y="330.40" width="26.60" height="1.45" fill="#cbbee2"/>
<rect x="1158.20" y="331.80" width="26.60" height="1.45" fill="#c3b5de"/>
<rect x="1158.20" y="333.20" width="26.60" height="1.45" fill="#cec1e3"/>
<rect x="1158.20" y="334.60" width="26.60" height="1.45" fill="#c5b7df"/>
<rect x="1158.20" y="336.00" width="26.60" height="1.45" fill="#c8bae0"/>
<rect x="1158.20" y="337.40" width="26.60" height="1.45" fill="#cbbee2"/>
<rect x="1158.20" y="338.80" width="26.60" height="1.45" fill="#c6b8df"/>
<rect x="1158.20" y="340.20" width="26.60" height="0.45" fill="#c6b8df"/>
<rect x="1075.60" y="340.60" width="27.50" height="1.45" fill="#f3eef7"/>
<rect x="1075.60" y="342.00" width="27.50" height="1.45" fill="#eee8f4"/>
<rect x="1075.60" y="343.40" width="27.50" height="1.45" fill="#f2ecf6"/>
<rect x="1075.60" y="344.80" width="27.50" height="1.45" fill="#ebe4f2"/>
<rect x="1075.60" y="346.20" width="27.50" height="1.45" fill="#f0eaf5"/>
<rect x="1075.60" y="347.60" width="27.50" height="1.45" fill="#f0eaf5"/>
<rect x="1075.60" y="349.00" width="27.50" height="1.45" fill="#f1ecf6"/>
<rect x="1075.60" y="350.40" width="27.50" height="1.45" fill="#f3eef7"/>
<rect x="1075.60" y="351.80" width="27.50" height="1.45" fill="#f2ecf6"/>
<rect x="1075.60" y="353.20" width="27.50" height="1.45" fill="#f2edf6"/>
<rect x="1075.60" y="354.60" width="27.50" height="0.49" fill="#ede6f3"/>
<rect x="1075.60" y="355.04" width="27.50" height="1.45" fill="#d8cde8"/>
<rect x="1075.60" y="356.44" width="27.50" height="1.45" fill="#dfd6ec"/>
<rect x="1075.60" y="357.84" width="27.50" height="1.45" fill="#e1d7ed"/>
<rect x="1075.60" y="359.24" width="27.50" height="1.45" fill="#dcd1ea"/>
<rect x="1075.60" y="360.64" width="27.50" height="1.45" fill="#e1d7ed"/>
<rect x="1075.60" y="362.04" width="27.50" height="1.45" fill="#ddd3eb"/>
<rect x="1075.60" y="363.44" width="27.50" height="1.45" fill="#d9cee9"/>
<rect x="1075.60" y="364.84" width="27.50" height="1.45" fill="#e0d6ed"/>
<rect x="1075.60" y="366.24" width="27.50" height="1.45" fill="#dacfe9"/>
<rect x="1075.60" y="367.64" width="27.50" height="1.45" fill="#dcd1ea"/>
<rect x="1075.60" y="369.04" width="27.50" height="0.49" fill="#e1d8ed"/>
<rect x="1075.60" y="369.48" width="27.50" height="1.45" fill="#ede6f3"/>
<rect x="1075.60" y="370.88" width="27.50" height="1.45" fill="#e9e2f2"/>
<rect x="1075.60" y="372.28" width="27.50" height="1.45" fill="#eee8f4"/>
<rect x="1075.60" y="373.68" width="27.50" height="1.45" fill="#ede7f4"/>
<rect x="1075.60" y="375.08" width="27.50" height="1.45" fill="#e9e2f2"/>
<rect x="1075.60" y="376.48" width="27.50" height="0.27" fill="#e7dff0"/>
<rect x="1103.10" y="340.60" width="27.60" height="1.45" fill="#5e6fbd"/>
<rect x="1103.10" y="342.00" width="27.60" height="1.45" fill="#5c6ebd"/>
<rect x="1103.10" y="343.40" width="27.60" height="1.45" fill="#6470be"/>
<rect x="1103.10" y="344.80" width="27.60" height="1.45" fill="#606fbe"/>
<rect x="1103.10" y="346.20" width="27.60" height="1.45" fill="#606fbe"/>
<rect x="1103.10" y="347.60" width="27.60" height="1.45" fill="#5a6ebd"/>
<rect x="1103.10" y="349.00" width="27.60" height="1.45" fill="#606fbe"/>
<rect x="1103.10" y="350.40" width="27.60" height="1.45" fill="#5b6ebd"/>
<rect x="1103.10" y="351.80" width="27.60" height="1.45" fill="#6470be"/>
<rect x="1103.10" y="353.20" width="27.60" height="1.45" fill="#5e6fbd"/>
<rect x="1103.10" y="354.60" width="27.60" height="0.49" fill="#5a6ebd"/>
<rect x="1103.10" y="355.04" width="27.60" height="1.45" fill="#616fbe"/>
<rect x="1103.10" y="356.44" width="27.60" height="1.45" fill="#6370be"/>
<rect x="1103.10" y="357.84" width="27.60" height="1.45" fill="#686fbe"/>
<rect x="1103.10" y="359.24" width="27.60" height="1.45" fill="#5f6fbd"/>
<rect x="1103.10" y="360.64" width="27.60" height="1.45" fill="#696fbf"/>
<rect x="1103.10" y="362.04" width="27.60" height="1.45" fill="#5e6fbd"/>
<rect x="1103.10" y="363.44" width="27.60" height="1.45" fill="#616fbe"/>
<rect x="1103.10" y="364.84" width="27.60" height="1.45" fill="#616fbe"/>
<rect x="1103.10" y="366.24" width="27.60" height="1.45" fill="#6470be"/>
<rect x="1103.10" y="367.64" width="27.60" height="1.45" fill="#686fbe"/>
<rect x="1103.10" y="369.04" width="27.60" height="0.49" fill="#6670be"/>
<rect x="1103.10" y="369.48" width="27.60" height="1.45" fill="#ad9ed2"/>
<rect x="1103.10" y="370.88" width="27.60" height="1.45" fill="#ad9fd2"/>
<rect x="1103.10" y="372.28" width="27.60" height="1.45" fill="#b2a3d4"/>
<rect x="1103.10" y="373.68" width="27.60" height="1.45" fill="#ab9cd1"/>
<rect x="1103.10" y="375.08" width="27.60" height="1.45" fill="#b7a9d7"/>
<rect x="1103.10" y="376.48" width="27.60" height="0.27" fill="#b3a5d5"/>
<rect x="1130.70" y="340.60" width="27.50" height="1.45" fill="#fdfcfd"/>
<rect x="1130.70" y="342.00" width="27.50" height="1.45" fill="#fbf8fc"/>
<rect x="1130.70" y="343.40" width="27.50" height="1.45" fill="#f6f2f9"/>
<rect x="1130.70" y="344.80" width="27.50" height="1.45" fill="#f6f2f9"/>
<rect x="1130.70" y="346.20" width="27.50" height="1.45" fill="#fcfbfd"/>
<rect x="1130.70" y="347.60" width="27.50" height="1.45" fill="#fbf9fc"/>
<rect x="1130.70" y="349.00" width="27.50" height="1.45" fill="#fdfbfd"/>
<rect x="1130.70" y="350.40" width="27.50" height="1.45" fill="#f7f4fa"/>
<rect x="1130.70" y="351.80" width="27.50" height="1.45" fill="#f9f7fb"/>
<rect x="1130.70" y="353.20" width="27.50" height="1.45" fill="#fcfafc"/>
<rect x="1130.70" y="354.60" width="27.50" height="0.49" fill="#faf8fb"/>
<rect x="1130.70" y="355.04" width="27.50" height="1.45" fill="#c2b4dd"/>
<rect x="1130.70" y="356.44" width="27.50" height="1.45" fill="#c8bbe1"/>
<rect x="1130.70" y="357.84" width="27.50" height="1.45" fill="#c5b7df"/>
<rect x="1130.70" y="359.24" width="27.50" height="1.45" fill="#c5b7df"/>
<rect x="1130.70" y="360.64" width="27.50" height="1.45" fill="#c8bae0"/>
<rect x="1130.70" y="362.04" width="27.50" height="1.45" fill="#c6b9e0"/>
<rect x="1130.70" y="363.44" width="27.50" height="1.45" fill="#c9bce1"/>
<rect x="1130.70" y="364.84" width="27.50" height="1.45" fill="#cbbee2"/>
<rect x="1130.70" y="366.24" width="27.50" height="1.45" fill="#c7bae0"/>
<rect x="1130.70" y="367.64" width="27.50" height="1.45" fill="#cabde1"/>
<rect x="1130.70" y="369.04" width="27.50" height="0.49" fill="#cabce1"/>
<rect x="1130.70" y="369.48" width="27.50" height="1.45" fill="#f7f3f9"/>
<rect x="1130.70" y="370.88" width="27.50" height="1.45" fill="#efe9f5"/>
<rect x="1130.70" y="372.28" width="27.50" height="1.45" fill="#f4f0f8"/>
<rect x="1130.70" y="373.68" width="27.50" height="1.45" fill="#f7f3f9"/>
<rect x="1130.70" y="375.08" width="27.50" height="1.45" fill="#f8f5fa"/>
<rect x="1130.70" y="376.48" width="27.50" height="0.27" fill="#f7f3f9"/>
<rect x="1158.20" y="340.60" width="26.60" height="1.45" fill="#5d6ebd"/>
<rect x="1158.20" y="342.00" width="26.60" height="1.45" fill="#6370be"/>
<rect x="1158.20" y="343.40" width="26.60" height="1.45" fill="#5f6fbd"/>
<rect x="1158.20" y="344.80" width="26.60" height="1.45" fill="#6470be"/>
<rect x="1158.20" y="346.20" width="26.60" height="1.45" fill="#5f6fbd"/>
<rect x="1158.20" y="347.60" width="26.60" height="1.45" fill="#626fbe"/>
<rect x="1158.20" y="349.00" width="26.60" height="1.45" fill="#5e6fbd"/>
<rect x="1158.20" y="350.40" width="26.60" height="1.45" fill="#616fbe"/>
<rect x="1158.20" y="351.80" width="26.60" height="1.45" fill="#6270be"/>
<rect x="1158.20" y="353.20" width="26.60" height="1.45" fill="#6470be"/>
<rect x="1158.20" y="354.60" width="26.60" height="1.45" fill="#606fbe"/>
<rect x="1158.20" y="356.00" width="26.60" height="1.45" fill="#5d6ebd"/>
<rect x="1158.20" y="357.40" width="26.60" height="1.45" fill="#5f6fbd"/>
<rect x="1158.20" y="358.80" width="26.60" height="1.45" fill="#616fbe"/>
<rect x="1158.20" y="360.20" width="26.60" height="1.45" fill="#6370be"/>
<rect x="1158.20" y="361.60" width="26.60" height="1.45" fill="#5c6ebd"/>
<rect x="1158.20" y="363.00" width="26.60" height="1.45" fill="#5d6ebd"/>
<rect x="1158.20" y="364.40" width="26.60" height="1.45" fill="#6570be"/>
<rect x="1158.20" y="365.80" width="26.60" height="1.45" fill="#5f6fbd"/>
<rect x="1158.20" y="367.20" width="26.60" height="1.45" fill="#5e6fbd"/>
<rect x="1158.20" y="368.60" width="26.60" height="0.93" fill="#5f6fbd"/>
<rect x="1158.20" y="369.48" width="26.60" height="1.45" fill="#8f80c5"/>
<rect x="1158.20" y="370.88" width="26.60" height="1.45" fill="#9081c6"/>
<rect x="1158.20" y="372.28" width="26.60" height="1.45" fill="#9b8cca"/>
<rect x="1158.20" y="373.68" width="26.60" height="1.45" fill="#8e7fc5"/>
<rect x="1158.20" y="375.08" width="26.60" height="1.45" fill="#998ac9"/>
<rect x="1158.20" y="376.48" width="26.60" height="0.27" fill="#9889c9"/>
<rect x="1075.60" y="376.70" width="27.50" height="1.45" fill="#e9e2f2"/>
<rect x="1075.60" y="378.10" width="27.50" height="1.45" fill="#f2ecf6"/>
<rect x="1075.60" y="379.50" width="27.50" height="1.45" fill="#efe9f5"/>
<rect x="1075.60" y="380.90" width="27.50" height="1.45" fill="#ede6f3"/>
<rect x="1075.60" y="382.30" width="27.50" height="1.45" fill="#f1ebf5"/>
<rect x="1075.60" y="383.70" width="27.50" height="0.15" fill="#f1ebf5"/>
<rect x="1103.10" y="376.70" width="27.60" height="1.45" fill="#eee7f4"/>
<rect x="1103.10" y="378.10" width="27.60" height="1.45" fill="#f0eaf5"/>
<rect x="1103.10" y="379.50" width="27.60" height="0.09" fill="#eee8f4"/>
<rect x="1103.10" y="379.54" width="27.60" height="1.45" fill="#f7f4fa"/>
<rect x="1103.10" y="380.94" width="27.60" height="1.45" fill="#f6f2f9"/>
<rect x="1103.10" y="382.34" width="27.60" height="1.45" fill="#f6f2f9"/>
<rect x="1103.10" y="383.74" width="27.60" height="0.11" fill="#f7f3f9"/>
<rect x="1130.70" y="376.70" width="27.50" height="1.45" fill="#6e6ebf"/>
<rect x="1130.70" y="378.10" width="27.50" height="1.45" fill="#7670c0"/>
<rect x="1130.70" y="379.50" width="27.50" height="1.45" fill="#736fbf"/>
<rect x="1130.70" y="380.90" width="27.50" height="1.45" fill="#7670c0"/>
<rect x="1130.70" y="382.30" width="27.50" height="1.45" fill="#6e6ebf"/>
<rect x="1130.70" y="383.70" width="27.50" height="0.15" fill="#7370bf"/>
<rect x="1158.20" y="376.70" width="26.60" height="1.45" fill="#7771c0"/>
<rect x="1158.20" y="378.10" width="26.60" height="1.45" fill="#7370bf"/>
<rect x="1158.20" y="379.50" width="26.60" height="1.45" fill="#7971c0"/>
<rect x="1158.20" y="380.90" width="26.60" height="1.45" fill="#7c73c0"/>
<rect x="1158.20" y="382.30" width="26.60" height="1.45" fill="#7871c0"/>
<rect x="1158.20" y="383.70" width="26.60" height="0.15" fill="#7c72c0"/>
<rect x="1075.60" y="383.80" width="27.50" height="1.45" fill="#e6def0"/>
<rect x="1075.60" y="385.20" width="27.50" height="1.45" fill="#e5ddef"/>
<rect x="1075.60" y="386.60" width="27.50" height="1.45" fill="#e1d8ed"/>
<rect x="1075.60" y="388.00" width="27.50" height="1.45" fill="#ddd3eb"/>
<rect x="1075.60" y="389.40" width="27.50" height="1.45" fill="#e5ddf0"/>
<rect x="1075.60" y="390.80" width="27.50" height="1.45" fill="#dfd5ec"/>
<rect x="1075.60" y="392.20" width="27.50" height="1.45" fill="#e5dcef"/>
<rect x="1075.60" y="393.60" width="27.50" height="1.45" fill="#e0d7ed"/>
<rect x="1075.60" y="395.00" width="27.50" height="1.45" fill="#e3daee"/>
<rect x="1075.60" y="396.40" width="27.50" height="1.33" fill="#e1d8ed"/>
<rect x="1075.60" y="397.68" width="27.50" height="1.45" fill="#9788c8"/>
<rect x="1075.60" y="399.08" width="27.50" height="1.45" fill="#9c8dca"/>
<rect x="1075.60" y="400.48" width="27.50" height="1.45" fill="#9d8ecb"/>
<rect x="1075.60" y="401.88" width="27.50" height="1.45" fill="#9788c8"/>
<rect x="1075.60" y="403.28" width="27.50" height="1.45" fill="#a192cc"/>
<rect x="1075.60" y="404.68" width="27.50" height="1.45" fill="#9d8ecb"/>
<rect x="1075.60" y="406.08" width="27.50" height="1.45" fill="#9788c8"/>
<rect x="1075.60" y="407.48" width="27.50" height="1.45" fill="#9586c8"/>
<rect x="1075.60" y="408.88" width="27.50" height="1.45" fill="#9384c7"/>
<rect x="1075.60" y="410.28" width="27.50" height="1.45" fill="#9f90cc"/>
<rect x="1075.60" y="411.68" width="27.50" height="1.45" fill="#998ac9"/>
<rect x="1075.60" y="413.08" width="27.50" height="1.45" fill="#9e8fcb"/>
<rect x="1075.60" y="414.48" width="27.50" height="1.45" fill="#9788c8"/>
<rect x="1075.60" y="415.88" width="27.50" height="1.45" fill="#9586c8"/>
<rect x="1075.60" y="417.28" width="27.50" height="1.27" fill="#a192cc"/>
<rect x="1103.10" y="383.80" width="27.60" height="1.45" fill="#6370be"/>
<rect x="1103.10" y="385.20" width="27.60" height="1.45" fill="#5c6ebd"/>
<rect x="1103.10" y="386.60" width="27.60" height="1.45" fill="#6370be"/>
<rect x="1103.10" y="388.00" width="27.60" height="1.45" fill="#5f6fbd"/>
<rect x="1103.10" y="389.40" width="27.60" height="1.45" fill="#5d6ebd"/>
<rect x="1103.10" y="390.80" width="27.60" height="1.45" fill="#6470be"/>
<rect x="1103.10" y="392.20" width="27.60" height="1.45" fill="#5e6fbd"/>
<rect x="1103.10" y="393.60" width="27.60" height="1.45" fill="#676fbe"/>
<rect x="1103.10" y="395.00" width="27.60" height="1.45" fill="#6370be"/>
<rect x="1103.10" y="396.40" width="27.60" height="1.45" fill="#6570be"/>
<rect x="1103.10" y="397.80" width="27.60" height="1.45" fill="#6370be"/>
<rect x="1103.10" y="399.20" width="27.60" height="1.45" fill="#6470be"/>
<rect x="1103.10" y="400.60" width="27.60" height="1.45" fill="#676fbe"/>
<rect x="1103.10" y="402.00" width="27.60" height="1.45" fill="#5d6fbd"/>
<rect x="1103.10" y="403.40" width="27.60" height="1.45" fill="#6570be"/>
<rect x="1103.10" y="404.80" width="27.60" height="1.45" fill="#606fbe"/>
<rect x="1103.10" y="406.20" width="27.60" height="1.45" fill="#606fbe"/>
<rect x="1103.10" y="407.60" width="27.60" height="1.45" fill="#5d6ebd"/>
<rect x="1103.10" y="409.00" width="27.60" height="1.45" fill="#5d6ebd"/>
<rect x="1103.10" y="410.40" width="27.60" height="1.45" fill="#606fbe"/>
<rect x="1103.10" y="411.80" width="27.60" height="1.45" fill="#6570be"/>
<rect x="1103.10" y="413.20" width="27.60" height="1.45" fill="#5e6fbd"/>
<rect x="1103.10" y="414.60" width="27.60" height="1.45" fill="#6670be"/>
<rect x="1103.10" y="416.00" width="27.60" height="1.45" fill="#5c6ebd"/>
<rect x="1103.10" y="417.40" width="27.60" height="1.15" fill="#6370be"/>
<rect x="1130.70" y="383.80" width="27.50" height="1.45" fill="#676fbe"/>
<rect x="1130.70" y="385.20" width="27.50" height="1.45" fill="#686fbe"/>
<rect x="1130.70" y="386.60" width="27.50" height="1.45" fill="#6570be"/>
<rect x="1130.70" y="388.00" width="27.50" height="1.45" fill="#606fbe"/>
<rect x="1130.70" y="389.40" width="27.50" height="1.45" fill="#606fbe"/>
<rect x="1130.70" y="390.80" width="27.50" height="1.45" fill="#616fbe"/>
<rect x="1130.70" y="392.20" width="27.50" height="1.45" fill="#616fbe"/>
<rect x="1130.70" y="393.60" width="27.50" height="1.45" fill="#676fbe"/>
<rect x="1130.70" y="395.00" width="27.50" height="1.45" fill="#6670be"/>
<rect x="1130.70" y="396.40" width="27.50" height="1.45" fill="#6670be"/>
<rect x="1130.70" y="397.80" width="27.50" height="1.45" fill="#6570be"/>
<rect x="1130.70" y="399.20" width="27.50" height="1.45" fill="#5f6fbd"/>
<rect x="1130.70" y="400.60" width="27.50" height="1.45" fill="#5e6fbd"/>
<rect x="1130.70" y="402.00" width="27.50" height="1.45" fill="#696fbf"/>
<rect x="1130.70" y="403.40" width="27.50" height="1.45" fill="#5e6fbd"/>
<rect x="1130.70" y="404.80" width="27.50" height="1.45" fill="#5f6fbd"/>
<rect x="1130.70" y="406.20" width="27.50" height="1.45" fill="#6470be"/>
<rect x="1130.70" y="407.60" width="27.50" height="1.45" fill="#626fbe"/>
<rect x="1130.70" y="409.00" width="27.50" height="1.45" fill="#616fbe"/>
<rect x="1130.70" y="410.40" width="27.50" height="1.45" fill="#686fbe"/>
<rect x="1130.70" y="411.80" width="27.50" height="1.45" fill="#6370be"/>
<rect x="1130.70" y="413.20" width="27.50" height="1.45" fill="#5e6fbd"/>
<rect x="1130.70" y="414.60" width="27.50" height="1.45" fill="#5f6fbd"/>
<rect x="1130.70" y="416.00" width="27.50" height="1.45" fill="#5f6fbd"/>
<rect x="1130.70" y="417.40" width="27.50" height="1.15" fill="#696fbf"/>
<rect x="1158.20" y="383.80" width="26.60" height="1.45" fill="#5e6fbd"/>
<rect x="1158.20" y="385.20" width="26.60" height="1.45" fill="#616fbe"/>
<rect x="1158.20" y="386.60" width="26.60" height="1.45" fill="#5c6ebd"/>
<rect x="1158.20" y="388.00" width="26.60" height="1.45" fill="#6570be"/>
<rect x="1158.20" y="389.40" width="26.60" height="1.45" fill="#606fbe"/>
<rect x="1158.20" y="390.80" width="26.60" height="1.45" fill="#6670be"/>
<rect x="1158.20" y="392.20" width="26.60" height="1.45" fill="#5d6fbd"/>
<rect x="1158.20" y="393.60" width="26.60" height="1.45" fill="#5e6fbd"/>
<rect x="1158.20" y="395.00" width="26.60" height="1.45" fill="#676fbe"/>
<rect x="1158.20" y="396.40" width="26.60" height="1.45" fill="#6370be"/>
<rect x="1158.20" y="397.80" width="26.60" height="1.45" fill="#6570be"/>
<rect x="1158.20" y="399.20" width="26.60" height="1.45" fill="#5f6fbd"/>
<rect x="1158.20" y="400.60" width="26.60" height="1.45" fill="#5f6fbd"/>
<rect x="1158.20" y="402.00" width="26.60" height="1.45" fill="#6670be"/>
<rect x="1158.20" y="403.40" width="26.60" height="1.45" fill="#5c6ebd"/>
<rect x="1158.20" y="404.80" width="26.60" height="1.45" fill="#5b6ebd"/>
<rect x="1158.20" y="406.20" width="26.60" height="1.45" fill="#626fbe"/>
<rect x="1158.20" y="407.60" width="26.60" height="1.45" fill="#606fbe"/>
<rect x="1158.20" y="409.00" width="26.60" height="1.45" fill="#6370be"/>
<rect x="1158.20" y="410.40" width="26.60" height="1.45" fill="#606fbe"/>
<rect x="1158.20" y="411.80" width="26.60" height="1.45" fill="#6270be"/>
<rect x="1158.20" y="413.20" width="26.60" height="1.45" fill="#626fbe"/>
<rect x="1158.20" y="414.60" width="26.60" height="1.45" fill="#5e6fbd"/>
<rect x="1158.20" y="416.00" width="26.60" height="1.45" fill="#6570be"/>
<rect x="1158.20" y="417.40" width="26.60" height="1.15" fill="#6370be"/>
<rect x="1075.60" y="418.50" width="27.50" height="1.45" fill="#6a6fbf"/>
<rect x="1075.60" y="419.90" width="27.50" height="1.45" fill="#726fbf"/>
<rect x="1075.60" y="421.30" width="27.50" height="1.45" fill="#7570c0"/>
<rect x="1075.60" y="422.70" width="27.50" height="1.45" fill="#686fbe"/>
<rect x="1075.60" y="424.10" width="27.50" height="1.45" fill="#7370bf"/>
<rect x="1075.60" y="425.50" width="27.50" height="1.45" fill="#6f6ebf"/>
<rect x="1075.60" y="426.90" width="27.50" height="1.45" fill="#716fbf"/>
<rect x="1075.60" y="428.30" width="27.50" height="1.45" fill="#726fbf"/>
<rect x="1075.60" y="429.70" width="27.50" height="1.45" fill="#706fbf"/>
<rect x="1075.60" y="431.10" width="27.50" height="1.45" fill="#6d6ebf"/>
<rect x="1075.60" y="432.50" width="27.50" height="1.45" fill="#7470bf"/>
<rect x="1075.60" y="433.90" width="27.50" height="1.45" fill="#6d6ebf"/>
<rect x="1075.60" y="435.30" width="27.50" height="1.45" fill="#7570c0"/>
<rect x="1075.60" y="436.70" width="27.50" height="1.45" fill="#7570c0"/>
<rect x="1075.60" y="438.10" width="27.50" height="1.45" fill="#736fbf"/>
<rect x="1075.60" y="439.50" width="27.50" height="1.45" fill="#726fbf"/>
<rect x="1075.60" y="440.90" width="27.50" height="1.45" fill="#706fbf"/>
<rect x="1075.60" y="442.30" width="27.50" height="1.45" fill="#716fbf"/>
<rect x="1075.60" y="443.70" width="27.50" height="1.45" fill="#696fbf"/>
<rect x="1075.60" y="445.10" width="27.50" height="1.45" fill="#6c6ebf"/>
<rect x="1075.60" y="446.50" width="27.50" height="1.45" fill="#6e6ebf"/>
<rect x="1075.60" y="447.90" width="27.50" height="1.40" fill="#6a6fbf"/>
<rect x="1075.60" y="449.25" width="27.50" height="1.45" fill="#8d7ec4"/>
<rect x="1075.60" y="450.64" width="27.50" height="1.45" fill="#9384c7"/>
<rect x="1075.60" y="452.04" width="27.50" height="1.45" fill="#8e7fc5"/>
<rect x="1075.60" y="453.44" width="27.50" height="1.45" fill="#8c7dc4"/>
<rect x="1075.60" y="454.84" width="27.50" height="1.45" fill="#9081c5"/>
<rect x="1075.60" y="456.24" width="27.50" height="1.45" fill="#8c7dc4"/>
<rect x="1075.60" y="457.64" width="27.50" height="1.45" fill="#8e7fc5"/>
<rect x="1075.60" y="459.04" width="27.50" height="1.45" fill="#897ac3"/>
<rect x="1075.60" y="460.44" width="27.50" height="1.45" fill="#9485c7"/>
<rect x="1075.60" y="461.84" width="27.50" height="1.45" fill="#8d7ec4"/>
<rect x="1075.60" y="463.24" width="27.50" height="1.45" fill="#8879c2"/>
<rect x="1075.60" y="464.64" width="27.50" height="1.21" fill="#9081c5"/>
<rect x="1103.10" y="418.50" width="27.60" height="1.45" fill="#ede6f3"/>
<rect x="1103.10" y="419.90" width="27.60" height="1.45" fill="#f5f1f8"/>
<rect x="1103.10" y="421.30" width="27.60" height="1.45" fill="#eee8f4"/>
<rect x="1103.10" y="422.70" width="27.60" height="1.45" fill="#f3eff7"/>
<rect x="1103.10" y="424.10" width="27.60" height="1.45" fill="#eee8f4"/>
<rect x="1103.10" y="425.50" width="27.60" height="1.45" fill="#f2ecf6"/>
<rect x="1103.10" y="426.90" width="27.60" height="0.16" fill="#f0ebf5"/>
<rect x="1103.10" y="427.01" width="27.60" height="1.45" fill="#b4a6d5"/>
<rect x="1103.10" y="428.41" width="27.60" height="1.45" fill="#b4a6d5"/>
<rect x="1103.10" y="429.81" width="27.60" height="1.45" fill="#aa9bd0"/>
<rect x="1103.10" y="431.21" width="27.60" height="1.45" fill="#ad9fd2"/>
<rect x="1103.10" y="432.61" width="27.60" height="1.45" fill="#ae9fd2"/>
<rect x="1103.10" y="434.01" width="27.60" height="1.45" fill="#b6a8d7"/>
<rect x="1103.10" y="435.41" width="27.60" height="1.45" fill="#b3a5d5"/>
<rect x="1103.10" y="436.81" width="27.60" height="1.45" fill="#a899cf"/>
<rect x="1103.10" y="438.21" width="27.60" height="1.45" fill="#b5a7d6"/>
<rect x="1103.10" y="439.61" width="27.60" height="1.45" fill="#afa1d3"/>
<rect x="1103.10" y="441.01" width="27.60" height="1.45" fill="#ac9ed2"/>
<rect x="1103.10" y="442.41" width="27.60" height="1.45" fill="#b0a1d3"/>
<rect x="1103.10" y="443.81" width="27.60" height="1.45" fill="#afa0d3"/>
<rect x="1103.10" y="445.21" width="27.60" height="1.45" fill="#a899cf"/>
<rect x="1103.10" y="446.61" width="27.60" height="1.45" fill="#ab9cd1"/>
<rect x="1103.10" y="448.01" width="27.60" height="1.28" fill="#b4a6d6"/>
<rect x="1103.10" y="449.25" width="27.60" height="1.45" fill="#c5b7df"/>
<rect x="1103.10" y="450.64" width="27.60" height="1.45" fill="#c5b7df"/>
<rect x="1103.10" y="452.04" width="27.60" height="1.45" fill="#c1b3dd"/>
<rect x="1103.10" y="453.44" width="27.60" height="1.45" fill="#c1b3dd"/>
<rect x="1103.10" y="454.84" width="27.60" height="1.45" fill="#c7b9e0"/>
<rect x="1103.10" y="456.24" width="27.60" height="1.45" fill="#c1b3dd"/>
<rect x="1103.10" y="457.64" width="27.60" height="1.45" fill="#c5b7df"/>
<rect x="1103.10" y="459.04" width="27.60" height="1.45" fill="#cabde2"/>
<rect x="1103.10" y="460.44" width="27.60" height="1.45" fill="#c7b9e0"/>
<rect x="1103.10" y="461.84" width="27.60" height="1.45" fill="#c5b7df"/>
<rect x="1103.10" y="463.24" width="27.60" height="1.45" fill="#c8bae0"/>
<rect x="1103.10" y="464.64" width="27.60" height="1.21" fill="#c1b3dd"/>
<rect x="1130.70" y="418.50" width="27.50" height="1.45" fill="#596ebd"/>
<rect x="1130.70" y="419.90" width="27.50" height="1.45" fill="#5a6ebd"/>
<rect x="1130.70" y="421.30" width="27.50" height="1.45" fill="#5c6ebd"/>
<rect x="1130.70" y="422.70" width="27.50" height="1.45" fill="#5a6ebd"/>
<rect x="1130.70" y="424.10" width="27.50" height="1.45" fill="#5e6fbd"/>
<rect x="1130.70" y="425.50" width="27.50" height="1.45" fill="#5d6ebd"/>
<rect x="1130.70" y="426.90" width="27.50" height="1.45" fill="#5a6ebd"/>
<rect x="1130.70" y="428.30" width="27.50" height="1.45" fill="#6370be"/>
<rect x="1130.70" y="429.70" width="27.50" height="1.45" fill="#606fbe"/>
<rect x="1130.70" y="431.10" width="27.50" height="1.45" fill="#5f6fbd"/>
<rect x="1130.70" y="432.50" width="27.50" height="1.45" fill="#606fbe"/>
<rect x="1130.70" y="433.90" width="27.50" height="1.45" fill="#5f6fbd"/>
<rect x="1130.70" y="435.30" width="27.50" height="1.45" fill="#6370be"/>
<rect x="1130.70" y="436.70" width="27.50" height="1.45" fill="#5c6ebd"/>
<rect x="1130.70" y="438.10" width="27.50" height="1.45" fill="#596ebd"/>
<rect x="1130.70" y="439.50" width="27.50" height="1.45" fill="#616fbe"/>
<rect x="1130.70" y="440.90" width="27.50" height="1.45" fill="#626fbe"/>
<rect x="1130.70" y="442.30" width="27.50" height="1.45" fill="#606fbe"/>
<rect x="1130.70" y="443.70" width="27.50" height="1.45" fill="#5b6ebd"/>
<rect x="1130.70" y="445.10" width="27.50" height="1.45" fill="#616fbe"/>
<rect x="1130.70" y="446.50" width="27.50" height="1.45" fill="#5b6ebd"/>
<rect x="1130.70" y="447.90" width="27.50" height="1.40" fill="#6270be"/>
<rect x="1130.70" y="449.25" width="27.50" height="1.45" fill="#8577c1"/>
<rect x="1130.70" y="450.64" width="27.50" height="1.45" fill="#8276c1"/>
<rect x="1130.70" y="452.04" width="27.50" height="1.45" fill="#8376c1"/>
<rect x="1130.70" y="453.44" width="27.50" height="1.45" fill="#8d7ec4"/>
<rect x="1130.70" y="454.84" width="27.50" height="1.45" fill="#7f74c1"/>
<rect x="1130.70" y="456.24" width="27.50" height="1.45" fill="#8075c1"/>
<rect x="1130.70" y="457.64" width="27.50" height="1.45" fill="#8678c2"/>
<rect x="1130.70" y="459.04" width="27.50" height="1.45" fill="#8075c1"/>
<rect x="1130.70" y="460.44" width="27.50" height="1.45" fill="#8477c1"/>
<rect x="1130.70" y="461.84" width="27.50" height="1.45" fill="#8b7cc3"/>
<rect x="1130.70" y="463.24" width="27.50" height="1.45" fill="#8879c2"/>
<rect x="1130.70" y="464.64" width="27.50" height="1.21" fill="#8175c1"/>
<rect x="1158.20" y="418.50" width="26.60" height="1.45" fill="#6470be"/>
<rect x="1158.20" y="419.90" width="26.60" height="1.45" fill="#6a6fbf"/>
<rect x="1158.20" y="421.30" width="26.60" height="1.45" fill="#686fbe"/>
<rect x="1158.20" y="422.70" width="26.60" height="1.45" fill="#686fbe"/>
<rect x="1158.20" y="424.10" width="26.60" height="1.45" fill="#6370be"/>
<rect x="1158.20" y="425.50" width="26.60" height="1.45" fill="#6270be"/>
<rect x="1158.20" y="426.90" width="26.60" height="0.16" fill="#6570be"/>
<rect x="1158.20" y="427.01" width="26.60" height="1.45" fill="#8477c1"/>
<rect x="1158.20" y="428.41" width="26.60" height="1.45" fill="#7b72c0"/>
<rect x="1158.20" y="429.81" width="26.60" height="1.45" fill="#8577c1"/>
<rect x="1158.20" y="431.21" width="26.60" height="1.45" fill="#7f74c1"/>
<rect x="1158.20" y="432.61" width="26.60" height="1.45" fill="#8778c2"/>
<rect x="1158.20" y="434.01" width="26.60" height="1.45" fill="#8276c1"/>
<rect x="1158.20" y="435.41" width="26.60" height="1.45" fill="#8779c2"/>
<rect x="1158.20" y="436.81" width="26.60" height="1.45" fill="#8879c2"/>
<rect x="1158.20" y="438.21" width="26.60" height="1.45" fill="#8577c1"/>
<rect x="1158.20" y="439.61" width="26.60" height="1.45" fill="#8879c2"/>
<rect x="1158.20" y="441.01" width="26.60" height="1.45" fill="#8477c1"/>
<rect x="1158.20" y="442.41" width="26.60" height="1.45" fill="#8074c1"/>
<rect x="1158.20" y="443.81" width="26.60" height="1.45" fill="#8175c1"/>
<rect x="1158.20" y="445.21" width="26.60" height="1.45" fill="#7d73c0"/>
<rect x="1158.20" y="446.61" width="26.60" height="1.45" fill="#8276c1"/>
<rect x="1158.20" y="448.01" width="26.60" height="1.28" fill="#897ac2"/>
<rect x="1158.20" y="449.25" width="26.60" height="1.45" fill="#a192cd"/>
<rect x="1158.20" y="450.64" width="26.60" height="1.45" fill="#a798cf"/>
<rect x="1158.20" y="452.04" width="26.60" height="1.45" fill="#a192cc"/>
<rect x="1158.20" y="453.44" width="26.60" height="1.45" fill="#9d8ecb"/>
<rect x="1158.20" y="454.84" width="26.60" height="1.45" fill="#a596ce"/>
<rect x="1158.20" y="456.24" width="26.60" height="1.45" fill="#a99bd0"/>
<rect x="1158.20" y="457.64" width="26.60" height="1.45" fill="#a899cf"/>
<rect x="1158.20" y="459.04" width="26.60" height="1.45" fill="#a596ce"/>
<rect x="1158.20" y="460.44" width="26.60" height="1.45" fill="#a899d0"/>
<rect x="1158.20" y="461.84" width="26.60" height="1.45" fill="#ac9dd1"/>
<rect x="1158.20" y="463.24" width="26.60" height="1.45" fill="#a798cf"/>
<rect x="1158.20" y="464.64" width="26.60" height="1.21" fill="#a394cd"/>
<rect x="1075.60" y="465.80" width="27.50" height="1.45" fill="#6d6ebf"/>
<rect x="1075.60" y="467.20" width="27.50" height="1.45" fill="#6e6ebf"/>
<rect x="1075.60" y="468.60" width="27.50" height="1.45" fill="#6c6ebf"/>
<rect x="1075.60" y="470.00" width="27.50" height="1.45" fill="#6d6ebf"/>
<rect x="1075.60" y="471.40" width="27.50" height="1.45" fill="#7370bf"/>
<rect x="1075.60" y="472.80" width="27.50" height="1.45" fill="#6f6ebf"/>
<rect x="1075.60" y="474.20" width="27.50" height="1.45" fill="#7971c0"/>
<rect x="1075.60" y="475.60" width="27.50" height="1.45" fill="#6d6ebf"/>
<rect x="1075.60" y="477.00" width="27.50" height="1.45" fill="#6e6ebf"/>
<rect x="1075.60" y="478.40" width="27.50" height="1.45" fill="#7670c0"/>
<rect x="1075.60" y="479.80" width="27.50" height="1.45" fill="#726fbf"/>
<rect x="1075.60" y="481.20" width="27.50" height="1.45" fill="#7670c0"/>
<rect x="1075.60" y="482.60" width="27.50" height="1.45" fill="#6d6ebf"/>
<rect x="1075.60" y="484.00" width="27.50" height="1.45" fill="#7370bf"/>
<rect x="1075.60" y="485.40" width="27.50" height="1.45" fill="#6d6ebf"/>
<rect x="1075.60" y="486.80" width="27.50" height="1.45" fill="#6b6fbf"/>
<rect x="1075.60" y="488.20" width="27.50" height="1.45" fill="#6d6ebf"/>
<rect x="1075.60" y="489.60" width="27.50" height="1.45" fill="#7470bf"/>
<rect x="1075.60" y="491.00" width="27.50" height="1.45" fill="#7470bf"/>
<rect x="1075.60" y="492.40" width="27.50" height="1.45" fill="#6b6fbf"/>
<rect x="1075.60" y="493.80" width="27.50" height="1.45" fill="#6c6ebf"/>
<rect x="1075.60" y="495.20" width="27.50" height="1.45" fill="#7771c0"/>
<rect x="1075.60" y="496.60" width="27.50" height="1.45" fill="#7470bf"/>
<rect x="1075.60" y="498.00" width="27.50" height="1.25" fill="#6d6ebf"/>
<rect x="1103.10" y="465.80" width="27.60" height="1.45" fill="#5e6fbd"/>
<rect x="1103.10" y="467.20" width="27.60" height="1.45" fill="#6470be"/>
<rect x="1103.10" y="468.60" width="27.60" height="1.45" fill="#626fbe"/>
<rect x="1103.10" y="470.00" width="27.60" height="1.45" fill="#5b6ebd"/>
<rect x="1103.10" y="471.40" width="27.60" height="1.45" fill="#6670be"/>
<rect x="1103.10" y="472.80" width="27.60" height="1.45" fill="#6470be"/>
<rect x="1103.10" y="474.20" width="27.60" height="1.45" fill="#5f6fbd"/>
<rect x="1103.10" y="475.60" width="27.60" height="1.45" fill="#5c6ebd"/>
<rect x="1103.10" y="477.00" width="27.60" height="1.45" fill="#5c6ebd"/>
<rect x="1103.10" y="478.40" width="27.60" height="1.45" fill="#616fbe"/>
<rect x="1103.10" y="479.80" width="27.60" height="1.45" fill="#5d6fbd"/>
<rect x="1103.10" y="481.20" width="27.60" height="1.45" fill="#5b6ebd"/>
<rect x="1103.10" y="482.60" width="27.60" height="1.45" fill="#6370be"/>
<rect x="1103.10" y="484.00" width="27.60" height="1.45" fill="#6470be"/>
<rect x="1103.10" y="485.40" width="27.60" height="1.45" fill="#6470be"/>
<rect x="1103.10" y="486.80" width="27.60" height="1.45" fill="#5e6fbd"/>
<rect x="1103.10" y="488.20" width="27.60" height="1.45" fill="#6570be"/>
<rect x="1103.10" y="489.60" width="27.60" height="1.45" fill="#606fbe"/>
<rect x="1103.10" y="491.00" width="27.60" height="1.45" fill="#5c6ebd"/>
<rect x="1103.10" y="492.40" width="27.60" height="1.45" fill="#6570be"/>
<rect x="1103.10" y="493.80" width="27.60" height="1.45" fill="#5f6fbd"/>
<rect x="1103.10" y="495.20" width="27.60" height="1.45" fill="#616fbe"/>
<rect x="1103.10" y="496.60" width="27.60" height="1.45" fill="#5b6ebd"/>
<rect x="1103.10" y="498.00" width="27.60" height="1.25" fill="#616fbe"/>
<rect x="1130.70" y="465.80" width="27.50" height="1.45" fill="#f4eff7"/>
<rect x="1130.70" y="467.20" width="27.50" height="1.45" fill="#efe9f5"/>
<rect x="1130.70" y="468.60" width="27.50" height="1.45" fill="#f1ebf6"/>
<rect x="1130.70" y="470.00" width="27.50" height="1.45" fill="#f7f4fa"/>
<rect x="1130.70" y="471.40" width="27.50" height="1.45" fill="#f0eaf5"/>
<rect x="1130.70" y="472.80" width="27.50" height="1.45" fill="#f5f0f8"/>
<rect x="1130.70" y="474.20" width="27.50" height="1.45" fill="#efe8f4"/>
<rect x="1130.70" y="475.60" width="27.50" height="1.45" fill="#efe8f4"/>
<rect x="1130.70" y="477.00" width="27.50" height="0.54" fill="#f4eff7"/>
<rect x="1130.70" y="477.49" width="27.50" height="1.45" fill="#c5b7df"/>
<rect x="1130.70" y="478.89" width="27.50" height="1.45" fill="#c8bae0"/>
<rect x="1130.70" y="480.29" width="27.50" height="1.45" fill="#c7b9e0"/>
<rect x="1130.70" y="481.69" width="27.50" height="1.45" fill="#c8bae0"/>
<rect x="1130.70" y="483.09" width="27.50" height="1.45" fill="#c8bbe1"/>
<rect x="1130.70" y="484.49" width="27.50" height="1.45" fill="#c0b2dc"/>
<rect x="1130.70" y="485.89" width="27.50" height="1.45" fill="#cabde1"/>
<rect x="1130.70" y="487.29" width="27.50" height="1.45" fill="#c2b4dd"/>
<rect x="1130.70" y="488.69" width="27.50" height="1.45" fill="#c2b4dd"/>
<rect x="1130.70" y="490.09" width="27.50" height="1.45" fill="#c0b2dc"/>
<rect x="1130.70" y="491.49" width="27.50" height="1.45" fill="#c3b5de"/>
<rect x="1130.70" y="492.89" width="27.50" height="1.45" fill="#bdafdb"/>
<rect x="1130.70" y="494.29" width="27.50" height="1.45" fill="#c7b9e0"/>
<rect x="1130.70" y="495.69" width="27.50" height="1.45" fill="#c9bce1"/>
<rect x="1130.70" y="497.09" width="27.50" height="1.45" fill="#c2b4de"/>
<rect x="1130.70" y="498.49" width="27.50" height="0.76" fill="#c7b9e0"/>
<rect x="1158.20" y="465.80" width="26.60" height="1.45" fill="#5b6ebd"/>
<rect x="1158.20" y="467.20" width="26.60" height="1.45" fill="#5c6ebd"/>
<rect x="1158.20" y="468.60" width="26.60" height="1.45" fill="#5f6fbd"/>
<rect x="1158.20" y="470.00" width="26.60" height="1.45" fill="#5d6ebd"/>
<rect x="1158.20" y="471.40" width="26.60" height="1.45" fill="#6470be"/>
<rect x="1158.20" y="472.80" width="26.60" height="1.45" fill="#616fbe"/>
<rect x="1158.20" y="474.20" width="26.60" height="1.45" fill="#6270be"/>
<rect x="1158.20" y="475.60" width="26.60" height="1.45" fill="#6370be"/>
<rect x="1158.20" y="477.00" width="26.60" height="1.45" fill="#6270be"/>
<rect x="1158.20" y="478.40" width="26.60" height="1.45" fill="#616fbe"/>
<rect x="1158.20" y="479.80" width="26.60" height="1.45" fill="#5f6fbd"/>
<rect x="1158.20" y="481.20" width="26.60" height="1.45" fill="#676fbe"/>
<rect x="1158.20" y="482.60" width="26.60" height="1.45" fill="#606fbe"/>
<rect x="1158.20" y="484.00" width="26.60" height="1.45" fill="#6670be"/>
<rect x="1158.20" y="485.40" width="26.60" height="1.45" fill="#5b6ebd"/>
<rect x="1158.20" y="486.80" width="26.60" height="1.45" fill="#606fbe"/>
<rect x="1158.20" y="488.20" width="26.60" height="1.45" fill="#606fbe"/>
<rect x="1158.20" y="489.60" width="26.60" height="1.45" fill="#6370be"/>
<rect x="1158.20" y="491.00" width="26.60" height="1.45" fill="#5f6fbd"/>
<rect x="1158.20" y="492.40" width="26.60" height="1.45" fill="#5e6fbd"/>
<rect x="1158.20" y="493.80" width="26.60" height="1.45" fill="#5c6ebd"/>
<rect x="1158.20" y="495.20" width="26.60" height="1.45" fill="#606fbe"/>
<rect x="1158.20" y="496.60" width="26.60" height="1.45" fill="#6470be"/>
<rect x="1158.20" y="498.00" width="26.60" height="1.25" fill="#5f6fbd"/>
<rect x="1075.60" y="499.20" width="27.50" height="1.45" fill="#6a6fbf"/>
<rect x="1075.60" y="500.60" width="27.50" height="1.45" fill="#616fbe"/>
<rect x="1075.60" y="502.00" width="27.50" height="1.45" fill="#6670be"/>
<rect x="1075.60" y="503.40" width="27.50" height="1.45" fill="#616fbe"/>
<rect x="1075.60" y="504.80" width="27.50" height="1.45" fill="#696fbe"/>
<rect x="1075.60" y="506.20" width="27.50" height="1.45" fill="#6370be"/>
<rect x="1075.60" y="507.60" width="27.50" height="1.45" fill="#686fbe"/>
<rect x="1075.60" y="509.00" width="27.50" height="1.45" fill="#6a6fbf"/>
<rect x="1075.60" y="510.40" width="27.50" height="1.45" fill="#676fbe"/>
<rect x="1075.60" y="511.80" width="27.50" height="1.45" fill="#606fbe"/>
<rect x="1075.60" y="513.20" width="27.50" height="1.45" fill="#6570be"/>
<rect x="1075.60" y="514.60" width="27.50" height="1.35" fill="#6470be"/>
<rect x="1103.10" y="499.20" width="27.60" height="1.45" fill="#606fbe"/>
<rect x="1103.10" y="500.60" width="27.60" height="1.45" fill="#5e6fbd"/>
<rect x="1103.10" y="502.00" width="27.60" height="1.45" fill="#676fbe"/>
<rect x="1103.10" y="503.40" width="27.60" height="1.45" fill="#626fbe"/>
<rect x="1103.10" y="504.80" width="27.60" height="1.45" fill="#616fbe"/>
<rect x="1103.10" y="506.20" width="27.60" height="1.45" fill="#606fbe"/>
<rect x="1103.10" y="507.60" width="27.60" height="1.45" fill="#6670be"/>
<rect x="1103.10" y="509.00" width="27.60" height="1.45" fill="#6470be"/>
<rect x="1103.10" y="510.40" width="27.60" height="1.45" fill="#616fbe"/>
<rect x="1103.10" y="511.80" width="27.60" height="1.45" fill="#676fbe"/>
<rect x="1103.10" y="513.20" width="27.60" height="1.45" fill="#6470be"/>
<rect x="1103.10" y="514.60" width="27.60" height="1.35" fill="#6270be"/>
<rect x="1130.70" y="499.20" width="27.50" height="1.45" fill="#5d6ebd"/>
<rect x="1130.70" y="500.60" width="27.50" height="1.45" fill="#6470be"/>
<rect x="1130.70" y="502.00" width="27.50" height="1.45" fill="#5f6fbd"/>
<rect x="1130.70" y="503.40" width="27.50" height="1.45" fill="#6470be"/>
<rect x="1130.70" y="504.80" width="27.50" height="1.45" fill="#6570be"/>
<rect x="1130.70" y="506.20" width="27.50" height="1.45" fill="#616fbe"/>
<rect x="1130.70" y="507.60" width="27.50" height="1.45" fill="#5f6fbd"/>
<rect x="1130.70" y="509.00" width="27.50" height="1.45" fill="#5f6fbd"/>
<rect x="1130.70" y="510.40" width="27.50" height="1.45" fill="#5c6ebd"/>
<rect x="1130.70" y="511.80" width="27.50" height="1.45" fill="#6570be"/>
<rect x="1130.70" y="513.20" width="27.50" height="1.45" fill="#616fbe"/>
<rect x="1130.70" y="514.60" width="27.50" height="1.35" fill="#616fbe"/>
<rect x="1158.20" y="499.20" width="26.60" height="1.45" fill="#dfd5ec"/>
<rect x="1158.20" y="500.60" width="26.60" height="1.45" fill="#d7cce8"/>
<rect x="1158.20" y="502.00" width="26.60" height="1.45" fill="#e0d7ed"/>
<rect x="1158.20" y="503.40" width="26.60" height="1.45" fill="#dfd5ec"/>
<rect x="1158.20" y="504.80" width="26.60" height="1.45" fill="#e1d8ee"/>
<rect x="1158.20" y="506.20" width="26.60" height="1.45" fill="#dad0ea"/>
<rect x="1158.20" y="507.60" width="26.60" height="1.45" fill="#dad0ea"/>
<rect x="1158.20" y="509.00" width="26.60" height="1.45" fill="#dfd6ec"/>
<rect x="1158.20" y="510.40" width="26.60" height="1.45" fill="#d7cce8"/>
<rect x="1158.20" y="511.80" width="26.60" height="1.45" fill="#dbd0ea"/>
<rect x="1158.20" y="513.20" width="26.60" height="1.45" fill="#e0d6ed"/>
<rect x="1158.20" y="514.60" width="26.60" height="1.35" fill="#d7cbe8"/>
<rect x="1075.60" y="515.90" width="27.50" height="1.45" fill="#ede6f4"/>
<rect x="1075.60" y="517.30" width="27.50" height="1.45" fill="#f3eef7"/>
<rect x="1075.60" y="518.70" width="27.50" height="1.45" fill="#ede6f3"/>
<rect x="1075.60" y="520.10" width="27.50" height="1.45" fill="#f5f0f8"/>
<rect x="1075.60" y="521.50" width="27.50" height="1.45" fill="#f2edf7"/>
<rect x="1075.60" y="522.90" width="27.50" height="1.45" fill="#f2ecf6"/>
<rect x="1075.60" y="524.30" width="27.50" height="1.45" fill="#ece5f3"/>
<rect x="1075.60" y="525.70" width="27.50" height="1.45" fill="#f3eef7"/>
<rect x="1075.60" y="527.10" width="27.50" height="1.45" fill="#f2edf6"/>
<rect x="1075.60" y="528.50" width="27.50" height="1.45" fill="#f4eff8"/>
<rect x="1075.60" y="529.90" width="27.50" height="1.45" fill="#ede7f4"/>
<rect x="1075.60" y="531.30" width="27.50" height="1.45" fill="#f4f0f8"/>
<rect x="1103.10" y="515.90" width="27.60" height="1.45" fill="#f6f3f9"/>
<rect x="1103.10" y="517.30" width="27.60" height="1.45" fill="#fcfafd"/>
<rect x="1103.10" y="518.70" width="27.60" height="1.45" fill="#faf7fb"/>
<rect x="1103.10" y="520.10" width="27.60" height="1.45" fill="#f6f2f9"/>
<rect x="1103.10" y="521.50" width="27.60" height="1.45" fill="#fdfbfd"/>
<rect x="1103.10" y="522.90" width="27.60" height="1.45" fill="#faf7fb"/>
<rect x="1103.10" y="524.30" width="27.60" height="1.45" fill="#f9f6fb"/>
<rect x="1103.10" y="525.70" width="27.60" height="1.45" fill="#f9f7fb"/>
<rect x="1103.10" y="527.10" width="27.60" height="1.45" fill="#fbf9fc"/>
<rect x="1103.10" y="528.50" width="27.60" height="1.45" fill="#f9f6fa"/>
<rect x="1103.10" y="529.90" width="27.60" height="1.45" fill="#fcfafd"/>
<rect x="1103.10" y="531.30" width="27.60" height="1.45" fill="#fefdfe"/>
<rect x="1130.70" y="515.90" width="27.50" height="1.45" fill="#fdfbfd"/>
<rect x="1130.70" y="517.30" width="27.50" height="1.45" fill="#f6f3f9"/>
<rect x="1130.70" y="518.70" width="27.50" height="1.45" fill="#f7f3f9"/>
<rect x="1130.70" y="520.10" width="27.50" height="1.45" fill="#f4f0f8"/>
<rect x="1130.70" y="521.50" width="27.50" height="1.45" fill="#fbf9fc"/>
<rect x="1130.70" y="522.90" width="27.50" height="1.45" fill="#f6f2f9"/>
<rect x="1130.70" y="524.30" width="27.50" height="1.45" fill="#f8f5fa"/>
<rect x="1130.70" y="525.70" width="27.50" height="1.45" fill="#f7f4fa"/>
<rect x="1130.70" y="527.10" width="27.50" height="1.45" fill="#f4eff8"/>
<rect x="1130.70" y="528.50" width="27.50" height="1.45" fill="#f7f4fa"/>
<rect x="1130.70" y="529.90" width="27.50" height="1.45" fill="#f8f5fa"/>
<rect x="1130.70" y="531.30" width="27.50" height="1.45" fill="#f6f2f9"/>
<rect x="1158.20" y="515.90" width="26.60" height="1.45" fill="#fcfbfd"/>
<rect x="1158.20" y="517.30" width="26.60" height="1.45" fill="#f5f1f8"/>
<rect x="1158.20" y="518.70" width="26.60" height="1.45" fill="#f9f6fb"/>
<rect x="1158.20" y="520.10" width="26.60" height="1.45" fill="#fefcfe"/>
<rect x="1158.20" y="521.50" width="26.60" height="1.45" fill="#f9f6fb"/>
<rect x="1158.20" y="522.90" width="26.60" height="1.45" fill="#f4f0f8"/>
<rect x="1158.20" y="524.30" width="26.60" height="1.45" fill="#f4eff7"/>
<rect x="1158.20" y="525.70" width="26.60" height="1.45" fill="#faf7fb"/>
<rect x="1158.20" y="527.10" width="26.60" height="1.45" fill="#fbf9fc"/>
<rect x="1158.20" y="528.50" width="26.60" height="1.45" fill="#f4f0f8"/>
<rect x="1158.20" y="529.90" width="26.60" height="1.45" fill="#fbf9fc"/>
<rect x="1158.20" y="531.30" width="26.60" height="1.45" fill="#fefdfe"/>
<rect x="1075.60" y="532.70" width="27.50" height="1.45" fill="#616fbe"/>
<rect x="1075.60" y="534.10" width="27.50" height="1.45" fill="#5e6fbd"/>
<rect x="1075.60" y="535.50" width="27.50" height="1.45" fill="#5c6ebd"/>
<rect x="1075.60" y="536.90" width="27.50" height="1.45" fill="#6370be"/>
<rect x="1075.60" y="538.30" width="27.50" height="1.45" fill="#606fbe"/>
<rect x="1075.60" y="539.70" width="27.50" height="1.45" fill="#5b6ebd"/>
<rect x="1075.60" y="541.10" width="27.50" height="1.45" fill="#606fbe"/>
<rect x="1075.60" y="542.50" width="27.50" height="1.45" fill="#6270be"/>
<rect x="1075.60" y="543.90" width="27.50" height="1.45" fill="#5b6ebd"/>
<rect x="1075.60" y="545.30" width="27.50" height="1.45" fill="#5f6fbd"/>
<rect x="1075.60" y="546.70" width="27.50" height="1.45" fill="#5c6ebd"/>
<rect x="1075.60" y="548.10" width="27.50" height="1.45" fill="#5e6fbd"/>
<rect x="1075.60" y="549.50" width="27.50" height="1.45" fill="#5a6ebd"/>
<rect x="1075.60" y="550.90" width="27.50" height="1.45" fill="#5e6fbd"/>
<rect x="1075.60" y="552.30" width="27.50" height="1.45" fill="#596ebd"/>
<rect x="1075.60" y="553.70" width="27.50" height="1.45" fill="#5a6ebd"/>
<rect x="1075.60" y="555.10" width="27.50" height="1.45" fill="#5b6ebd"/>
<rect x="1075.60" y="556.50" width="27.50" height="1.45" fill="#5e6fbd"/>
<rect x="1075.60" y="557.90" width="27.50" height="1.45" fill="#5d6ebd"/>
<rect x="1075.60" y="559.30" width="27.50" height="1.45" fill="#5f6fbd"/>
<rect x="1075.60" y="560.70" width="27.50" height="1.45" fill="#6370be"/>
<rect x="1075.60" y="562.10" width="27.50" height="1.45" fill="#5a6ebd"/>
<rect x="1075.60" y="563.50" width="27.50" height="1.45" fill="#5b6ebd"/>
<rect x="1075.60" y="564.90" width="27.50" height="1.45" fill="#5b6ebd"/>
<rect x="1075.60" y="566.30" width="27.50" height="1.45" fill="#5a6ebd"/>
<rect x="1075.60" y="567.70" width="27.50" height="1.45" fill="#5d6fbd"/>
<rect x="1075.60" y="569.10" width="27.50" height="1.45" fill="#596ebd"/>
<rect x="1075.60" y="570.50" width="27.50" height="1.45" fill="#5e6fbd"/>
<rect x="1075.60" y="571.90" width="27.50" height="1.45" fill="#596ebd"/>
<rect x="1075.60" y="573.30" width="27.50" height="1.45" fill="#6370be"/>
<rect x="1075.60" y="574.70" width="27.50" height="1.45" fill="#5f6fbd"/>
<rect x="1075.60" y="576.10" width="27.50" height="1.45" fill="#5d6ebd"/>
<rect x="1075.60" y="577.50" width="27.50" height="1.45" fill="#5a6ebd"/>
<rect x="1075.60" y="578.90" width="27.50" height="1.45" fill="#5e6fbd"/>
<rect x="1075.60" y="580.30" width="27.50" height="1.45" fill="#5b6ebd"/>
<rect x="1075.60" y="581.70" width="27.50" height="1.45" fill="#5f6fbd"/>
<rect x="1075.60" y="583.10" width="27.50" height="1.45" fill="#5c6ebd"/>
<rect x="1075.60" y="584.50" width="27.50" height="0.75" fill="#5b6ebd"/>
<rect x="1103.10" y="532.70" width="27.60" height="1.45" fill="#5d6ebd"/>
<rect x="1103.10" y="534.10" width="27.60" height="1.45" fill="#6470be"/>
<rect x="1103.10" y="535.50" width="27.60" height="1.45" fill="#5c6ebd"/>
<rect x="1103.10" y="536.90" width="27.60" height="1.45" fill="#6470be"/>
<rect x="1103.10" y="538.30" width="27.60" height="1.45" fill="#606fbe"/>
<rect x="1103.10" y="539.70" width="27.60" height="1.45" fill="#6370be"/>
<rect x="1103.10" y="541.10" width="27.60" height="1.45" fill="#5b6ebd"/>
<rect x="1103.10" y="542.50" width="27.60" height="1.45" fill="#6270be"/>
<rect x="1103.10" y="543.90" width="27.60" height="1.45" fill="#5b6ebd"/>
<rect x="1103.10" y="545.30" width="27.60" height="1.45" fill="#6370be"/>
<rect x="1103.10" y="546.70" width="27.60" height="1.45" fill="#616fbe"/>
<rect x="1103.10" y="548.10" width="27.60" height="1.45" fill="#5c6ebd"/>
<rect x="1103.10" y="549.50" width="27.60" height="1.45" fill="#5a6ebd"/>
<rect x="1103.10" y="550.90" width="27.60" height="1.45" fill="#6370be"/>
<rect x="1103.10" y="552.30" width="27.60" height="1.45" fill="#5d6ebd"/>
<rect x="1103.10" y="553.70" width="27.60" height="1.45" fill="#5f6fbd"/>
<rect x="1103.10" y="555.10" width="27.60" height="1.45" fill="#5d6ebd"/>
<rect x="1103.10" y="556.50" width="27.60" height="1.45" fill="#6370be"/>
<rect x="1103.10" y="557.90" width="27.60" height="1.45" fill="#6470be"/>
<rect x="1103.10" y="559.30" width="27.60" height="1.45" fill="#6370be"/>
<rect x="1103.10" y="560.70" width="27.60" height="1.45" fill="#5a6ebd"/>
<rect x="1103.10" y="562.10" width="27.60" height="1.45" fill="#5e6fbd"/>
<rect x="1103.10" y="563.50" width="27.60" height="1.45" fill="#5d6ebd"/>
<rect x="1103.10" y="564.90" width="27.60" height="1.45" fill="#6270be"/>
<rect x="1103.10" y="566.30" width="27.60" height="1.45" fill="#5c6ebd"/>
<rect x="1103.10" y="567.70" width="27.60" height="1.45" fill="#5a6ebd"/>
<rect x="1103.10" y="569.10" width="27.60" height="1.45" fill="#626fbe"/>
<rect x="1103.10" y="570.50" width="27.60" height="1.45" fill="#5b6ebd"/>
<rect x="1103.10" y="571.90" width="27.60" height="1.45" fill="#5a6ebd"/>
<rect x="1103.10" y="573.30" width="27.60" height="1.45" fill="#596ebd"/>
<rect x="1103.10" y="574.70" width="27.60" height="1.45" fill="#5d6ebd"/>
<rect x="1103.10" y="576.10" width="27.60" height="1.45" fill="#5c6ebd"/>
<rect x="1103.10" y="577.50" width="27.60" height="1.45" fill="#606fbe"/>
<rect x="1103.10" y="578.90" width="27.60" height="1.45" fill="#5b6ebd"/>
<rect x="1103.10" y="580.30" width="27.60" height="1.45" fill="#606fbe"/>
<rect x="1103.10" y="581.70" width="27.60" height="1.45" fill="#5d6ebd"/>
<rect x="1103.10" y="583.10" width="27.60" height="1.45" fill="#5c6ebd"/>
<rect x="1103.10" y="584.50" width="27.60" height="0.75" fill="#596ebd"/>
<rect x="1130.70" y="532.70" width="27.50" height="1.45" fill="#5e6fbd"/>
<rect x="1130.70" y="534.10" width="27.50" height="1.45" fill="#6670be"/>
<rect x="1130.70" y="535.50" width="27.50" height="1.45" fill="#6570be"/>
<rect x="1130.70" y="536.90" width="27.50" height="1.45" fill="#6370be"/>
<rect x="1130.70" y="538.30" width="27.50" height="1.45" fill="#6270be"/>
<rect x="1130.70" y="539.70" width="27.50" height="1.45" fill="#5e6fbd"/>
<rect x="1130.70" y="541.10" width="27.50" height="1.45" fill="#6470be"/>
<rect x="1130.70" y="542.50" width="27.50" height="1.45" fill="#606fbe"/>
<rect x="1130.70" y="543.90" width="27.50" height="1.45" fill="#626fbe"/>
<rect x="1130.70" y="545.30" width="27.50" height="1.45" fill="#6370be"/>
<rect x="1130.70" y="546.70" width="27.50" height="1.45" fill="#5f6fbd"/>
<rect x="1130.70" y="548.10" width="27.50" height="1.45" fill="#626fbe"/>
<rect x="1130.70" y="549.50" width="27.50" height="1.45" fill="#5b6ebd"/>
<rect x="1130.70" y="550.90" width="27.50" height="1.45" fill="#6570be"/>
<rect x="1130.70" y="552.30" width="27.50" height="1.45" fill="#5c6ebd"/>
<rect x="1130.70" y="553.70" width="27.50" height="1.45" fill="#5f6fbd"/>
<rect x="1130.70" y="555.10" width="27.50" height="1.45" fill="#616fbe"/>
<rect x="1130.70" y="556.50" width="27.50" height="1.45" fill="#6670be"/>
<rect x="1130.70" y="557.90" width="27.50" height="1.45" fill="#5f6fbd"/>
<rect x="1130.70" y="559.30" width="27.50" height="1.45" fill="#5d6fbd"/>
<rect x="1130.70" y="560.70" width="27.50" height="1.45" fill="#6370be"/>
<rect x="1130.70" y="562.10" width="27.50" height="1.45" fill="#5e6fbd"/>
<rect x="1130.70" y="563.50" width="27.50" height="1.45" fill="#616fbe"/>
<rect x="1130.70" y="564.90" width="27.50" height="1.45" fill="#6670be"/>
<rect x="1130.70" y="566.30" width="27.50" height="1.45" fill="#5d6ebd"/>
<rect x="1130.70" y="567.70" width="27.50" height="1.45" fill="#6370be"/>
<rect x="1130.70" y="569.10" width="27.50" height="1.45" fill="#616fbe"/>
<rect x="1130.70" y="570.50" width="27.50" height="1.45" fill="#5e6fbd"/>
<rect x="1130.70" y="571.90" width="27.50" height="1.45" fill="#5c6ebd"/>
<rect x="1130.70" y="573.30" width="27.50" height="1.45" fill="#5d6ebd"/>
<rect x="1130.70" y="574.70" width="27.50" height="1.45" fill="#6370be"/>
<rect x="1130.70" y="576.10" width="27.50" height="1.45" fill="#5d6ebd"/>
<rect x="1130.70" y="577.50" width="27.50" height="1.45" fill="#6570be"/>
<rect x="1130.70" y="578.90" width="27.50" height="1.45" fill="#606fbe"/>
<rect x="1130.70" y="580.30" width="27.50" height="1.45" fill="#6270be"/>
<rect x="1130.70" y="581.70" width="27.50" height="1.45" fill="#5d6ebd"/>
<rect x="1130.70" y="583.10" width="27.50" height="1.45" fill="#5e6fbd"/>
<rect x="1130.70" y="584.50" width="27.50" height="0.75" fill="#5f6fbd"/>
<rect x="1158.20" y="532.70" width="26.60" height="1.45" fill="#5d6fbd"/>
<rect x="1158.20" y="534.10" width="26.60" height="1.45" fill="#6370be"/>
<rect x="1158.20" y="535.50" width="26.60" height="1.45" fill="#626fbe"/>
<rect x="1158.20" y="536.90" width="26.60" height="1.45" fill="#6670be"/>
<rect x="1158.20" y="538.30" width="26.60" height="1.45" fill="#6370be"/>
<rect x="1158.20" y="539.70" width="26.60" height="1.45" fill="#6570be"/>
<rect x="1158.20" y="541.10" width="26.60" height="1.45" fill="#5e6fbd"/>
<rect x="1158.20" y="542.50" width="26.60" height="1.45" fill="#6570be"/>
<rect x="1158.20" y="543.90" width="26.60" height="1.45" fill="#5c6ebd"/>
<rect x="1158.20" y="545.30" width="26.60" height="1.45" fill="#606fbe"/>
<rect x="1158.20" y="546.70" width="26.60" height="1.45" fill="#626fbe"/>
<rect x="1158.20" y="548.10" width="26.60" height="1.45" fill="#6670be"/>
<rect x="1158.20" y="549.50" width="26.60" height="1.45" fill="#626fbe"/>
<rect x="1158.20" y="550.90" width="26.60" height="1.45" fill="#606fbe"/>
<rect x="1158.20" y="552.30" width="26.60" height="1.45" fill="#6570be"/>
<rect x="1158.20" y="553.70" width="26.60" height="1.45" fill="#5b6ebd"/>
<rect x="1158.20" y="555.10" width="26.60" height="1.45" fill="#6370be"/>
<rect x="1158.20" y="556.50" width="26.60" height="1.45" fill="#626fbe"/>
<rect x="1158.20" y="557.90" width="26.60" height="1.45" fill="#6470be"/>
<rect x="1158.20" y="559.30" width="26.60" height="1.45" fill="#6270be"/>
<rect x="1158.20" y="560.70" width="26.60" height="1.45" fill="#6470be"/>
<rect x="1158.20" y="562.10" width="26.60" height="1.45" fill="#5d6ebd"/>
<rect x="1158.20" y="563.50" width="26.60" height="1.45" fill="#6670be"/>
<rect x="1158.20" y="564.90" width="26.60" height="1.45" fill="#6370be"/>
<rect x="1158.20" y="566.30" width="26.60" height="1.45" fill="#606fbe"/>
<rect x="1158.20" y="567.70" width="26.60" height="1.45" fill="#616fbe"/>
<rect x="1158.20" y="569.10" width="26.60" height="1.45" fill="#6370be"/>
<rect x="1158.20" y="570.50" width="26.60" height="1.45" fill="#616fbe"/>
<rect x="1158.20" y="571.90" width="26.60" height="1.45" fill="#6670be"/>
<rect x="1158.20" y="573.30" width="26.60" height="1.45" fill="#6370be"/>
<rect x="1158.20" y="574.70" width="26.60" height="1.45" fill="#626fbe"/>
<rect x="1158.20" y="576.10" width="26.60" height="1.45" fill="#5e6fbd"/>
<rect x="1158.20" y="577.50" width="26.60" height="1.45" fill="#6270be"/>
<rect x="1158.20" y="578.90" width="26.60" height="1.45" fill="#6270be"/>
<rect x="1158.20" y="580.30" width="26.60" height="1.45" fill="#5f6fbd"/>
<rect x="1158.20" y="581.70" width="26.60" height="1.45" fill="#6470be"/>
<rect x="1158.20" y="583.10" width="26.60" height="1.45" fill="#606fbe"/>
<rect x="1158.20" y="584.50" width="26.60" height="0.75" fill="#6570be"/>
</g>
<rect x="1185.20" y="172.00" width="7.50" height="38.40" fill="#acacac"/>
<rect x="1192.90" y="172.00" width="113.10" height="38.40" fill="#eeeeee"/>
<text x="1195.3" y="194.6" font-size="8.0" text-anchor="start" font-weight="normal" fill="#231f20" stroke="#231f20" stroke-width="0.3">XI-predominant (532)</text>
<rect x="1185.20" y="210.40" width="7.50" height="34.80" fill="#eeeeee"/>
<rect x="1192.90" y="210.40" width="113.10" height="34.80" fill="#b2b2b2"/>
<text x="1195.3" y="231.2" font-size="8.0" text-anchor="start" font-weight="normal" fill="#231f20" stroke="#231f20" stroke-width="0.3">GJ-predominant (477)</text>
<rect x="1185.20" y="245.20" width="7.50" height="21.40" fill="#acacac"/>
<rect x="1192.90" y="245.20" width="113.10" height="21.40" fill="#eeeeee"/>
<text x="1195.3" y="259.3" font-size="8.0" text-anchor="start" font-weight="normal" fill="#231f20" stroke="#231f20" stroke-width="0.3">cA-predominant (297)</text>
<rect x="1185.20" y="266.60" width="7.50" height="10.90" fill="#eeeeee"/>
<rect x="1192.90" y="266.60" width="113.10" height="10.90" fill="#b2b2b2"/>
<text x="1195.3" y="275.4" font-size="8.0" text-anchor="start" font-weight="normal" fill="#231f20" stroke="#231f20" stroke-width="0.3">cB-predominant (155)</text>
<rect x="1185.20" y="277.50" width="7.50" height="17.10" fill="#acacac"/>
<rect x="1192.90" y="277.50" width="113.10" height="17.10" fill="#eeeeee"/>
<text x="1195.3" y="289.4" font-size="8.0" text-anchor="start" font-weight="normal" fill="#231f20" stroke="#231f20" stroke-width="0.3">XI/GJ-predominant (231)</text>
<rect x="1185.20" y="294.60" width="7.50" height="29.60" fill="#eeeeee"/>
<rect x="1192.90" y="294.60" width="113.10" height="29.60" fill="#b2b2b2"/>
<text x="1195.3" y="312.8" font-size="8.0" text-anchor="start" font-weight="normal" fill="#231f20" stroke="#231f20" stroke-width="0.3">XI/cA-predominant (411)</text>
<rect x="1185.20" y="324.20" width="7.50" height="6.20" fill="#acacac"/>
<rect x="1192.90" y="324.20" width="113.10" height="6.20" fill="#eeeeee"/>
<text x="1195.3" y="330.7" font-size="8.0" text-anchor="start" font-weight="normal" fill="#231f20" stroke="#231f20" stroke-width="0.3">XI/cB-predominant (83)</text>
<rect x="1185.20" y="330.40" width="7.50" height="10.20" fill="#eeeeee"/>
<rect x="1192.90" y="330.40" width="113.10" height="10.20" fill="#b2b2b2"/>
<text x="1195.3" y="338.9" font-size="8.0" text-anchor="start" font-weight="normal" fill="#231f20" stroke="#231f20" stroke-width="0.3">GJ/cA-predominant (143)</text>
<rect x="1185.20" y="340.60" width="7.50" height="36.10" fill="#acacac"/>
<rect x="1192.90" y="340.60" width="113.10" height="36.10" fill="#eeeeee"/>
<text x="1195.3" y="362.0" font-size="8.0" text-anchor="start" font-weight="normal" fill="#231f20" stroke="#231f20" stroke-width="0.3">GJ/cB-predominant (517)</text>
<rect x="1185.20" y="376.70" width="7.50" height="7.10" fill="#eeeeee"/>
<rect x="1192.90" y="376.70" width="113.10" height="7.10" fill="#b2b2b2"/>
<text x="1195.3" y="383.6" font-size="8.0" text-anchor="start" font-weight="normal" fill="#231f20" stroke="#231f20" stroke-width="0.3">cA/cB-predominant (86)</text>
<rect x="1185.20" y="383.80" width="7.50" height="34.70" fill="#acacac"/>
<rect x="1192.90" y="383.80" width="113.10" height="34.70" fill="#eeeeee"/>
<text x="1195.3" y="404.5" font-size="8.0" text-anchor="start" font-weight="normal" fill="#231f20" stroke="#231f20" stroke-width="0.3">XI-deficient (489)</text>
<rect x="1185.20" y="418.50" width="7.50" height="47.30" fill="#eeeeee"/>
<rect x="1192.90" y="418.50" width="113.10" height="47.30" fill="#b2b2b2"/>
<text x="1195.3" y="445.5" font-size="8.0" text-anchor="start" font-weight="normal" fill="#231f20" stroke="#231f20" stroke-width="0.3">GJ-deficient (653)</text>
<rect x="1185.20" y="465.80" width="7.50" height="33.40" fill="#acacac"/>
<rect x="1192.90" y="465.80" width="113.10" height="33.40" fill="#eeeeee"/>
<text x="1195.3" y="485.9" font-size="8.0" text-anchor="start" font-weight="normal" fill="#231f20" stroke="#231f20" stroke-width="0.3">cA-deficient (453)</text>
<rect x="1185.20" y="499.20" width="7.50" height="16.70" fill="#eeeeee"/>
<rect x="1192.90" y="499.20" width="113.10" height="16.70" fill="#b2b2b2"/>
<text x="1195.3" y="510.9" font-size="8.0" text-anchor="start" font-weight="normal" fill="#231f20" stroke="#231f20" stroke-width="0.3">cB-deficient (239)</text>
<rect x="1185.20" y="515.90" width="7.50" height="16.80" fill="#acacac"/>
<rect x="1192.90" y="515.90" width="113.10" height="16.80" fill="#eeeeee"/>
<text x="1195.3" y="527.7" font-size="8.0" text-anchor="start" font-weight="normal" fill="#231f20" stroke="#231f20" stroke-width="0.3">Low-frequent (250)</text>
<rect x="1185.20" y="532.70" width="7.50" height="52.50" fill="#eeeeee"/>
<rect x="1192.90" y="532.70" width="113.10" height="52.50" fill="#b2b2b2"/>
<text x="1195.3" y="562.4" font-size="8.0" text-anchor="start" font-weight="normal" fill="#231f20" stroke="#231f20" stroke-width="0.3">High-frequent (717)</text>
<text x="1088.4" y="594.6" font-size="9.2" text-anchor="middle" font-weight="normal" fill="#231f20" stroke="#231f20" stroke-width="0.3">XI</text>
<text x="1116.4" y="594.6" font-size="9.2" text-anchor="middle" font-weight="normal" fill="#231f20" stroke="#231f20" stroke-width="0.3">GJ</text>
<text x="1143.6" y="594.6" font-size="9.2" text-anchor="middle" font-weight="normal" fill="#231f20" stroke="#231f20" stroke-width="0.3">cA</text>
<text x="1170.8" y="594.6" font-size="9.2" text-anchor="middle" font-weight="normal" fill="#231f20" stroke="#231f20" stroke-width="0.3">cB</text>
<text x="1131.0" y="608.7" font-size="9.2" text-anchor="middle" font-weight="normal" fill="#231f20" stroke="#231f20" stroke-width="0.3">Presence frequency</text>
<rect x="1181.80" y="601.20" width="6.30" height="10.50" fill="#f6f0f8" shape-rendering="crispEdges"/>
<rect x="1188.00" y="601.20" width="6.30" height="10.50" fill="#e8e2ee" shape-rendering="crispEdges"/>
<rect x="1194.20" y="601.20" width="6.30" height="10.50" fill="#e0d4ec" shape-rendering="crispEdges"/>
<rect x="1200.40" y="601.20" width="6.30" height="10.50" fill="#d6c8e4" shape-rendering="crispEdges"/>
<rect x="1206.60" y="601.20" width="6.30" height="10.50" fill="#cbbbe0" shape-rendering="crispEdges"/>
<rect x="1212.80" y="601.20" width="6.30" height="10.50" fill="#c0b0da" shape-rendering="crispEdges"/>
<rect x="1219.00" y="601.20" width="6.30" height="10.50" fill="#b8a6d4" shape-rendering="crispEdges"/>
<rect x="1225.20" y="601.20" width="6.30" height="10.50" fill="#aa9ace" shape-rendering="crispEdges"/>
<rect x="1231.40" y="601.20" width="6.30" height="10.50" fill="#9e8ec8" shape-rendering="crispEdges"/>
<rect x="1237.60" y="601.20" width="6.30" height="10.50" fill="#8c7fc0" shape-rendering="crispEdges"/>
<rect x="1243.80" y="601.20" width="6.30" height="10.50" fill="#8274b9" shape-rendering="crispEdges"/>
<rect x="1250.00" y="601.20" width="6.30" height="10.50" fill="#7868b2" shape-rendering="crispEdges"/>
<rect x="1256.20" y="601.20" width="6.30" height="10.50" fill="#6e5eaa" shape-rendering="crispEdges"/>
<rect x="1262.40" y="601.20" width="6.30" height="10.50" fill="#6252a4" shape-rendering="crispEdges"/>
<rect x="1268.60" y="601.20" width="6.30" height="10.50" fill="#4f4a9e" shape-rendering="crispEdges"/>
<rect x="1274.80" y="601.20" width="6.30" height="10.50" fill="#44469c" shape-rendering="crispEdges"/>
<rect x="1281.00" y="601.20" width="6.30" height="10.50" fill="#3b479c" shape-rendering="crispEdges"/>
<rect x="1287.20" y="601.20" width="6.30" height="10.50" fill="#33469a" shape-rendering="crispEdges"/>
<line x1="1207.40" y1="601.20" x2="1207.40" y2="603.20" stroke="#fff" stroke-width="0.8"/>
<line x1="1207.40" y1="609.70" x2="1207.40" y2="611.70" stroke="#fff" stroke-width="0.8"/>
<line x1="1235.30" y1="601.20" x2="1235.30" y2="603.20" stroke="#fff" stroke-width="0.8"/>
<line x1="1235.30" y1="609.70" x2="1235.30" y2="611.70" stroke="#fff" stroke-width="0.8"/>
<line x1="1263.30" y1="601.20" x2="1263.30" y2="603.20" stroke="#fff" stroke-width="0.8"/>
<line x1="1263.30" y1="609.70" x2="1263.30" y2="611.70" stroke="#fff" stroke-width="0.8"/>
<line x1="1291.20" y1="601.20" x2="1291.20" y2="603.20" stroke="#fff" stroke-width="0.8"/>
<line x1="1291.20" y1="609.70" x2="1291.20" y2="611.70" stroke="#fff" stroke-width="0.8"/>
<text x="1186.3" y="621.3" font-size="9.2" text-anchor="middle" font-weight="normal" fill="#231f20" stroke="#231f20" stroke-width="0.3">0</text>
<text x="1205.5" y="621.3" font-size="9.2" text-anchor="middle" font-weight="normal" fill="#231f20" stroke="#231f20" stroke-width="0.3">0.25</text>
<text x="1231.4" y="621.3" font-size="9.2" text-anchor="middle" font-weight="normal" fill="#231f20" stroke="#231f20" stroke-width="0.3">0.50</text>
<text x="1262.8" y="621.3" font-size="9.2" text-anchor="middle" font-weight="normal" fill="#231f20" stroke="#231f20" stroke-width="0.3">0.75</text>
<text x="1289.0" y="621.3" font-size="9.2" text-anchor="middle" font-weight="normal" fill="#231f20" stroke="#231f20" stroke-width="0.3">1</text>
</svg>
</body></html>
